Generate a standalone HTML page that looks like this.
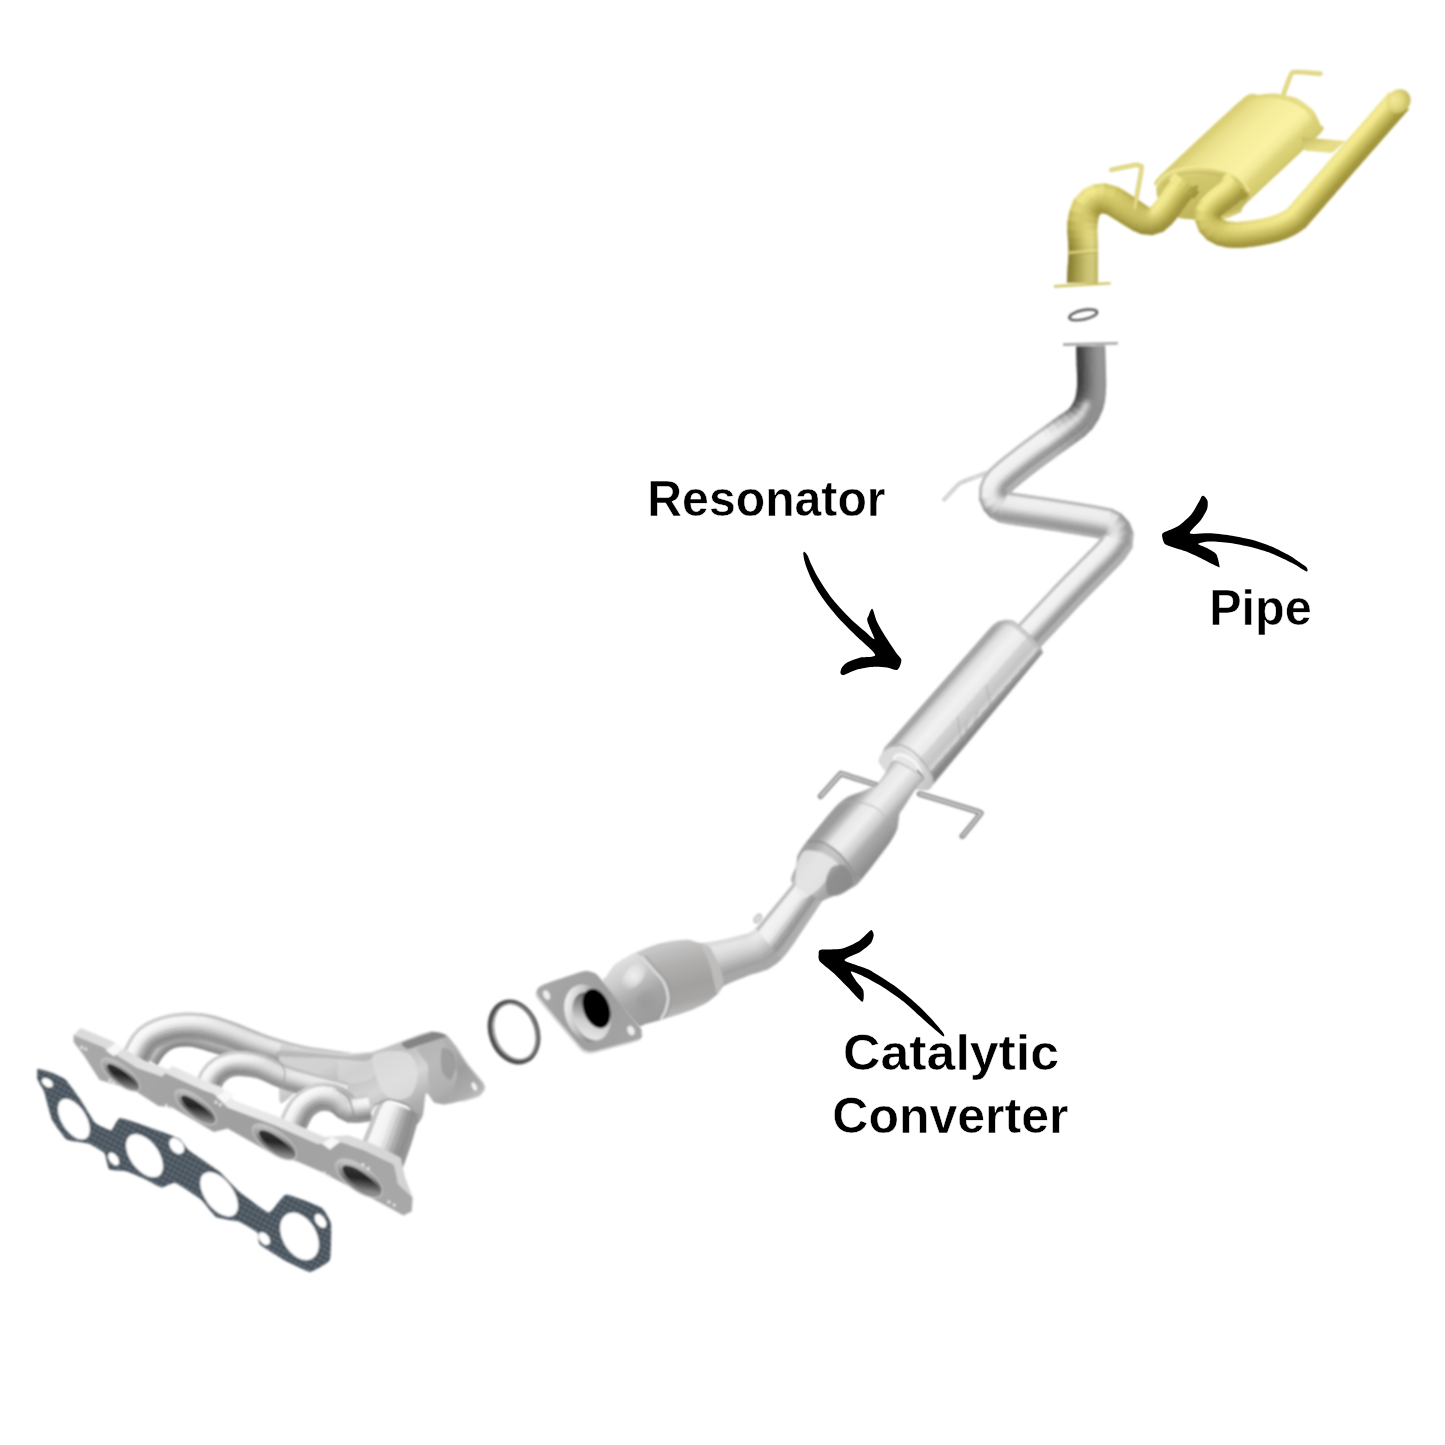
<!DOCTYPE html>
<html><head><meta charset="utf-8"><title>Exhaust system diagram</title>
<style>
html,body{margin:0;padding:0;background:#fff;}
body{width:1445px;height:1445px;overflow:hidden;font-family:"Liberation Sans",sans-serif;}
svg{display:block;}
text{font-family:"Liberation Sans",sans-serif;font-weight:bold;fill:#000;}
</style></head><body>
<svg width="1445" height="1445" viewBox="0 0 1445 1445">
<defs>
<filter id="soft" x="-5%" y="-5%" width="110%" height="110%"><feGaussianBlur stdDeviation="0.8"/></filter>
<filter id="soft2" x="-30%" y="-30%" width="160%" height="160%"><feGaussianBlur stdDeviation="2"/></filter>
<linearGradient id="g1" gradientUnits="userSpaceOnUse" x1="440" y1="1040" x2="480" y2="1100"><stop offset="0" stop-color="#b6b6b6"/><stop offset="0.5" stop-color="#9e9e9e"/><stop offset="0.8" stop-color="#acacac"/><stop offset="1" stop-color="#c4c4c4"/></linearGradient>
<linearGradient id="g2" gradientUnits="userSpaceOnUse" x1="380" y1="1040" x2="420" y2="1120"><stop offset="0" stop-color="#d2d2d2"/><stop offset="0.2" stop-color="#bebebe"/><stop offset="0.5" stop-color="#d6d6d6"/><stop offset="0.8" stop-color="#b0b0b0"/><stop offset="1" stop-color="#a2a2a2"/></linearGradient>
<linearGradient id="g3" gradientUnits="userSpaceOnUse" x1="60" y1="1030" x2="400" y2="1200"><stop offset="0" stop-color="#d8d8d8"/><stop offset="0.5" stop-color="#ebebeb"/><stop offset="1" stop-color="#d2d2d2"/></linearGradient>
<linearGradient id="g4" gradientUnits="userSpaceOnUse" x1="70" y1="1040" x2="400" y2="1210"><stop offset="0" stop-color="#aaaaaa"/><stop offset="0.5" stop-color="#a0a0a0"/><stop offset="1" stop-color="#a8a8a8"/></linearGradient>
<linearGradient id="g5" gradientUnits="userSpaceOnUse" x1="114.6" y1="1062.8" x2="125.6" y2="1086.8"><stop offset="0" stop-color="#c4c4c4"/><stop offset="0.3" stop-color="#a0a0a0"/><stop offset="0.6" stop-color="#6a6a6a"/><stop offset="1" stop-color="#8a8a8a"/></linearGradient>
<linearGradient id="g6" gradientUnits="userSpaceOnUse" x1="114.6" y1="1064.8" x2="126.6" y2="1086.8"><stop offset="0" stop-color="#3a3a3a"/><stop offset="0.5" stop-color="#242424"/><stop offset="0.8" stop-color="#5e5e5e"/><stop offset="1" stop-color="#8c8c8c"/></linearGradient>
<linearGradient id="g7" gradientUnits="userSpaceOnUse" x1="189.7" y1="1095.2" x2="200.7" y2="1119.2"><stop offset="0" stop-color="#c4c4c4"/><stop offset="0.3" stop-color="#a0a0a0"/><stop offset="0.6" stop-color="#6a6a6a"/><stop offset="1" stop-color="#8a8a8a"/></linearGradient>
<linearGradient id="g8" gradientUnits="userSpaceOnUse" x1="189.7" y1="1097.2" x2="201.7" y2="1119.2"><stop offset="0" stop-color="#3a3a3a"/><stop offset="0.5" stop-color="#242424"/><stop offset="0.8" stop-color="#5e5e5e"/><stop offset="1" stop-color="#8c8c8c"/></linearGradient>
<linearGradient id="g9" gradientUnits="userSpaceOnUse" x1="268.6" y1="1130" x2="279.6" y2="1154"><stop offset="0" stop-color="#c4c4c4"/><stop offset="0.3" stop-color="#a0a0a0"/><stop offset="0.6" stop-color="#6a6a6a"/><stop offset="1" stop-color="#8a8a8a"/></linearGradient>
<linearGradient id="g10" gradientUnits="userSpaceOnUse" x1="268.6" y1="1132" x2="280.6" y2="1154"><stop offset="0" stop-color="#3a3a3a"/><stop offset="0.5" stop-color="#242424"/><stop offset="0.8" stop-color="#5e5e5e"/><stop offset="1" stop-color="#8c8c8c"/></linearGradient>
<linearGradient id="g11" gradientUnits="userSpaceOnUse" x1="353.2" y1="1166.3" x2="364.2" y2="1190.3"><stop offset="0" stop-color="#c4c4c4"/><stop offset="0.3" stop-color="#a0a0a0"/><stop offset="0.6" stop-color="#6a6a6a"/><stop offset="1" stop-color="#8a8a8a"/></linearGradient>
<linearGradient id="g12" gradientUnits="userSpaceOnUse" x1="353.2" y1="1168.3" x2="365.2" y2="1190.3"><stop offset="0" stop-color="#3a3a3a"/><stop offset="0.5" stop-color="#242424"/><stop offset="0.8" stop-color="#5e5e5e"/><stop offset="1" stop-color="#8c8c8c"/></linearGradient>
<pattern id="gk" width="5" height="5" patternUnits="userSpaceOnUse" patternTransform="rotate(28)"><rect width="5" height="5" fill="#4a555e"/><rect width="5" height="1.8" fill="#6a767f"/><rect width="1.4" height="5" fill="#3c454d" opacity="0.8"/></pattern>
<linearGradient id="g13" gradientUnits="userSpaceOnUse" x1="1214.4" y1="129.2" x2="1269.6" y2="186.8"><stop offset="0" stop-color="#d9cf74"/><stop offset="0.1" stop-color="#e8de88"/><stop offset="0.3" stop-color="#f5ec9a"/><stop offset="0.6" stop-color="#faf2a4"/><stop offset="0.7" stop-color="#f2e996"/><stop offset="0.8" stop-color="#dcd278"/><stop offset="0.9" stop-color="#d6cc70"/><stop offset="1" stop-color="#c8bd62"/></linearGradient>
<linearGradient id="g14" gradientUnits="userSpaceOnUse" x1="1301" y1="140" x2="1305" y2="152"><stop offset="0" stop-color="#c9be64"/><stop offset="1" stop-color="#e6dc86"/></linearGradient>
<linearGradient id="g15" gradientUnits="userSpaceOnUse" x1="1195" y1="166" x2="1205" y2="222"><stop offset="0" stop-color="#e6dc86"/><stop offset="0.2" stop-color="#d2c86e"/><stop offset="0.6" stop-color="#c8bd64"/><stop offset="1" stop-color="#bcb15a"/></linearGradient>
<radialGradient id="g16" gradientUnits="userSpaceOnUse" cx="1396" cy="97" r="14"><stop offset="0" stop-color="#f3ea98"/><stop offset="0.6" stop-color="#e4da82"/><stop offset="1" stop-color="#cbc064"/></radialGradient>
<linearGradient id="g17" gradientUnits="userSpaceOnUse" x1="943.4" y1="681.8" x2="984.6" y2="718.2"><stop offset="0" stop-color="#a8a8a8"/><stop offset="0.1" stop-color="#a4a4a4"/><stop offset="0.1" stop-color="#b8b8b8"/><stop offset="0.2" stop-color="#e0e0e0"/><stop offset="0.4" stop-color="#f2f2f2"/><stop offset="0.6" stop-color="#e8e8e8"/><stop offset="0.6" stop-color="#b4b4b4"/><stop offset="0.6" stop-color="#d6d6d6"/><stop offset="0.8" stop-color="#c4c4c4"/><stop offset="0.9" stop-color="#dadada"/><stop offset="0.9" stop-color="#acacac"/><stop offset="1" stop-color="#868686"/></linearGradient>
<linearGradient id="g18" gradientUnits="userSpaceOnUse" x1="880" y1="760" x2="934" y2="790"><stop offset="0" stop-color="#d9d9d9"/><stop offset="0.5" stop-color="#e4e4e4"/><stop offset="1" stop-color="#bcbcbc"/></linearGradient>
<linearGradient id="g19" gradientUnits="userSpaceOnUse" x1="832" y1="823.5" x2="874" y2="860.5"><stop offset="0" stop-color="#9c9c9c"/><stop offset="0.1" stop-color="#bcbcbc"/><stop offset="0.2" stop-color="#e6e6e6"/><stop offset="0.4" stop-color="#f0f0f0"/><stop offset="0.6" stop-color="#cecece"/><stop offset="0.7" stop-color="#adadad"/><stop offset="0.9" stop-color="#989898"/><stop offset="1" stop-color="#8e8e8e"/></linearGradient>
<linearGradient id="g20" gradientUnits="userSpaceOnUse" x1="658.4" y1="947.3" x2="677.6" y2="1018.7"><stop offset="0" stop-color="#c8c8c8"/><stop offset="0.1" stop-color="#bebebe"/><stop offset="0.3" stop-color="#b0aeac"/><stop offset="0.6" stop-color="#a3a19f"/><stop offset="0.8" stop-color="#a8a6a4"/><stop offset="1" stop-color="#c2c2c2"/></linearGradient>
<linearGradient id="g21" gradientUnits="userSpaceOnUse" x1="625" y1="955" x2="660" y2="1020"><stop offset="0" stop-color="#e4e4e4"/><stop offset="0.3" stop-color="#cacaca"/><stop offset="0.6" stop-color="#a6a6a6"/><stop offset="1" stop-color="#9a9a9a"/></linearGradient>
<radialGradient id="g22" gradientUnits="userSpaceOnUse" cx="634" cy="976" r="16"><stop offset="0" stop-color="#f4f4f4" stop-opacity="0.9"/><stop offset="0.5" stop-color="#f0f0f0" stop-opacity="0.6"/><stop offset="1" stop-color="#f0f0f0" stop-opacity="0"/></radialGradient>
<radialGradient id="g23" gradientUnits="userSpaceOnUse" cx="646" cy="1003" r="15"><stop offset="0" stop-color="#969696" stop-opacity="0.7"/><stop offset="0.6" stop-color="#9a9a9a" stop-opacity="0.4"/><stop offset="1" stop-color="#9c9c9c" stop-opacity="0"/></radialGradient>
<linearGradient id="g24" gradientUnits="userSpaceOnUse" x1="540" y1="980" x2="640" y2="1050"><stop offset="0" stop-color="#a8a8a8"/><stop offset="0.5" stop-color="#9e9e9e"/><stop offset="1" stop-color="#a6a6a6"/></linearGradient>
<linearGradient id="g25" gradientUnits="userSpaceOnUse" x1="566" y1="1000" x2="610" y2="1030"><stop offset="0" stop-color="#f2f2f2"/><stop offset="0.3" stop-color="#c8c8c8"/><stop offset="0.6" stop-color="#8a8a8a"/><stop offset="1" stop-color="#d8d8d8"/></linearGradient>
<linearGradient id="g26" gradientUnits="userSpaceOnUse" x1="570" y1="1040" x2="600" y2="1000"><stop offset="0" stop-color="#f4f4f4"/><stop offset="0.5" stop-color="#cfcfcf"/><stop offset="1" stop-color="#6a6a6a"/></linearGradient>
</defs>
<g filter="url(#soft)">
<path d="M434.1,1032.2 C435.9,1031.5 444.2,1033.6 446.3,1035 C448.4,1036.3 453.1,1042.5 455.2,1045.5 C457.3,1048.4 464.6,1060.5 467.4,1064.3 C470.1,1068.1 481.2,1080.7 482.9,1083.1 C484.6,1085.6 484.7,1087.4 484.3,1088.7 C483.9,1089.9 481.2,1094.3 479,1095.5 C476.7,1096.8 465.2,1100.2 461.8,1101.1 C458.4,1101.9 448,1104.3 445.2,1104.4 C442.4,1104.5 435.8,1103.5 434.1,1102.2 C432.5,1100.8 428.9,1094.7 428.6,1090.9 C428.3,1087.1 430.8,1069.2 430.8,1064.3 C430.8,1059.4 428.3,1045.4 428.6,1042.1 C428.9,1038.9 432.4,1032.9 434.1,1032.2Z" fill="url(#g1)"/>
<path d="M455.2,1045.5 C456.4,1047.4 464.6,1060.5 467.4,1064.3 C470.1,1068.1 481.2,1080.7 482.9,1083.1 C484.6,1085.6 484.7,1087.4 484.3,1088.7 C483.9,1089.9 481.2,1094.3 479,1095.5 C476.7,1096.8 463.5,1100.5 461.8,1101.1" fill="none" stroke="#c8c8c8" stroke-width="1.6"/>
<ellipse cx="474.3" cy="1086.5" rx="2.2" ry="4.4" transform="rotate(-25 474.3 1086.5)" fill="#f4f4f4"/>
<path d="M157.6,1065.3L160.7,1060.1L164.8,1054.4L169,1050.8L174.4,1048.1L178.6,1047L184,1046.4L189.4,1046.5L194.9,1047.4L201.1,1049.1L208.1,1051.2L213.9,1052.9L220.1,1054.7L226.6,1056.7L233.1,1058.7L238.9,1060.5L245.1,1062.4L251.2,1064.4L256.5,1066L260.3,1067.2L263.7,1056.8L260.1,1055.5L254.8,1053.6L248.8,1051.5L242.6,1049.3L236.9,1047.3L230.4,1045L224,1042.8L217.8,1040.6L211.9,1038.8L204.7,1036.6L197.7,1034.7L190.6,1033.5L183.3,1033.4L176.3,1034.2L169.6,1035.9L161.8,1040L155.2,1045.6L149.8,1052.9L146.4,1058.7Z" fill="#a8a8a8"/>
<path d="M157.6,1065.3L155.2,1063.9L158.7,1058.1L161,1059.6Z" fill="#868686"/>
<path d="M155.4,1064L153,1062.6L156.5,1056.6L158.8,1058.2Z" fill="#919191"/>
<path d="M153.1,1062.7L150.7,1061.2L154.3,1055.2L156.7,1056.7Z" fill="#a8a8a8"/>
<path d="M150.9,1061.3L148.5,1059.9L152.2,1053.7L154.5,1055.3Z" fill="#c2c2c2"/>
<path d="M148.6,1060L146.4,1058.7L150.2,1052.4L152.3,1053.8Z" fill="#cacaca"/>
<path d="M160.7,1060.1L158.3,1058.6L163.1,1052.1L165.2,1053.9Z" fill="#868686"/>
<path d="M158.5,1058.7L156.2,1057.1L161.2,1050.3L163.3,1052.2Z" fill="#919191"/>
<path d="M156.3,1057.2L154,1055.7L159.3,1048.5L161.4,1050.4Z" fill="#a8a8a8"/>
<path d="M154.2,1055.8L151.8,1054.2L157.4,1046.8L159.4,1048.7Z" fill="#c3c3c3"/>
<path d="M152,1054.3L149.8,1052.9L155.6,1045.2L157.5,1046.9Z" fill="#cccccc"/>
<path d="M164.8,1054.4L162.7,1052.5L167.9,1048.1L169.5,1050.5Z" fill="#868686"/>
<path d="M162.9,1052.6L160.8,1050.7L166.5,1046L168,1048.3Z" fill="#919191"/>
<path d="M161,1050.9L158.9,1049L165,1043.8L166.6,1046.1Z" fill="#a8a8a8"/>
<path d="M159,1049.1L157,1047.2L163.6,1041.6L165.2,1044Z" fill="#c4c4c4"/>
<path d="M157.1,1047.4L155.2,1045.6L162.3,1039.6L163.7,1041.8Z" fill="#cecece"/>
<path d="M169,1050.8L167.4,1048.5L173.9,1045.2L174.9,1047.8Z" fill="#868686"/>
<path d="M167.5,1048.6L166,1046.3L173,1042.8L174,1045.4Z" fill="#919191"/>
<path d="M166.1,1046.5L164.5,1044.1L172,1040.4L173,1043Z" fill="#a8a8a8"/>
<path d="M164.7,1044.3L163.1,1042L171.1,1038L172.1,1040.6Z" fill="#c3c3c3"/>
<path d="M163.2,1042.1L161.8,1040L170.2,1035.7L171.1,1038.2Z" fill="#cccccc"/>
<path d="M174.4,1048.1L173.4,1045.4L178.7,1044.2L179.2,1046.9Z" fill="#868686"/>
<path d="M173.4,1045.6L172.4,1043L178.3,1041.6L178.8,1044.4Z" fill="#919191"/>
<path d="M172.5,1043.2L171.5,1040.6L177.8,1039.1L178.3,1041.8Z" fill="#a8a8a8"/>
<path d="M171.5,1040.8L170.5,1038.2L177.4,1036.5L177.8,1039.2Z" fill="#c1c1c1"/>
<path d="M170.6,1038.4L169.6,1035.9L176.9,1034.1L177.4,1036.7Z" fill="#c7c7c7"/>
<path d="M178.6,1047L178.1,1044.3L184.4,1043.6L184.6,1046.4Z" fill="#868686"/>
<path d="M178.2,1044.5L177.7,1041.7L184.3,1041L184.4,1043.8Z" fill="#929292"/>
<path d="M177.7,1041.9L177.2,1039.2L184.2,1038.4L184.3,1041.2Z" fill="#a8a8a8"/>
<path d="M177.3,1039.3L176.8,1036.6L184,1035.8L184.2,1038.6Z" fill="#bebebe"/>
<path d="M176.8,1036.8L176.3,1034.2L183.9,1033.4L184,1036Z" fill="#c0c0c0"/>
<path d="M184,1046.4L183.8,1043.6L190.3,1043.7L190,1046.5Z" fill="#868686"/>
<path d="M183.8,1043.8L183.7,1041L190.5,1041.2L190.3,1043.9Z" fill="#949494"/>
<path d="M183.7,1041.2L183.6,1038.4L190.7,1038.6L190.5,1041.3Z" fill="#a8a8a8"/>
<path d="M183.6,1038.6L183.4,1035.8L191,1036L190.7,1038.8Z" fill="#bbbbbb"/>
<path d="M183.4,1036L183.3,1033.4L191.2,1033.6L190.9,1036.2Z" fill="#bbbbbb"/>
<path d="M189.4,1046.5L189.7,1043.7L196.1,1044.8L195.5,1047.5Z" fill="#878787"/>
<path d="M189.7,1043.9L189.9,1041.1L196.7,1042.2L196.1,1045Z" fill="#969696"/>
<path d="M189.9,1041.3L190.1,1038.5L197.2,1039.7L196.6,1042.4Z" fill="#a8a8a8"/>
<path d="M190.1,1038.7L190.4,1035.9L197.8,1037.2L197.2,1039.9Z" fill="#b8b8b8"/>
<path d="M190.3,1036.1L190.6,1033.5L198.3,1034.8L197.8,1037.3Z" fill="#b4b4b4"/>
<path d="M194.9,1047.4L195.5,1044.7L202.4,1046.6L201.6,1049.3Z" fill="#888888"/>
<path d="M195.5,1044.9L196.1,1042.1L203.2,1044.1L202.4,1046.8Z" fill="#979797"/>
<path d="M196.1,1042.3L196.7,1039.6L203.9,1041.6L203.1,1044.3Z" fill="#a8a8a8"/>
<path d="M196.6,1039.8L197.2,1037L204.6,1039.1L203.8,1041.8Z" fill="#b5b5b5"/>
<path d="M197.2,1037.2L197.7,1034.7L205.3,1036.7L204.6,1039.3Z" fill="#afafaf"/>
<path d="M201.1,1049.1L201.9,1046.4L209.5,1048.7L208.7,1051.4Z" fill="#898989"/>
<path d="M201.8,1046.6L202.6,1043.9L210.3,1046.2L209.4,1048.9Z" fill="#989898"/>
<path d="M202.5,1044.1L203.3,1041.4L211,1043.7L210.2,1046.4Z" fill="#a8a8a8"/>
<path d="M203.3,1041.6L204,1038.9L211.8,1041.3L211,1043.9Z" fill="#b4b4b4"/>
<path d="M204,1039.1L204.7,1036.6L212.5,1039L211.7,1041.4Z" fill="#adadad"/>
<path d="M208.1,1051.2L208.9,1048.5L215.3,1050.4L214.5,1053.1Z" fill="#898989"/>
<path d="M208.9,1048.7L209.7,1046.1L216.1,1048L215.3,1050.6Z" fill="#989898"/>
<path d="M209.6,1046.2L210.4,1043.6L216.9,1045.5L216,1048.2Z" fill="#a8a8a8"/>
<path d="M210.4,1043.8L211.2,1041.1L217.6,1043.1L216.8,1045.7Z" fill="#b4b4b4"/>
<path d="M211.1,1041.3L211.9,1038.8L218.3,1040.8L217.6,1043.3Z" fill="#acacac"/>
<path d="M213.9,1052.9L214.8,1050.3L221.5,1052.3L220.7,1054.9Z" fill="#898989"/>
<path d="M214.7,1050.4L215.5,1047.8L222.3,1050L221.5,1052.5Z" fill="#989898"/>
<path d="M215.5,1048L216.3,1045.4L223.1,1047.6L222.2,1050.1Z" fill="#a8a8a8"/>
<path d="M216.2,1045.5L217.1,1042.9L223.9,1045.2L223,1047.7Z" fill="#b4b4b4"/>
<path d="M217,1043.1L217.8,1040.6L224.6,1043L223.8,1045.3Z" fill="#acacac"/>
<path d="M220.1,1054.7L221,1052.2L228,1054.4L227.1,1056.9Z" fill="#898989"/>
<path d="M220.9,1052.3L221.7,1049.8L228.7,1052L227.9,1054.5Z" fill="#999999"/>
<path d="M221.7,1049.9L222.5,1047.4L229.5,1049.7L228.7,1052.2Z" fill="#a8a8a8"/>
<path d="M222.4,1047.6L223.3,1045L230.3,1047.4L229.4,1049.9Z" fill="#b4b4b4"/>
<path d="M223.2,1045.2L224,1042.8L231,1045.2L230.2,1047.5Z" fill="#ababab"/>
<path d="M226.6,1056.7L227.4,1054.2L234.5,1056.4L233.7,1058.9Z" fill="#898989"/>
<path d="M227.3,1054.4L228.2,1051.9L235.3,1054.2L234.4,1056.6Z" fill="#999999"/>
<path d="M228.1,1052L228.9,1049.5L236,1051.9L235.2,1054.3Z" fill="#a8a8a8"/>
<path d="M228.9,1049.7L229.7,1047.2L236.8,1049.6L235.9,1052Z" fill="#b4b4b4"/>
<path d="M229.6,1047.4L230.4,1045L237.4,1047.5L236.7,1049.8Z" fill="#ababab"/>
<path d="M233.1,1058.7L233.9,1056.2L240.2,1058.3L239.4,1060.7Z" fill="#898989"/>
<path d="M233.9,1056.4L234.7,1054L241,1056L240.2,1058.4Z" fill="#999999"/>
<path d="M234.6,1054.1L235.4,1051.7L241.7,1053.8L240.9,1056.2Z" fill="#a8a8a8"/>
<path d="M235.4,1051.9L236.2,1049.4L242.4,1051.5L241.6,1054Z" fill="#b4b4b4"/>
<path d="M236.1,1049.6L236.9,1047.3L243.1,1049.5L242.4,1051.7Z" fill="#ababab"/>
<path d="M238.9,1060.5L239.6,1058.1L246.5,1060.3L245.7,1062.6Z" fill="#898989"/>
<path d="M239.6,1058.2L240.4,1055.8L247.2,1058.1L246.4,1060.4Z" fill="#999999"/>
<path d="M240.3,1056L241.1,1053.6L247.9,1055.9L247.2,1058.2Z" fill="#a8a8a8"/>
<path d="M241.1,1053.8L241.9,1051.4L248.7,1053.7L247.9,1056.1Z" fill="#b3b3b3"/>
<path d="M241.8,1051.5L242.6,1049.3L249.3,1051.7L248.6,1053.9Z" fill="#ababab"/>
<path d="M245.1,1062.4L245.9,1060.1L252.6,1062.3L251.8,1064.6Z" fill="#8a8a8a"/>
<path d="M245.9,1060.2L246.6,1057.9L253.3,1060.1L252.5,1062.4Z" fill="#999999"/>
<path d="M246.6,1058.1L247.4,1055.7L254,1058L253.3,1060.3Z" fill="#a8a8a8"/>
<path d="M247.3,1055.9L248.1,1053.5L254.8,1055.8L254,1058.1Z" fill="#b3b3b3"/>
<path d="M248,1053.7L248.8,1051.5L255.4,1053.8L254.7,1056Z" fill="#ababab"/>
<path d="M251.2,1064.4L252,1062.1L257.9,1064L257.1,1066.2Z" fill="#8a8a8a"/>
<path d="M252,1062.2L252.7,1059.9L258.6,1061.8L257.8,1064.1Z" fill="#999999"/>
<path d="M252.7,1060.1L253.5,1057.8L259.3,1059.7L258.5,1062Z" fill="#a8a8a8"/>
<path d="M253.4,1057.9L254.2,1055.6L260,1057.6L259.2,1059.9Z" fill="#b3b3b3"/>
<path d="M254.1,1055.8L254.8,1053.6L260.6,1055.7L259.9,1057.8Z" fill="#ababab"/>
<path d="M256.5,1066L257.3,1063.8L261.6,1065.2L260.8,1067.4Z" fill="#8a8a8a"/>
<path d="M257.2,1063.9L258,1061.7L262.3,1063.1L261.5,1065.3Z" fill="#999999"/>
<path d="M257.9,1061.8L258.7,1059.5L263,1061L262.2,1063.2Z" fill="#a8a8a8"/>
<path d="M258.6,1059.7L259.4,1057.4L263.7,1058.9L262.9,1061.1Z" fill="#b3b3b3"/>
<path d="M259.4,1057.6L260.1,1055.5L264.3,1057L263.6,1059.1Z" fill="#ababab"/>
<path d="M148.3,1062.9L150.2,1059.4L152.4,1054.9L154.6,1051.2L156.5,1049L159.3,1047.2L163.5,1045L168.6,1043L173.9,1041.5L178.3,1040.6L183.2,1040.1L188.3,1039.8L193.6,1039.8L198.6,1040.1L203.2,1040.7L207.7,1041.5L212.5,1042.7L217.7,1044.2L223.5,1045.9L228.5,1047.6L233.9,1049.6L239.7,1051.8L245.8,1054.2L252,1056.5L258.2,1058.6L264.2,1060.5L270.2,1062.2L276.2,1063.9L282.2,1065.4L288.2,1066.9L294.3,1068.2L300.5,1069.3L306.8,1070.3L312.9,1071.1L318.9,1071.8L324.6,1072.4L329.9,1073L336.4,1073.8L342.9,1074.5L349,1075.1L354.1,1075.6L357.8,1076L360.4,1054.2L356.8,1053.7L351.7,1053L345.7,1052.1L339.3,1051.2L332.9,1050.2L327.5,1049.4L321.9,1048.6L316.2,1047.8L310.4,1046.9L304.8,1045.9L299.3,1044.7L293.9,1043.4L288.4,1041.9L282.9,1040.3L277.3,1038.6L271.7,1036.8L266.2,1034.9L260.7,1032.9L255.1,1030.6L249.2,1028.2L243.3,1025.7L237.4,1023.3L231.7,1021.3L225.6,1019.2L219.8,1017.3L213.9,1015.6L207.7,1014.2L201.3,1013.2L194.7,1012.7L187.9,1012.6L181.1,1012.8L174.4,1013.5L167.8,1014.7L160.1,1016.7L152.5,1019.5L145.2,1023.1L138.1,1027.9L132.1,1034.5L127.9,1041.3L125.2,1046.7L123.5,1050Z" fill="#d4d4d4"/>
<path d="M148.3,1062.9L144.9,1061.1L146.9,1057.1L150.4,1058.8Z" fill="#969696"/>
<path d="M145.2,1061.3L141.8,1059.5L143.8,1055.5L147.3,1057.2Z" fill="#898989"/>
<path d="M142.1,1059.7L138.7,1057.9L140.7,1053.9L144.2,1055.7Z" fill="#a1a1a1"/>
<path d="M139,1058L135.5,1056.2L137.6,1052.3L141.1,1054.1Z" fill="#c0c0c0"/>
<path d="M135.9,1056.4L132.4,1054.6L134.5,1050.7L138,1052.5Z" fill="#e4e4e4"/>
<path d="M132.8,1054.8L129.3,1053L131.3,1049.1L134.8,1050.9Z" fill="#f5f5f5"/>
<path d="M129.7,1053.2L126.2,1051.4L128.2,1047.5L131.7,1049.3Z" fill="#f8f8f8"/>
<path d="M126.6,1051.6L123.5,1050L125.5,1046.1L128.6,1047.7Z" fill="#cdcdcd"/>
<path d="M150.2,1059.4L146.7,1057.6L149.3,1052.5L152.7,1054.4Z" fill="#969696"/>
<path d="M147.1,1057.8L143.6,1056L146.2,1050.8L149.6,1052.7Z" fill="#898989"/>
<path d="M143.9,1056.2L140.4,1054.4L143.1,1049.1L146.6,1051Z" fill="#a0a0a0"/>
<path d="M140.8,1054.6L137.3,1052.8L140.1,1047.4L143.5,1049.3Z" fill="#c0c0c0"/>
<path d="M137.7,1053L134.2,1051.2L137,1045.7L140.4,1047.6Z" fill="#e4e4e4"/>
<path d="M134.6,1051.4L131.1,1049.7L134,1044L137.4,1045.9Z" fill="#f5f5f5"/>
<path d="M131.4,1049.9L127.9,1048.1L130.9,1042.2L134.3,1044.2Z" fill="#f9f9f9"/>
<path d="M128.3,1048.3L125.2,1046.7L128.2,1040.7L131.3,1042.5Z" fill="#cdcdcd"/>
<path d="M152.4,1054.9L149,1053L151.8,1048.4L155,1050.7Z" fill="#969696"/>
<path d="M149.3,1053.2L145.9,1051.3L149,1046.3L152.2,1048.6Z" fill="#8a8a8a"/>
<path d="M146.3,1051.5L142.8,1049.6L146.2,1044.2L149.3,1046.5Z" fill="#a0a0a0"/>
<path d="M143.2,1049.8L139.8,1047.9L143.4,1042.1L146.5,1044.4Z" fill="#c0c0c0"/>
<path d="M140.2,1048.1L136.7,1046.2L140.6,1040L143.7,1042.3Z" fill="#e4e4e4"/>
<path d="M137.1,1046.4L133.7,1044.5L137.8,1037.9L140.9,1040.3Z" fill="#f5f5f5"/>
<path d="M134,1044.7L130.6,1042.8L134.9,1035.8L138.1,1038.2Z" fill="#f9f9f9"/>
<path d="M131,1043L127.9,1041.3L132.5,1034L135.3,1036.1Z" fill="#cdcdcd"/>
<path d="M154.6,1051.2L151.5,1048.9L154.4,1045.7L157,1048.6Z" fill="#969696"/>
<path d="M151.8,1049.1L148.6,1046.8L152.1,1043L154.7,1046Z" fill="#8c8c8c"/>
<path d="M149,1047L145.8,1044.7L149.8,1040.4L152.4,1043.3Z" fill="#9e9e9e"/>
<path d="M146.2,1044.9L143,1042.6L147.5,1037.7L150.1,1040.7Z" fill="#bfbfbf"/>
<path d="M143.4,1042.8L140.2,1040.5L145.2,1035.1L147.8,1038Z" fill="#e5e5e5"/>
<path d="M140.6,1040.7L137.4,1038.4L142.9,1032.5L145.5,1035.4Z" fill="#f6f6f6"/>
<path d="M137.7,1038.6L134.6,1036.3L140.6,1029.8L143.2,1032.8Z" fill="#fafafa"/>
<path d="M134.9,1036.6L132.1,1034.5L138.6,1027.5L140.9,1030.1Z" fill="#cecece"/>
<path d="M156.5,1049L154,1046L157.8,1043.5L159.8,1046.8Z" fill="#969696"/>
<path d="M154.2,1046.4L151.7,1043.4L156.1,1040.5L158,1043.8Z" fill="#8c8c8c"/>
<path d="M151.9,1043.7L149.4,1040.8L154.3,1037.4L156.3,1040.8Z" fill="#9e9e9e"/>
<path d="M149.6,1041.1L147.1,1038.1L152.5,1034.4L154.5,1037.8Z" fill="#bfbfbf"/>
<path d="M147.3,1038.4L144.8,1035.5L150.8,1031.4L152.8,1034.8Z" fill="#e5e5e5"/>
<path d="M145,1035.8L142.5,1032.8L149,1028.4L151,1031.8Z" fill="#f6f6f6"/>
<path d="M142.7,1033.2L140.2,1030.2L147.3,1025.4L149.2,1028.8Z" fill="#fafafa"/>
<path d="M140.4,1030.5L138.1,1027.9L145.7,1022.7L147.5,1025.8Z" fill="#cecece"/>
<path d="M159.3,1047.2L157.3,1043.8L162.5,1041.1L164.1,1044.7Z" fill="#969696"/>
<path d="M157.5,1044.1L155.5,1040.8L161.2,1038L162.7,1041.5Z" fill="#8b8b8b"/>
<path d="M155.8,1041.1L153.8,1037.8L159.8,1034.8L161.3,1038.3Z" fill="#9f9f9f"/>
<path d="M154,1038.1L152,1034.7L158.4,1031.6L159.9,1035.2Z" fill="#bfbfbf"/>
<path d="M152.2,1035.1L150.3,1031.7L157,1028.4L158.5,1032Z" fill="#e5e5e5"/>
<path d="M150.5,1032.1L148.5,1028.7L155.6,1025.2L157.2,1028.8Z" fill="#f6f6f6"/>
<path d="M148.7,1029.1L146.7,1025.7L154.2,1022L155.8,1025.6Z" fill="#fafafa"/>
<path d="M147,1026.1L145.2,1023.1L153,1019.2L154.4,1022.4Z" fill="#cecece"/>
<path d="M163.5,1045L162,1041.4L167.9,1039.1L169.1,1042.8Z" fill="#969696"/>
<path d="M162.2,1041.8L160.6,1038.2L166.9,1035.8L168.1,1039.5Z" fill="#8a8a8a"/>
<path d="M160.8,1038.6L159.2,1035L165.8,1032.6L167,1036.2Z" fill="#a0a0a0"/>
<path d="M159.4,1035.4L157.8,1031.8L164.8,1029.3L165.9,1032.9Z" fill="#c0c0c0"/>
<path d="M158,1032.2L156.4,1028.6L163.7,1026L164.9,1029.7Z" fill="#e4e4e4"/>
<path d="M156.6,1029L155.1,1025.5L162.6,1022.7L163.8,1026.4Z" fill="#f5f5f5"/>
<path d="M155.2,1025.8L153.7,1022.3L161.6,1019.4L162.8,1023.1Z" fill="#f9f9f9"/>
<path d="M153.8,1022.7L152.5,1019.5L160.6,1016.5L161.7,1019.8Z" fill="#cdcdcd"/>
<path d="M168.6,1043L167.4,1039.3L173.7,1037.6L174.5,1041.3Z" fill="#969696"/>
<path d="M167.5,1039.7L166.3,1036L172.9,1034.2L173.8,1038Z" fill="#898989"/>
<path d="M166.4,1036.4L165.2,1032.7L172.1,1030.9L173,1034.6Z" fill="#a1a1a1"/>
<path d="M165.4,1033.1L164.2,1029.5L171.4,1027.5L172.2,1031.3Z" fill="#c1c1c1"/>
<path d="M164.3,1029.8L163.1,1026.2L170.6,1024.2L171.4,1027.9Z" fill="#e4e4e4"/>
<path d="M163.2,1026.6L162.1,1022.9L169.8,1020.8L170.7,1024.6Z" fill="#f5f5f5"/>
<path d="M162.2,1023.3L161,1019.6L169,1017.5L169.9,1021.2Z" fill="#f8f8f8"/>
<path d="M161.1,1020L160.1,1016.7L168.4,1014.5L169.1,1017.9Z" fill="#cdcdcd"/>
<path d="M173.9,1041.5L173.1,1037.7L178.3,1036.8L178.9,1040.6Z" fill="#969696"/>
<path d="M173.2,1038.1L172.3,1034.4L177.8,1033.4L178.4,1037.2Z" fill="#898989"/>
<path d="M172.4,1034.8L171.5,1031L177.4,1030L177.9,1033.8Z" fill="#a2a2a2"/>
<path d="M171.6,1031.4L170.8,1027.7L176.9,1026.6L177.4,1030.4Z" fill="#c1c1c1"/>
<path d="M170.9,1028.1L170,1024.3L176.4,1023.2L176.9,1027Z" fill="#e3e3e3"/>
<path d="M170.1,1024.7L169.2,1021L175.9,1019.8L176.5,1023.6Z" fill="#f4f4f4"/>
<path d="M169.3,1021.4L168.5,1017.6L175.4,1016.4L176,1020.2Z" fill="#f7f7f7"/>
<path d="M168.6,1018L167.8,1014.7L175,1013.4L175.5,1016.8Z" fill="#cccccc"/>
<path d="M178.3,1040.6L177.7,1036.8L183.5,1036.2L183.8,1040Z" fill="#969696"/>
<path d="M177.8,1037.3L177.2,1033.5L183.2,1032.8L183.5,1036.6Z" fill="#8a8a8a"/>
<path d="M177.3,1033.9L176.8,1030.1L183,1029.4L183.3,1033.2Z" fill="#a3a3a3"/>
<path d="M176.8,1030.5L176.3,1026.7L182.7,1026L183,1029.8Z" fill="#c2c2c2"/>
<path d="M176.3,1027.1L175.8,1023.3L182.5,1022.6L182.8,1026.4Z" fill="#e2e2e2"/>
<path d="M175.9,1023.7L175.3,1019.9L182.2,1019.2L182.5,1023Z" fill="#f3f3f3"/>
<path d="M175.4,1020.3L174.8,1016.5L182,1015.8L182.3,1019.6Z" fill="#f6f6f6"/>
<path d="M174.9,1016.9L174.4,1013.5L181.7,1012.8L182,1016.2Z" fill="#cccccc"/>
<path d="M183.2,1040.1L182.9,1036.3L188.9,1036L188.9,1039.8Z" fill="#969696"/>
<path d="M182.9,1036.7L182.6,1032.9L188.8,1032.6L188.9,1036.4Z" fill="#8c8c8c"/>
<path d="M182.7,1033.3L182.4,1029.5L188.8,1029.2L188.8,1033Z" fill="#a4a4a4"/>
<path d="M182.4,1029.9L182.1,1026.1L188.7,1025.8L188.8,1029.6Z" fill="#c3c3c3"/>
<path d="M182.2,1026.5L181.9,1022.6L188.7,1022.4L188.7,1026.2Z" fill="#e2e2e2"/>
<path d="M181.9,1023.1L181.6,1019.2L188.6,1019L188.7,1022.8Z" fill="#f3f3f3"/>
<path d="M181.7,1019.7L181.4,1015.8L188.6,1015.6L188.6,1019.4Z" fill="#f5f5f5"/>
<path d="M181.4,1016.2L181.1,1012.8L188.5,1012.6L188.6,1016Z" fill="#cbcbcb"/>
<path d="M188.3,1039.8L188.3,1036L194.3,1036.1L194.2,1039.9Z" fill="#969696"/>
<path d="M188.3,1036.4L188.2,1032.6L194.5,1032.7L194.3,1036.5Z" fill="#8d8d8d"/>
<path d="M188.2,1033L188.2,1029.2L194.6,1029.3L194.4,1033.1Z" fill="#a6a6a6"/>
<path d="M188.2,1029.6L188.1,1025.8L194.7,1025.9L194.6,1029.7Z" fill="#c3c3c3"/>
<path d="M188.1,1026.2L188.1,1022.4L194.9,1022.5L194.7,1026.3Z" fill="#e1e1e1"/>
<path d="M188.1,1022.8L188,1019L195,1019.1L194.9,1022.9Z" fill="#f2f2f2"/>
<path d="M188,1019.4L188,1015.6L195.1,1015.7L195,1019.5Z" fill="#f4f4f4"/>
<path d="M188,1016L187.9,1012.6L195.3,1012.7L195.1,1016.1Z" fill="#c9c9c9"/>
<path d="M193.6,1039.8L193.7,1036L199.5,1036.4L199.2,1040.2Z" fill="#969696"/>
<path d="M193.7,1036.4L193.9,1032.7L199.9,1033.1L199.5,1036.8Z" fill="#8f8f8f"/>
<path d="M193.8,1033.1L194,1029.3L200.2,1029.7L199.8,1033.5Z" fill="#a7a7a7"/>
<path d="M194,1029.7L194.1,1025.9L200.6,1026.3L200.2,1030.1Z" fill="#c4c4c4"/>
<path d="M194.1,1026.3L194.3,1022.5L200.9,1023L200.5,1026.7Z" fill="#e0e0e0"/>
<path d="M194.3,1022.9L194.4,1019.1L201.3,1019.6L200.9,1023.4Z" fill="#f1f1f1"/>
<path d="M194.4,1019.5L194.5,1015.7L201.6,1016.3L201.2,1020Z" fill="#f3f3f3"/>
<path d="M194.5,1016.1L194.7,1012.7L201.9,1013.3L201.6,1016.7Z" fill="#c7c7c7"/>
<path d="M198.6,1040.1L198.9,1036.3L204.4,1037.1L203.8,1040.8Z" fill="#969696"/>
<path d="M198.9,1036.8L199.3,1033L205,1033.7L204.3,1037.4Z" fill="#919191"/>
<path d="M199.2,1033.4L199.6,1029.6L205.5,1030.4L204.9,1034.1Z" fill="#a8a8a8"/>
<path d="M199.6,1030L200,1026.3L206.1,1027.1L205.5,1030.8Z" fill="#c5c5c5"/>
<path d="M199.9,1026.7L200.3,1022.9L206.7,1023.8L206,1027.5Z" fill="#dfdfdf"/>
<path d="M200.3,1023.3L200.7,1019.6L207.2,1020.5L206.6,1024.2Z" fill="#eeeeee"/>
<path d="M200.6,1020L201,1016.2L207.8,1017.2L207.2,1020.9Z" fill="#f2f2f2"/>
<path d="M201,1016.6L201.3,1013.2L208.3,1014.3L207.7,1017.6Z" fill="#c5c5c5"/>
<path d="M203.2,1040.7L203.8,1036.9L209.1,1038L208.3,1041.6Z" fill="#969696"/>
<path d="M203.7,1037.3L204.4,1033.6L209.9,1034.8L209,1038.4Z" fill="#939393"/>
<path d="M204.3,1034L204.9,1030.3L210.7,1031.5L209.8,1035.2Z" fill="#aaaaaa"/>
<path d="M204.9,1030.7L205.5,1027L211.4,1028.3L210.6,1031.9Z" fill="#c6c6c6"/>
<path d="M205.4,1027.4L206.1,1023.7L212.2,1025.1L211.4,1028.7Z" fill="#dedede"/>
<path d="M206,1024.1L206.7,1020.4L213,1021.8L212.1,1025.5Z" fill="#ececec"/>
<path d="M206.6,1020.8L207.2,1017.1L213.8,1018.6L212.9,1022.2Z" fill="#eeeeee"/>
<path d="M207.2,1017.5L207.7,1014.2L214.5,1015.7L213.7,1019Z" fill="#c3c3c3"/>
<path d="M207.7,1041.5L208.5,1037.9L214.1,1039.3L213,1042.8Z" fill="#969696"/>
<path d="M208.4,1038.3L209.3,1034.6L215,1036.1L213.9,1039.7Z" fill="#949494"/>
<path d="M209.2,1035L210.1,1031.4L215.9,1032.9L214.9,1036.5Z" fill="#ababab"/>
<path d="M210,1031.8L210.9,1028.2L216.8,1029.8L215.8,1033.3Z" fill="#c7c7c7"/>
<path d="M210.8,1028.5L211.6,1024.9L217.7,1026.6L216.7,1030.1Z" fill="#dedede"/>
<path d="M211.5,1025.3L212.4,1021.7L218.6,1023.4L217.6,1027Z" fill="#e9e9e9"/>
<path d="M212.3,1022.1L213.2,1018.4L219.5,1020.2L218.5,1023.8Z" fill="#eaeaea"/>
<path d="M213.1,1018.8L213.9,1015.6L220.3,1017.5L219.4,1020.6Z" fill="#c0c0c0"/>
<path d="M212.5,1042.7L213.5,1039.1L219.4,1040.9L218.3,1044.4Z" fill="#969696"/>
<path d="M213.4,1039.5L214.4,1036L220.4,1037.7L219.3,1041.2Z" fill="#959595"/>
<path d="M214.3,1036.3L215.3,1032.8L221.4,1034.6L220.3,1038.1Z" fill="#acacac"/>
<path d="M215.2,1033.2L216.2,1029.6L222.3,1031.5L221.2,1035Z" fill="#c8c8c8"/>
<path d="M216.1,1030L217.1,1026.4L223.3,1028.4L222.2,1031.9Z" fill="#dddddd"/>
<path d="M217,1026.8L218,1023.3L224.3,1025.2L223.2,1028.7Z" fill="#e8e8e8"/>
<path d="M217.9,1023.6L219,1020.1L225.3,1022.1L224.2,1025.6Z" fill="#e7e7e7"/>
<path d="M218.8,1020.5L219.8,1017.3L226.2,1019.4L225.2,1022.5Z" fill="#bfbfbf"/>
<path d="M217.7,1044.2L218.8,1040.7L225.2,1042.7L224.1,1046.1Z" fill="#969696"/>
<path d="M218.7,1041.1L219.8,1037.6L226.2,1039.6L225.1,1043Z" fill="#969696"/>
<path d="M219.7,1037.9L220.8,1034.4L227.3,1036.5L226.1,1040Z" fill="#adadad"/>
<path d="M220.7,1034.8L221.8,1031.3L228.3,1033.4L227.2,1036.9Z" fill="#c8c8c8"/>
<path d="M221.7,1031.7L222.8,1028.2L229.3,1030.3L228.2,1033.8Z" fill="#dddddd"/>
<path d="M222.6,1028.6L223.7,1025.1L230.4,1027.3L229.2,1030.7Z" fill="#e7e7e7"/>
<path d="M223.6,1025.4L224.7,1021.9L231.4,1024.2L230.2,1027.6Z" fill="#e6e6e6"/>
<path d="M224.6,1022.3L225.6,1019.2L232.3,1021.5L231.3,1024.5Z" fill="#bebebe"/>
<path d="M223.5,1045.9L224.6,1042.5L230.3,1044.4L229.1,1047.8Z" fill="#959595"/>
<path d="M224.5,1042.8L225.7,1039.4L231.4,1041.4L230.2,1044.8Z" fill="#979797"/>
<path d="M225.6,1039.8L226.7,1036.3L232.6,1038.3L231.3,1041.7Z" fill="#adadad"/>
<path d="M226.6,1036.7L227.7,1033.2L233.7,1035.3L232.4,1038.7Z" fill="#c8c8c8"/>
<path d="M227.6,1033.6L228.8,1030.1L234.8,1032.3L233.5,1035.7Z" fill="#dddddd"/>
<path d="M228.6,1030.5L229.8,1027.1L235.9,1029.3L234.7,1032.6Z" fill="#e6e6e6"/>
<path d="M229.7,1027.4L230.8,1024L237,1026.2L235.8,1029.6Z" fill="#e4e4e4"/>
<path d="M230.7,1024.4L231.7,1021.3L238,1023.6L236.9,1026.6Z" fill="#bdbdbd"/>
<path d="M228.5,1047.6L229.8,1044.2L235.8,1046.5L234.5,1049.8Z" fill="#939393"/>
<path d="M229.6,1044.6L230.9,1041.2L237,1043.5L235.7,1046.8Z" fill="#989898"/>
<path d="M230.8,1041.5L232,1038.1L238.2,1040.5L236.8,1043.8Z" fill="#aeaeae"/>
<path d="M231.9,1038.5L233.1,1035.1L239.3,1037.5L238,1040.9Z" fill="#c9c9c9"/>
<path d="M233,1035.5L234.2,1032.1L240.5,1034.5L239.2,1037.9Z" fill="#dcdcdc"/>
<path d="M234.1,1032.4L235.3,1029L241.7,1031.5L240.4,1034.9Z" fill="#e5e5e5"/>
<path d="M235.2,1029.4L236.5,1026L242.9,1028.6L241.5,1031.9Z" fill="#e2e2e2"/>
<path d="M236.3,1026.4L237.4,1023.3L243.9,1025.9L242.7,1028.9Z" fill="#bcbcbc"/>
<path d="M233.9,1049.6L235.2,1046.2L241.6,1048.7L240.3,1052.1Z" fill="#939393"/>
<path d="M235.1,1046.6L236.4,1043.3L242.8,1045.8L241.5,1049.1Z" fill="#989898"/>
<path d="M236.3,1043.6L237.6,1040.3L244,1042.8L242.7,1046.1Z" fill="#afafaf"/>
<path d="M237.5,1040.6L238.8,1037.3L245.2,1039.9L243.8,1043.2Z" fill="#c9c9c9"/>
<path d="M238.6,1037.6L240,1034.3L246.4,1036.9L245,1040.2Z" fill="#dcdcdc"/>
<path d="M239.8,1034.7L241.1,1031.3L247.6,1034L246.2,1037.3Z" fill="#e4e4e4"/>
<path d="M241,1031.7L242.3,1028.3L248.7,1031L247.4,1034.3Z" fill="#e1e1e1"/>
<path d="M242.2,1028.7L243.3,1025.7L249.8,1028.4L248.6,1031.4Z" fill="#bbbbbb"/>
<path d="M239.7,1051.8L241.1,1048.5L247.6,1051.1L246.3,1054.4Z" fill="#929292"/>
<path d="M240.9,1048.9L242.2,1045.6L248.8,1048.1L247.5,1051.4Z" fill="#989898"/>
<path d="M242.1,1045.9L243.4,1042.6L250,1045.2L248.7,1048.5Z" fill="#afafaf"/>
<path d="M243.3,1043L244.6,1039.6L251.1,1042.3L249.8,1045.6Z" fill="#c9c9c9"/>
<path d="M244.5,1040L245.8,1036.7L252.3,1039.3L251,1042.6Z" fill="#dcdcdc"/>
<path d="M245.7,1037L247,1033.7L253.4,1036.4L252.1,1039.7Z" fill="#e4e4e4"/>
<path d="M246.9,1034.1L248.2,1030.8L254.6,1033.4L253.3,1036.7Z" fill="#e1e1e1"/>
<path d="M248,1031.1L249.2,1028.2L255.6,1030.8L254.5,1033.8Z" fill="#bbbbbb"/>
<path d="M245.8,1054.2L247.1,1050.9L253.8,1053.4L252.6,1056.7Z" fill="#939393"/>
<path d="M246.9,1051.2L248.2,1047.9L254.9,1050.4L253.7,1053.7Z" fill="#989898"/>
<path d="M248.1,1048.3L249.4,1045L256,1047.5L254.7,1050.8Z" fill="#aeaeae"/>
<path d="M249.3,1045.3L250.6,1042L257.1,1044.5L255.8,1047.8Z" fill="#c9c9c9"/>
<path d="M250.4,1042.4L251.7,1039.1L258.2,1041.6L256.9,1044.9Z" fill="#dcdcdc"/>
<path d="M251.6,1039.4L252.9,1036.1L259.2,1038.6L258,1041.9Z" fill="#e5e5e5"/>
<path d="M252.7,1036.5L254,1033.2L260.3,1035.7L259.1,1039Z" fill="#e2e2e2"/>
<path d="M253.9,1033.6L255.1,1030.6L261.3,1033.1L260.2,1036Z" fill="#bcbcbc"/>
<path d="M252,1056.5L253.2,1053.2L259.9,1055.5L258.8,1058.8Z" fill="#949494"/>
<path d="M253.1,1053.5L254.3,1050.2L260.9,1052.5L259.8,1055.8Z" fill="#979797"/>
<path d="M254.2,1050.6L255.4,1047.3L261.9,1049.5L260.8,1052.9Z" fill="#adadad"/>
<path d="M255.3,1047.6L256.5,1044.3L262.9,1046.6L261.8,1049.9Z" fill="#c8c8c8"/>
<path d="M256.4,1044.7L257.6,1041.4L263.9,1043.6L262.8,1046.9Z" fill="#dcdcdc"/>
<path d="M257.5,1041.7L258.7,1038.4L264.9,1040.7L263.8,1044Z" fill="#e6e6e6"/>
<path d="M258.5,1038.8L259.8,1035.5L265.9,1037.7L264.8,1041Z" fill="#e4e4e4"/>
<path d="M259.6,1035.8L260.7,1032.9L266.8,1035.1L265.8,1038.1Z" fill="#bdbdbd"/>
<path d="M258.2,1058.6L259.3,1055.3L265.9,1057.3L264.8,1060.6Z" fill="#969696"/>
<path d="M259.2,1055.6L260.3,1052.3L266.8,1054.4L265.7,1057.7Z" fill="#969696"/>
<path d="M260.2,1052.7L261.3,1049.4L267.7,1051.4L266.7,1054.7Z" fill="#adadad"/>
<path d="M261.2,1049.7L262.3,1046.4L268.7,1048.4L267.6,1051.8Z" fill="#c8c8c8"/>
<path d="M262.2,1046.7L263.3,1043.4L269.6,1045.5L268.6,1048.8Z" fill="#dddddd"/>
<path d="M263.2,1043.8L264.3,1040.5L270.5,1042.5L269.5,1045.8Z" fill="#e7e7e7"/>
<path d="M264.2,1040.8L265.3,1037.5L271.5,1039.6L270.4,1042.9Z" fill="#e6e6e6"/>
<path d="M265.2,1037.9L266.2,1034.9L272.3,1037L271.4,1039.9Z" fill="#bebebe"/>
<path d="M264.2,1060.5L265.3,1057.1L271.8,1059.1L270.8,1062.4Z" fill="#969696"/>
<path d="M265.2,1057.5L266.2,1054.2L272.7,1056.1L271.7,1059.4Z" fill="#969696"/>
<path d="M266.1,1054.5L267.2,1051.2L273.5,1053.2L272.5,1056.5Z" fill="#acacac"/>
<path d="M267,1051.6L268.1,1048.3L274.4,1050.2L273.4,1053.5Z" fill="#c8c8c8"/>
<path d="M268,1048.6L269,1045.3L275.3,1047.3L274.3,1050.6Z" fill="#dddddd"/>
<path d="M268.9,1045.7L270,1042.3L276.2,1044.3L275.2,1047.6Z" fill="#e8e8e8"/>
<path d="M269.9,1042.7L270.9,1039.4L277.1,1041.4L276.1,1044.7Z" fill="#e7e7e7"/>
<path d="M270.8,1039.7L271.7,1036.8L277.9,1038.8L277,1041.7Z" fill="#bfbfbf"/>
<path d="M270.2,1062.2L271.2,1058.9L277.7,1060.7L276.8,1064Z" fill="#969696"/>
<path d="M271.1,1059.3L272.1,1056L278.5,1057.8L277.6,1061.1Z" fill="#959595"/>
<path d="M272,1056.3L273,1053L279.4,1054.8L278.4,1058.1Z" fill="#acacac"/>
<path d="M272.9,1053.4L273.9,1050L280.2,1051.9L279.3,1055.2Z" fill="#c7c7c7"/>
<path d="M273.7,1050.4L274.7,1047.1L281,1049L280.1,1052.3Z" fill="#dddddd"/>
<path d="M274.6,1047.4L275.6,1044.1L281.9,1046L280.9,1049.3Z" fill="#e8e8e8"/>
<path d="M275.5,1044.5L276.5,1041.2L282.7,1043.1L281.8,1046.4Z" fill="#e8e8e8"/>
<path d="M276.4,1041.5L277.3,1038.6L283.4,1040.5L282.6,1043.4Z" fill="#bfbfbf"/>
<path d="M276.2,1063.9L277.1,1060.6L283.6,1062.3L282.8,1065.6Z" fill="#969696"/>
<path d="M277,1060.9L277.9,1057.6L284.4,1059.4L283.5,1062.6Z" fill="#959595"/>
<path d="M277.8,1058L278.8,1054.7L285.2,1056.4L284.3,1059.7Z" fill="#ababab"/>
<path d="M278.7,1055L279.6,1051.7L286,1053.5L285.1,1056.8Z" fill="#c7c7c7"/>
<path d="M279.5,1052.1L280.5,1048.8L286.7,1050.5L285.9,1053.8Z" fill="#dedede"/>
<path d="M280.4,1049.1L281.3,1045.8L287.5,1047.6L286.6,1050.9Z" fill="#e9e9e9"/>
<path d="M281.2,1046.2L282.1,1042.9L288.3,1044.6L287.4,1047.9Z" fill="#e9e9e9"/>
<path d="M282,1043.2L282.9,1040.3L289,1042.1L288.2,1045Z" fill="#c0c0c0"/>
<path d="M282.2,1065.4L283.1,1062.1L289.6,1063.7L288.8,1067Z" fill="#969696"/>
<path d="M283,1062.5L283.8,1059.2L290.3,1060.8L289.5,1064.1Z" fill="#949494"/>
<path d="M283.7,1059.6L284.6,1056.3L291,1057.8L290.2,1061.1Z" fill="#ababab"/>
<path d="M284.5,1056.6L285.4,1053.3L291.7,1054.9L290.9,1058.2Z" fill="#c7c7c7"/>
<path d="M285.3,1053.7L286.1,1050.4L292.4,1052L291.6,1055.3Z" fill="#dedede"/>
<path d="M286.1,1050.7L286.9,1047.4L293.1,1049L292.3,1052.3Z" fill="#eaeaea"/>
<path d="M286.8,1047.8L287.7,1044.5L293.8,1046.1L293,1049.4Z" fill="#ebebeb"/>
<path d="M287.6,1044.8L288.4,1041.9L294.5,1043.5L293.7,1046.4Z" fill="#c1c1c1"/>
<path d="M288.2,1066.9L289,1063.6L295.6,1065L294.9,1068.3Z" fill="#969696"/>
<path d="M288.9,1063.9L289.7,1060.6L296.2,1062.1L295.5,1065.4Z" fill="#939393"/>
<path d="M289.6,1061L290.4,1057.7L296.9,1059.1L296.2,1062.4Z" fill="#aaaaaa"/>
<path d="M290.3,1058.1L291.1,1054.8L297.5,1056.2L296.8,1059.5Z" fill="#c6c6c6"/>
<path d="M291,1055.1L291.8,1051.8L298.1,1053.3L297.4,1056.6Z" fill="#dedede"/>
<path d="M291.8,1052.2L292.5,1048.9L298.7,1050.3L298,1053.6Z" fill="#ebebeb"/>
<path d="M292.5,1049.2L293.2,1046L299.3,1047.4L298.6,1050.7Z" fill="#ececec"/>
<path d="M293.2,1046.3L293.9,1043.4L299.9,1044.8L299.3,1047.8Z" fill="#c2c2c2"/>
<path d="M294.3,1068.2L295,1064.9L301.7,1066.1L301.1,1069.4Z" fill="#969696"/>
<path d="M295,1065.2L295.6,1062L302.3,1063.2L301.7,1066.5Z" fill="#929292"/>
<path d="M295.6,1062.3L296.3,1059L302.8,1060.3L302.2,1063.6Z" fill="#aaaaaa"/>
<path d="M296.2,1059.4L296.9,1056.1L303.3,1057.3L302.7,1060.6Z" fill="#c6c6c6"/>
<path d="M296.8,1056.4L297.5,1053.1L303.8,1054.4L303.3,1057.7Z" fill="#dfdfdf"/>
<path d="M297.4,1053.5L298.1,1050.2L304.4,1051.5L303.8,1054.8Z" fill="#ececec"/>
<path d="M298.1,1050.6L298.8,1047.3L304.9,1048.5L304.3,1051.8Z" fill="#eeeeee"/>
<path d="M298.7,1047.6L299.3,1044.7L305.4,1046L304.8,1048.9Z" fill="#c3c3c3"/>
<path d="M300.5,1069.3L301.1,1066L307.9,1067.1L307.4,1070.3Z" fill="#969696"/>
<path d="M301.1,1066.4L301.7,1063.1L308.3,1064.2L307.8,1067.4Z" fill="#919191"/>
<path d="M301.6,1063.4L302.2,1060.2L308.8,1061.2L308.3,1064.5Z" fill="#a9a9a9"/>
<path d="M302.1,1060.5L302.7,1057.2L309.3,1058.3L308.7,1061.6Z" fill="#c6c6c6"/>
<path d="M302.7,1057.6L303.3,1054.3L309.7,1055.4L309.2,1058.7Z" fill="#dfdfdf"/>
<path d="M303.2,1054.6L303.8,1051.4L310.2,1052.5L309.7,1055.7Z" fill="#ededed"/>
<path d="M303.7,1051.7L304.3,1048.4L310.6,1049.5L310.1,1052.8Z" fill="#f0f0f0"/>
<path d="M304.3,1048.8L304.8,1045.9L311,1047L310.6,1049.9Z" fill="#c4c4c4"/>
<path d="M306.8,1070.3L307.3,1067L314,1067.9L313.5,1071.1Z" fill="#969696"/>
<path d="M307.2,1067.3L307.8,1064.1L314.4,1065L313.9,1068.2Z" fill="#919191"/>
<path d="M307.7,1064.4L308.2,1061.1L314.8,1062.1L314.3,1065.3Z" fill="#a8a8a8"/>
<path d="M308.2,1061.5L308.7,1058.2L315.2,1059.2L314.7,1062.4Z" fill="#c5c5c5"/>
<path d="M308.6,1058.6L309.1,1055.3L315.6,1056.2L315.1,1059.5Z" fill="#dfdfdf"/>
<path d="M309.1,1055.6L309.6,1052.4L316,1053.3L315.5,1056.6Z" fill="#eeeeee"/>
<path d="M309.5,1052.7L310,1049.4L316.4,1050.4L315.9,1053.7Z" fill="#f2f2f2"/>
<path d="M310,1049.8L310.4,1046.9L316.8,1047.9L316.3,1050.8Z" fill="#c5c5c5"/>
<path d="M312.9,1071.1L313.4,1067.8L319.9,1068.6L319.5,1071.8Z" fill="#969696"/>
<path d="M313.3,1068.2L313.8,1064.9L320.3,1065.7L319.9,1068.9Z" fill="#909090"/>
<path d="M313.7,1065.2L314.2,1062L320.7,1062.8L320.2,1066.1Z" fill="#a8a8a8"/>
<path d="M314.1,1062.3L314.6,1059.1L321,1059.9L320.6,1063.2Z" fill="#c5c5c5"/>
<path d="M314.6,1059.4L315,1056.2L321.4,1057L321,1060.3Z" fill="#dfdfdf"/>
<path d="M315,1056.5L315.4,1053.3L321.8,1054.1L321.4,1057.4Z" fill="#efefef"/>
<path d="M315.4,1053.6L315.8,1050.3L322.2,1051.2L321.7,1054.5Z" fill="#f2f2f2"/>
<path d="M315.8,1050.7L316.2,1047.8L322.5,1048.7L322.1,1051.6Z" fill="#c5c5c5"/>
<path d="M318.9,1071.8L319.3,1068.5L325.6,1069.3L325.2,1072.5Z" fill="#969696"/>
<path d="M319.3,1068.9L319.7,1065.6L325.9,1066.4L325.5,1069.6Z" fill="#909090"/>
<path d="M319.6,1066L320.1,1062.7L326.3,1063.5L325.9,1066.7Z" fill="#a8a8a8"/>
<path d="M320,1063.1L320.4,1059.8L326.7,1060.6L326.3,1063.9Z" fill="#c5c5c5"/>
<path d="M320.4,1060.2L320.8,1057L327.1,1057.8L326.6,1061Z" fill="#dfdfdf"/>
<path d="M320.8,1057.3L321.2,1054.1L327.4,1054.9L327,1058.1Z" fill="#efefef"/>
<path d="M321.1,1054.4L321.6,1051.2L327.8,1052L327.4,1055.2Z" fill="#f2f2f2"/>
<path d="M321.5,1051.5L321.9,1048.6L328.1,1049.5L327.8,1052.4Z" fill="#c5c5c5"/>
<path d="M324.6,1072.4L325,1069.2L330.9,1069.9L330.5,1073.1Z" fill="#969696"/>
<path d="M324.9,1069.5L325.3,1066.3L331.3,1067.1L330.9,1070.3Z" fill="#909090"/>
<path d="M325.3,1066.7L325.7,1063.4L331.7,1064.2L331.3,1067.4Z" fill="#a8a8a8"/>
<path d="M325.7,1063.8L326.1,1060.6L332.1,1061.4L331.6,1064.6Z" fill="#c5c5c5"/>
<path d="M326.1,1060.9L326.5,1057.7L332.4,1058.5L332,1061.7Z" fill="#dfdfdf"/>
<path d="M326.4,1058L326.8,1054.8L332.8,1055.7L332.4,1058.9Z" fill="#efefef"/>
<path d="M326.8,1055.2L327.2,1052L333.2,1052.8L332.8,1056Z" fill="#f2f2f2"/>
<path d="M327.2,1052.3L327.5,1049.4L333.5,1050.3L333.2,1053.2Z" fill="#c5c5c5"/>
<path d="M329.9,1073L330.3,1069.8L337.4,1070.7L337,1073.9Z" fill="#969696"/>
<path d="M330.3,1070.2L330.7,1067L337.7,1067.9L337.3,1071Z" fill="#909090"/>
<path d="M330.7,1067.3L331.1,1064.1L338.1,1065L337.7,1068.2Z" fill="#a8a8a8"/>
<path d="M331,1064.5L331.5,1061.3L338.5,1062.2L338.1,1065.4Z" fill="#c5c5c5"/>
<path d="M331.4,1061.6L331.8,1058.4L338.8,1059.4L338.4,1062.6Z" fill="#dfdfdf"/>
<path d="M331.8,1058.8L332.2,1055.6L339.2,1056.6L338.8,1059.7Z" fill="#efefef"/>
<path d="M332.2,1055.9L332.6,1052.7L339.6,1053.7L339.2,1056.9Z" fill="#f2f2f2"/>
<path d="M332.6,1053.1L332.9,1050.2L339.9,1051.3L339.5,1054.1Z" fill="#c5c5c5"/>
<path d="M336.4,1073.8L336.8,1070.6L343.9,1071.4L343.5,1074.6Z" fill="#969696"/>
<path d="M336.7,1071L337.2,1067.8L344.3,1068.6L343.9,1071.8Z" fill="#909090"/>
<path d="M337.1,1068.1L337.5,1065L344.6,1065.8L344.2,1069Z" fill="#a8a8a8"/>
<path d="M337.5,1065.3L337.9,1062.1L345,1063L344.6,1066.2Z" fill="#c5c5c5"/>
<path d="M337.8,1062.5L338.3,1059.3L345.3,1060.2L344.9,1063.4Z" fill="#e0e0e0"/>
<path d="M338.2,1059.7L338.6,1056.5L345.6,1057.4L345.3,1060.6Z" fill="#efefef"/>
<path d="M338.6,1056.8L339,1053.7L346,1054.6L345.6,1057.8Z" fill="#f2f2f2"/>
<path d="M338.9,1054L339.3,1051.2L346.3,1052.2L346,1055Z" fill="#c5c5c5"/>
<path d="M342.9,1074.5L343.3,1071.4L350,1072.1L349.6,1075.2Z" fill="#969696"/>
<path d="M343.3,1071.7L343.7,1068.6L350.3,1069.3L349.9,1072.4Z" fill="#909090"/>
<path d="M343.6,1068.9L344,1065.8L350.7,1066.5L350.3,1069.6Z" fill="#a8a8a8"/>
<path d="M344,1066.1L344.4,1063L351,1063.8L350.6,1066.9Z" fill="#c5c5c5"/>
<path d="M344.3,1063.3L344.7,1060.2L351.3,1061L350.9,1064.1Z" fill="#e0e0e0"/>
<path d="M344.7,1060.5L345.1,1057.4L351.7,1058.2L351.3,1061.3Z" fill="#efefef"/>
<path d="M345,1057.7L345.4,1054.6L352,1055.5L351.6,1058.6Z" fill="#f2f2f2"/>
<path d="M345.4,1054.9L345.7,1052.1L352.3,1053L352,1055.8Z" fill="#c6c6c6"/>
<path d="M349,1075.1L349.4,1072L355.1,1072.6L354.7,1075.7Z" fill="#969696"/>
<path d="M349.4,1072.3L349.7,1069.2L355.4,1069.9L355.1,1073Z" fill="#909090"/>
<path d="M349.7,1069.6L350.1,1066.5L355.8,1067.1L355.4,1070.2Z" fill="#a8a8a8"/>
<path d="M350,1066.8L350.4,1063.7L356.1,1064.4L355.7,1067.5Z" fill="#c5c5c5"/>
<path d="M350.4,1064L350.7,1060.9L356.4,1061.6L356,1064.7Z" fill="#e0e0e0"/>
<path d="M350.7,1061.3L351.1,1058.2L356.7,1058.9L356.4,1062Z" fill="#efefef"/>
<path d="M351,1058.5L351.4,1055.4L357.1,1056.1L356.7,1059.2Z" fill="#f2f2f2"/>
<path d="M351.4,1055.7L351.7,1053L357.4,1053.7L357,1056.5Z" fill="#c6c6c6"/>
<path d="M354.1,1075.6L354.5,1072.6L358.7,1073L358.4,1076.1Z" fill="#969696"/>
<path d="M354.5,1072.9L354.8,1069.8L359.1,1070.3L358.7,1073.3Z" fill="#909090"/>
<path d="M354.8,1070.1L355.2,1067.1L359.4,1067.6L359,1070.6Z" fill="#a8a8a8"/>
<path d="M355.1,1067.4L355.5,1064.3L359.7,1064.8L359.4,1067.9Z" fill="#c5c5c5"/>
<path d="M355.4,1064.6L355.8,1061.6L360.1,1062.1L359.7,1065.2Z" fill="#e0e0e0"/>
<path d="M355.8,1061.9L356.1,1058.8L360.4,1059.4L360,1062.4Z" fill="#efefef"/>
<path d="M356.1,1059.1L356.5,1056.1L360.7,1056.6L360.4,1059.7Z" fill="#f2f2f2"/>
<path d="M356.4,1056.4L356.8,1053.7L361,1054.2L360.7,1057Z" fill="#c6c6c6"/>
<path d="M280,1046.6 C281.8,1041.2 292.2,1047.6 298.3,1048.2 C304.4,1048.8 333.6,1052.4 340.9,1052.7 C348.2,1053.1 365.3,1053.1 371.4,1052 C377.4,1050.8 396.9,1043.1 401.8,1041.3 C406.7,1039.6 416.9,1035.5 420.1,1034.5 C423.3,1033.5 431.6,1031 433.8,1031.4 C435.9,1031.8 439.7,1035.9 441.4,1038.3 C443.1,1040.6 449,1051.8 450.5,1055 C452,1058.2 456.2,1067.2 456.6,1070.2 C457.1,1073.3 456,1082.6 455.1,1085.5 C454.2,1088.4 449.5,1097.4 447.5,1099.2 C445.5,1100.9 437.4,1103.6 435.3,1103 C433.2,1102.4 427.4,1091.9 426.2,1093.1 C424.9,1094.2 424,1111.4 423.1,1114.4 C422.2,1117.4 418.4,1124.3 417,1123.5 C415.7,1122.8 412.2,1109.2 409.4,1106.8 C406.7,1104.3 392.8,1099.6 389.6,1099.2 C386.4,1098.8 379.4,1101.5 377.4,1103 C375.5,1104.5 372,1113 369.8,1114.4 C367.7,1115.8 357.8,1118.4 356.1,1117.4 C354.5,1116.5 354.1,1107.9 353.1,1105.3 C352,1102.7 347.4,1093.4 345.5,1091.6 C343.5,1089.7 336.3,1087.4 333.3,1087 C330.2,1086.5 318.8,1086.4 315,1087 C311.2,1087.6 298.7,1091.6 295.2,1093.1 C291.7,1094.6 281.5,1106.9 280,1102.2 C278.5,1097.6 278.2,1052 280,1046.6Z" fill="url(#g2)"/>
<path d="M402,1042.7 C404.3,1041 427,1033.4 430.8,1032.4 C434.6,1031.4 438.7,1032.6 440.2,1033.1 C441.8,1033.5 448.6,1035.3 446.3,1036.6 C444,1037.9 421.4,1044.8 417.5,1046 C413.6,1047.3 409.1,1049.3 407.6,1049 C406,1048.7 399.7,1044.4 402,1042.7Z" fill="#858585"/>
<path d="M417.5,1047.7 C419.7,1044.6 442,1037.6 446.3,1037.7 C450.6,1037.8 452.9,1045.4 454.1,1048.8 C455.2,1052.2 456.7,1062.6 456.3,1066.5 C455.9,1070.4 453.2,1078.4 450.7,1082 C448.3,1085.6 437.8,1097.5 435.2,1097.5 C432.7,1097.5 429.5,1085.9 428.6,1082 C427.7,1078.1 428.8,1068.3 427.5,1064.3 C426.2,1060.3 415.3,1050.8 417.5,1047.7Z" fill="#b0b0b0" opacity="0.75"/>
<path d="M443,1047.7 C444.6,1046.8 451.3,1050.6 453,1053.2 C454.7,1055.9 456,1064.1 455.7,1067.6 C455.4,1071.2 452.4,1079.1 450.7,1079.8 C449,1080.5 444.3,1075.8 443,1073.2 C441.7,1070.5 440.8,1063.3 440.8,1059.9 C440.8,1056.5 441.4,1048.6 443,1047.7Z" fill="#8e8e8e" opacity="0.6"/>
<path d="M373.2,1056.5 C375.9,1051.2 391.8,1051 397.6,1051 C403.4,1051 409,1052.9 412,1056.5 C415,1060.2 417.7,1069.6 417.5,1075.4 C417.4,1081.2 414.5,1091.7 410.9,1095.3 C407.2,1099 397.8,1101.1 393.2,1099.7 C388.5,1098.4 382.9,1092.9 379.9,1086.4 C376.9,1080 370.6,1061.9 373.2,1056.5Z" fill="#e2e2e2" opacity="0.75"/>
<path d="M340,1056.5 C342.5,1052.2 351.6,1053.1 356.6,1053.2 C361.6,1053.4 370.2,1054.7 373.2,1057.7 C376.2,1060.6 378.2,1069.5 376.5,1073.2 C374.9,1076.8 367.6,1080.7 362.1,1082 C356.7,1083.3 343.3,1085.8 340,1082 C336.7,1078.2 337.5,1060.9 340,1056.5Z" fill="#dcdcdc" opacity="0.6"/>
<path d="M280,1050.5 C284.1,1049.9 301.9,1052 310.5,1052.7 C319,1053.4 335.8,1055.6 343.9,1055.8 C352.1,1056 368.5,1053.5 371.4,1054.3 C374.2,1055 371.4,1060.6 365.3,1061.1 C359.2,1061.6 337,1058.7 325.7,1058.1 C314.3,1057.5 286.1,1057.6 280,1056.5 C273.9,1055.5 275.9,1051 280,1050.5Z" fill="#a8a8a8" opacity="0.6"/>
<path d="M219.5,1094.6L221,1089.3L222.9,1084.2L224.7,1081.9L227.2,1079.5L230.4,1077.6L234.2,1076.3L239.3,1076L245.9,1076.4L250.1,1076.9L254.3,1077.7L257.8,1078.5L263.4,1080.8L269.9,1083.9L274.8,1086L279.9,1088.1L286.2,1090.4L292.1,1092.2L298.4,1093.9L305,1095.7L311.9,1097.6L318,1099.3L325,1101.1L331.8,1102.9L337.8,1104.5L341.9,1105.6L348.1,1082.4L343.9,1081.3L338,1079.7L331.2,1077.9L324.3,1076.1L318.1,1074.4L311.3,1072.6L304.7,1070.8L298.8,1069.1L293.8,1067.6L288.5,1065.7L284.2,1063.9L280.1,1062.1L273.6,1058.8L266.2,1055.5L260,1053.7L254.1,1052.4L248.1,1051.6L239.3,1051L229.8,1051.7L220.7,1054.3L212.8,1058.5L205.9,1064.1L200.1,1071.8L196.4,1080.8L194.5,1087.4Z" fill="#d4d4d4"/>
<path d="M219.5,1094.6L216,1093.6L217.8,1087.6L221.2,1088.8Z" fill="#969696"/>
<path d="M216.4,1093.7L212.9,1092.7L214.7,1086.5L218.1,1087.7Z" fill="#8a8a8a"/>
<path d="M213.2,1092.8L209.7,1091.8L211.6,1085.4L215.1,1086.6Z" fill="#a3a3a3"/>
<path d="M210.1,1091.9L206.6,1090.9L208.5,1084.4L212,1085.6Z" fill="#c2c2c2"/>
<path d="M207,1091L203.5,1090L205.5,1083.3L208.9,1084.5Z" fill="#e2e2e2"/>
<path d="M203.9,1090.1L200.4,1089.1L202.4,1082.2L205.8,1083.4Z" fill="#f3f3f3"/>
<path d="M200.8,1089.2L197.3,1088.2L199.3,1081.2L202.8,1082.4Z" fill="#f6f6f6"/>
<path d="M197.6,1088.3L194.5,1087.4L196.6,1080.2L199.7,1081.3Z" fill="#cccccc"/>
<path d="M221,1089.3L217.6,1088.1L220,1081.9L223.2,1083.7Z" fill="#969696"/>
<path d="M217.9,1088.3L214.5,1087.1L217.2,1080.4L220.4,1082.1Z" fill="#888888"/>
<path d="M214.9,1087.2L211.4,1086L214.3,1078.8L217.5,1080.6Z" fill="#a2a2a2"/>
<path d="M211.8,1086.1L208.3,1084.9L211.4,1077.3L214.6,1079Z" fill="#c1c1c1"/>
<path d="M208.7,1085.1L205.3,1083.9L208.6,1075.7L211.8,1077.5Z" fill="#e3e3e3"/>
<path d="M205.6,1084L202.2,1082.8L205.7,1074.2L208.9,1075.9Z" fill="#f4f4f4"/>
<path d="M202.6,1082.9L199.1,1081.7L202.9,1072.6L206.1,1074.4Z" fill="#f8f8f8"/>
<path d="M199.5,1081.9L196.4,1080.8L200.4,1071.3L203.2,1072.8Z" fill="#cdcdcd"/>
<path d="M222.9,1084.2L219.7,1082.5L222.4,1078.9L225.1,1081.4Z" fill="#969696"/>
<path d="M220.1,1082.7L216.9,1080.9L220.1,1076.7L222.7,1079.2Z" fill="#8b8b8b"/>
<path d="M217.2,1081.1L214,1079.4L217.8,1074.5L220.4,1077Z" fill="#9f9f9f"/>
<path d="M214.4,1079.6L211.2,1077.8L215.4,1072.3L218,1074.8Z" fill="#c0c0c0"/>
<path d="M211.5,1078L208.3,1076.3L213.1,1070.1L215.7,1072.6Z" fill="#e4e4e4"/>
<path d="M208.6,1076.4L205.4,1074.7L210.7,1067.9L213.4,1070.4Z" fill="#f5f5f5"/>
<path d="M205.8,1074.9L202.6,1073.2L208.4,1065.7L211,1068.1Z" fill="#f9f9f9"/>
<path d="M202.9,1073.3L200.1,1071.8L206.3,1063.7L208.7,1065.9Z" fill="#cecece"/>
<path d="M224.7,1081.9L222,1079.4L225.7,1076.2L227.7,1079.2Z" fill="#969696"/>
<path d="M222.3,1079.6L219.7,1077.2L223.9,1073.6L225.9,1076.6Z" fill="#8c8c8c"/>
<path d="M220,1077.4L217.3,1074.9L222.1,1071L224.1,1073.9Z" fill="#9e9e9e"/>
<path d="M217.6,1075.2L215,1072.7L220.3,1068.3L222.3,1071.3Z" fill="#bfbfbf"/>
<path d="M215.3,1073L212.7,1070.5L218.5,1065.7L220.5,1068.7Z" fill="#e5e5e5"/>
<path d="M212.9,1070.8L210.3,1068.3L216.7,1063.1L218.7,1066Z" fill="#f6f6f6"/>
<path d="M210.6,1068.6L208,1066.1L214.9,1060.5L216.9,1063.4Z" fill="#fafafa"/>
<path d="M208.3,1066.4L205.9,1064.1L213.3,1058.1L215.1,1060.8Z" fill="#cecece"/>
<path d="M227.2,1079.5L225.2,1076.6L229.6,1074.1L231,1077.3Z" fill="#969696"/>
<path d="M225.4,1076.9L223.4,1073.9L228.4,1071.2L229.8,1074.4Z" fill="#8b8b8b"/>
<path d="M223.6,1074.3L221.6,1071.3L227.2,1068.3L228.6,1071.5Z" fill="#9f9f9f"/>
<path d="M221.8,1071.6L219.8,1068.7L226,1065.4L227.4,1068.6Z" fill="#bfbfbf"/>
<path d="M220,1069L218,1066.1L224.8,1062.4L226.1,1065.7Z" fill="#e5e5e5"/>
<path d="M218.2,1066.4L216.2,1063.4L223.6,1059.5L224.9,1062.8Z" fill="#f6f6f6"/>
<path d="M216.4,1063.7L214.4,1060.8L222.4,1056.6L223.7,1059.9Z" fill="#fafafa"/>
<path d="M214.6,1061.1L212.8,1058.5L221.3,1054.1L222.5,1057Z" fill="#cecece"/>
<path d="M230.4,1077.6L229.1,1074.3L234.2,1072.8L234.8,1076.2Z" fill="#969696"/>
<path d="M229.2,1074.7L227.9,1071.4L233.6,1069.7L234.2,1073.1Z" fill="#898989"/>
<path d="M228,1071.8L226.7,1068.5L233.1,1066.6L233.7,1070Z" fill="#a1a1a1"/>
<path d="M226.8,1068.8L225.4,1065.6L232.5,1063.5L233.1,1067Z" fill="#c0c0c0"/>
<path d="M225.6,1065.9L224.2,1062.7L232,1060.4L232.6,1063.9Z" fill="#e4e4e4"/>
<path d="M224.4,1063L223,1059.8L231.4,1057.4L232,1060.8Z" fill="#f5f5f5"/>
<path d="M223.2,1060.1L221.8,1056.9L230.9,1054.3L231.5,1057.7Z" fill="#f8f8f8"/>
<path d="M222,1057.2L220.7,1054.3L230.4,1051.6L231,1054.7Z" fill="#cdcdcd"/>
<path d="M234.2,1076.3L233.6,1072.9L239.9,1072.5L239.9,1076Z" fill="#969696"/>
<path d="M233.6,1073.2L233,1069.8L239.9,1069.4L239.9,1072.9Z" fill="#8b8b8b"/>
<path d="M233.1,1070.2L232.5,1066.7L239.9,1066.2L239.9,1069.8Z" fill="#a4a4a4"/>
<path d="M232.5,1067.1L231.9,1063.6L239.9,1063.1L239.9,1066.6Z" fill="#c2c2c2"/>
<path d="M232,1064L231.4,1060.6L239.9,1060L239.9,1063.5Z" fill="#e2e2e2"/>
<path d="M231.5,1060.9L230.8,1057.5L239.9,1056.9L239.9,1060.4Z" fill="#f3f3f3"/>
<path d="M230.9,1057.8L230.3,1054.4L239.9,1053.8L239.9,1057.2Z" fill="#f6f6f6"/>
<path d="M230.4,1054.8L229.8,1051.7L239.9,1051L239.9,1054.1Z" fill="#cccccc"/>
<path d="M239.3,1076L239.3,1072.5L246.8,1073L246.5,1076.5Z" fill="#969696"/>
<path d="M239.3,1072.9L239.3,1069.4L247.1,1069.9L246.7,1073.4Z" fill="#8e8e8e"/>
<path d="M239.3,1069.8L239.3,1066.2L247.3,1066.8L247,1070.3Z" fill="#a6a6a6"/>
<path d="M239.3,1066.6L239.3,1063.1L247.6,1063.7L247.3,1067.2Z" fill="#c4c4c4"/>
<path d="M239.3,1063.5L239.3,1060L247.9,1060.6L247.6,1064.1Z" fill="#e0e0e0"/>
<path d="M239.3,1060.4L239.3,1056.9L248.2,1057.5L247.9,1060.9Z" fill="#f2f2f2"/>
<path d="M239.3,1057.2L239.3,1053.8L248.5,1054.3L248.2,1057.8Z" fill="#f4f4f4"/>
<path d="M239.3,1054.1L239.3,1051L248.7,1051.6L248.5,1054.7Z" fill="#c8c8c8"/>
<path d="M245.9,1076.4L246.2,1073L251.2,1073.6L250.7,1077Z" fill="#969696"/>
<path d="M246.1,1073.3L246.5,1069.9L251.7,1070.5L251.2,1074Z" fill="#909090"/>
<path d="M246.4,1070.2L246.7,1066.7L252.2,1067.5L251.7,1070.9Z" fill="#a8a8a8"/>
<path d="M246.7,1067.1L247,1063.6L252.7,1064.4L252.2,1067.8Z" fill="#c5c5c5"/>
<path d="M247,1064L247.3,1060.5L253.2,1061.3L252.7,1064.8Z" fill="#dfdfdf"/>
<path d="M247.3,1060.9L247.6,1057.4L253.7,1058.3L253.2,1061.7Z" fill="#efefef"/>
<path d="M247.6,1057.8L247.9,1054.3L254.2,1055.2L253.7,1058.6Z" fill="#f2f2f2"/>
<path d="M247.9,1054.7L248.1,1051.6L254.7,1052.5L254.2,1055.6Z" fill="#c5c5c5"/>
<path d="M250.1,1076.9L250.6,1073.5L255.7,1074.5L254.9,1077.8Z" fill="#969696"/>
<path d="M250.6,1073.9L251.1,1070.4L256.4,1071.5L255.6,1074.8Z" fill="#929292"/>
<path d="M251.1,1070.8L251.6,1067.4L257.1,1068.4L256.3,1071.8Z" fill="#aaaaaa"/>
<path d="M251.6,1067.7L252.1,1064.3L257.8,1065.4L257,1068.8Z" fill="#c6c6c6"/>
<path d="M252.1,1064.7L252.6,1061.2L258.5,1062.4L257.7,1065.8Z" fill="#dfdfdf"/>
<path d="M252.6,1061.6L253.1,1058.2L259.2,1059.4L258.4,1062.8Z" fill="#ececec"/>
<path d="M253.1,1058.5L253.6,1055.1L259.9,1056.4L259.1,1059.8Z" fill="#eeeeee"/>
<path d="M253.6,1055.5L254.1,1052.4L260.6,1053.8L259.9,1056.8Z" fill="#c3c3c3"/>
<path d="M254.3,1077.7L255.1,1074.3L259.5,1075.5L258.4,1078.7Z" fill="#969696"/>
<path d="M255,1074.7L255.8,1071.3L260.6,1072.6L259.4,1075.8Z" fill="#959595"/>
<path d="M255.7,1071.7L256.5,1068.3L261.6,1069.7L260.5,1073Z" fill="#acacac"/>
<path d="M256.4,1068.7L257.2,1065.3L262.7,1066.9L261.5,1070.1Z" fill="#c8c8c8"/>
<path d="M257.1,1065.7L257.9,1062.3L263.7,1064L262.6,1067.2Z" fill="#dddddd"/>
<path d="M257.9,1062.7L258.6,1059.3L264.8,1061.1L263.6,1064.3Z" fill="#e8e8e8"/>
<path d="M258.6,1059.7L259.4,1056.3L265.8,1058.2L264.7,1061.5Z" fill="#e7e7e7"/>
<path d="M259.3,1056.7L260,1053.7L266.8,1055.7L265.7,1058.6Z" fill="#bfbfbf"/>
<path d="M257.8,1078.5L259,1075.3L265.4,1078L264,1081.1Z" fill="#929292"/>
<path d="M258.8,1075.6L260,1072.4L266.7,1075.2L265.2,1078.3Z" fill="#999999"/>
<path d="M259.9,1072.8L261.1,1069.5L267.9,1072.5L266.5,1075.6Z" fill="#afafaf"/>
<path d="M260.9,1069.9L262.1,1066.7L269.2,1069.7L267.8,1072.8Z" fill="#c9c9c9"/>
<path d="M262,1067L263.2,1063.8L270.5,1067L269,1070.1Z" fill="#dcdcdc"/>
<path d="M263.1,1064.1L264.2,1060.9L271.7,1064.2L270.3,1067.3Z" fill="#e3e3e3"/>
<path d="M264.1,1061.2L265.3,1058L273,1061.5L271.6,1064.6Z" fill="#e0e0e0"/>
<path d="M265.2,1058.4L266.2,1055.5L274.1,1059.1L272.9,1061.8Z" fill="#bababa"/>
<path d="M263.4,1080.8L264.8,1077.7L271.9,1081.1L270.4,1084.1Z" fill="#909090"/>
<path d="M264.7,1078.1L266.1,1075L273.1,1078.4L271.7,1081.4Z" fill="#9b9b9b"/>
<path d="M266,1075.3L267.4,1072.2L274.4,1075.6L273,1078.7Z" fill="#b0b0b0"/>
<path d="M267.2,1072.6L268.7,1069.5L275.7,1072.9L274.3,1076Z" fill="#cacaca"/>
<path d="M268.5,1069.8L269.9,1066.7L277,1070.2L275.5,1073.3Z" fill="#dbdbdb"/>
<path d="M269.8,1067.1L271.2,1064L278.2,1067.5L276.8,1070.5Z" fill="#e1e1e1"/>
<path d="M271,1064.3L272.5,1061.2L279.5,1064.8L278.1,1067.8Z" fill="#dcdcdc"/>
<path d="M272.3,1061.6L273.6,1058.8L280.6,1062.4L279.4,1065.1Z" fill="#b8b8b8"/>
<path d="M269.9,1083.9L271.3,1080.8L276.6,1083.1L275.3,1086.2Z" fill="#909090"/>
<path d="M271.2,1081.1L272.6,1078.1L277.8,1080.4L276.5,1083.5Z" fill="#9a9a9a"/>
<path d="M272.5,1078.4L273.9,1075.4L279,1077.6L277.7,1080.7Z" fill="#b0b0b0"/>
<path d="M273.7,1075.7L275.2,1072.7L280.2,1074.9L278.9,1078Z" fill="#cacaca"/>
<path d="M275,1073L276.4,1070L281.4,1072.1L280,1075.2Z" fill="#dbdbdb"/>
<path d="M276.3,1070.3L277.7,1067.2L282.5,1069.4L281.2,1072.4Z" fill="#e2e2e2"/>
<path d="M277.5,1067.6L279,1064.5L283.7,1066.6L282.4,1069.7Z" fill="#dddddd"/>
<path d="M278.8,1064.9L280.1,1062.1L284.7,1064.2L283.6,1066.9Z" fill="#b9b9b9"/>
<path d="M274.8,1086L276.1,1082.9L281.7,1085.2L280.4,1088.3Z" fill="#929292"/>
<path d="M275.9,1083.2L277.3,1080.1L282.7,1082.4L281.5,1085.5Z" fill="#999999"/>
<path d="M277.1,1080.5L278.4,1077.4L283.8,1079.6L282.6,1082.7Z" fill="#afafaf"/>
<path d="M278.3,1077.7L279.6,1074.6L284.9,1076.8L283.7,1079.9Z" fill="#c9c9c9"/>
<path d="M279.5,1075L280.8,1071.9L285.9,1074L284.7,1077.1Z" fill="#dcdcdc"/>
<path d="M280.7,1072.2L282,1069.1L287,1071.2L285.8,1074.3Z" fill="#e4e4e4"/>
<path d="M281.8,1069.5L283.2,1066.4L288.1,1068.4L286.9,1071.5Z" fill="#e0e0e0"/>
<path d="M283,1066.7L284.2,1063.9L289,1065.9L288,1068.7Z" fill="#bbbbbb"/>
<path d="M279.9,1088.1L281.1,1085L287.8,1087.4L286.8,1090.6Z" fill="#949494"/>
<path d="M281,1085.3L282.2,1082.2L288.8,1084.5L287.7,1087.7Z" fill="#979797"/>
<path d="M282,1082.5L283.2,1079.4L289.7,1081.7L288.7,1084.9Z" fill="#aeaeae"/>
<path d="M283.1,1079.7L284.3,1076.6L290.7,1078.8L289.6,1082Z" fill="#c8c8c8"/>
<path d="M284.2,1076.9L285.4,1073.8L291.6,1076L290.6,1079.2Z" fill="#dcdcdc"/>
<path d="M285.3,1074.1L286.5,1071L292.6,1073.2L291.5,1076.3Z" fill="#e6e6e6"/>
<path d="M286.3,1071.3L287.5,1068.2L293.5,1070.3L292.5,1073.5Z" fill="#e3e3e3"/>
<path d="M287.4,1068.5L288.5,1065.7L294.3,1067.8L293.4,1070.6Z" fill="#bdbdbd"/>
<path d="M286.2,1090.4L287.3,1087.2L293.6,1089.1L292.6,1092.3Z" fill="#969696"/>
<path d="M287.2,1087.5L288.2,1084.4L294.4,1086.2L293.5,1089.5Z" fill="#969696"/>
<path d="M288.1,1084.7L289.2,1081.5L295.3,1083.4L294.3,1086.6Z" fill="#acacac"/>
<path d="M289.1,1081.8L290.1,1078.7L296.1,1080.5L295.2,1083.7Z" fill="#c8c8c8"/>
<path d="M290,1079L291.1,1075.8L296.9,1077.6L296,1080.8Z" fill="#dddddd"/>
<path d="M290.9,1076.2L292,1073L297.8,1074.7L296.8,1077.9Z" fill="#e8e8e8"/>
<path d="M291.9,1073.3L292.9,1070.1L298.6,1071.8L297.7,1075.1Z" fill="#e7e7e7"/>
<path d="M292.8,1070.5L293.8,1067.6L299.4,1069.3L298.5,1072.2Z" fill="#bfbfbf"/>
<path d="M292.1,1092.2L293,1089L299.9,1090.9L299,1094.1Z" fill="#969696"/>
<path d="M292.9,1089.3L293.8,1086.1L300.6,1088L299.8,1091.2Z" fill="#959595"/>
<path d="M293.7,1086.4L294.7,1083.2L301.4,1085.1L300.6,1088.3Z" fill="#acacac"/>
<path d="M294.6,1083.5L295.5,1080.3L302.2,1082.2L301.3,1085.4Z" fill="#c7c7c7"/>
<path d="M295.4,1080.7L296.4,1077.4L303,1079.3L302.1,1082.5Z" fill="#dddddd"/>
<path d="M296.3,1077.8L297.2,1074.6L303.8,1076.4L302.9,1079.6Z" fill="#e9e9e9"/>
<path d="M297.1,1074.9L298.1,1071.7L304.6,1073.5L303.7,1076.7Z" fill="#e8e8e8"/>
<path d="M298,1072L298.8,1069.1L305.3,1071L304.5,1073.9Z" fill="#c0c0c0"/>
<path d="M298.4,1093.9L299.3,1090.7L306.5,1092.7L305.6,1095.9Z" fill="#969696"/>
<path d="M299.2,1091.1L300.1,1087.8L307.3,1089.8L306.4,1093Z" fill="#959595"/>
<path d="M300,1088.2L300.9,1084.9L308.1,1086.9L307.2,1090.1Z" fill="#ababab"/>
<path d="M300.8,1085.3L301.7,1082L308.8,1084L308,1087.2Z" fill="#c7c7c7"/>
<path d="M301.6,1082.4L302.5,1079.1L309.6,1081.1L308.7,1084.3Z" fill="#dedede"/>
<path d="M302.4,1079.5L303.2,1076.2L310.4,1078.2L309.5,1081.4Z" fill="#e9e9e9"/>
<path d="M303.2,1076.6L304,1073.3L311.2,1075.3L310.3,1078.5Z" fill="#e9e9e9"/>
<path d="M303.9,1073.7L304.7,1070.8L311.9,1072.7L311.1,1075.6Z" fill="#c0c0c0"/>
<path d="M305,1095.7L305.9,1092.5L313.3,1094.5L312.5,1097.7Z" fill="#969696"/>
<path d="M305.8,1092.8L306.7,1089.6L314.1,1091.6L313.2,1094.8Z" fill="#949494"/>
<path d="M306.6,1089.9L307.5,1086.7L314.9,1088.7L314,1091.9Z" fill="#ababab"/>
<path d="M307.4,1087.1L308.3,1083.8L315.7,1085.8L314.8,1089.1Z" fill="#c7c7c7"/>
<path d="M308.2,1084.2L309,1080.9L316.5,1082.9L315.6,1086.2Z" fill="#dedede"/>
<path d="M308.9,1081.3L309.8,1078L317.2,1080L316.4,1083.3Z" fill="#e9e9e9"/>
<path d="M309.7,1078.4L310.6,1075.1L318,1077.1L317.1,1080.4Z" fill="#e9e9e9"/>
<path d="M310.5,1075.5L311.3,1072.6L318.7,1074.6L317.9,1077.5Z" fill="#c0c0c0"/>
<path d="M311.9,1097.6L312.7,1094.3L319.5,1096.2L318.6,1099.4Z" fill="#969696"/>
<path d="M312.7,1094.7L313.5,1091.4L320.3,1093.3L319.4,1096.5Z" fill="#949494"/>
<path d="M313.4,1091.8L314.3,1088.5L321.1,1090.4L320.2,1093.6Z" fill="#ababab"/>
<path d="M314.2,1088.9L315.1,1085.7L321.8,1087.5L321,1090.7Z" fill="#c7c7c7"/>
<path d="M315,1086L315.9,1082.8L322.6,1084.6L321.7,1087.8Z" fill="#dedede"/>
<path d="M315.8,1083.1L316.7,1079.9L323.4,1081.7L322.5,1084.9Z" fill="#e9e9e9"/>
<path d="M316.6,1080.2L317.4,1077L324.2,1078.8L323.3,1082Z" fill="#e9e9e9"/>
<path d="M317.3,1077.3L318.1,1074.4L324.9,1076.2L324.1,1079.1Z" fill="#c0c0c0"/>
<path d="M318,1099.3L318.9,1096L326.4,1098L325.6,1101.3Z" fill="#969696"/>
<path d="M318.8,1096.4L319.7,1093.1L327.2,1095.1L326.3,1098.4Z" fill="#949494"/>
<path d="M319.6,1093.5L320.5,1090.2L328,1092.2L327.1,1095.5Z" fill="#ababab"/>
<path d="M320.4,1090.6L321.3,1087.3L328.8,1089.3L327.9,1092.6Z" fill="#c7c7c7"/>
<path d="M321.2,1087.7L322,1084.4L329.5,1086.4L328.7,1089.7Z" fill="#dedede"/>
<path d="M321.9,1084.8L322.8,1081.5L330.3,1083.5L329.4,1086.8Z" fill="#e9e9e9"/>
<path d="M322.7,1081.9L323.6,1078.6L331.1,1080.6L330.2,1083.9Z" fill="#eaeaea"/>
<path d="M323.5,1079L324.3,1076.1L331.7,1078.1L331,1081Z" fill="#c0c0c0"/>
<path d="M325,1101.1L325.9,1097.9L333.3,1099.8L332.4,1103.1Z" fill="#969696"/>
<path d="M325.8,1098.2L326.6,1095L334.1,1096.9L333.2,1100.2Z" fill="#949494"/>
<path d="M326.5,1095.3L327.4,1092.1L334.8,1094L334,1097.3Z" fill="#ababab"/>
<path d="M327.3,1092.4L328.2,1089.2L335.6,1091.1L334.7,1094.4Z" fill="#c7c7c7"/>
<path d="M328.1,1089.5L328.9,1086.3L336.4,1088.2L335.5,1091.5Z" fill="#dedede"/>
<path d="M328.9,1086.6L329.7,1083.4L337.1,1085.3L336.3,1088.6Z" fill="#e9e9e9"/>
<path d="M329.6,1083.7L330.5,1080.5L337.9,1082.4L337,1085.7Z" fill="#eaeaea"/>
<path d="M330.4,1080.8L331.2,1077.9L338.6,1079.9L337.8,1082.8Z" fill="#c0c0c0"/>
<path d="M331.8,1102.9L332.7,1099.7L339.2,1101.4L338.3,1104.6Z" fill="#969696"/>
<path d="M332.6,1100L333.5,1096.8L340,1098.5L339.1,1101.7Z" fill="#949494"/>
<path d="M333.4,1097.1L334.2,1093.9L340.7,1095.6L339.9,1098.8Z" fill="#ababab"/>
<path d="M334.2,1094.2L335,1091L341.5,1092.7L340.7,1095.9Z" fill="#c7c7c7"/>
<path d="M334.9,1091.3L335.8,1088.1L342.3,1089.8L341.4,1093Z" fill="#dedede"/>
<path d="M335.7,1088.4L336.6,1085.2L343,1086.9L342.2,1090.1Z" fill="#e9e9e9"/>
<path d="M336.5,1085.5L337.3,1082.3L343.8,1084L343,1087.3Z" fill="#eaeaea"/>
<path d="M337.2,1082.6L338,1079.7L344.5,1081.5L343.7,1084.4Z" fill="#c0c0c0"/>
<path d="M337.8,1104.5L338.6,1101.2L343.4,1102.5L342.5,1105.8Z" fill="#969696"/>
<path d="M338.5,1101.6L339.4,1098.3L344.1,1099.6L343.3,1102.9Z" fill="#949494"/>
<path d="M339.3,1098.7L340.2,1095.4L344.9,1096.7L344,1100Z" fill="#ababab"/>
<path d="M340.1,1095.8L340.9,1092.5L345.7,1093.8L344.8,1097.1Z" fill="#c7c7c7"/>
<path d="M340.8,1092.9L341.7,1089.6L346.4,1090.9L345.6,1094.2Z" fill="#dedede"/>
<path d="M341.6,1090L342.5,1086.7L347.2,1088L346.3,1091.3Z" fill="#e9e9e9"/>
<path d="M342.4,1087.1L343.2,1083.8L348,1085.1L347.1,1088.4Z" fill="#eaeaea"/>
<path d="M343.1,1084.2L343.9,1081.3L348.7,1082.6L347.9,1085.5Z" fill="#c0c0c0"/>
<path d="M276.7,1057.5 C277.8,1059.3 283.9,1066.9 284.7,1071.3 C285.5,1075.7 283.2,1087.8 283,1090.3" fill="none" stroke="#a0a0a0" stroke-width="1.2"/>
<path d="M304.4,1133.5L306.1,1129.6L308.5,1124.3L310.9,1119.5L312.6,1116.8L315.6,1114L318.8,1112L321.4,1110.9L324,1110.7L327.9,1111.1L330.8,1111.8L332.8,1113.2L337.5,1117.4L347,1122.4L357.9,1123.1L366.5,1121.9L371.8,1121L367.2,1094.3L362.2,1095.2L356.3,1096.2L353.9,1096.3L353.8,1095.8L349.9,1091.9L342.4,1086.9L333.6,1084.1L324.8,1082.8L315.2,1083.6L306.2,1086.9L298.3,1092L291.4,1098.5L286.6,1105.4L283.1,1112.3L280.6,1118.2L278.9,1122Z" fill="#d4d4d4"/>
<path d="M304.4,1133.5L300.8,1131.9L302.8,1127.4L306.4,1129Z" fill="#969696"/>
<path d="M301.2,1132L297.6,1130.4L299.6,1126L303.2,1127.6Z" fill="#888888"/>
<path d="M298,1130.6L294.4,1129L296.4,1124.6L300,1126.2Z" fill="#a1a1a1"/>
<path d="M294.8,1129.2L291.2,1127.5L293.2,1123.2L296.8,1124.8Z" fill="#c1c1c1"/>
<path d="M291.6,1127.7L288.1,1126.1L290,1121.7L293.6,1123.3Z" fill="#e3e3e3"/>
<path d="M288.4,1126.3L284.9,1124.7L286.8,1120.3L290.4,1121.9Z" fill="#f4f4f4"/>
<path d="M285.2,1124.8L281.7,1123.2L283.6,1118.9L287.2,1120.5Z" fill="#f8f8f8"/>
<path d="M282.1,1123.4L278.9,1122L280.8,1117.6L284,1119.1Z" fill="#cdcdcd"/>
<path d="M306.1,1129.6L302.6,1128L305.2,1122.1L308.7,1123.8Z" fill="#969696"/>
<path d="M302.9,1128.1L299.4,1126.6L302,1120.6L305.5,1122.3Z" fill="#888888"/>
<path d="M299.7,1126.7L296.2,1125.1L298.8,1119.1L302.4,1120.8Z" fill="#a1a1a1"/>
<path d="M296.6,1125.3L293,1123.7L295.7,1117.6L299.2,1119.3Z" fill="#c1c1c1"/>
<path d="M293.4,1123.9L289.8,1122.3L292.5,1116.1L296.1,1117.8Z" fill="#e3e3e3"/>
<path d="M290.2,1122.5L286.6,1120.9L289.3,1114.6L292.9,1116.3Z" fill="#f4f4f4"/>
<path d="M287,1121L283.4,1119.4L286.2,1113.1L289.7,1114.8Z" fill="#f8f8f8"/>
<path d="M283.8,1119.6L280.6,1118.2L283.4,1111.8L286.6,1113.3Z" fill="#cdcdcd"/>
<path d="M308.5,1124.3L304.9,1122.6L307.8,1117L311.2,1119Z" fill="#969696"/>
<path d="M305.3,1122.8L301.7,1121.1L304.7,1115.2L308.1,1117.2Z" fill="#898989"/>
<path d="M302.1,1121.3L298.6,1119.6L301.7,1113.5L305.1,1115.5Z" fill="#a1a1a1"/>
<path d="M299,1119.8L295.4,1118.2L298.7,1111.7L302.1,1113.7Z" fill="#c0c0c0"/>
<path d="M295.8,1118.3L292.3,1116.7L295.7,1110L299.1,1111.9Z" fill="#e4e4e4"/>
<path d="M292.6,1116.8L289.1,1115.2L292.6,1108.2L296,1110.2Z" fill="#f5f5f5"/>
<path d="M289.5,1115.3L285.9,1113.7L289.6,1106.4L293,1108.4Z" fill="#f8f8f8"/>
<path d="M286.3,1113.8L283.1,1112.3L287,1104.9L290,1106.7Z" fill="#cdcdcd"/>
<path d="M310.9,1119.5L307.5,1117.5L310,1113.8L313,1116.3Z" fill="#969696"/>
<path d="M307.8,1117.7L304.4,1115.8L307.4,1111.5L310.3,1114.1Z" fill="#8b8b8b"/>
<path d="M304.8,1116L301.4,1114L304.7,1109.2L307.7,1111.8Z" fill="#9f9f9f"/>
<path d="M301.8,1114.2L298.4,1112.2L302.1,1106.9L305,1109.5Z" fill="#c0c0c0"/>
<path d="M298.8,1112.5L295.4,1110.5L299.4,1104.6L302.4,1107.2Z" fill="#e4e4e4"/>
<path d="M295.7,1110.7L292.3,1108.7L296.8,1102.3L299.8,1104.9Z" fill="#f5f5f5"/>
<path d="M292.7,1108.9L289.3,1107L294.1,1100.1L297.1,1102.6Z" fill="#fafafa"/>
<path d="M289.7,1107.2L286.6,1105.4L291.8,1098L294.5,1100.3Z" fill="#cecece"/>
<path d="M312.6,1116.8L309.6,1114.2L313.6,1110.6L316,1113.7Z" fill="#969696"/>
<path d="M310,1114.5L307,1111.9L311.4,1107.8L313.9,1110.9Z" fill="#8c8c8c"/>
<path d="M307.3,1112.2L304.3,1109.7L309.3,1105.1L311.7,1108.2Z" fill="#9e9e9e"/>
<path d="M304.7,1109.9L301.7,1107.4L307.1,1102.3L309.5,1105.4Z" fill="#bfbfbf"/>
<path d="M302,1107.6L299,1105.1L305,1099.5L307.4,1102.6Z" fill="#e5e5e5"/>
<path d="M299.4,1105.4L296.4,1102.8L302.8,1096.8L305.2,1099.9Z" fill="#f6f6f6"/>
<path d="M296.7,1103.1L293.7,1100.5L300.6,1094L303.1,1097.1Z" fill="#fafafa"/>
<path d="M294.1,1100.8L291.4,1098.5L298.7,1091.6L300.9,1094.4Z" fill="#cecece"/>
<path d="M315.6,1114L313.1,1110.9L317.6,1108.2L319.3,1111.7Z" fill="#969696"/>
<path d="M313.4,1111.3L311,1108.2L316,1105.1L317.8,1108.6Z" fill="#8c8c8c"/>
<path d="M311.2,1108.5L308.8,1105.4L314.4,1101.9L316.2,1105.4Z" fill="#9e9e9e"/>
<path d="M309.1,1105.8L306.7,1102.7L312.8,1098.8L314.6,1102.3Z" fill="#bfbfbf"/>
<path d="M306.9,1103L304.5,1099.9L311.2,1095.7L313,1099.2Z" fill="#e5e5e5"/>
<path d="M304.8,1100.3L302.3,1097.2L309.7,1092.5L311.4,1096Z" fill="#f6f6f6"/>
<path d="M302.6,1097.5L300.2,1094.4L308.1,1089.4L309.8,1092.9Z" fill="#fafafa"/>
<path d="M300.4,1094.7L298.3,1092L306.7,1086.7L308.3,1089.8Z" fill="#cecece"/>
<path d="M318.8,1112L317,1108.5L321.1,1107L322,1110.8Z" fill="#969696"/>
<path d="M317.2,1108.8L315.5,1105.3L320.3,1103.6L321.2,1107.4Z" fill="#8a8a8a"/>
<path d="M315.6,1105.7L313.9,1102.2L319.5,1100.1L320.4,1104Z" fill="#a0a0a0"/>
<path d="M314.1,1102.6L312.3,1099.1L318.8,1096.7L319.6,1100.5Z" fill="#c0c0c0"/>
<path d="M312.5,1099.4L310.7,1095.9L318,1093.3L318.9,1097.1Z" fill="#e4e4e4"/>
<path d="M310.9,1096.3L309.1,1092.8L317.2,1089.9L318.1,1093.7Z" fill="#f5f5f5"/>
<path d="M309.3,1093.2L307.5,1089.7L316.4,1086.5L317.3,1090.3Z" fill="#f9f9f9"/>
<path d="M307.7,1090.1L306.2,1086.9L315.8,1083.5L316.5,1086.9Z" fill="#cdcdcd"/>
<path d="M321.4,1110.9L320.5,1107.1L324.7,1106.8L324.6,1110.7Z" fill="#969696"/>
<path d="M320.6,1107.5L319.7,1103.7L324.8,1103.3L324.7,1107.2Z" fill="#8b8b8b"/>
<path d="M319.8,1104.1L319,1100.3L324.9,1099.8L324.8,1103.7Z" fill="#a4a4a4"/>
<path d="M319,1100.7L318.2,1096.9L325,1096.3L324.9,1100.2Z" fill="#c2c2c2"/>
<path d="M318.3,1097.3L317.4,1093.4L325.1,1092.9L325,1096.8Z" fill="#e2e2e2"/>
<path d="M317.5,1093.9L316.6,1090L325.2,1089.4L325.1,1093.3Z" fill="#f3f3f3"/>
<path d="M316.7,1090.4L315.9,1086.6L325.3,1085.9L325.2,1089.8Z" fill="#f6f6f6"/>
<path d="M315.9,1087L315.2,1083.6L325.4,1082.8L325.3,1086.3Z" fill="#cccccc"/>
<path d="M324,1110.7L324.1,1106.8L329.3,1107.5L328.5,1111.3Z" fill="#969696"/>
<path d="M324.1,1107.2L324.2,1103.3L330,1104.1L329.2,1107.9Z" fill="#909090"/>
<path d="M324.2,1103.7L324.3,1099.8L330.7,1100.7L329.9,1104.5Z" fill="#a8a8a8"/>
<path d="M324.3,1100.2L324.4,1096.3L331.4,1097.3L330.6,1101.1Z" fill="#c5c5c5"/>
<path d="M324.4,1096.7L324.5,1092.8L332.1,1093.9L331.3,1097.7Z" fill="#e0e0e0"/>
<path d="M324.5,1093.3L324.6,1089.4L332.9,1090.5L332.1,1094.3Z" fill="#efefef"/>
<path d="M324.6,1089.8L324.7,1085.9L333.6,1087.2L332.8,1091Z" fill="#f2f2f2"/>
<path d="M324.7,1086.3L324.8,1082.8L334.2,1084.2L333.5,1087.6Z" fill="#c6c6c6"/>
<path d="M327.9,1111.1L328.7,1107.3L333,1108.6L331.4,1112.1Z" fill="#959595"/>
<path d="M328.6,1107.8L329.4,1104L334.4,1105.5L332.8,1108.9Z" fill="#979797"/>
<path d="M329.3,1104.4L330.1,1100.6L335.9,1102.3L334.3,1105.8Z" fill="#adadad"/>
<path d="M330,1101L330.8,1097.2L337.3,1099.2L335.7,1102.7Z" fill="#c8c8c8"/>
<path d="M330.8,1097.6L331.6,1093.8L338.8,1096.1L337.2,1099.6Z" fill="#dddddd"/>
<path d="M331.5,1094.2L332.3,1090.4L340.2,1093L338.6,1096.5Z" fill="#e6e6e6"/>
<path d="M332.2,1090.8L333,1087L341.7,1089.9L340.1,1093.4Z" fill="#e5e5e5"/>
<path d="M332.9,1087.4L333.6,1084.1L343,1087.1L341.5,1090.2Z" fill="#bdbdbd"/>
<path d="M330.8,1111.8L332.4,1108.3L335.7,1110.6L333.3,1113.5Z" fill="#898989"/>
<path d="M332.3,1108.7L333.9,1105.2L337.8,1107.9L335.4,1110.9Z" fill="#a1a1a1"/>
<path d="M333.7,1105.6L335.3,1102.1L339.9,1105.2L337.5,1108.2Z" fill="#b5b5b5"/>
<path d="M335.2,1102.5L336.8,1099L342.1,1102.6L339.7,1105.6Z" fill="#cccccc"/>
<path d="M336.6,1099.3L338.2,1095.9L344.2,1099.9L341.8,1102.9Z" fill="#d9d9d9"/>
<path d="M338.1,1096.2L339.7,1092.7L346.4,1097.3L344,1100.3Z" fill="#dbdbdb"/>
<path d="M339.5,1093.1L341.1,1089.6L348.5,1094.6L346.1,1097.6Z" fill="#d1d1d1"/>
<path d="M341,1090L342.4,1086.9L350.4,1092.3L348.3,1094.9Z" fill="#b3b3b3"/>
<path d="M332.8,1113.2L335.2,1110.2L340.2,1114.8L337.9,1117.8Z" fill="#8d8d8d"/>
<path d="M334.9,1110.5L337.3,1107.5L342.3,1112.1L340,1115.1Z" fill="#a6a6a6"/>
<path d="M337.1,1107.8L339.5,1104.9L344.3,1109.4L342,1112.4Z" fill="#bbbbbb"/>
<path d="M339.2,1105.2L341.6,1102.2L346.3,1106.6L344.1,1109.7Z" fill="#cecece"/>
<path d="M341.4,1102.5L343.8,1099.6L348.4,1103.9L346.1,1107Z" fill="#d7d7d7"/>
<path d="M343.5,1099.9L345.9,1096.9L350.4,1101.2L348.1,1104.3Z" fill="#d6d6d6"/>
<path d="M345.7,1097.2L348.1,1094.2L352.5,1098.5L350.2,1101.6Z" fill="#c8c8c8"/>
<path d="M347.8,1094.6L349.9,1091.9L354.3,1096.1L352.2,1098.8Z" fill="#b0b0b0"/>
<path d="M337.5,1117.4L339.7,1114.4L348.6,1118.9L347.6,1122.6Z" fill="#8e8e8e"/>
<path d="M339.5,1114.7L341.8,1111.7L349.4,1115.7L348.5,1119.3Z" fill="#9c9c9c"/>
<path d="M341.5,1112L343.8,1109L350.3,1112.4L349.3,1116.1Z" fill="#b1b1b1"/>
<path d="M343.6,1109.3L345.9,1106.3L351.1,1109.1L350.2,1112.8Z" fill="#cacaca"/>
<path d="M345.6,1106.6L347.9,1103.6L352,1105.9L351,1109.5Z" fill="#dbdbdb"/>
<path d="M347.7,1103.9L349.9,1100.9L352.8,1102.6L351.9,1106.3Z" fill="#e0e0e0"/>
<path d="M349.7,1101.2L352,1098.2L353.7,1099.3L352.7,1103Z" fill="#dadada"/>
<path d="M351.7,1098.5L353.8,1095.8L354.4,1096.5L353.6,1099.7Z" fill="#b7b7b7"/>
<path d="M347,1122.4L348,1118.8L358.3,1119.3L358.5,1123Z" fill="#969696"/>
<path d="M347.9,1119.2L348.8,1115.5L358.1,1115.9L358.3,1119.7Z" fill="#909090"/>
<path d="M348.7,1115.9L349.7,1112.3L357.9,1112.5L358.1,1116.3Z" fill="#a8a8a8"/>
<path d="M349.6,1112.6L350.6,1109L357.7,1109.2L357.9,1112.9Z" fill="#c5c5c5"/>
<path d="M350.4,1109.4L351.4,1105.7L357.5,1105.8L357.7,1109.6Z" fill="#e0e0e0"/>
<path d="M351.3,1106.1L352.3,1102.5L357.3,1102.4L357.5,1106.2Z" fill="#f0f0f0"/>
<path d="M352.2,1102.8L353.1,1099.2L357.1,1099.1L357.3,1102.8Z" fill="#f3f3f3"/>
<path d="M353,1099.6L353.9,1096.3L356.9,1096.1L357.1,1099.5Z" fill="#c6c6c6"/>
<path d="M357.9,1123.1L357.7,1119.3L366.5,1118L367.1,1121.8Z" fill="#969696"/>
<path d="M357.7,1119.7L357.5,1115.9L365.9,1114.7L366.5,1118.4Z" fill="#8a8a8a"/>
<path d="M357.5,1116.3L357.3,1112.6L365.4,1111.4L366,1115.1Z" fill="#a3a3a3"/>
<path d="M357.3,1113L357.1,1109.2L364.9,1108L365.5,1111.8Z" fill="#c2c2c2"/>
<path d="M357.1,1109.6L356.9,1105.8L364.4,1104.7L364.9,1108.4Z" fill="#e2e2e2"/>
<path d="M356.9,1106.2L356.7,1102.5L363.8,1101.4L364.4,1105.1Z" fill="#f3f3f3"/>
<path d="M356.7,1102.9L356.5,1099.1L363.3,1098L363.9,1101.8Z" fill="#f6f6f6"/>
<path d="M356.5,1099.5L356.3,1096.2L362.8,1095.1L363.4,1098.4Z" fill="#cccccc"/>
<path d="M366.5,1121.9L365.9,1118.1L371.7,1117.1L372.4,1120.8Z" fill="#969696"/>
<path d="M365.9,1118.5L365.3,1114.8L371.2,1113.8L371.8,1117.5Z" fill="#898989"/>
<path d="M365.4,1115.2L364.8,1111.5L370.6,1110.5L371.2,1114.2Z" fill="#a2a2a2"/>
<path d="M364.9,1111.9L364.3,1108.1L370,1107.1L370.6,1110.9Z" fill="#c1c1c1"/>
<path d="M364.4,1108.5L363.8,1104.8L369.4,1103.8L370.1,1107.5Z" fill="#e3e3e3"/>
<path d="M363.8,1105.2L363.2,1101.5L368.9,1100.5L369.5,1104.2Z" fill="#f4f4f4"/>
<path d="M363.3,1101.9L362.7,1098.1L368.3,1097.2L368.9,1100.9Z" fill="#f7f7f7"/>
<path d="M362.8,1098.5L362.2,1095.2L367.8,1094.2L368.4,1097.6Z" fill="#cccccc"/>
<path d="M336.3,1089.3 C338,1090.4 346.1,1093.9 348.5,1097.6 C351,1101.4 353.8,1114.8 354.6,1117.4" fill="none" stroke="#8e8e8e" stroke-width="1.3"/>
<path d="M397.9,1180.5L399.7,1175.8L402.3,1169L404.8,1162.3L406.9,1156.2L409.1,1150L411.3,1143.5L413.5,1136.2L415.6,1129.1L417,1123.9L418.7,1114.5L381.8,1099.1L376,1107.9L373.2,1114.5L370.5,1121.4L368,1128L365.6,1133.8L363.2,1139.7L360.8,1145.7L358.2,1152.5L355.7,1159.3L353.9,1164Z" fill="#d4d4d4"/>
<path d="M397.9,1180.5L392.9,1178.6L394.9,1173.3L399.9,1175.2Z" fill="#969696"/>
<path d="M393.5,1178.9L388.5,1177L390.5,1171.7L395.5,1173.6Z" fill="#8f8f8f"/>
<path d="M389.1,1177.2L384.1,1175.3L386.1,1170L391.1,1171.9Z" fill="#959595"/>
<path d="M384.7,1175.6L379.7,1173.7L381.7,1168.4L386.7,1170.3Z" fill="#aaaaaa"/>
<path d="M380.3,1173.9L375.3,1172L377.2,1166.7L382.3,1168.6Z" fill="#c5c5c5"/>
<path d="M375.9,1172.3L370.9,1170.4L372.8,1165.1L377.9,1167Z" fill="#e0e0e0"/>
<path d="M371.5,1170.6L366.5,1168.7L368.4,1163.4L373.5,1165.3Z" fill="#f2f2f2"/>
<path d="M367.1,1169L362.1,1167.1L364,1161.8L369.1,1163.7Z" fill="#f6f6f6"/>
<path d="M362.7,1167.3L357.7,1165.4L359.6,1160.1L364.7,1162Z" fill="#f7f7f7"/>
<path d="M358.3,1165.7L353.9,1164L355.9,1158.7L360.3,1160.3Z" fill="#c6c6c6"/>
<path d="M399.7,1175.8L394.7,1173.9L397.4,1166.6L402.5,1168.5Z" fill="#969696"/>
<path d="M395.3,1174.1L390.2,1172.2L393,1164.9L398.1,1166.8Z" fill="#8f8f8f"/>
<path d="M390.9,1172.5L385.8,1170.6L388.6,1163.2L393.7,1165.1Z" fill="#959595"/>
<path d="M386.5,1170.8L381.4,1168.9L384.2,1161.6L389.3,1163.5Z" fill="#aaaaaa"/>
<path d="M382.1,1169.2L377,1167.3L379.8,1159.9L384.9,1161.8Z" fill="#c5c5c5"/>
<path d="M377.7,1167.5L372.6,1165.6L375.4,1158.3L380.4,1160.2Z" fill="#e0e0e0"/>
<path d="M373.3,1165.9L368.2,1164L371,1156.6L376,1158.5Z" fill="#f2f2f2"/>
<path d="M368.9,1164.2L363.8,1162.3L366.6,1155L371.6,1156.9Z" fill="#f6f6f6"/>
<path d="M364.5,1162.6L359.4,1160.7L362.2,1153.3L367.2,1155.2Z" fill="#f7f7f7"/>
<path d="M360.1,1160.9L355.7,1159.3L358.4,1151.9L362.8,1153.6Z" fill="#c6c6c6"/>
<path d="M402.3,1169L397.2,1167.1L399.9,1159.8L405,1161.7Z" fill="#969696"/>
<path d="M397.9,1167.4L392.8,1165.5L395.5,1158.1L400.6,1160Z" fill="#8f8f8f"/>
<path d="M393.5,1165.7L388.4,1163.8L391.1,1156.5L396.2,1158.4Z" fill="#959595"/>
<path d="M389,1164.1L384,1162.2L386.7,1154.8L391.8,1156.7Z" fill="#aaaaaa"/>
<path d="M384.6,1162.4L379.6,1160.5L382.3,1153.2L387.4,1155.1Z" fill="#c5c5c5"/>
<path d="M380.2,1160.7L375.2,1158.8L377.9,1151.5L383,1153.4Z" fill="#e0e0e0"/>
<path d="M375.8,1159.1L370.8,1157.2L373.5,1149.9L378.6,1151.8Z" fill="#f2f2f2"/>
<path d="M371.4,1157.4L366.3,1155.5L369.1,1148.2L374.2,1150.1Z" fill="#f6f6f6"/>
<path d="M367,1155.8L361.9,1153.9L364.7,1146.5L369.8,1148.5Z" fill="#f7f7f7"/>
<path d="M362.6,1154.1L358.2,1152.5L361,1145.1L365.4,1146.8Z" fill="#c6c6c6"/>
<path d="M404.8,1162.3L399.7,1160.4L402.1,1153.8L407.1,1155.7Z" fill="#969696"/>
<path d="M400.4,1160.6L395.3,1158.7L397.7,1152.1L402.8,1154Z" fill="#909090"/>
<path d="M396,1159L390.9,1157L393.4,1150.5L398.4,1152.4Z" fill="#959595"/>
<path d="M391.6,1157.3L386.5,1155.4L389,1148.8L394,1150.7Z" fill="#aaaaaa"/>
<path d="M387.2,1155.6L382.1,1153.7L384.6,1147.1L389.6,1149Z" fill="#c5c5c5"/>
<path d="M382.8,1154L377.7,1152.1L380.2,1145.5L385.3,1147.4Z" fill="#e0e0e0"/>
<path d="M378.4,1152.3L373.3,1150.4L375.9,1143.8L380.9,1145.7Z" fill="#f2f2f2"/>
<path d="M374,1150.7L368.9,1148.8L371.5,1142.2L376.5,1144.1Z" fill="#f6f6f6"/>
<path d="M369.6,1149L364.5,1147.1L367.1,1140.5L372.1,1142.4Z" fill="#f7f7f7"/>
<path d="M365.2,1147.4L360.8,1145.7L363.4,1139.1L367.8,1140.8Z" fill="#c6c6c6"/>
<path d="M406.9,1156.2L401.9,1154.3L404.3,1147.6L409.3,1149.5Z" fill="#969696"/>
<path d="M402.6,1154.6L397.5,1152.7L399.9,1146L405,1147.9Z" fill="#8f8f8f"/>
<path d="M398.2,1152.9L393.1,1151L395.6,1144.4L400.6,1146.2Z" fill="#959595"/>
<path d="M393.8,1151.3L388.8,1149.4L391.2,1142.7L396.3,1144.6Z" fill="#aaaaaa"/>
<path d="M389.4,1149.6L384.4,1147.7L386.9,1141.1L391.9,1143Z" fill="#c5c5c5"/>
<path d="M385.1,1147.9L380,1146L382.5,1139.5L387.5,1141.4Z" fill="#e0e0e0"/>
<path d="M380.7,1146.3L375.6,1144.4L378.2,1137.9L383.2,1139.7Z" fill="#f2f2f2"/>
<path d="M376.3,1144.6L371.3,1142.7L373.8,1136.2L378.8,1138.1Z" fill="#f6f6f6"/>
<path d="M371.9,1143L366.9,1141.1L369.5,1134.6L374.5,1136.5Z" fill="#f7f7f7"/>
<path d="M367.6,1141.3L363.2,1139.7L365.8,1133.2L370.1,1134.9Z" fill="#c6c6c6"/>
<path d="M409.1,1150L404.1,1148.2L406.5,1141.1L411.5,1142.9Z" fill="#969696"/>
<path d="M404.7,1148.4L399.7,1146.5L402.2,1139.6L407.1,1141.3Z" fill="#8f8f8f"/>
<path d="M400.4,1146.8L395.4,1144.9L397.8,1138L402.8,1139.8Z" fill="#969696"/>
<path d="M396,1145.2L391,1143.3L393.5,1136.5L398.5,1138.2Z" fill="#aaaaaa"/>
<path d="M391.7,1143.5L386.7,1141.7L389.2,1134.9L394.2,1136.7Z" fill="#c5c5c5"/>
<path d="M387.3,1141.9L382.3,1140L384.8,1133.4L389.8,1135.1Z" fill="#e0e0e0"/>
<path d="M383,1140.3L378,1138.4L380.5,1131.8L385.5,1133.6Z" fill="#f2f2f2"/>
<path d="M378.6,1138.7L373.6,1136.8L376.2,1130.3L381.2,1132Z" fill="#f6f6f6"/>
<path d="M374.3,1137L369.3,1135.2L371.9,1128.7L376.8,1130.5Z" fill="#f7f7f7"/>
<path d="M369.9,1135.4L365.6,1133.8L368.2,1127.4L372.5,1128.9Z" fill="#c5c5c5"/>
<path d="M411.3,1143.5L406.3,1141.7L408.8,1134L413.7,1135.7Z" fill="#969696"/>
<path d="M406.9,1141.9L402,1140.1L404.5,1132.5L409.4,1134.2Z" fill="#8f8f8f"/>
<path d="M402.6,1140.4L397.6,1138.6L400.2,1131L405.1,1132.7Z" fill="#969696"/>
<path d="M398.3,1138.8L393.3,1137L395.9,1129.5L400.8,1131.2Z" fill="#aaaaaa"/>
<path d="M394,1137.3L389,1135.5L391.6,1128L396.5,1129.7Z" fill="#c6c6c6"/>
<path d="M389.6,1135.7L384.6,1133.9L387.3,1126.6L392.2,1128.3Z" fill="#e0e0e0"/>
<path d="M385.3,1134.2L380.3,1132.4L383,1125.1L387.9,1126.8Z" fill="#f2f2f2"/>
<path d="M381,1132.6L376,1130.8L378.7,1123.6L383.6,1125.3Z" fill="#f6f6f6"/>
<path d="M376.6,1131.1L371.6,1129.3L374.4,1122.1L379.3,1123.8Z" fill="#f7f7f7"/>
<path d="M372.3,1129.5L368,1128L370.7,1120.9L375,1122.3Z" fill="#c5c5c5"/>
<path d="M413.5,1136.2L408.6,1134.5L410.9,1126.8L415.8,1128.5Z" fill="#969696"/>
<path d="M409.2,1134.8L404.3,1133.1L406.7,1125.4L411.6,1127.1Z" fill="#8f8f8f"/>
<path d="M404.9,1133.3L400,1131.6L402.5,1123.9L407.3,1125.6Z" fill="#969696"/>
<path d="M400.6,1131.8L395.7,1130.1L398.2,1122.5L403.1,1124.1Z" fill="#ababab"/>
<path d="M396.3,1130.3L391.4,1128.6L394,1121L398.9,1122.7Z" fill="#c6c6c6"/>
<path d="M392,1128.8L387.1,1127.1L389.7,1119.5L394.6,1121.2Z" fill="#e0e0e0"/>
<path d="M387.7,1127.4L382.8,1125.7L385.5,1118.1L390.4,1119.8Z" fill="#f2f2f2"/>
<path d="M383.4,1125.9L378.5,1124.2L381.3,1116.6L386.1,1118.3Z" fill="#f6f6f6"/>
<path d="M379.1,1124.4L374.2,1122.7L377,1115.1L381.9,1116.8Z" fill="#f7f7f7"/>
<path d="M374.8,1122.9L370.5,1121.4L373.4,1113.9L377.7,1115.4Z" fill="#c5c5c5"/>
<path d="M415.6,1129.1L410.7,1127.4L412.5,1121.5L417.2,1123.4Z" fill="#969696"/>
<path d="M411.4,1127.6L406.5,1126L408.4,1119.9L413.1,1121.8Z" fill="#8f8f8f"/>
<path d="M407.1,1126.2L402.3,1124.5L404.3,1118.3L409,1120.2Z" fill="#969696"/>
<path d="M402.9,1124.7L398,1123L400.2,1116.7L404.9,1118.6Z" fill="#aaaaaa"/>
<path d="M398.7,1123.2L393.8,1121.6L396.1,1115.1L400.8,1117Z" fill="#c5c5c5"/>
<path d="M394.4,1121.8L389.5,1120.1L392,1113.5L396.7,1115.4Z" fill="#e0e0e0"/>
<path d="M390.2,1120.3L385.3,1118.6L387.9,1111.9L392.6,1113.8Z" fill="#f2f2f2"/>
<path d="M385.9,1118.9L381.1,1117.2L383.8,1110.3L388.5,1112.2Z" fill="#f6f6f6"/>
<path d="M381.7,1117.4L376.8,1115.7L379.7,1108.7L384.4,1110.6Z" fill="#f7f7f7"/>
<path d="M377.5,1115.9L373.2,1114.5L376.2,1107.3L380.3,1109Z" fill="#c5c5c5"/>
<path d="M417,1123.9L412.3,1122.1L414.7,1112.2L419,1113.9Z" fill="#969696"/>
<path d="M412.9,1122.3L408.2,1120.5L411,1110.6L415.3,1112.4Z" fill="#909090"/>
<path d="M408.8,1120.7L404.1,1118.9L407.3,1109.1L411.6,1110.8Z" fill="#959595"/>
<path d="M404.7,1119.1L400,1117.3L403.6,1107.5L407.9,1109.3Z" fill="#aaaaaa"/>
<path d="M400.6,1117.5L395.9,1115.7L400,1106L404.2,1107.8Z" fill="#c5c5c5"/>
<path d="M396.5,1115.9L391.8,1114.1L396.3,1104.5L400.5,1106.2Z" fill="#e0e0e0"/>
<path d="M392.4,1114.3L387.7,1112.5L392.6,1102.9L396.8,1104.7Z" fill="#f2f2f2"/>
<path d="M388.3,1112.7L383.6,1110.9L388.9,1101.4L393.1,1103.2Z" fill="#f6f6f6"/>
<path d="M384.2,1111.1L379.5,1109.3L385.2,1099.8L389.4,1101.6Z" fill="#f7f7f7"/>
<path d="M380.1,1109.5L376,1107.9L382,1098.5L385.7,1100.1Z" fill="#c6c6c6"/>
<path d="M374.4,1105.3 C376.4,1104.5 385,1099.3 389.6,1099.5 C394.3,1099.7 405.7,1103.6 409.4,1106.8 C413.2,1110 416.7,1121.3 417.8,1123.5" fill="none" stroke="#8a8a8a" stroke-width="1.4"/>
<path d="M73.6,1035 L103,1047.1 L137.6,1067.9 L161.9,1076.5 L165.3,1073 L203.4,1090.3 L213.8,1093.8 L227.6,1107.6 L274.3,1124.9 L317.6,1144 L341.8,1142.2 L366,1150.9 L393.7,1164.7 L397.9,1183.8 L412.7,1197.6 L404.9,1176.8 L400.7,1157.7 L373,1143.9 L348.8,1135.2 L324.6,1137 L281.3,1117.9 L234.6,1100.6 L220.8,1086.8 L210.4,1083.3 L172.3,1066 L168.9,1069.5 L144.6,1060.9 L110,1040.1 L80.6,1028Z" fill="url(#g3)"/>
<path d="M73.6,1035 L103,1047.1 L137.6,1067.9 L161.9,1076.5 L165.3,1073 L203.4,1090.3 L213.8,1093.8 L227.6,1107.6 L274.3,1124.9 L317.6,1144 L341.8,1142.2 L366,1150.9 L393.7,1164.7 L397.9,1183.8 L412.7,1197.6 L411.7,1211.5 L403.4,1215.6 L386.8,1206.3 L321,1171.7 L296.8,1161.3 L276.1,1156.1 L227.6,1128.4 L213.8,1131.9 L172.2,1107.6 L158.4,1105.9 L134.2,1090.3 L99.6,1080 L84,1055.7 L73.6,1041.9Z" fill="url(#g4)"/>
<path d="M105.7,1050.3 L115.7,1043.3 L123.7,1048.3 L113.7,1056.3Z" fill="#f8f8f8"/>
<path d="M216.4,1097 L226.4,1090 L234.4,1095 L224.4,1103Z" fill="#f8f8f8"/>
<path d="M322,1143.7 L332,1136.7 L340,1141.7 L330,1149.7Z" fill="#f8f8f8"/>
<ellipse cx="120.6" cy="1074.8" rx="24.3" ry="9.5" transform="rotate(39 120.6 1074.8)" fill="#c8c8c8"/>
<ellipse cx="120.6" cy="1074.8" rx="23" ry="8.2" transform="rotate(39 120.6 1074.8)" fill="url(#g5)"/>
<ellipse cx="122.8" cy="1077.2" rx="19.8" ry="5.4" transform="rotate(39 122.8 1077.2)" fill="url(#g6)"/>
<ellipse cx="195.7" cy="1107.2" rx="25.8" ry="10.3" transform="rotate(39 195.7 1107.2)" fill="#c8c8c8"/>
<ellipse cx="195.7" cy="1107.2" rx="24.5" ry="9" transform="rotate(39 195.7 1107.2)" fill="url(#g7)"/>
<ellipse cx="197.9" cy="1109.6" rx="21.1" ry="5.9" transform="rotate(39 197.9 1109.6)" fill="url(#g8)"/>
<ellipse cx="274.6" cy="1142" rx="26.8" ry="11.3" transform="rotate(37 274.6 1142)" fill="#c8c8c8"/>
<ellipse cx="274.6" cy="1142" rx="25.5" ry="10" transform="rotate(37 274.6 1142)" fill="url(#g9)"/>
<ellipse cx="276.8" cy="1144.4" rx="21.9" ry="6.6" transform="rotate(37 276.8 1144.4)" fill="url(#g10)"/>
<ellipse cx="359.2" cy="1178.3" rx="28.3" ry="12.7" transform="rotate(37 359.2 1178.3)" fill="#c8c8c8"/>
<ellipse cx="359.2" cy="1178.3" rx="27" ry="11.4" transform="rotate(37 359.2 1178.3)" fill="url(#g11)"/>
<ellipse cx="361.4" cy="1180.7" rx="23.2" ry="7.5" transform="rotate(37 361.4 1180.7)" fill="url(#g12)"/>
<ellipse cx="81.6" cy="1047.4" rx="1.6" ry="1.6" transform="rotate(0 81.6 1047.4)" fill="#e6e6e6"/>
<ellipse cx="85.7" cy="1049" rx="1.6" ry="1.6" transform="rotate(0 85.7 1049)" fill="#e6e6e6"/>
<ellipse cx="109.8" cy="1080.6" rx="1.6" ry="1.6" transform="rotate(0 109.8 1080.6)" fill="#e6e6e6"/>
<ellipse cx="113.2" cy="1083.1" rx="1.6" ry="1.6" transform="rotate(0 113.2 1083.1)" fill="#e6e6e6"/>
<ellipse cx="166.3" cy="1105.5" rx="1.6" ry="1.6" transform="rotate(0 166.3 1105.5)" fill="#e6e6e6"/>
<ellipse cx="170.5" cy="1108" rx="1.6" ry="1.6" transform="rotate(0 170.5 1108)" fill="#e6e6e6"/>
<ellipse cx="216.1" cy="1102.2" rx="1.6" ry="1.6" transform="rotate(0 216.1 1102.2)" fill="#e6e6e6"/>
<ellipse cx="220.3" cy="1104.7" rx="1.6" ry="1.6" transform="rotate(0 220.3 1104.7)" fill="#e6e6e6"/>
<ellipse cx="324.2" cy="1173" rx="1.6" ry="1.6" transform="rotate(0 324.2 1173)" fill="#e6e6e6"/>
<ellipse cx="328.7" cy="1176.1" rx="1.6" ry="1.6" transform="rotate(0 328.7 1176.1)" fill="#e6e6e6"/>
<ellipse cx="363" cy="1164.6" rx="1.6" ry="1.6" transform="rotate(0 363 1164.6)" fill="#e6e6e6"/>
<ellipse cx="368.3" cy="1168.4" rx="1.6" ry="1.6" transform="rotate(0 368.3 1168.4)" fill="#e6e6e6"/>
<ellipse cx="388.9" cy="1201.9" rx="1.6" ry="1.6" transform="rotate(0 388.9 1201.9)" fill="#e6e6e6"/>
<ellipse cx="394.2" cy="1205" rx="1.6" ry="1.6" transform="rotate(0 394.2 1205)" fill="#e6e6e6"/>
</g>
<g filter="url(#soft)">
<path d="M37.8,1068.7 C38.7,1068.3 50.3,1072.2 52,1072.8 C53.6,1073.5 64,1078.2 65.7,1079.7 C67.3,1081.2 77.6,1095.4 79.4,1098 C81.2,1100.6 93.4,1121.1 95.4,1123.1 C97.3,1125 109.8,1130.7 111.3,1130.4 C112.9,1130.1 117.2,1117.9 120.5,1118.1 C123.8,1118.2 162.6,1132.1 166.2,1133.4 C169.7,1134.6 178.5,1138 179.9,1139.1 C181.2,1140.1 186.7,1148.6 189,1150.5 C191.3,1152.4 215.7,1168.6 218.7,1171 C221.7,1173.5 236.2,1189.1 239.2,1191.6 C242.2,1194.1 266.1,1212.4 268.9,1212.6 C271.7,1212.8 282.9,1194.9 286,1194.6 C289.2,1194.3 318.7,1205.8 321.4,1207.6 C324.1,1209.3 330.5,1220.4 331,1223.6 C331.5,1226.7 331.1,1257.2 329.9,1260.1 C328.6,1263 312.7,1271.9 310,1272 C307.3,1272 287.9,1262.2 284.9,1260.6 C281.9,1258.9 261.4,1246.2 259.8,1244.6 C258.1,1242.9 258.7,1234.1 257.5,1232.7 C256.3,1231.3 241.7,1222.7 239.2,1221.7 C236.8,1220.8 218.7,1218.5 216.4,1217.2 C214.1,1215.8 202.9,1200.9 200.4,1198.9 C197.9,1196.8 177.6,1183.6 175.3,1182.9 C173,1182.2 163.5,1187.7 161.6,1187.5 C159.7,1187.2 145.4,1179.3 143.3,1178.3 C141.3,1177.4 129.4,1172 127.3,1171.5 C125.3,1170.9 110.4,1170.3 109.1,1169.2 C107.7,1168.1 105.7,1154.8 104.5,1153.2 C103.3,1151.7 90.8,1144.5 88.5,1143.6 C86.2,1142.8 69,1141 66.8,1139.5 C64.6,1138.1 53.3,1122.5 52,1119.7 C50.6,1116.8 44.9,1094 44,1091.6 C43.1,1089.1 37.7,1080.6 37.4,1079.2 C37,1077.9 36.9,1069.1 37.8,1068.7Z" fill="url(#gk)"/>
<ellipse cx="47.4" cy="1082.7" rx="6.2" ry="3.9" transform="rotate(35 47.4 1082.7)" fill="#fff"/>
<ellipse cx="73.9" cy="1119.2" rx="12.3" ry="22.8" transform="rotate(-32 73.9 1119.2)" fill="#fff"/>
<ellipse cx="113.6" cy="1158.9" rx="4.3" ry="7.3" transform="rotate(-35 113.6 1158.9)" fill="#fff"/>
<ellipse cx="144.5" cy="1155.7" rx="14.2" ry="24.7" transform="rotate(-36 144.5 1155.7)" fill="#fff"/>
<ellipse cx="176.7" cy="1145.9" rx="6.2" ry="9.1" transform="rotate(-40 176.7 1145.9)" fill="#fff"/>
<ellipse cx="219.1" cy="1194.3" rx="14.2" ry="25.6" transform="rotate(-36 219.1 1194.3)" fill="#fff"/>
<ellipse cx="264.3" cy="1238.6" rx="4.6" ry="7.3" transform="rotate(-38 264.3 1238.6)" fill="#fff"/>
<ellipse cx="299.5" cy="1236.3" rx="16.9" ry="25.6" transform="rotate(-30 299.5 1236.3)" fill="#fff"/>
<ellipse cx="320.5" cy="1220.8" rx="4.6" ry="7.8" transform="rotate(-35 320.5 1220.8)" fill="#fff"/>
</g>
<g filter="url(#soft)">
<path d="M1283.7,93.6 C1284.2,92.5 1290.6,73.3 1292.4,72.3 C1294.3,71.3 1319.1,73.6 1320.5,73.6" fill="none" stroke="#cfc468" stroke-width="4.2" stroke-linecap="round" stroke-linejoin="round"/>
<path d="M1283.7,93.6 C1284.2,92.5 1290.6,73.3 1292.4,72.3 C1294.3,71.3 1319.1,73.6 1320.5,73.6" fill="none" stroke="#f0e692" stroke-width="1.6800000000000002" stroke-linecap="round" stroke-linejoin="round"/>
<path d="M1054.1,284.9 L1110.6,282 L1110.6,284.5 L1054.1,287.7Z" fill="#d2c76a"/>
<path d="M1156.8,186.6 C1156.7,184.5 1150.1,185.8 1158.7,176.9 C1167.3,168.1 1233,106.6 1243,98.4 C1253,90.3 1255.2,95.4 1258.5,95 C1261.8,94.5 1272.1,93.3 1276,93.6 C1279.8,94 1293.6,96.8 1297.3,98.4 C1301,100.1 1310.5,107.5 1312.8,110.1 C1315.1,112.7 1319.4,122.3 1320.2,124.6 C1320.9,126.9 1327.9,125.5 1320.5,133.3 C1313.2,141.2 1254.8,195.3 1246.9,203.1 C1239,210.9 1243.4,210.2 1241.1,211.8 C1238.8,213.4 1227.9,218.1 1223.6,219 C1219.4,219.9 1203.5,221.6 1198.4,220.9 C1193.4,220.2 1177.1,214.1 1173.3,211.8 C1169.4,209.6 1161.3,200.8 1159.7,198.3 C1158,195.7 1156.9,188.8 1156.8,186.6Z" fill="url(#g13)"/>
<path d="M1243,98.4 C1243.4,98.1 1255.2,95.4 1258.5,95 C1261.8,94.5 1272.1,93.3 1276,93.6 C1279.8,94 1293.6,96.8 1297.3,98.4 C1301,100.1 1310.5,107.5 1312.8,110.1 C1315.1,112.7 1319.4,122.3 1320.2,124.6 C1320.9,126.9 1321.1,133.4 1320.5,133.3 C1320,133.2 1316.3,126 1314.7,123.6 C1313.2,121.3 1307.6,112.3 1305,110.1 C1302.5,107.8 1293,102.6 1289.5,101.4 C1286,100.1 1273.6,97.8 1270.2,97.5 C1266.7,97.2 1257.4,98.4 1254.7,98.4 C1251.9,98.5 1242.6,98.8 1243,98.4Z" fill="#d8ce72" opacity="0.55"/>
<path d="M1301.2,137.2 L1345.7,141.1 L1332.2,152.7 L1305,150.8Z" fill="url(#g14)"/>
<path d="M1156.6,186.5 C1157.1,184.1 1158.9,181 1160.8,179 C1162.7,177.1 1167.2,173.5 1170.8,172 C1174.3,170.4 1182.4,168 1187.4,167.4 C1192.4,166.9 1202.6,167 1208.1,167.8 C1213.7,168.6 1224.3,171.3 1228.9,173.2 C1233.6,175.2 1240.4,179.9 1243,182.4 C1245.7,184.8 1248,189.4 1248.8,191.5 C1249.7,193.6 1250.2,196 1249.3,198.1 C1248.3,200.2 1244.6,205 1241.4,207.3 C1238.1,209.5 1230.3,213.6 1224.8,215.2 C1219.2,216.8 1205.9,219 1199.8,219.3 C1193.7,219.7 1183.7,219.1 1179.1,217.7 C1174.4,216.2 1167.8,211.2 1165,208.5 C1162.1,205.8 1158.6,200.2 1157.5,197.3 C1156.4,194.4 1156.2,188.9 1156.6,186.5Z" fill="url(#g15)"/>
<path d="M1156.6,186.5 C1157.2,185.5 1158.9,181 1160.8,179 C1162.7,177.1 1167.2,173.5 1170.8,172 C1174.3,170.4 1182.4,168 1187.4,167.4 C1192.4,166.9 1202.6,167 1208.1,167.8 C1213.7,168.6 1224.3,171.3 1228.9,173.2 C1233.6,175.2 1240.4,179.9 1243,182.4 C1245.7,184.8 1248.1,190.3 1248.8,191.5" fill="none" stroke="#f2e998" stroke-width="2"/>
<path d="M1162.5,186.5 C1163.7,185.3 1168.3,179.2 1171.6,177.4 C1174.9,175.5 1182.5,173.4 1187.4,172.8 C1192.2,172.3 1202.8,172.5 1208.1,173.2 C1213.5,173.9 1223,176.4 1227.2,178.2 C1231.5,180 1238,185.4 1239.7,186.5" fill="none" stroke="#b9ae58" stroke-width="1.2" opacity="0.7"/>
<path d="M1097.9,283.4L1097.9,275.8L1097.8,266.4L1097.8,258.9L1097.7,251.4L1097.5,244.1L1097.3,237.3L1097.1,230.4L1097.3,224.6L1098.4,218.5L1098.7,216L1102,213L1102.1,213.4L1101.5,213L1106.8,214.3L1109.1,215.8L1114.4,219.1L1120.1,222.7L1125.8,226.3L1132.4,230.3L1140.8,234L1152,235.2L1163.1,231.7L1171.1,225L1176.8,218.2L1181.6,211.7L1185.4,206.2L1191.6,198.3L1196.7,191.7L1175.3,175.3L1170.4,181.7L1163.8,190L1159.7,196L1155.6,201.4L1151.8,205.8L1149.5,207.7L1149.9,207.6L1148.6,207.2L1146.6,205.8L1141.6,202.3L1135.9,198.3L1130.3,194.6L1124.5,190.8L1117.2,186.7L1104.7,183.2L1093.8,184.5L1084,189L1073.7,199.6L1069.3,211.2L1067.5,221.4L1067.3,230.8L1067.9,238.7L1068.4,245.4L1068.7,251.6L1068.4,258.1L1067.8,265.6L1067.3,275L1066.9,282.6Z" fill="#d2c768"/>
<path d="M1097.9,283.4L1093.6,283.3L1093.6,275.1L1097.9,275.2Z" fill="#8a7f34"/>
<path d="M1094,283.3L1089.7,283.2L1089.8,275L1094,275.1Z" fill="#958c3e"/>
<path d="M1090.1,283.2L1085.8,283.1L1086,274.9L1090.2,275Z" fill="#a39a4b"/>
<path d="M1086.3,283.1L1081.9,283L1082.1,274.8L1086.4,274.9Z" fill="#afa655"/>
<path d="M1082.4,283L1078.1,282.9L1078.3,274.7L1082.6,274.8Z" fill="#b8af5d"/>
<path d="M1078.5,282.9L1074.2,282.8L1074.5,274.6L1078.8,274.7Z" fill="#c0b767"/>
<path d="M1074.7,282.8L1070.3,282.7L1070.7,274.5L1075,274.6Z" fill="#c2b969"/>
<path d="M1070.8,282.7L1066.9,282.6L1067.3,274.4L1071.1,274.5Z" fill="#b8ae5d"/>
<path d="M1097.9,275.8L1093.6,275.7L1093.6,265.7L1097.8,265.8Z" fill="#8a7f34"/>
<path d="M1094,275.7L1089.8,275.6L1089.9,265.6L1094.1,265.7Z" fill="#958c3e"/>
<path d="M1090.2,275.6L1085.9,275.5L1086.1,265.5L1090.3,265.6Z" fill="#a39a4a"/>
<path d="M1086.4,275.5L1082.1,275.4L1082.4,265.4L1086.6,265.5Z" fill="#afa655"/>
<path d="M1082.6,275.4L1078.3,275.3L1078.6,265.3L1082.8,265.4Z" fill="#b8af5d"/>
<path d="M1078.8,275.3L1074.5,275.2L1074.9,265.2L1079.1,265.3Z" fill="#c1b767"/>
<path d="M1074.9,275.2L1070.7,275.1L1071.1,265.1L1075.3,265.2Z" fill="#c2b969"/>
<path d="M1071.1,275.1L1067.3,275L1067.8,265L1071.6,265.1Z" fill="#b8ae5d"/>
<path d="M1097.8,266.4L1093.6,266.3L1093.7,258.2L1097.8,258.3Z" fill="#8a8034"/>
<path d="M1094,266.3L1089.8,266.2L1090,258.1L1094.1,258.2Z" fill="#968c3e"/>
<path d="M1090.3,266.2L1086.1,266.1L1086.3,258L1090.4,258.1Z" fill="#a49a4b"/>
<path d="M1086.5,266.1L1082.4,266L1082.6,257.9L1086.8,258Z" fill="#b0a655"/>
<path d="M1082.8,266L1078.6,265.9L1079,257.8L1083.1,257.9Z" fill="#b9b05e"/>
<path d="M1079.1,265.9L1074.9,265.8L1075.3,257.7L1079.4,257.8Z" fill="#c1b868"/>
<path d="M1075.3,265.8L1071.1,265.7L1071.6,257.6L1075.7,257.7Z" fill="#c3ba6a"/>
<path d="M1071.6,265.7L1067.8,265.6L1068.4,257.5L1072.1,257.6Z" fill="#b8af5d"/>
<path d="M1097.8,258.9L1093.6,258.8L1093.6,250.8L1097.7,250.8Z" fill="#8c8134"/>
<path d="M1094.1,258.8L1090,258.7L1090,250.8L1094.1,250.8Z" fill="#988e3f"/>
<path d="M1090.4,258.7L1086.3,258.6L1086.4,250.9L1090.4,250.8Z" fill="#a69d4c"/>
<path d="M1086.7,258.6L1082.6,258.5L1082.8,250.9L1086.8,250.9Z" fill="#b2a857"/>
<path d="M1083.1,258.5L1078.9,258.4L1079.1,250.9L1083.2,250.9Z" fill="#bbb25f"/>
<path d="M1079.4,258.4L1075.3,258.3L1075.5,251L1079.6,250.9Z" fill="#c3ba68"/>
<path d="M1075.7,258.3L1071.6,258.2L1071.9,251L1075.9,251Z" fill="#c4bb6a"/>
<path d="M1072,258.2L1068.4,258.1L1068.7,251L1072.3,251Z" fill="#bab05d"/>
<path d="M1097.7,251.4L1093.6,251.4L1093.4,243.7L1097.5,243.5Z" fill="#8f8536"/>
<path d="M1094.1,251.4L1090,251.4L1089.8,243.9L1093.8,243.7Z" fill="#9d9341"/>
<path d="M1090.4,251.4L1086.4,251.5L1086.1,244L1090.2,243.9Z" fill="#aba14e"/>
<path d="M1086.8,251.5L1082.8,251.5L1082.5,244.2L1086.6,244Z" fill="#b7ad59"/>
<path d="M1083.2,251.5L1079.1,251.5L1078.8,244.4L1082.9,244.2Z" fill="#c0b661"/>
<path d="M1079.6,251.5L1075.5,251.6L1075.2,244.5L1079.3,244.3Z" fill="#c8be6a"/>
<path d="M1076,251.6L1071.9,251.6L1071.6,244.7L1075.6,244.5Z" fill="#c8bf6b"/>
<path d="M1072.3,251.6L1068.7,251.6L1068.3,244.8L1072,244.7Z" fill="#beb45f"/>
<path d="M1097.5,244.1L1093.4,244.3L1093.2,236.9L1097.3,236.7Z" fill="#958a38"/>
<path d="M1093.9,244.3L1089.8,244.5L1089.5,237.1L1093.6,236.8Z" fill="#a39944"/>
<path d="M1090.2,244.5L1086.1,244.6L1085.8,237.2L1089.9,237Z" fill="#b2a852"/>
<path d="M1086.6,244.6L1082.5,244.8L1082.1,237.4L1086.3,237.2Z" fill="#beb45d"/>
<path d="M1082.9,244.8L1078.9,245L1078.4,237.6L1082.6,237.4Z" fill="#c7bd65"/>
<path d="M1079.3,244.9L1075.2,245.1L1074.8,237.8L1078.9,237.6Z" fill="#cfc56e"/>
<path d="M1075.7,245.1L1071.6,245.3L1071.1,238L1075.2,237.8Z" fill="#cfc56e"/>
<path d="M1072,245.3L1068.4,245.4L1067.8,238.1L1071.5,238Z" fill="#c4ba62"/>
<path d="M1097.3,237.3L1093.2,237.5L1092.9,229.9L1097.1,229.8Z" fill="#9a8f3a"/>
<path d="M1093.6,237.4L1089.5,237.7L1089.2,229.9L1093.4,229.9Z" fill="#a99e46"/>
<path d="M1090,237.6L1085.8,237.8L1085.5,230L1089.7,229.9Z" fill="#b8ae54"/>
<path d="M1086.3,237.8L1082.2,238L1081.8,230L1085.9,230Z" fill="#c5ba60"/>
<path d="M1082.6,238L1078.5,238.2L1078,230.1L1082.2,230Z" fill="#cec468"/>
<path d="M1078.9,238.2L1074.8,238.4L1074.3,230.1L1078.5,230.1Z" fill="#d7cc72"/>
<path d="M1075.2,238.4L1071.1,238.6L1070.6,230.2L1074.8,230.1Z" fill="#d7cd73"/>
<path d="M1071.6,238.6L1067.9,238.7L1067.3,230.2L1071.1,230.2Z" fill="#ccc166"/>
<path d="M1097.1,230.4L1092.9,230.5L1093.2,223.5L1097.4,224Z" fill="#9e923b"/>
<path d="M1093.4,230.5L1089.2,230.5L1089.5,223.1L1093.7,223.6Z" fill="#aca147"/>
<path d="M1089.7,230.5L1085.5,230.6L1085.7,222.7L1089.9,223.2Z" fill="#bcb156"/>
<path d="M1085.9,230.6L1081.8,230.6L1082,222.4L1086.2,222.8Z" fill="#cabf62"/>
<path d="M1082.2,230.6L1078.1,230.7L1078.3,222L1082.5,222.4Z" fill="#d5ca6c"/>
<path d="M1078.5,230.7L1074.3,230.7L1074.6,221.6L1078.7,222Z" fill="#ded477"/>
<path d="M1074.8,230.7L1070.6,230.8L1070.8,221.2L1075,221.6Z" fill="#e0d67a"/>
<path d="M1071.1,230.8L1067.3,230.8L1067.5,220.8L1071.3,221.2Z" fill="#d4ca6c"/>
<path d="M1097.3,224.6L1093.1,224.1L1094.5,216.9L1098.6,217.9Z" fill="#a0943c"/>
<path d="M1093.6,224.2L1089.4,223.7L1090.9,216L1094.9,217Z" fill="#aca046"/>
<path d="M1089.9,223.8L1085.7,223.3L1087.2,215.1L1091.3,216.1Z" fill="#bcb155"/>
<path d="M1086.1,223.4L1082,223L1083.6,214.2L1087.6,215.2Z" fill="#cbc062"/>
<path d="M1082.4,223L1078.2,222.6L1079.9,213.3L1084,214.3Z" fill="#d8cd6e"/>
<path d="M1078.7,222.6L1074.5,222.2L1076.3,212.4L1080.4,213.4Z" fill="#e4da7d"/>
<path d="M1074.9,222.2L1070.8,221.8L1072.6,211.5L1076.7,212.5Z" fill="#e8de82"/>
<path d="M1071.2,221.8L1067.5,221.4L1069.4,210.7L1073.1,211.6Z" fill="#ded476"/>
<path d="M1098.4,218.5L1094.4,217.5L1095.6,213.2L1099.1,215.5Z" fill="#a0943c"/>
<path d="M1094.8,217.6L1090.7,216.6L1092.4,211.2L1095.9,213.5Z" fill="#a99d43"/>
<path d="M1091.1,216.7L1087.1,215.7L1089.3,209.1L1092.8,211.4Z" fill="#baaf52"/>
<path d="M1087.5,215.8L1083.4,214.8L1086.2,207.1L1089.7,209.4Z" fill="#cabf62"/>
<path d="M1083.9,214.9L1079.8,213.9L1083,205L1086.5,207.3Z" fill="#dacf70"/>
<path d="M1080.2,214L1076.1,213L1079.9,202.9L1083.4,205.2Z" fill="#e8de82"/>
<path d="M1076.6,213.1L1072.5,212L1076.8,200.9L1080.3,203.2Z" fill="#efe58b"/>
<path d="M1072.9,212.2L1069.3,211.2L1074,199.1L1077.1,201.1Z" fill="#e9df82"/>
<path d="M1098.7,216L1095.2,213.7L1100,209.3L1102.5,212.6Z" fill="#a0943c"/>
<path d="M1095.6,214L1092.1,211.7L1097.7,206.3L1100.2,209.6Z" fill="#a69a41"/>
<path d="M1092.5,211.9L1089,209.6L1095.5,203.3L1098,206.6Z" fill="#b7ac50"/>
<path d="M1089.3,209.9L1085.8,207.6L1093.2,200.3L1095.7,203.6Z" fill="#c9be61"/>
<path d="M1086.2,207.8L1082.7,205.5L1091,197.3L1093.5,200.6Z" fill="#dad071"/>
<path d="M1083.1,205.7L1079.6,203.4L1088.7,194.3L1091.2,197.6Z" fill="#ebe186"/>
<path d="M1079.9,203.7L1076.4,201.4L1086.4,191.3L1089,194.6Z" fill="#f4eb93"/>
<path d="M1076.8,201.6L1073.7,199.6L1084.5,188.7L1086.7,191.7Z" fill="#f0e68d"/>
<path d="M1102,213L1099.5,209.6L1101.5,209.2L1102.6,213.2Z" fill="#a0943c"/>
<path d="M1099.8,210L1097.2,206.6L1100.4,205.6L1101.6,209.6Z" fill="#a69b42"/>
<path d="M1097.5,207L1095,203.6L1099.4,202L1100.6,206Z" fill="#b8ad51"/>
<path d="M1095.3,204L1092.7,200.6L1098.4,198.4L1099.5,202.4Z" fill="#c9be61"/>
<path d="M1093,201L1090.5,197.6L1097.3,194.8L1098.5,198.8Z" fill="#dacf71"/>
<path d="M1090.7,198L1088.2,194.6L1096.3,191.2L1097.5,195.2Z" fill="#ebe185"/>
<path d="M1088.5,195L1086,191.7L1095.3,187.6L1096.4,191.6Z" fill="#f3ea91"/>
<path d="M1086.2,192L1084,189L1094.4,184.4L1095.4,188Z" fill="#eee58b"/>
<path d="M1102.1,213.4L1100.9,209.4L1102.5,208.9L1102.1,213.1Z" fill="#a0943c"/>
<path d="M1101,209.8L1099.9,205.8L1102.9,205.2L1102.5,209.3Z" fill="#aa9f45"/>
<path d="M1100,206.2L1098.8,202.2L1103.3,201.4L1102.9,205.6Z" fill="#bbb054"/>
<path d="M1099,202.6L1097.8,198.5L1103.7,197.7L1103.3,201.9Z" fill="#cbc062"/>
<path d="M1097.9,199L1096.8,194.9L1104.1,194L1103.7,198.2Z" fill="#d8ce6f"/>
<path d="M1096.9,195.4L1095.7,191.3L1104.6,190.3L1104.1,194.4Z" fill="#e6db7f"/>
<path d="M1095.8,191.8L1094.7,187.7L1105,186.5L1104.5,190.7Z" fill="#ebe186"/>
<path d="M1094.8,188.2L1093.8,184.5L1105.3,183.3L1104.9,187Z" fill="#e3d87b"/>
<path d="M1101.5,213L1101.9,208.8L1108.8,210.6L1107.4,214.5Z" fill="#a0943c"/>
<path d="M1101.9,209.3L1102.3,205.1L1110.1,207.2L1108.7,211.1Z" fill="#afa449"/>
<path d="M1102.3,205.6L1102.7,201.4L1111.4,203.7L1110,207.6Z" fill="#bfb458"/>
<path d="M1102.7,201.8L1103.1,197.7L1112.7,200.3L1111.3,204.2Z" fill="#ccc163"/>
<path d="M1103.1,198.1L1103.6,193.9L1114,196.8L1112.6,200.7Z" fill="#d6cb6c"/>
<path d="M1103.5,194.4L1104,190.2L1115.3,193.4L1113.9,197.3Z" fill="#ded476"/>
<path d="M1103.9,190.6L1104.4,186.5L1116.6,189.9L1115.2,193.8Z" fill="#dfd476"/>
<path d="M1104.3,186.9L1104.7,183.2L1117.8,186.9L1116.5,190.4Z" fill="#d3c869"/>
<path d="M1106.8,214.3L1108.2,210.4L1111.7,212.6L1109.6,216.1Z" fill="#a49840"/>
<path d="M1108.1,210.8L1109.6,207L1113.7,209.5L1111.5,213Z" fill="#b4a94e"/>
<path d="M1109.4,207.4L1110.9,203.5L1115.6,206.3L1113.4,209.8Z" fill="#c2b75b"/>
<path d="M1110.7,203.9L1112.2,200.1L1117.5,203.2L1115.4,206.7Z" fill="#cdc264"/>
<path d="M1112,200.5L1113.5,196.6L1119.4,200.1L1117.3,203.6Z" fill="#d4c96a"/>
<path d="M1113.3,197.1L1114.8,193.2L1121.4,197L1119.2,200.5Z" fill="#d7cc6d"/>
<path d="M1114.6,193.6L1116.1,189.7L1123.3,193.8L1121.1,197.3Z" fill="#d4c96a"/>
<path d="M1115.9,190.2L1117.2,186.7L1125,191.1L1123.1,194.2Z" fill="#c7bd5f"/>
<path d="M1109.1,215.8L1111.2,212.3L1117.2,216L1114.9,219.5Z" fill="#a59a42"/>
<path d="M1111,212.6L1113.2,209.1L1119.1,213L1116.9,216.4Z" fill="#b6ab51"/>
<path d="M1112.9,209.5L1115.1,206L1121.1,209.9L1118.9,213.3Z" fill="#c3b85c"/>
<path d="M1114.9,206.4L1117,202.9L1123.1,206.8L1120.9,210.3Z" fill="#ccc164"/>
<path d="M1116.8,203.3L1118.9,199.8L1125.1,203.8L1122.9,207.2Z" fill="#d1c668"/>
<path d="M1118.7,200.1L1120.9,196.6L1127,200.7L1124.8,204.1Z" fill="#d2c769"/>
<path d="M1120.6,197L1122.8,193.5L1129,197.6L1126.8,201.1Z" fill="#cec366"/>
<path d="M1122.6,193.9L1124.5,190.8L1130.8,194.9L1128.8,198Z" fill="#c0b55a"/>
<path d="M1114.4,219.1L1116.7,215.7L1122.8,219.6L1120.6,223Z" fill="#a49941"/>
<path d="M1116.4,216.1L1118.6,212.6L1124.8,216.5L1122.6,219.9Z" fill="#b4aa50"/>
<path d="M1118.4,213L1120.6,209.6L1126.8,213.5L1124.5,216.9Z" fill="#c1b65b"/>
<path d="M1120.4,209.9L1122.6,206.5L1128.7,210.5L1126.5,213.9Z" fill="#cabf63"/>
<path d="M1122.4,206.9L1124.6,203.4L1130.7,207.4L1128.5,210.8Z" fill="#cec467"/>
<path d="M1124.3,203.8L1126.5,200.4L1132.7,204.4L1130.5,207.8Z" fill="#cfc468"/>
<path d="M1126.3,200.7L1128.5,197.3L1134.7,201.3L1132.5,204.8Z" fill="#cbc064"/>
<path d="M1128.3,197.7L1130.3,194.6L1136.4,198.7L1134.4,201.7Z" fill="#beb358"/>
<path d="M1120.1,222.7L1122.3,219.2L1128.5,223.2L1126.3,226.6Z" fill="#a29741"/>
<path d="M1122.1,219.6L1124.3,216.2L1130.5,220.2L1128.3,223.6Z" fill="#b3a84f"/>
<path d="M1124,216.6L1126.3,213.2L1132.5,217.2L1130.3,220.6Z" fill="#bfb45a"/>
<path d="M1126,213.5L1128.2,210.1L1134.4,214.2L1132.2,217.6Z" fill="#c8bd62"/>
<path d="M1128,210.5L1130.2,207.1L1136.4,211.2L1134.2,214.6Z" fill="#ccc266"/>
<path d="M1130,207.5L1132.2,204.1L1138.4,208.2L1136.2,211.6Z" fill="#cdc267"/>
<path d="M1132,204.4L1134.2,201L1140.3,205.2L1138.1,208.6Z" fill="#c9be63"/>
<path d="M1133.9,201.4L1135.9,198.3L1142.1,202.6L1140.1,205.6Z" fill="#bcb157"/>
<path d="M1125.8,226.3L1128,222.9L1134.9,227.2L1132.9,230.6Z" fill="#a09540"/>
<path d="M1127.8,223.3L1130,219.9L1136.7,224.1L1134.7,227.5Z" fill="#b0a64e"/>
<path d="M1129.8,220.3L1132,216.9L1138.5,221L1136.5,224.5Z" fill="#bdb259"/>
<path d="M1131.7,217.3L1133.9,213.9L1140.2,218L1138.2,221.4Z" fill="#c6bb61"/>
<path d="M1133.7,214.3L1135.9,210.9L1142,214.9L1140,218.3Z" fill="#cbc065"/>
<path d="M1135.7,211.3L1137.9,207.9L1143.8,211.8L1141.8,215.3Z" fill="#ccc166"/>
<path d="M1137.6,208.3L1139.8,204.9L1145.5,208.8L1143.5,212.2Z" fill="#c8bd63"/>
<path d="M1139.6,205.3L1141.6,202.3L1147.1,206.1L1145.3,209.1Z" fill="#bbb158"/>
<path d="M1132.4,230.3L1134.4,226.9L1142.4,230.4L1141.3,234.2Z" fill="#9b903b"/>
<path d="M1134.2,227.2L1136.2,223.8L1143.4,227.1L1142.3,230.8Z" fill="#aba049"/>
<path d="M1136,224.2L1137.9,220.7L1144.4,223.7L1143.3,227.5Z" fill="#b9ae56"/>
<path d="M1137.7,221.1L1139.7,217.7L1145.4,220.4L1144.3,224.1Z" fill="#c4b960"/>
<path d="M1139.5,218L1141.5,214.6L1146.4,217L1145.3,220.8Z" fill="#cbc066"/>
<path d="M1141.3,215L1143.2,211.5L1147.4,213.6L1146.3,217.4Z" fill="#cfc46a"/>
<path d="M1143,211.9L1145,208.5L1148.3,210.3L1147.2,214.1Z" fill="#ccc267"/>
<path d="M1144.8,208.8L1146.6,205.8L1149.2,207.3L1148.2,210.7Z" fill="#c1b75d"/>
<path d="M1140.8,234L1141.9,230.3L1152.3,231.3L1152.6,235.2Z" fill="#998d39"/>
<path d="M1141.7,230.7L1142.8,226.9L1152,227.8L1152.3,231.7Z" fill="#a59a44"/>
<path d="M1142.7,227.3L1143.8,223.6L1151.8,224.4L1152.1,228.3Z" fill="#b4aa52"/>
<path d="M1143.7,224L1144.8,220.2L1151.5,220.9L1151.8,224.8Z" fill="#c2b85e"/>
<path d="M1144.7,220.6L1145.8,216.8L1151.2,217.5L1151.5,221.4Z" fill="#cdc368"/>
<path d="M1145.7,217.2L1146.8,213.5L1151,214L1151.3,217.9Z" fill="#d7cd74"/>
<path d="M1146.7,213.9L1147.8,210.1L1150.7,210.6L1151,214.4Z" fill="#dad077"/>
<path d="M1147.7,210.5L1148.6,207.2L1150.5,207.5L1150.7,211Z" fill="#cfc46a"/>
<path d="M1152,235.2L1151.7,231.3L1161.7,228L1163.6,231.4Z" fill="#9a8f3a"/>
<path d="M1151.7,231.8L1151.4,227.9L1160,225L1161.9,228.4Z" fill="#a29740"/>
<path d="M1151.5,228.3L1151.2,224.4L1158.3,222L1160.2,225.4Z" fill="#b2a74f"/>
<path d="M1151.2,224.9L1150.9,221L1156.6,219L1158.5,222.4Z" fill="#c3b85e"/>
<path d="M1150.9,221.4L1150.6,217.5L1154.9,216.1L1156.8,219.4Z" fill="#d2c76c"/>
<path d="M1150.7,217.9L1150.4,214.1L1153.2,213.1L1155.1,216.4Z" fill="#e0d77e"/>
<path d="M1150.4,214.5L1150.1,210.6L1151.5,210.1L1153.4,213.4Z" fill="#e7de88"/>
<path d="M1150.1,211L1149.9,207.6L1150,207.4L1151.7,210.4Z" fill="#e2d880"/>
<path d="M1163.1,231.7L1161.2,228.3L1168.8,221.9L1171.5,224.6Z" fill="#9c913b"/>
<path d="M1161.4,228.7L1159.5,225.3L1166.4,219.5L1169.1,222.2Z" fill="#a29740"/>
<path d="M1159.7,225.7L1157.8,222.3L1164,217.1L1166.7,219.8Z" fill="#b3a84e"/>
<path d="M1158,222.7L1156.1,219.3L1161.6,214.7L1164.3,217.4Z" fill="#c5ba5f"/>
<path d="M1156.3,219.7L1154.4,216.4L1159.2,212.3L1161.9,215Z" fill="#d6cb6f"/>
<path d="M1154.6,216.7L1152.7,213.4L1156.8,209.9L1159.5,212.6Z" fill="#e7dd84"/>
<path d="M1152.9,213.7L1151,210.4L1154.4,207.5L1157.1,210.2Z" fill="#efe691"/>
<path d="M1151.2,210.7L1149.5,207.7L1152.3,205.4L1154.7,207.8Z" fill="#ece28b"/>
<path d="M1171.1,225L1168.4,222.4L1174.2,215.4L1177.2,217.7Z" fill="#9f933c"/>
<path d="M1168.7,222.6L1166,219.9L1171.5,213.3L1174.5,215.6Z" fill="#a59941"/>
<path d="M1166.3,220.2L1163.6,217.5L1168.9,211.2L1171.9,213.5Z" fill="#b6ab50"/>
<path d="M1163.9,217.8L1161.2,215.1L1166.3,209.1L1169.2,211.4Z" fill="#c8bd60"/>
<path d="M1161.5,215.4L1158.8,212.7L1163.6,207L1166.6,209.3Z" fill="#d9ce71"/>
<path d="M1159,213L1156.3,210.3L1161,204.9L1163.9,207.2Z" fill="#eae086"/>
<path d="M1156.6,210.6L1153.9,207.9L1158.3,202.8L1161.3,205.1Z" fill="#f3ea93"/>
<path d="M1154.2,208.2L1151.8,205.8L1156,201L1158.6,203Z" fill="#efe58d"/>
<path d="M1176.8,218.2L1173.8,215.8L1178.9,209L1181.9,211.2Z" fill="#a0943c"/>
<path d="M1174.1,216.1L1171.2,213.7L1176.1,207L1179.2,209.2Z" fill="#a69b41"/>
<path d="M1171.5,214L1168.5,211.6L1173.4,205.1L1176.4,207.3Z" fill="#b7ac51"/>
<path d="M1168.8,211.9L1165.9,209.5L1170.6,203.1L1173.7,205.3Z" fill="#cabf61"/>
<path d="M1166.2,209.8L1163.2,207.5L1167.9,201.1L1171,203.4Z" fill="#dbd071"/>
<path d="M1163.6,207.7L1160.6,205.4L1165.2,199.2L1168.2,201.4Z" fill="#ebe286"/>
<path d="M1160.9,205.6L1157.9,203.3L1162.4,197.2L1165.5,199.4Z" fill="#f4eb93"/>
<path d="M1158.3,203.5L1155.6,201.4L1160,195.5L1162.8,197.5Z" fill="#f0e68c"/>
<path d="M1181.6,211.7L1178.5,209.5L1182.7,203.5L1185.8,205.7Z" fill="#a0943c"/>
<path d="M1178.8,209.7L1175.8,207.5L1180,201.4L1183.1,203.7Z" fill="#a69b42"/>
<path d="M1176.1,207.8L1173,205.6L1177.3,199.4L1180.4,201.7Z" fill="#b8ad51"/>
<path d="M1173.4,205.8L1170.3,203.6L1174.6,197.4L1177.7,199.6Z" fill="#cabf61"/>
<path d="M1170.6,203.8L1167.6,201.6L1171.9,195.4L1175,197.6Z" fill="#dbd071"/>
<path d="M1167.9,201.9L1164.8,199.7L1169.2,193.3L1172.3,195.6Z" fill="#ebe186"/>
<path d="M1165.1,199.9L1162.1,197.7L1166.5,191.3L1169.6,193.6Z" fill="#f4ea92"/>
<path d="M1162.4,197.9L1159.7,196L1164.2,189.5L1166.9,191.5Z" fill="#efe68c"/>
<path d="M1185.4,206.2L1182.4,203.9L1189,195.5L1192,197.8Z" fill="#a0943c"/>
<path d="M1182.7,204.2L1179.7,201.9L1186.4,193.4L1189.3,195.8Z" fill="#a69a41"/>
<path d="M1180,202.2L1177,199.9L1183.7,191.4L1186.7,193.7Z" fill="#b7ac51"/>
<path d="M1177.3,200.1L1174.3,197.9L1181.1,189.3L1184,191.6Z" fill="#c9be61"/>
<path d="M1174.6,198.1L1171.6,195.8L1178.4,187.2L1181.4,189.5Z" fill="#dad071"/>
<path d="M1171.9,196.1L1168.9,193.8L1175.7,185.1L1178.7,187.4Z" fill="#ebe186"/>
<path d="M1169.2,194L1166.2,191.8L1173.1,183L1176,185.4Z" fill="#f4eb93"/>
<path d="M1166.5,192L1163.8,190L1170.7,181.2L1173.4,183.3Z" fill="#f0e68c"/>
<path d="M1191.6,198.3L1188.7,196L1194.1,189L1197.1,191.3Z" fill="#a0943c"/>
<path d="M1189,196.2L1186,193.9L1191.4,186.9L1194.4,189.2Z" fill="#a69a41"/>
<path d="M1186.3,194.2L1183.3,191.8L1188.7,184.8L1191.7,187.1Z" fill="#b7ac50"/>
<path d="M1183.7,192.1L1180.7,189.8L1186,182.8L1189,185.1Z" fill="#c9be61"/>
<path d="M1181,190L1178,187.7L1183.4,180.7L1186.4,183Z" fill="#dad071"/>
<path d="M1178.3,187.9L1175.4,185.6L1180.7,178.7L1183.7,181Z" fill="#ebe186"/>
<path d="M1175.7,185.8L1172.7,183.5L1178,176.6L1181,178.9Z" fill="#f4eb93"/>
<path d="M1173,183.8L1170.4,181.7L1175.7,174.8L1178.3,176.9Z" fill="#f0e68d"/>
<path d="M1097.9,283.4L1093.6,283.3L1093.6,275.1L1097.9,275.2Z" fill="#c4bb6b"/>
<path d="M1094,283.3L1089.7,283.2L1089.8,275L1094,275.1Z" fill="#cfc77a"/>
<path d="M1090.1,283.2L1085.8,283.1L1086,274.9L1090.2,275Z" fill="#cdc477"/>
<path d="M1086.3,283.1L1081.9,283L1082.1,274.8L1086.4,274.9Z" fill="#c4bb6b"/>
<path d="M1082.4,283L1078.1,282.9L1078.3,274.7L1082.6,274.8Z" fill="#b5ac5a"/>
<path d="M1078.5,282.9L1074.2,282.8L1074.5,274.6L1078.8,274.7Z" fill="#a79e4e"/>
<path d="M1074.7,282.8L1070.3,282.7L1070.7,274.5L1075,274.6Z" fill="#968d3f"/>
<path d="M1070.8,282.7L1066.9,282.6L1067.3,274.4L1071.1,274.5Z" fill="#8a7f34"/>
<path d="M1097.9,275.8L1093.6,275.7L1093.6,265.7L1097.8,265.8Z" fill="#c4bb6b"/>
<path d="M1094,275.7L1089.8,275.6L1089.9,265.6L1094.1,265.7Z" fill="#cfc77a"/>
<path d="M1090.2,275.6L1085.9,275.5L1086.1,265.5L1090.3,265.6Z" fill="#cdc477"/>
<path d="M1086.4,275.5L1082.1,275.4L1082.4,265.4L1086.6,265.5Z" fill="#c4bb6b"/>
<path d="M1082.6,275.4L1078.3,275.3L1078.6,265.3L1082.8,265.4Z" fill="#b5ac5a"/>
<path d="M1078.8,275.3L1074.5,275.2L1074.9,265.2L1079.1,265.3Z" fill="#a79e4e"/>
<path d="M1074.9,275.2L1070.7,275.1L1071.1,265.1L1075.3,265.2Z" fill="#968d3f"/>
<path d="M1071.1,275.1L1067.3,275L1067.8,265L1071.6,265.1Z" fill="#8a7f34"/>
<path d="M1097.8,266.4L1093.6,266.3L1093.7,258.2L1097.8,258.3Z" fill="#c5bc6c"/>
<path d="M1094,266.3L1089.8,266.2L1090,258.1L1094.1,258.2Z" fill="#d0c77a"/>
<path d="M1090.3,266.2L1086.1,266.1L1086.3,258L1090.4,258.1Z" fill="#cec577"/>
<path d="M1086.5,266.1L1082.4,266L1082.6,257.9L1086.8,258Z" fill="#c4bb6b"/>
<path d="M1082.8,266L1078.6,265.9L1079,257.8L1083.1,257.9Z" fill="#b6ad5b"/>
<path d="M1079.1,265.9L1074.9,265.8L1075.3,257.7L1079.4,257.8Z" fill="#a89e4e"/>
<path d="M1075.3,265.8L1071.1,265.7L1071.6,257.6L1075.7,257.7Z" fill="#978d3f"/>
<path d="M1071.6,265.7L1067.8,265.6L1068.4,257.5L1072.1,257.6Z" fill="#8a8034"/>
<path d="M1097.8,258.9L1093.6,258.8L1093.6,250.8L1097.7,250.8Z" fill="#c8bf6e"/>
<path d="M1094.1,258.8L1090,258.7L1090,250.8L1094.1,250.8Z" fill="#d2ca7c"/>
<path d="M1090.4,258.7L1086.3,258.6L1086.4,250.9L1090.4,250.8Z" fill="#d0c879"/>
<path d="M1086.7,258.6L1082.6,258.5L1082.8,250.9L1086.8,250.9Z" fill="#c7be6c"/>
<path d="M1083.1,258.5L1078.9,258.4L1079.1,250.9L1083.2,250.9Z" fill="#b8ae5c"/>
<path d="M1079.4,258.4L1075.3,258.3L1075.5,251L1079.6,250.9Z" fill="#aaa04f"/>
<path d="M1075.7,258.3L1071.6,258.2L1071.9,251L1075.9,251Z" fill="#988f40"/>
<path d="M1072,258.2L1068.4,258.1L1068.7,251L1072.3,251Z" fill="#8c8134"/>
<path d="M1097.7,251.4L1093.6,251.4L1093.4,243.7L1097.5,243.5Z" fill="#cec572" fill-opacity="0.99"/>
<path d="M1094.1,251.4L1090,251.4L1089.8,243.9L1093.8,243.7Z" fill="#d9d081" fill-opacity="0.99"/>
<path d="M1090.4,251.4L1086.4,251.5L1086.1,244L1090.2,243.9Z" fill="#d6ce7d" fill-opacity="0.99"/>
<path d="M1086.8,251.5L1082.8,251.5L1082.5,244.2L1086.6,244Z" fill="#ccc370" fill-opacity="0.99"/>
<path d="M1083.2,251.5L1079.1,251.5L1078.8,244.4L1082.9,244.2Z" fill="#bdb35e" fill-opacity="0.99"/>
<path d="M1079.6,251.5L1075.5,251.6L1075.2,244.5L1079.3,244.3Z" fill="#aea451" fill-opacity="0.99"/>
<path d="M1076,251.6L1071.9,251.6L1071.6,244.7L1075.6,244.5Z" fill="#9c9241" fill-opacity="0.99"/>
<path d="M1072.3,251.6L1068.7,251.6L1068.3,244.8L1072,244.7Z" fill="#8f8536" fill-opacity="0.99"/>
<path d="M1097.5,244.1L1093.4,244.3L1093.2,236.9L1097.3,236.7Z" fill="#d7cd77" fill-opacity="0.94"/>
<path d="M1093.9,244.3L1089.8,244.5L1089.5,237.1L1093.6,236.8Z" fill="#e1d986" fill-opacity="0.94"/>
<path d="M1090.2,244.5L1086.1,244.6L1085.8,237.2L1089.9,237Z" fill="#dfd682" fill-opacity="0.94"/>
<path d="M1086.6,244.6L1082.5,244.8L1082.1,237.4L1086.3,237.2Z" fill="#d4cb74" fill-opacity="0.94"/>
<path d="M1082.9,244.8L1078.9,245L1078.4,237.6L1082.6,237.4Z" fill="#c4ba62" fill-opacity="0.94"/>
<path d="M1079.3,244.9L1075.2,245.1L1074.8,237.8L1078.9,237.6Z" fill="#b4aa54" fill-opacity="0.94"/>
<path d="M1075.7,245.1L1071.6,245.3L1071.1,238L1075.2,237.8Z" fill="#a29843" fill-opacity="0.94"/>
<path d="M1072,245.3L1068.4,245.4L1067.8,238.1L1071.5,238Z" fill="#958a38" fill-opacity="0.94"/>
<path d="M1097.3,237.3L1093.2,237.5L1092.9,229.9L1097.1,229.8Z" fill="#ded47b" fill-opacity="0.81"/>
<path d="M1093.6,237.4L1089.5,237.7L1089.2,229.9L1093.4,229.9Z" fill="#e9e08b" fill-opacity="0.81"/>
<path d="M1090,237.6L1085.8,237.8L1085.5,230L1089.7,229.9Z" fill="#e6dd86" fill-opacity="0.81"/>
<path d="M1086.3,237.8L1082.2,238L1081.8,230L1085.9,230Z" fill="#dcd278" fill-opacity="0.81"/>
<path d="M1082.6,238L1078.5,238.2L1078,230.1L1082.2,230Z" fill="#cbc165" fill-opacity="0.81"/>
<path d="M1078.9,238.2L1074.8,238.4L1074.3,230.1L1078.5,230.1Z" fill="#bbb057" fill-opacity="0.81"/>
<path d="M1075.2,238.4L1071.1,238.6L1070.6,230.2L1074.8,230.1Z" fill="#a89d46" fill-opacity="0.81"/>
<path d="M1071.6,238.6L1067.9,238.7L1067.3,230.2L1071.1,230.2Z" fill="#9a8f3a" fill-opacity="0.81"/>
<path d="M1097.1,230.4L1092.9,230.5L1093.2,223.5L1097.4,224Z" fill="#e1d77b" fill-opacity="0.61"/>
<path d="M1093.4,230.5L1089.2,230.5L1089.5,223.1L1093.7,223.6Z" fill="#eee48c" fill-opacity="0.61"/>
<path d="M1089.7,230.5L1085.5,230.6L1085.7,222.7L1089.9,223.2Z" fill="#ebe288" fill-opacity="0.61"/>
<path d="M1085.9,230.6L1081.8,230.6L1082,222.4L1086.2,222.8Z" fill="#e1d77b" fill-opacity="0.61"/>
<path d="M1082.2,230.6L1078.1,230.7L1078.3,222L1082.5,222.4Z" fill="#d1c668" fill-opacity="0.61"/>
<path d="M1078.5,230.7L1074.3,230.7L1074.6,221.6L1078.7,222Z" fill="#c1b65a" fill-opacity="0.61"/>
<path d="M1074.8,230.7L1070.6,230.8L1070.8,221.2L1075,221.6Z" fill="#ada248" fill-opacity="0.61"/>
<path d="M1071.1,230.8L1067.3,230.8L1067.5,220.8L1071.3,221.2Z" fill="#9e923b" fill-opacity="0.61"/>
<path d="M1097.3,224.6L1093.1,224.1L1094.5,216.9L1098.6,217.9Z" fill="#dfd476" fill-opacity="0.40"/>
<path d="M1093.6,224.2L1089.4,223.7L1090.9,216L1094.9,217Z" fill="#ede388" fill-opacity="0.40"/>
<path d="M1089.9,223.8L1085.7,223.3L1087.2,215.1L1091.3,216.1Z" fill="#ece287" fill-opacity="0.40"/>
<path d="M1086.1,223.4L1082,223L1083.6,214.2L1087.6,215.2Z" fill="#e3d97b" fill-opacity="0.40"/>
<path d="M1082.4,223L1078.2,222.6L1079.9,213.3L1084,214.3Z" fill="#d4c96a" fill-opacity="0.40"/>
<path d="M1078.7,222.6L1074.5,222.2L1076.3,212.4L1080.4,213.4Z" fill="#c4b95c" fill-opacity="0.40"/>
<path d="M1074.9,222.2L1070.8,221.8L1072.6,211.5L1076.7,212.5Z" fill="#b1a64b" fill-opacity="0.40"/>
<path d="M1071.2,221.8L1067.5,221.4L1069.4,210.7L1073.1,211.6Z" fill="#a0943c" fill-opacity="0.40"/>
<path d="M1098.4,218.5L1094.4,217.5L1095.6,213.2L1099.1,215.5Z" fill="#d4c96a" fill-opacity="0.23"/>
<path d="M1094.8,217.6L1090.7,216.6L1092.4,211.2L1095.9,213.5Z" fill="#e5da7e" fill-opacity="0.23"/>
<path d="M1091.1,216.7L1087.1,215.7L1089.3,209.1L1092.8,211.4Z" fill="#e7dd81" fill-opacity="0.23"/>
<path d="M1087.5,215.8L1083.4,214.8L1086.2,207.1L1089.7,209.4Z" fill="#e1d779" fill-opacity="0.23"/>
<path d="M1083.9,214.9L1079.8,213.9L1083,205L1086.5,207.3Z" fill="#d5ca6b" fill-opacity="0.23"/>
<path d="M1080.2,214L1076.1,213L1079.9,202.9L1083.4,205.2Z" fill="#c8bd5f" fill-opacity="0.23"/>
<path d="M1076.6,213.1L1072.5,212L1076.8,200.9L1080.3,203.2Z" fill="#b6ab50" fill-opacity="0.23"/>
<path d="M1072.9,212.2L1069.3,211.2L1074,199.1L1077.1,201.1Z" fill="#a3973e" fill-opacity="0.23"/>
<path d="M1098.7,216L1095.2,213.7L1101.1,208.2L1104,211.2Z" fill="#c9be60" fill-opacity="0.07"/>
<path d="M1095.6,214L1092.1,211.7L1098.4,205.6L1101.4,208.5Z" fill="#d9ce70" fill-opacity="0.07"/>
<path d="M1092.5,211.9L1089,209.6L1095.8,202.9L1098.7,205.9Z" fill="#e0d678" fill-opacity="0.07"/>
<path d="M1089.3,209.9L1085.8,207.6L1093.1,200.3L1096.1,203.2Z" fill="#dfd476" fill-opacity="0.07"/>
<path d="M1086.2,207.8L1082.7,205.5L1090.5,197.6L1093.4,200.6Z" fill="#d6cb6c" fill-opacity="0.07"/>
<path d="M1083.1,205.7L1079.6,203.4L1087.8,195L1090.8,197.9Z" fill="#ccc163" fill-opacity="0.07"/>
<path d="M1079.9,203.7L1076.4,201.4L1085.2,192.3L1088.1,195.3Z" fill="#bdb256" fill-opacity="0.07"/>
<path d="M1076.8,201.6L1073.7,199.6L1082.8,190L1085.5,192.6Z" fill="#a99d44" fill-opacity="0.07"/>
<path d="M1134.7,208.1 C1135,206.1 1141.6,169.6 1141.7,167.4 C1141.7,165.2 1137,164.8 1135.5,164.9 C1134,165 1112.6,169.7 1111.4,169.9" fill="none" stroke="#cfc468" stroke-width="4.2" stroke-linecap="round" stroke-linejoin="round"/>
<path d="M1134.7,208.1 C1135,206.1 1141.6,169.6 1141.7,167.4 C1141.7,165.2 1137,164.8 1135.5,164.9 C1134,165 1112.6,169.7 1111.4,169.9" fill="none" stroke="#f0e692" stroke-width="1.6800000000000002" stroke-linecap="round" stroke-linejoin="round"/>
<path d="M1069,252.5 L1097.5,250.5" fill="none" stroke="#f0e690" stroke-width="1.6"/>
<path d="M1069,254.3 L1097.5,252.3" fill="none" stroke="#b4a950" stroke-width="1"/>
<path d="M1194,199.1L1196.5,195.9L1199,192.6L1174,173.4L1171.5,176.6L1169,179.9Z" fill="#d2c768"/>
<path d="M1194,199.1L1189.4,195.6L1192.3,191.9L1196.8,195.4Z" fill="#a0943c"/>
<path d="M1189.8,195.9L1185.3,192.4L1188.2,188.7L1192.7,192.2Z" fill="#aea348"/>
<path d="M1185.7,192.7L1181.1,189.2L1184,185.5L1188.5,189Z" fill="#c6bb5e"/>
<path d="M1181.5,189.5L1177,186L1179.8,182.3L1184.4,185.8Z" fill="#ded375"/>
<path d="M1177.3,186.3L1172.8,182.8L1175.7,179.1L1180.2,182.6Z" fill="#f1e78e"/>
<path d="M1173.2,183.1L1169,179.9L1171.9,176.2L1176,179.4Z" fill="#f2e990"/>
<path d="M1196.5,195.9L1191.9,192.4L1194.8,188.6L1199.3,192.1Z" fill="#a0943c"/>
<path d="M1192.3,192.7L1187.8,189.2L1190.7,185.4L1195.2,188.9Z" fill="#aea348"/>
<path d="M1188.2,189.5L1183.6,186L1186.5,182.2L1191,185.7Z" fill="#c6bb5e"/>
<path d="M1184,186.2L1179.5,182.8L1182.3,179L1186.9,182.5Z" fill="#ded375"/>
<path d="M1179.8,183L1175.3,179.6L1178.2,175.8L1182.7,179.3Z" fill="#f1e78e"/>
<path d="M1175.7,179.8L1171.5,176.6L1174.4,172.9L1178.5,176.1Z" fill="#f2e990"/>
<ellipse cx="1194.8" cy="188.6" rx="2.4" ry="4.2" transform="rotate(40 1194.8 188.6)" fill="#a89d48"/>
<path d="M1228.1,172.5L1225.3,175L1222.6,177.5L1243.4,200.5L1246.2,198L1248.9,195.5Z" fill="#d2c768"/>
<path d="M1228.1,172.5L1231.9,176.7L1228.7,179.6L1224.9,175.4Z" fill="#f4eb93"/>
<path d="M1231.5,176.4L1235.3,180.5L1232.1,183.4L1228.4,179.3Z" fill="#f2e88f"/>
<path d="M1235,180.2L1238.8,184.3L1235.6,187.2L1231.8,183.1Z" fill="#ded376"/>
<path d="M1238.5,184L1242.3,188.2L1239.1,191.1L1235.3,186.9Z" fill="#c6bb5e"/>
<path d="M1242,187.8L1245.8,192L1242.6,194.9L1238.8,190.7Z" fill="#ada248"/>
<path d="M1245.5,191.6L1248.9,195.5L1245.7,198.4L1242.3,194.5Z" fill="#a0943c"/>
<path d="M1225.3,175L1229.1,179.2L1225.9,182.1L1222.1,177.9Z" fill="#f4eb93"/>
<path d="M1228.8,178.9L1232.6,183L1229.4,185.9L1225.6,181.8Z" fill="#f2e88f"/>
<path d="M1232.3,182.7L1236.1,186.8L1232.9,189.7L1229.1,185.6Z" fill="#ded376"/>
<path d="M1235.8,186.5L1239.5,190.7L1236.3,193.6L1232.6,189.4Z" fill="#c6bb5e"/>
<path d="M1239.2,190.3L1243,194.5L1239.8,197.4L1236,193.2Z" fill="#ada248"/>
<path d="M1242.7,194.1L1246.2,198L1243,200.9L1239.5,197Z" fill="#a0943c"/>
<ellipse cx="1240" cy="191.8" rx="2.2" ry="3.6" transform="rotate(40 1240 191.8)" fill="#a89d48"/>
<path d="M1389.2,92.2L1386.4,95.5L1382.7,99.7L1378.3,104.6L1373.5,110.2L1368.2,116.2L1362.7,122.5L1357.1,128.9L1351.6,135.2L1346.2,141.3L1341.2,147L1336.2,152.7L1331,158.8L1325.6,164.9L1320.2,171.2L1314.8,177.3L1309.7,183.2L1304.9,188.8L1300.5,193.8L1296.6,198.2L1293.2,202.1L1287.1,209.3L1286.5,209.5L1282,212.1L1276.8,214.6L1270.3,216.8L1264.1,218.4L1256.4,219.8L1248.6,221L1242.1,221.7L1235.1,222L1229.5,221.5L1226.4,221L1222.5,219L1221.1,217.4L1220.7,216.5L1220.6,216.5L1221.4,216L1224.6,213.1L1229.7,209.3L1236,204.9L1241.7,199.8L1245.4,196.2L1226.6,176.8L1223.3,180L1219,183.9L1213.6,187.9L1207.2,193.1L1200.9,199.6L1195.6,209.1L1195.1,220.9L1199.1,231.4L1206.9,239.8L1217,245.2L1225.9,247.3L1234.6,247.9L1243.9,247.7L1252,246.8L1260.8,245.5L1269.6,243.8L1277.7,241.8L1286.5,238.7L1294.1,235.2L1300.3,231.5L1305.8,227.4L1313,218.9L1316.1,215.4L1320,211L1324.5,205.9L1329.3,200.3L1334.5,194.4L1339.8,188.2L1345.2,182L1350.6,175.8L1355.8,169.8L1360.8,164.2L1365.8,158.4L1371.1,152.3L1376.7,146L1382.3,139.6L1387.8,133.3L1393,127.3L1397.9,121.8L1402.2,116.8L1405.9,112.6L1408.8,109.4Z" fill="#d2c768"/>
<path d="M1389.2,92.2L1392,94.6L1388.7,98.3L1386,95.9Z" fill="#f1e78e"/>
<path d="M1391.7,94.4L1394.4,96.8L1391.2,100.5L1388.4,98.1Z" fill="#f4eb94"/>
<path d="M1394.1,96.5L1396.8,98.9L1393.6,102.6L1390.9,100.2Z" fill="#ece287"/>
<path d="M1396.6,98.7L1399.3,101.1L1396,104.8L1393.3,102.4Z" fill="#dbd071"/>
<path d="M1399,100.8L1401.7,103.2L1398.5,106.9L1395.7,104.5Z" fill="#c9be61"/>
<path d="M1401.4,102.9L1404.2,105.3L1400.9,109.1L1398.2,106.7Z" fill="#b7ac50"/>
<path d="M1403.9,105.1L1406.6,107.5L1403.4,111.2L1400.6,108.8Z" fill="#a69a41"/>
<path d="M1406.3,107.2L1408.8,109.4L1405.5,113.1L1403.1,110.9Z" fill="#a0943c"/>
<path d="M1386.4,95.5L1389.1,97.9L1385,102.5L1382.3,100.1Z" fill="#f1e78e"/>
<path d="M1388.8,97.6L1391.5,100L1387.5,104.7L1384.7,102.3Z" fill="#f4eb94"/>
<path d="M1391.3,99.8L1394,102.2L1389.9,106.8L1387.2,104.4Z" fill="#ece287"/>
<path d="M1393.7,101.9L1396.4,104.3L1392.4,109L1389.6,106.6Z" fill="#dbd071"/>
<path d="M1396.1,104.1L1398.9,106.5L1394.8,111.1L1392.1,108.7Z" fill="#c9be61"/>
<path d="M1398.6,106.2L1401.3,108.6L1397.3,113.2L1394.5,110.8Z" fill="#b7ac50"/>
<path d="M1401,108.3L1403.8,110.7L1399.7,115.4L1397,113Z" fill="#a69a41"/>
<path d="M1403.5,110.5L1405.9,112.6L1401.9,117.3L1399.4,115.1Z" fill="#a0943c"/>
<path d="M1382.7,99.7L1385.4,102.1L1380.7,107.5L1378,105.1Z" fill="#f1e78e"/>
<path d="M1385.1,101.8L1387.9,104.2L1383.1,109.6L1380.4,107.2Z" fill="#f4eb94"/>
<path d="M1387.6,104L1390.3,106.4L1385.6,111.8L1382.8,109.4Z" fill="#ece287"/>
<path d="M1390,106.1L1392.8,108.5L1388,113.9L1385.3,111.5Z" fill="#dbd071"/>
<path d="M1392.5,108.3L1395.2,110.7L1390.5,116.1L1387.7,113.7Z" fill="#c9be61"/>
<path d="M1394.9,110.4L1397.7,112.8L1392.9,118.2L1390.2,115.8Z" fill="#b7ac50"/>
<path d="M1397.4,112.5L1400.1,114.9L1395.4,120.3L1392.6,117.9Z" fill="#a69a41"/>
<path d="M1399.8,114.7L1402.2,116.8L1397.5,122.2L1395.1,120.1Z" fill="#a0943c"/>
<path d="M1378.3,104.6L1381.1,107L1375.8,113.1L1373.1,110.7Z" fill="#f1e78e"/>
<path d="M1380.8,106.8L1383.5,109.2L1378.3,115.2L1375.5,112.8Z" fill="#f4eb94"/>
<path d="M1383.2,108.9L1386,111.3L1380.7,117.3L1378,114.9Z" fill="#ece287"/>
<path d="M1385.7,111.1L1388.4,113.5L1383.1,119.5L1380.4,117.1Z" fill="#dbd071"/>
<path d="M1388.1,113.2L1390.9,115.6L1385.6,121.6L1382.9,119.2Z" fill="#c9be61"/>
<path d="M1390.6,115.4L1393.3,117.8L1388,123.8L1385.3,121.4Z" fill="#b7ac50"/>
<path d="M1393,117.5L1395.8,119.9L1390.5,125.9L1387.7,123.5Z" fill="#a69a41"/>
<path d="M1395.5,119.6L1397.9,121.8L1392.6,127.8L1390.2,125.6Z" fill="#a0943c"/>
<path d="M1373.5,110.2L1376.2,112.6L1370.6,119.1L1367.8,116.7Z" fill="#f1e78e"/>
<path d="M1375.9,112.3L1378.7,114.7L1373,121.2L1370.3,118.8Z" fill="#f4eb94"/>
<path d="M1378.4,114.5L1381.1,116.9L1375.4,123.3L1372.7,120.9Z" fill="#ece287"/>
<path d="M1380.8,116.6L1383.5,119L1377.9,125.5L1375.2,123.1Z" fill="#dbd071"/>
<path d="M1383.3,118.8L1386,121.2L1380.3,127.6L1377.6,125.2Z" fill="#c9be61"/>
<path d="M1385.7,120.9L1388.4,123.3L1382.8,129.8L1380,127.4Z" fill="#b7ac50"/>
<path d="M1388.1,123.1L1390.9,125.5L1385.2,131.9L1382.5,129.5Z" fill="#a69a41"/>
<path d="M1390.6,125.2L1393,127.3L1387.4,133.8L1384.9,131.6Z" fill="#a0943c"/>
<path d="M1368.2,116.2L1371,118.6L1365.1,125.3L1362.3,122.9Z" fill="#f1e78e"/>
<path d="M1370.7,118.3L1373.4,120.7L1367.5,127.5L1364.8,125.1Z" fill="#f4eb94"/>
<path d="M1373.1,120.5L1375.8,122.9L1370,129.6L1367.2,127.2Z" fill="#ece287"/>
<path d="M1375.5,122.6L1378.3,125L1372.4,131.8L1369.7,129.4Z" fill="#dbd071"/>
<path d="M1378,124.8L1380.7,127.2L1374.8,133.9L1372.1,131.5Z" fill="#c9be61"/>
<path d="M1380.4,126.9L1383.2,129.3L1377.3,136L1374.5,133.6Z" fill="#b7ac50"/>
<path d="M1382.9,129.1L1385.6,131.5L1379.7,138.2L1377,135.8Z" fill="#a69a41"/>
<path d="M1385.3,131.2L1387.8,133.3L1381.9,140.1L1379.4,137.9Z" fill="#a0943c"/>
<path d="M1362.7,122.5L1365.5,124.9L1359.5,131.7L1356.7,129.3Z" fill="#f1e78e"/>
<path d="M1365.2,124.6L1367.9,127L1361.9,133.9L1359.2,131.5Z" fill="#f4eb94"/>
<path d="M1367.6,126.8L1370.3,129.2L1364.4,136L1361.6,133.6Z" fill="#ece287"/>
<path d="M1370.1,128.9L1372.8,131.3L1366.8,138.1L1364.1,135.7Z" fill="#dbd071"/>
<path d="M1372.5,131L1375.2,133.4L1369.2,140.3L1366.5,137.9Z" fill="#c9be61"/>
<path d="M1374.9,133.2L1377.7,135.6L1371.7,142.4L1369,140Z" fill="#b7ac50"/>
<path d="M1377.4,135.3L1380.1,137.7L1374.1,144.6L1371.4,142.2Z" fill="#a69a41"/>
<path d="M1379.8,137.5L1382.3,139.6L1376.3,146.4L1373.8,144.3Z" fill="#a0943c"/>
<path d="M1357.1,128.9L1359.9,131.3L1353.9,138L1351.2,135.6Z" fill="#f1e78e"/>
<path d="M1359.6,131L1362.3,133.4L1356.4,140.2L1353.6,137.8Z" fill="#f4eb94"/>
<path d="M1362,133.1L1364.8,135.5L1358.8,142.3L1356.1,139.9Z" fill="#ece287"/>
<path d="M1364.5,135.3L1367.2,137.7L1361.3,144.5L1358.5,142.1Z" fill="#dbd071"/>
<path d="M1366.9,137.4L1369.6,139.8L1363.7,146.6L1361,144.2Z" fill="#c9be61"/>
<path d="M1369.3,139.6L1372.1,142L1366.2,148.7L1363.4,146.3Z" fill="#b7ac50"/>
<path d="M1371.8,141.7L1374.5,144.1L1368.6,150.9L1365.9,148.5Z" fill="#a69a41"/>
<path d="M1374.2,143.9L1376.7,146L1370.7,152.8L1368.3,150.6Z" fill="#a0943c"/>
<path d="M1351.6,135.2L1354.3,137.6L1348.6,144.2L1345.8,141.8Z" fill="#f1e78e"/>
<path d="M1354,137.3L1356.8,139.7L1351,146.3L1348.3,143.9Z" fill="#f4eb94"/>
<path d="M1356.5,139.5L1359.2,141.9L1353.5,148.4L1350.7,146Z" fill="#ece287"/>
<path d="M1358.9,141.6L1361.7,144L1355.9,150.6L1353.2,148.2Z" fill="#dbd071"/>
<path d="M1361.4,143.8L1364.1,146.2L1358.4,152.7L1355.6,150.3Z" fill="#c9be61"/>
<path d="M1363.8,145.9L1366.5,148.3L1360.8,154.9L1358.1,152.5Z" fill="#b7ac50"/>
<path d="M1366.3,148L1369,150.4L1363.2,157L1360.5,154.6Z" fill="#a69a41"/>
<path d="M1368.7,150.2L1371.1,152.3L1365.4,158.9L1363,156.7Z" fill="#a0943c"/>
<path d="M1346.2,141.3L1349,143.7L1343.6,149.9L1340.8,147.5Z" fill="#f1e78e"/>
<path d="M1348.7,143.4L1351.4,145.8L1346,152L1343.3,149.6Z" fill="#f4eb94"/>
<path d="M1351.1,145.6L1353.9,148L1348.5,154.2L1345.7,151.8Z" fill="#ece287"/>
<path d="M1353.6,147.7L1356.3,150.1L1350.9,156.3L1348.2,153.9Z" fill="#dbd071"/>
<path d="M1356,149.9L1358.8,152.3L1353.3,158.4L1350.6,156.1Z" fill="#c9be61"/>
<path d="M1358.5,152L1361.2,154.4L1355.8,160.6L1353.1,158.2Z" fill="#b7ac50"/>
<path d="M1360.9,154.1L1363.6,156.5L1358.2,162.7L1355.5,160.3Z" fill="#a69a41"/>
<path d="M1363.3,156.3L1365.8,158.4L1360.4,164.6L1357.9,162.5Z" fill="#a0943c"/>
<path d="M1341.2,147L1344,149.4L1338.6,155.6L1335.8,153.2Z" fill="#f1e78e"/>
<path d="M1343.7,149.2L1346.4,151.6L1341,157.7L1338.3,155.3Z" fill="#f4eb94"/>
<path d="M1346.1,151.3L1348.8,153.7L1343.5,159.9L1340.7,157.5Z" fill="#ece287"/>
<path d="M1348.6,153.5L1351.3,155.9L1345.9,162L1343.2,159.6Z" fill="#dbd071"/>
<path d="M1351,155.6L1353.7,158L1348.4,164.1L1345.6,161.7Z" fill="#c9be61"/>
<path d="M1353.4,157.7L1356.2,160.1L1350.8,166.3L1348.1,163.9Z" fill="#b7ac50"/>
<path d="M1355.9,159.9L1358.6,162.3L1353.3,168.4L1350.5,166Z" fill="#a69a41"/>
<path d="M1358.3,162L1360.8,164.2L1355.4,170.3L1353,168.1Z" fill="#a0943c"/>
<path d="M1336.2,152.7L1339,155.1L1333.3,161.6L1330.6,159.2Z" fill="#f1e78e"/>
<path d="M1338.7,154.9L1341.4,157.3L1335.8,163.7L1333.1,161.3Z" fill="#f4eb94"/>
<path d="M1341.1,157L1343.9,159.4L1338.3,165.9L1335.5,163.5Z" fill="#ece287"/>
<path d="M1343.6,159.2L1346.3,161.5L1340.7,168L1338,165.6Z" fill="#dbd071"/>
<path d="M1346,161.3L1348.8,163.7L1343.2,170.1L1340.4,167.7Z" fill="#c9be61"/>
<path d="M1348.5,163.4L1351.2,165.8L1345.6,172.3L1342.9,169.9Z" fill="#b7ac50"/>
<path d="M1350.9,165.6L1353.7,168L1348.1,174.4L1345.3,172Z" fill="#a69a41"/>
<path d="M1353.4,167.7L1355.8,169.8L1350.2,176.3L1347.8,174.1Z" fill="#a0943c"/>
<path d="M1331,158.8L1333.7,161.1L1328,167.8L1325.2,165.4Z" fill="#f1e78e"/>
<path d="M1333.4,160.9L1336.2,163.3L1330.4,169.9L1327.7,167.5Z" fill="#f4eb94"/>
<path d="M1335.9,163L1338.6,165.4L1332.9,172.1L1330.1,169.7Z" fill="#ece287"/>
<path d="M1338.4,165.2L1341.1,167.5L1335.3,174.2L1332.6,171.8Z" fill="#dbd071"/>
<path d="M1340.8,167.3L1343.5,169.7L1337.8,176.3L1335,173.9Z" fill="#c9be61"/>
<path d="M1343.3,169.4L1346,171.8L1340.2,178.5L1337.5,176.1Z" fill="#b7ac50"/>
<path d="M1345.7,171.6L1348.4,174L1342.7,180.6L1339.9,178.2Z" fill="#a69a41"/>
<path d="M1348.2,173.7L1350.6,175.8L1344.8,182.5L1342.4,180.3Z" fill="#a0943c"/>
<path d="M1325.6,164.9L1328.4,167.3L1322.5,174L1319.8,171.6Z" fill="#f1e78e"/>
<path d="M1328.1,167.1L1330.8,169.5L1325,176.2L1322.2,173.8Z" fill="#f4eb94"/>
<path d="M1330.5,169.2L1333.3,171.6L1327.4,178.3L1324.7,175.9Z" fill="#ece287"/>
<path d="M1333,171.3L1335.7,173.7L1329.9,180.4L1327.2,178Z" fill="#dbd071"/>
<path d="M1335.4,173.5L1338.2,175.9L1332.4,182.5L1329.6,180.2Z" fill="#c9be61"/>
<path d="M1337.9,175.6L1340.6,178L1334.8,184.7L1332.1,182.3Z" fill="#b7ac50"/>
<path d="M1340.3,177.7L1343.1,180.1L1337.3,186.8L1334.5,184.4Z" fill="#a69a41"/>
<path d="M1342.8,179.9L1345.2,182L1339.4,188.7L1337,186.6Z" fill="#a0943c"/>
<path d="M1320.2,171.2L1322.9,173.6L1317.2,180.2L1314.5,177.8Z" fill="#f1e78e"/>
<path d="M1322.6,173.3L1325.4,175.7L1319.7,182.3L1316.9,179.9Z" fill="#f4eb94"/>
<path d="M1325.1,175.4L1327.8,177.8L1322.1,184.4L1319.4,182Z" fill="#ece287"/>
<path d="M1327.5,177.6L1330.3,180L1324.6,186.6L1321.8,184.2Z" fill="#dbd071"/>
<path d="M1330,179.7L1332.7,182.1L1327,188.7L1324.3,186.3Z" fill="#c9be61"/>
<path d="M1332.5,181.8L1335.2,184.2L1329.5,190.8L1326.7,188.4Z" fill="#b7ac50"/>
<path d="M1334.9,184L1337.6,186.4L1331.9,193L1329.2,190.6Z" fill="#a69a41"/>
<path d="M1337.4,186.1L1339.8,188.2L1334.1,194.8L1331.6,192.7Z" fill="#a0943c"/>
<path d="M1314.8,177.3L1317.6,179.7L1312.1,186.1L1309.3,183.7Z" fill="#f1e78e"/>
<path d="M1317.3,179.4L1320,181.8L1314.5,188.2L1311.8,185.8Z" fill="#f4eb94"/>
<path d="M1319.8,181.6L1322.5,184L1317,190.3L1314.2,188Z" fill="#ece287"/>
<path d="M1322.2,183.7L1325,186.1L1319.4,192.5L1316.7,190.1Z" fill="#dbd071"/>
<path d="M1324.7,185.9L1327.4,188.2L1321.9,194.6L1319.1,192.2Z" fill="#c9be61"/>
<path d="M1327.1,188L1329.9,190.4L1324.3,196.7L1321.6,194.4Z" fill="#b7ac50"/>
<path d="M1329.6,190.1L1332.3,192.5L1326.8,198.9L1324,196.5Z" fill="#a69a41"/>
<path d="M1332,192.3L1334.5,194.4L1328.9,200.8L1326.5,198.6Z" fill="#a0943c"/>
<path d="M1309.7,183.2L1312.4,185.6L1307.2,191.6L1304.5,189.2Z" fill="#f1e78e"/>
<path d="M1312.2,185.4L1314.9,187.8L1309.7,193.8L1306.9,191.4Z" fill="#f4eb94"/>
<path d="M1314.6,187.5L1317.3,189.9L1312.1,195.9L1309.4,193.5Z" fill="#ece287"/>
<path d="M1317.1,189.6L1319.8,192L1314.6,198L1311.8,195.6Z" fill="#dbd071"/>
<path d="M1319.5,191.8L1322.2,194.2L1317,200.2L1314.3,197.8Z" fill="#c9be61"/>
<path d="M1322,193.9L1324.7,196.3L1319.5,202.3L1316.7,199.9Z" fill="#b7ac50"/>
<path d="M1324.4,196L1327.2,198.4L1321.9,204.4L1319.2,202.1Z" fill="#a69a41"/>
<path d="M1326.9,198.2L1329.3,200.3L1324.1,206.3L1321.6,204.2Z" fill="#a0943c"/>
<path d="M1304.9,188.8L1307.6,191.2L1302.8,196.7L1300.1,194.3Z" fill="#f1e78e"/>
<path d="M1307.3,190.9L1310.1,193.3L1305.2,198.8L1302.5,196.4Z" fill="#f4eb94"/>
<path d="M1309.8,193.1L1312.5,195.4L1307.7,201L1304.9,198.6Z" fill="#ece287"/>
<path d="M1312.2,195.2L1315,197.6L1310.1,203.1L1307.4,200.7Z" fill="#dbd071"/>
<path d="M1314.7,197.3L1317.4,199.7L1312.6,205.2L1309.8,202.8Z" fill="#c9be61"/>
<path d="M1317.1,199.5L1319.9,201.9L1315,207.4L1312.3,205Z" fill="#b7ac50"/>
<path d="M1319.6,201.6L1322.3,204L1317.5,209.5L1314.7,207.1Z" fill="#a69a41"/>
<path d="M1322,203.7L1324.5,205.9L1319.6,211.4L1317.2,209.3Z" fill="#a0943c"/>
<path d="M1300.5,193.8L1303.2,196.2L1298.9,201.1L1296.2,198.7Z" fill="#f1e78e"/>
<path d="M1302.9,196L1305.6,198.4L1301.4,203.2L1298.6,200.8Z" fill="#f4eb94"/>
<path d="M1305.3,198.1L1308.1,200.5L1303.8,205.4L1301.1,203Z" fill="#ece287"/>
<path d="M1307.8,200.3L1310.5,202.6L1306.2,207.5L1303.5,205.1Z" fill="#dbd071"/>
<path d="M1310.2,202.4L1313,204.8L1308.7,209.7L1305.9,207.3Z" fill="#c9be61"/>
<path d="M1312.7,204.5L1315.4,206.9L1311.1,211.8L1308.4,209.4Z" fill="#b7ac50"/>
<path d="M1315.1,206.7L1317.9,209.1L1313.6,214L1310.8,211.6Z" fill="#a69a41"/>
<path d="M1317.6,208.8L1320,211L1315.7,215.9L1313.3,213.7Z" fill="#a0943c"/>
<path d="M1296.6,198.2L1299.3,200.6L1295.6,204.9L1292.8,202.5Z" fill="#f0e78e"/>
<path d="M1299,200.4L1301.8,202.8L1298.1,207L1295.3,204.6Z" fill="#f4eb94"/>
<path d="M1301.5,202.5L1304.2,204.9L1300.5,209.1L1297.8,206.7Z" fill="#ece286"/>
<path d="M1303.9,204.7L1306.6,207.1L1303,211.2L1300.2,208.8Z" fill="#dbd071"/>
<path d="M1306.3,206.8L1309.1,209.2L1305.5,213.3L1302.7,211Z" fill="#c9be61"/>
<path d="M1308.8,209L1311.5,211.4L1307.9,215.4L1305.2,213.1Z" fill="#b7ac50"/>
<path d="M1311.2,211.1L1314,213.5L1310.4,217.5L1307.7,215.2Z" fill="#a69a41"/>
<path d="M1313.7,213.3L1316.1,215.4L1312.6,219.4L1310.1,217.3Z" fill="#a0943c"/>
<path d="M1293.2,202.1L1296,204.4L1289.3,212.3L1286.7,209.8Z" fill="#f1e78e"/>
<path d="M1295.7,204.2L1298.5,206.5L1291.7,214.6L1289.1,212Z" fill="#f5eb94"/>
<path d="M1298.2,206.3L1300.9,208.6L1294,216.8L1291.4,214.3Z" fill="#ece287"/>
<path d="M1300.6,208.4L1303.4,210.8L1296.3,219.1L1293.7,216.5Z" fill="#dbd071"/>
<path d="M1303.1,210.5L1305.9,212.9L1298.7,221.3L1296.1,218.8Z" fill="#c9be61"/>
<path d="M1305.6,212.6L1308.3,215L1301,223.6L1298.4,221.1Z" fill="#b7ac50"/>
<path d="M1308,214.7L1310.8,217.1L1303.3,225.9L1300.7,223.3Z" fill="#a69a41"/>
<path d="M1310.5,216.8L1313,218.9L1305.4,227.9L1303,225.6Z" fill="#a0943c"/>
<path d="M1287.1,209.3L1289.8,211.9L1287.9,212.9L1286,209.8Z" fill="#f1e88f"/>
<path d="M1289.5,211.6L1292.1,214.1L1289.6,215.6L1287.7,212.6Z" fill="#f5ec94"/>
<path d="M1291.8,213.9L1294.4,216.4L1291.4,218.4L1289.4,215.3Z" fill="#ece287"/>
<path d="M1294.1,216.1L1296.7,218.7L1293.1,221.1L1291.2,218.1Z" fill="#dbd072"/>
<path d="M1296.5,218.4L1299.1,220.9L1294.8,223.9L1292.9,220.8Z" fill="#c9be61"/>
<path d="M1298.8,220.6L1301.4,223.2L1296.6,226.7L1294.6,223.6Z" fill="#b7ac50"/>
<path d="M1301.1,222.9L1303.7,225.4L1298.3,229.4L1296.3,226.3Z" fill="#a69a41"/>
<path d="M1303.5,225.2L1305.8,227.4L1299.8,231.8L1298.1,229.1Z" fill="#a0943c"/>
<path d="M1286.5,209.5L1288.4,212.6L1283.2,215.6L1281.5,212.4Z" fill="#f1e78e"/>
<path d="M1288.2,212.2L1290.2,215.3L1284.7,218.5L1283,215.3Z" fill="#f4eb94"/>
<path d="M1289.9,215L1291.9,218.1L1286.2,221.4L1284.5,218.2Z" fill="#ece287"/>
<path d="M1291.7,217.7L1293.6,220.8L1287.7,224.3L1286,221.1Z" fill="#dbd071"/>
<path d="M1293.4,220.5L1295.3,223.6L1289.2,227.1L1287.6,223.9Z" fill="#c9be61"/>
<path d="M1295.1,223.3L1297.1,226.3L1290.8,230L1289.1,226.8Z" fill="#b7ac50"/>
<path d="M1296.9,226L1298.8,229.1L1292.3,232.9L1290.6,229.7Z" fill="#a69a41"/>
<path d="M1298.6,228.8L1300.3,231.5L1293.6,235.4L1292.1,232.6Z" fill="#a0943c"/>
<path d="M1282,212.1L1283.7,215.4L1277.6,218.2L1276.3,214.8Z" fill="#efe68c"/>
<path d="M1283.5,215L1285.2,218.2L1278.9,221.2L1277.5,217.8Z" fill="#f3ea92"/>
<path d="M1285.1,217.9L1286.7,221.1L1280.1,224.2L1278.7,220.9Z" fill="#ebe186"/>
<path d="M1286.6,220.8L1288.3,224L1281.3,227.2L1279.9,223.9Z" fill="#dad071"/>
<path d="M1288.1,223.6L1289.8,226.9L1282.5,230.3L1281.1,226.9Z" fill="#c9be61"/>
<path d="M1289.6,226.5L1291.3,229.7L1283.7,233.3L1282.3,229.9Z" fill="#b7ac51"/>
<path d="M1291.1,229.4L1292.8,232.6L1284.9,236.3L1283.5,232.9Z" fill="#a69b41"/>
<path d="M1292.6,232.3L1294.1,235.2L1286,239L1284.8,235.9Z" fill="#a0943c"/>
<path d="M1276.8,214.6L1278.2,218L1270.8,220.5L1269.7,217Z" fill="#ede388"/>
<path d="M1278.1,217.6L1279.4,221L1271.7,223.6L1270.7,220.1Z" fill="#f2e990"/>
<path d="M1279.3,220.6L1280.6,224L1272.6,226.7L1271.6,223.2Z" fill="#eae084"/>
<path d="M1280.5,223.6L1281.8,227L1273.5,229.8L1272.5,226.4Z" fill="#dacf71"/>
<path d="M1281.7,226.7L1283,230L1274.5,233L1273.4,229.5Z" fill="#cabf61"/>
<path d="M1282.9,229.7L1284.3,233.1L1275.4,236.1L1274.3,232.6Z" fill="#b8ad51"/>
<path d="M1284.1,232.7L1285.5,236.1L1276.3,239.2L1275.3,235.7Z" fill="#a79b42"/>
<path d="M1285.3,235.7L1286.5,238.7L1277.1,241.9L1276.2,238.8Z" fill="#a0943c"/>
<path d="M1270.3,216.8L1271.3,220.3L1264.3,222L1263.5,218.5Z" fill="#ebe185"/>
<path d="M1271.2,220L1272.3,223.4L1265,225.2L1264.2,221.7Z" fill="#f0e78d"/>
<path d="M1272.2,223.1L1273.2,226.6L1265.6,228.4L1264.9,224.8Z" fill="#e9df83"/>
<path d="M1273.1,226.2L1274.1,229.7L1266.3,231.6L1265.6,228Z" fill="#dacf70"/>
<path d="M1274,229.3L1275,232.8L1267,234.7L1266.3,231.2Z" fill="#cabf61"/>
<path d="M1274.9,232.4L1276,235.9L1267.7,237.9L1266.9,234.4Z" fill="#b9ae52"/>
<path d="M1275.8,235.5L1276.9,239L1268.4,241.1L1267.6,237.5Z" fill="#a89c43"/>
<path d="M1276.8,238.6L1277.7,241.8L1269,243.9L1268.3,240.7Z" fill="#a0943c"/>
<path d="M1264.1,218.4L1264.8,221.9L1256.4,223.5L1255.8,219.9Z" fill="#e9de82"/>
<path d="M1264.8,221.5L1265.5,225.1L1257,226.7L1256.4,223.1Z" fill="#efe58b"/>
<path d="M1265.5,224.7L1266.2,228.3L1257.5,229.9L1256.9,226.3Z" fill="#e8de82"/>
<path d="M1266.1,227.9L1266.9,231.4L1258.1,233.1L1257.5,229.6Z" fill="#d9ce70"/>
<path d="M1266.8,231.1L1267.6,234.6L1258.7,236.3L1258,232.8Z" fill="#cabf61"/>
<path d="M1267.5,234.2L1268.3,237.8L1259.2,239.5L1258.6,236Z" fill="#b9ae52"/>
<path d="M1268.2,237.4L1269,241L1259.8,242.7L1259.1,239.2Z" fill="#a89d43"/>
<path d="M1268.9,240.6L1269.6,243.8L1260.3,245.6L1259.7,242.4Z" fill="#a0943c"/>
<path d="M1256.4,219.8L1257,223.4L1248.5,224.7L1248.1,221.1Z" fill="#e7dd80"/>
<path d="M1256.9,223L1257.6,226.6L1248.9,227.9L1248.5,224.3Z" fill="#eee48a"/>
<path d="M1257.5,226.2L1258.1,229.8L1249.4,231.2L1248.9,227.6Z" fill="#e7dd81"/>
<path d="M1258.1,229.4L1258.7,233L1249.8,234.4L1249.3,230.8Z" fill="#d9ce70"/>
<path d="M1258.6,232.7L1259.2,236.2L1250.2,237.6L1249.7,234Z" fill="#cabf62"/>
<path d="M1259.2,235.9L1259.8,239.4L1250.6,240.8L1250.2,237.2Z" fill="#baaf53"/>
<path d="M1259.7,239.1L1260.4,242.6L1251.1,244.1L1250.6,240.4Z" fill="#a99d44"/>
<path d="M1260.3,242.3L1260.8,245.5L1251.4,246.9L1251,243.7Z" fill="#a0943c"/>
<path d="M1248.6,221L1249.1,224.6L1241.8,225.4L1241.5,221.8Z" fill="#e4da7d"/>
<path d="M1249.1,224.3L1249.5,227.9L1242,228.6L1241.8,225Z" fill="#ece287"/>
<path d="M1249.5,227.5L1250,231.1L1242.2,231.9L1242,228.3Z" fill="#e6dc80"/>
<path d="M1249.9,230.7L1250.4,234.3L1242.4,235.1L1242.2,231.5Z" fill="#d9ce6f"/>
<path d="M1250.3,233.9L1250.8,237.5L1242.6,238.4L1242.4,234.7Z" fill="#cabf62"/>
<path d="M1250.8,237.1L1251.2,240.8L1242.9,241.6L1242.6,238Z" fill="#baaf53"/>
<path d="M1251.2,240.4L1251.7,244L1243.1,244.9L1242.8,241.2Z" fill="#a99e44"/>
<path d="M1251.6,243.6L1252,246.8L1243.3,247.7L1243,244.5Z" fill="#a0943c"/>
<path d="M1242.1,221.7L1242.4,225.4L1234.4,225.6L1234.5,221.9Z" fill="#e1d679"/>
<path d="M1242.4,225L1242.6,228.6L1234.3,228.8L1234.4,225.2Z" fill="#eae084"/>
<path d="M1242.6,228.2L1242.8,231.8L1234.3,232.1L1234.3,228.4Z" fill="#e5db7e"/>
<path d="M1242.8,231.5L1243,235.1L1234.2,235.3L1234.3,231.7Z" fill="#d8cd6f"/>
<path d="M1243,234.7L1243.2,238.3L1234.2,238.6L1234.2,234.9Z" fill="#cbc062"/>
<path d="M1243.2,237.9L1243.5,241.6L1234.1,241.8L1234.2,238.2Z" fill="#bbb054"/>
<path d="M1243.4,241.2L1243.7,244.8L1234,245.1L1234.1,241.4Z" fill="#ab9f45"/>
<path d="M1243.6,244.4L1243.9,247.7L1234,247.9L1234,244.7Z" fill="#a0943c"/>
<path d="M1235.1,222L1235,225.6L1228.4,225.1L1228.9,221.5Z" fill="#dbd072"/>
<path d="M1235,225.2L1234.9,228.8L1228,228.3L1228.5,224.7Z" fill="#e6dc7f"/>
<path d="M1234.9,228.4L1234.9,232.1L1227.5,231.5L1228,227.9Z" fill="#e2d87b"/>
<path d="M1234.9,231.7L1234.8,235.3L1227.1,234.7L1227.6,231.1Z" fill="#d7cc6e"/>
<path d="M1234.8,234.9L1234.8,238.6L1226.6,237.9L1227.1,234.3Z" fill="#cbc063"/>
<path d="M1234.8,238.2L1234.7,241.8L1226.2,241.2L1226.7,237.6Z" fill="#bdb255"/>
<path d="M1234.7,241.4L1234.6,245.1L1225.7,244.4L1226.2,240.8Z" fill="#aca147"/>
<path d="M1234.6,244.7L1234.6,247.9L1225.3,247.2L1225.8,244Z" fill="#a0943c"/>
<path d="M1229.5,221.5L1229,225.1L1224.5,224.2L1225.8,220.8Z" fill="#d2c768"/>
<path d="M1229.1,224.8L1228.6,228.4L1223.3,227.2L1224.7,223.8Z" fill="#ded375"/>
<path d="M1228.6,228L1228.1,231.6L1222.2,230.2L1223.5,226.8Z" fill="#ded375"/>
<path d="M1228.2,231.2L1227.7,234.8L1221,233.2L1222.3,229.9Z" fill="#d6cb6c"/>
<path d="M1227.7,234.4L1227.2,238L1219.8,236.3L1221.1,232.9Z" fill="#ccc164"/>
<path d="M1227.3,237.6L1226.8,241.2L1218.7,239.3L1220,235.9Z" fill="#c0b558"/>
<path d="M1226.8,240.9L1226.3,244.5L1217.5,242.3L1218.8,238.9Z" fill="#afa449"/>
<path d="M1226.4,244.1L1225.9,247.3L1216.4,245L1217.6,242Z" fill="#a0943c"/>
<path d="M1226.4,221L1225.1,224.4L1219.8,221.5L1222,218.6Z" fill="#c6bb5d"/>
<path d="M1225.2,224L1223.9,227.4L1217.9,224.1L1220.1,221.2Z" fill="#d2c769"/>
<path d="M1224,227L1222.7,230.4L1215.9,226.7L1218.1,223.8Z" fill="#d6cb6c"/>
<path d="M1222.9,230.1L1221.6,233.5L1214,229.3L1216.2,226.4Z" fill="#d4c96a"/>
<path d="M1221.7,233.1L1220.4,236.5L1212,231.9L1214.2,229Z" fill="#cec365"/>
<path d="M1220.5,236.1L1219.2,239.5L1210.1,234.5L1212.3,231.6Z" fill="#c4b95c"/>
<path d="M1219.4,239.2L1218,242.6L1208.1,237.1L1210.3,234.2Z" fill="#b7ac50"/>
<path d="M1218.2,242.2L1217,245.2L1206.4,239.4L1208.4,236.8Z" fill="#a69a41"/>
<path d="M1222.5,219L1220.3,221.9L1217.7,218.9L1220.8,216.9Z" fill="#b6ab50"/>
<path d="M1220.5,221.6L1218.4,224.5L1214.9,220.6L1218,218.7Z" fill="#c6bb5e"/>
<path d="M1218.6,224.2L1216.4,227.1L1212.2,222.4L1215.3,220.4Z" fill="#cec365"/>
<path d="M1216.6,226.8L1214.5,229.7L1209.4,224.1L1212.5,222.2Z" fill="#d2c768"/>
<path d="M1214.7,229.4L1212.5,232.3L1206.7,225.8L1209.8,223.9Z" fill="#d1c667"/>
<path d="M1212.7,232L1210.6,234.9L1204,227.6L1207,225.6Z" fill="#ccc163"/>
<path d="M1210.8,234.6L1208.6,237.5L1201.2,229.3L1204.3,227.4Z" fill="#c2b75a"/>
<path d="M1208.8,237.2L1206.9,239.8L1198.8,230.9L1201.5,229.1Z" fill="#b0a54a"/>
<path d="M1221.1,217.4L1218,219.4L1217,216.5L1220.6,215.9Z" fill="#a89c43"/>
<path d="M1218.3,219.2L1215.3,221.1L1213.8,217L1217.4,216.4Z" fill="#b9ae52"/>
<path d="M1215.6,220.9L1212.5,222.9L1210.6,217.6L1214.2,217Z" fill="#c6bb5e"/>
<path d="M1212.8,222.7L1209.8,224.6L1207.4,218.1L1211,217.5Z" fill="#cfc466"/>
<path d="M1210.1,224.4L1207,226.4L1204.2,218.7L1207.8,218.1Z" fill="#d4c96a"/>
<path d="M1207.4,226.1L1204.3,228.1L1201,219.2L1204.6,218.6Z" fill="#d4c96b"/>
<path d="M1204.6,227.9L1201.5,229.8L1197.8,219.8L1201.4,219.2Z" fill="#d0c567"/>
<path d="M1201.9,229.6L1199.1,231.4L1195,220.3L1198.2,219.7Z" fill="#c2b75b"/>
<path d="M1220.7,216.5L1217.1,217.1L1217.2,214.9L1220.7,216Z" fill="#a0943c"/>
<path d="M1217.5,217L1213.9,217.6L1214.1,214L1217.6,215Z" fill="#aea248"/>
<path d="M1214.3,217.6L1210.7,218.2L1211,213L1214.5,214.1Z" fill="#beb357"/>
<path d="M1211.1,218.1L1207.5,218.7L1207.9,212.1L1211.4,213.2Z" fill="#ccc163"/>
<path d="M1207.9,218.7L1204.3,219.3L1204.8,211.2L1208.3,212.2Z" fill="#d7cc6d"/>
<path d="M1204.7,219.2L1201.1,219.8L1201.7,210.2L1205.2,211.3Z" fill="#e0d678"/>
<path d="M1201.5,219.8L1197.9,220.4L1198.6,209.3L1202,210.4Z" fill="#e2d87b"/>
<path d="M1198.3,220.3L1195.1,220.9L1195.8,208.5L1198.9,209.4Z" fill="#d6cb6c"/>
<path d="M1220.6,216.5L1217.1,215.5L1218.9,213.2L1221.7,215.5Z" fill="#a0943c"/>
<path d="M1217.4,215.6L1214,214.6L1216.3,211.2L1219.2,213.5Z" fill="#a89c43"/>
<path d="M1214.3,214.7L1210.8,213.6L1213.8,209.1L1216.6,211.4Z" fill="#b9ae52"/>
<path d="M1211.2,213.7L1207.7,212.7L1211.2,207.1L1214.1,209.4Z" fill="#cabf61"/>
<path d="M1208.1,212.8L1204.6,211.8L1208.7,205L1211.5,207.3Z" fill="#dacf70"/>
<path d="M1205,211.9L1201.5,210.8L1206.1,202.9L1209,205.2Z" fill="#e9df83"/>
<path d="M1201.9,210.9L1198.4,209.9L1203.6,200.9L1206.4,203.2Z" fill="#f0e78d"/>
<path d="M1198.8,210L1195.6,209.1L1201.3,199.1L1203.9,201.1Z" fill="#eae085"/>
<path d="M1221.4,216L1218.5,213.7L1222.6,209.9L1225,212.7Z" fill="#a0943c"/>
<path d="M1218.8,213.9L1216,211.6L1220.4,207.4L1222.9,210.2Z" fill="#a69a41"/>
<path d="M1216.3,211.9L1213.4,209.6L1218.3,204.9L1220.7,207.7Z" fill="#b7ac50"/>
<path d="M1213.7,209.8L1210.8,207.5L1216.1,202.4L1218.5,205.2Z" fill="#c9be61"/>
<path d="M1211.2,207.8L1208.3,205.5L1213.9,199.9L1216.4,202.7Z" fill="#dbd071"/>
<path d="M1208.6,205.7L1205.7,203.4L1211.7,197.4L1214.2,200.2Z" fill="#ece287"/>
<path d="M1206,203.7L1203.2,201.4L1209.6,194.9L1212,197.7Z" fill="#f5eb94"/>
<path d="M1203.5,201.6L1200.9,199.6L1207.7,192.7L1209.8,195.2Z" fill="#f1e78e"/>
<path d="M1224.6,213.1L1222.2,210.3L1227.9,206L1230.2,209Z" fill="#a0943c"/>
<path d="M1222.4,210.6L1220,207.8L1225.9,203.3L1228.2,206.3Z" fill="#a59a41"/>
<path d="M1220.2,208.1L1217.8,205.3L1223.9,200.6L1226.2,203.6Z" fill="#b7ac50"/>
<path d="M1218.1,205.6L1215.6,202.8L1221.9,198L1224.1,201Z" fill="#c9be61"/>
<path d="M1215.9,203.1L1213.5,200.3L1219.9,195.3L1222.1,198.3Z" fill="#dbd072"/>
<path d="M1213.7,200.6L1211.3,197.8L1217.9,192.6L1220.1,195.6Z" fill="#ece287"/>
<path d="M1211.6,198.1L1209.1,195.3L1215.9,189.9L1218.1,192.9Z" fill="#f5ec95"/>
<path d="M1209.4,195.6L1207.2,193.1L1214.1,187.6L1216.1,190.2Z" fill="#f2e88f"/>
<path d="M1229.7,209.3L1227.4,206.4L1234.1,201.6L1236.4,204.5Z" fill="#a0943c"/>
<path d="M1227.7,206.7L1225.4,203.7L1232,199L1234.3,201.9Z" fill="#a59a41"/>
<path d="M1225.7,204L1223.4,201L1229.8,196.3L1232.2,199.3Z" fill="#b7ac50"/>
<path d="M1223.7,201.3L1221.4,198.3L1227.7,193.7L1230.1,196.6Z" fill="#c9be61"/>
<path d="M1221.7,198.6L1219.4,195.6L1225.6,191.1L1228,194Z" fill="#dbd072"/>
<path d="M1219.6,196L1217.4,193L1223.5,188.5L1225.8,191.4Z" fill="#ece287"/>
<path d="M1217.6,193.3L1215.4,190.3L1221.4,185.8L1223.7,188.8Z" fill="#f5ec95"/>
<path d="M1215.6,190.6L1213.6,187.9L1219.5,183.5L1221.6,186.1Z" fill="#f2e88f"/>
<path d="M1236,204.9L1233.6,202L1239.5,196.6L1242.1,199.4Z" fill="#a0943c"/>
<path d="M1233.9,202.3L1231.5,199.3L1237.2,194.2L1239.8,196.9Z" fill="#a59a41"/>
<path d="M1231.7,199.7L1229.4,196.7L1234.9,191.7L1237.5,194.4Z" fill="#b7ac50"/>
<path d="M1229.6,197L1227.2,194.1L1232.6,189.2L1235.2,192Z" fill="#c9be61"/>
<path d="M1227.5,194.4L1225.1,191.5L1230.3,186.7L1232.9,189.5Z" fill="#dbd072"/>
<path d="M1225.4,191.8L1223,188.8L1228,184.3L1230.6,187Z" fill="#ece287"/>
<path d="M1223.3,189.1L1220.9,186.2L1225.7,181.8L1228.3,184.5Z" fill="#f5ec95"/>
<path d="M1221.1,186.5L1219,183.9L1223.7,179.6L1226,182.1Z" fill="#f1e88f"/>
<path d="M1241.7,199.8L1239.1,197L1243.2,193.1L1245.8,195.8Z" fill="#a0943c"/>
<path d="M1239.4,197.3L1236.8,194.6L1240.8,190.6L1243.5,193.4Z" fill="#a69a41"/>
<path d="M1237.1,194.9L1234.5,192.1L1238.5,188.2L1241.1,190.9Z" fill="#b7ac50"/>
<path d="M1234.8,192.4L1232.2,189.6L1236.2,185.8L1238.8,188.5Z" fill="#c9be61"/>
<path d="M1232.5,189.9L1229.9,187.1L1233.8,183.4L1236.4,186.1Z" fill="#dbd072"/>
<path d="M1230.2,187.4L1227.6,184.7L1231.5,180.9L1234.1,183.7Z" fill="#ece287"/>
<path d="M1227.9,185L1225.3,182.2L1229.1,178.5L1231.7,181.2Z" fill="#f5ec95"/>
<path d="M1225.6,182.5L1223.3,180L1227.1,176.4L1229.4,178.8Z" fill="#f1e88f"/>
<ellipse cx="1398.5" cy="101.2" rx="12.6" ry="11.5" transform="rotate(-40 1398.5 101.2)" fill="url(#g16)"/>
<ellipse cx="1083.2" cy="314.9" rx="14.2" ry="4.6" transform="rotate(-12 1083.2 314.9)" fill="none" stroke="#2c2c2c" stroke-width="1.9"/>
</g>
<g filter="url(#soft)">
<path d="M944.2,499.6 C945.5,498.3 956.9,485.5 959.4,483.6 C961.9,481.8 972.1,478.4 974.6,477.4 C977.1,476.4 988.7,472.4 990,472" fill="none" stroke="#b8b8b8" stroke-width="3.6" stroke-linecap="round" stroke-linejoin="round"/>
<path d="M944.2,499.6 C945.5,498.3 956.9,485.5 959.4,483.6 C961.9,481.8 972.1,478.4 974.6,477.4 C977.1,476.4 988.7,472.4 990,472" fill="none" stroke="#f4f4f4" stroke-width="1.1520000000000001" stroke-linecap="round" stroke-linejoin="round"/>
<path d="M1076.1,346.4L1076.2,351.1L1076.4,357.9L1076.6,365.1L1076.9,372L1077.2,378.8L1077.1,384.9L1076.6,390.5L1075.8,395.5L1074.9,398.9L1072.1,404.5L1068.7,409L1066.1,410.9L1058.7,415.8L1054,419.1L1048.5,423.1L1042.3,427.6L1035.8,432.2L1029.5,436.8L1023.8,441L1017.6,445.7L1011.5,450.4L1005.8,454.8L1000.7,459L996.2,462.8L988.7,469.5L983,477.2L979.2,487L978.7,498.8L983.1,509.8L990,517.6L999.2,522.6L1008.6,524.3L1014.1,525.2L1021.1,526.2L1028.8,527.3L1036.9,528.5L1045,529.7L1052.5,530.8L1060.1,532L1068,533.3L1076,534.6L1083.5,535.9L1090.1,537L1095.5,538L1102.9,539.3L1101.7,538.6L1102.3,539.1L1102.4,539.9L1103.5,534.3L1099.6,539.5L1097.1,542.2L1093,546.5L1088,551.6L1082.6,557.1L1076.8,562.9L1070.9,568.7L1065.2,574.6L1059.8,580.1L1054.5,585.6L1049.1,591.4L1043.6,597.2L1038.2,603L1033,608.5L1028.3,613.6L1024,618.2L1020.5,621.9L1013.9,628.7L1010.3,632.2L1007.9,634.5L1030.1,657.5L1032.5,655.2L1036.6,651.2L1043.5,644.1L1047.3,640.1L1051.6,635.5L1056.4,630.4L1061.6,624.8L1067,619.1L1072.4,613.3L1077.7,607.6L1082.8,602.3L1088,597L1093.6,591.3L1099.4,585.5L1105.2,579.7L1110.8,574L1116,568.8L1120.6,563.9L1125,558.9L1132.7,547.4L1133.6,533.1L1129.5,522.3L1121.3,513.4L1111.6,508.6L1101.3,506.6L1095.8,505.5L1088.9,504.3L1081.2,503L1073.2,501.7L1065.1,500.4L1057.5,499.2L1049.7,498L1041.5,496.8L1033.3,495.6L1025.7,494.5L1019,493.6L1013.8,492.7L1007.8,491.8L1011,493.4L1010.2,492.7L1010.3,493.2L1010.4,494.1L1011,492.8L1011.9,491.6L1017.2,486.8L1021,483.7L1025.7,479.9L1031.2,475.6L1037,471.1L1043,466.6L1048.4,462.6L1054.5,458.2L1060.9,453.6L1067.1,449.2L1072.8,445.1L1077.3,441.8L1085.6,435.7L1092.3,429L1098.6,419.6L1103.1,409.1L1105,400.8L1105.7,393.2L1106.1,385.9L1106.1,378.3L1105.9,370.9L1105.6,364.1L1105.4,357.2L1105.2,350.3L1105.1,345.6Z" fill="#dfdfdf"/>
<path d="M1076.1,346.4L1079.4,346.3L1079.6,351.6L1076.3,351.7Z" fill="#b8b8b8"/>
<path d="M1079,346.3L1082.3,346.2L1082.5,351.6L1079.2,351.7Z" fill="#ececec"/>
<path d="M1081.9,346.2L1085.2,346.1L1085.4,351.5L1082,351.6Z" fill="#eeeeee"/>
<path d="M1084.8,346.2L1088.1,346.1L1088.3,351.4L1084.9,351.5Z" fill="#ebebeb"/>
<path d="M1087.7,346.1L1091,346L1091.2,351.3L1087.8,351.4Z" fill="#e6e6e6"/>
<path d="M1090.6,346L1093.9,345.9L1094.1,351.2L1090.7,351.3Z" fill="#d1d1d1"/>
<path d="M1093.5,345.9L1096.8,345.8L1097,351.2L1093.6,351.3Z" fill="#b5b5b5"/>
<path d="M1096.4,345.8L1099.7,345.8L1099.9,351.1L1096.5,351.2Z" fill="#9e9e9e"/>
<path d="M1099.3,345.8L1102.6,345.7L1102.8,351L1099.4,351.1Z" fill="#999998"/>
<path d="M1102.2,345.7L1105.1,345.6L1105.2,350.9L1102.3,351Z" fill="#b0b0b0"/>
<path d="M1076.2,351.1L1079.6,351L1079.8,358.4L1076.4,358.5Z" fill="#b8b8b8"/>
<path d="M1079.1,351.1L1082.5,351L1082.7,358.4L1079.3,358.5Z" fill="#ececec"/>
<path d="M1082,351L1085.4,350.9L1085.6,358.3L1082.2,358.4Z" fill="#eeeeee"/>
<path d="M1084.9,350.9L1088.3,350.8L1088.5,358.2L1085.1,358.3Z" fill="#ebebeb"/>
<path d="M1087.8,350.8L1091.2,350.7L1091.4,358.1L1088,358.2Z" fill="#e6e6e6"/>
<path d="M1090.7,350.7L1094.1,350.6L1094.3,358.1L1090.9,358.1Z" fill="#d1d1d1"/>
<path d="M1093.6,350.7L1097,350.6L1097.2,358L1093.8,358.1Z" fill="#b5b5b5"/>
<path d="M1096.5,350.6L1099.9,350.5L1100.1,357.9L1096.7,358Z" fill="#9e9e9e"/>
<path d="M1099.4,350.5L1102.8,350.4L1103,357.8L1099.6,357.9Z" fill="#999998"/>
<path d="M1102.3,350.4L1105.2,350.3L1105.4,357.8L1102.5,357.8Z" fill="#b0b0b0"/>
<path d="M1076.4,357.9L1079.8,357.8L1080,365.6L1076.6,365.7Z" fill="#b8b8b8"/>
<path d="M1079.3,357.9L1082.7,357.8L1082.9,365.5L1079.5,365.6Z" fill="#ececec"/>
<path d="M1082.2,357.8L1085.6,357.7L1085.8,365.4L1082.4,365.5Z" fill="#eeeeee"/>
<path d="M1085.1,357.7L1088.5,357.6L1088.7,365.3L1085.3,365.4Z" fill="#ebebeb"/>
<path d="M1088,357.6L1091.3,357.5L1091.6,365.2L1088.2,365.3Z" fill="#e6e6e6"/>
<path d="M1090.9,357.5L1094.2,357.5L1094.5,365.1L1091.1,365.2Z" fill="#d2d2d2"/>
<path d="M1093.8,357.5L1097.1,357.4L1097.4,365L1094,365.1Z" fill="#b5b5b5"/>
<path d="M1096.7,357.4L1100,357.3L1100.2,364.9L1096.9,365Z" fill="#9e9e9e"/>
<path d="M1099.6,357.3L1102.9,357.2L1103.1,364.8L1099.8,364.9Z" fill="#999998"/>
<path d="M1102.5,357.2L1105.4,357.2L1105.6,364.7L1102.7,364.8Z" fill="#b0b0b0"/>
<path d="M1076.6,365.1L1079.9,365L1080.3,372.5L1076.9,372.6Z" fill="#b8b8b8"/>
<path d="M1079.5,365L1082.8,364.9L1083.2,372.4L1079.8,372.5Z" fill="#ececec"/>
<path d="M1082.4,364.9L1085.7,364.8L1086.1,372.3L1082.7,372.4Z" fill="#eeeeee"/>
<path d="M1085.3,364.8L1088.6,364.7L1088.9,372.2L1085.6,372.3Z" fill="#ebebeb"/>
<path d="M1088.2,364.7L1091.5,364.6L1091.8,372L1088.5,372.2Z" fill="#e6e6e6"/>
<path d="M1091.1,364.6L1094.4,364.5L1094.7,371.9L1091.4,372.1Z" fill="#d2d2d2"/>
<path d="M1094,364.5L1097.3,364.4L1097.6,371.8L1094.3,371.9Z" fill="#b5b5b5"/>
<path d="M1096.9,364.4L1100.2,364.3L1100.5,371.7L1097.2,371.8Z" fill="#9f9f9e"/>
<path d="M1099.8,364.3L1103.1,364.2L1103.4,371.6L1100.1,371.7Z" fill="#999998"/>
<path d="M1102.7,364.2L1105.6,364.1L1105.9,371.5L1103,371.6Z" fill="#b0b0b0"/>
<path d="M1076.9,372L1080.2,371.9L1080.5,379.3L1077.2,379.4Z" fill="#b8b8b8"/>
<path d="M1079.8,371.9L1083.1,371.8L1083.4,379.3L1080.1,379.3Z" fill="#ececec"/>
<path d="M1082.7,371.8L1086,371.7L1086.3,379.2L1083,379.3Z" fill="#eeeeee"/>
<path d="M1085.6,371.7L1088.9,371.6L1089.2,379.2L1085.9,379.2Z" fill="#ebebeb"/>
<path d="M1088.5,371.6L1091.8,371.4L1092.1,379.1L1088.8,379.2Z" fill="#e6e6e6"/>
<path d="M1091.4,371.5L1094.7,371.3L1095,379.1L1091.7,379.1Z" fill="#d1d1d1"/>
<path d="M1094.3,371.3L1097.6,371.2L1097.9,379.1L1094.6,379.1Z" fill="#b5b5b5"/>
<path d="M1097.2,371.2L1100.5,371.1L1100.8,379L1097.5,379.1Z" fill="#9e9e9e"/>
<path d="M1100.1,371.1L1103.4,371L1103.7,379L1100.3,379Z" fill="#999998"/>
<path d="M1103,371L1105.9,370.9L1106.1,378.9L1103.2,379Z" fill="#b0b0b0"/>
<path d="M1077.2,378.8L1080.5,378.7L1080.4,385.6L1077.1,385.5Z" fill="#bababa"/>
<path d="M1080.1,378.7L1083.4,378.7L1083.3,385.7L1080,385.6Z" fill="#ededed"/>
<path d="M1083,378.7L1086.3,378.6L1086.2,385.8L1082.9,385.7Z" fill="#efefef"/>
<path d="M1085.9,378.6L1089.2,378.6L1089.1,385.9L1085.8,385.8Z" fill="#ececec"/>
<path d="M1088.8,378.6L1092.1,378.5L1092,386L1088.7,385.9Z" fill="#e6e6e6"/>
<path d="M1091.7,378.5L1095,378.5L1094.9,386.1L1091.6,386Z" fill="#d1d1d1"/>
<path d="M1094.6,378.5L1097.9,378.5L1097.8,386.2L1094.5,386.1Z" fill="#b4b4b4"/>
<path d="M1097.4,378.5L1100.8,378.4L1100.7,386.3L1097.4,386.2Z" fill="#9e9e9d"/>
<path d="M1100.3,378.4L1103.7,378.4L1103.6,386.4L1100.3,386.3Z" fill="#9a9a99"/>
<path d="M1103.2,378.4L1106.1,378.3L1106.1,386.5L1103.2,386.4Z" fill="#b0b0b0"/>
<path d="M1077.1,384.9L1080.4,385L1079.9,391.5L1076.6,391.1Z" fill="#bbbbbb"/>
<path d="M1080,385L1083.3,385.1L1082.8,391.7L1079.5,391.4Z" fill="#efefef"/>
<path d="M1082.9,385.1L1086.2,385.2L1085.7,392L1082.4,391.7Z" fill="#f0f0f0"/>
<path d="M1085.8,385.2L1089.1,385.3L1088.6,392.3L1085.3,392Z" fill="#ededed"/>
<path d="M1088.7,385.3L1092,385.4L1091.6,392.5L1088.2,392.2Z" fill="#e6e6e6"/>
<path d="M1091.6,385.4L1094.9,385.5L1094.5,392.8L1091.1,392.5Z" fill="#d0d0d0"/>
<path d="M1094.5,385.5L1097.8,385.6L1097.4,393.1L1094,392.8Z" fill="#b2b2b2"/>
<path d="M1097.4,385.6L1100.7,385.7L1100.3,393.3L1097,393Z" fill="#9d9d9c"/>
<path d="M1100.3,385.7L1103.6,385.8L1103.2,393.6L1099.9,393.3Z" fill="#9b9b9a"/>
<path d="M1103.2,385.8L1106.1,385.9L1105.7,393.8L1102.8,393.6Z" fill="#b0b0b0"/>
<path d="M1076.6,390.5L1080,390.9L1079.1,396.7L1075.7,396.1Z" fill="#bcbcbc"/>
<path d="M1079.5,390.8L1082.9,391.1L1082,397.2L1078.6,396.6Z" fill="#f0f0f0"/>
<path d="M1082.4,391.1L1085.8,391.4L1084.9,397.8L1081.6,397.2Z" fill="#f0f0f0"/>
<path d="M1085.4,391.4L1088.7,391.7L1087.8,398.3L1084.5,397.7Z" fill="#eeeeee"/>
<path d="M1088.3,391.6L1091.6,391.9L1090.7,398.8L1087.4,398.2Z" fill="#e7e7e7"/>
<path d="M1091.2,391.9L1094.5,392.2L1093.7,399.3L1090.3,398.7Z" fill="#cfcfcf"/>
<path d="M1094.1,392.2L1097.4,392.5L1096.6,399.9L1093.2,399.3Z" fill="#afafaf"/>
<path d="M1097,392.4L1100.4,392.7L1099.5,400.4L1096.1,399.8Z" fill="#9c9c9b"/>
<path d="M1099.9,392.7L1103.3,393L1102.4,400.9L1099.1,400.3Z" fill="#9c9c9c"/>
<path d="M1102.8,393L1105.7,393.2L1104.9,401.4L1102,400.8Z" fill="#b0b0b0"/>
<path d="M1075.8,395.5L1079.2,396.1L1077.9,400.6L1074.7,399.4Z" fill="#bdbdbd"/>
<path d="M1078.8,396L1082.1,396.7L1080.8,401.6L1077.5,400.5Z" fill="#f1f1f1"/>
<path d="M1081.7,396.6L1085,397.2L1083.6,402.7L1080.3,401.5Z" fill="#f1f1f1"/>
<path d="M1084.6,397.1L1087.9,397.7L1086.4,403.7L1083.2,402.5Z" fill="#efefef"/>
<path d="M1087.5,397.6L1090.9,398.2L1089.2,404.7L1086,403.5Z" fill="#e7e7e7"/>
<path d="M1090.4,398.1L1093.8,398.8L1092,405.7L1088.8,404.6Z" fill="#cdcdcd"/>
<path d="M1093.3,398.7L1096.7,399.3L1094.9,406.8L1091.6,405.6Z" fill="#acacac"/>
<path d="M1096.3,399.2L1099.6,399.8L1097.7,407.8L1094.4,406.6Z" fill="#9a9a99"/>
<path d="M1099.2,399.7L1102.5,400.3L1100.5,408.8L1097.3,407.6Z" fill="#9e9e9e"/>
<path d="M1102.1,400.3L1105,400.8L1102.9,409.7L1100.1,408.7Z" fill="#b0b0b0"/>
<path d="M1074.9,398.9L1078.1,400.1L1074.9,406.8L1071.8,405.1Z" fill="#bebebe"/>
<path d="M1077.7,399.9L1081,401.1L1077.5,408.3L1074.5,406.6Z" fill="#f2f2f2"/>
<path d="M1080.5,400.9L1083.8,402.1L1080.2,409.8L1077.1,408.1Z" fill="#f2f2f2"/>
<path d="M1083.4,402L1086.6,403.1L1082.8,411.3L1079.8,409.6Z" fill="#f0f0f0"/>
<path d="M1086.2,403L1089.4,404.2L1085.5,412.8L1082.4,411.1Z" fill="#e8e8e8"/>
<path d="M1089,404L1092.2,405.2L1088.1,414.3L1085.1,412.6Z" fill="#cccccc"/>
<path d="M1091.8,405L1095.1,406.2L1090.8,415.8L1087.7,414.1Z" fill="#a8a8a8"/>
<path d="M1094.6,406L1097.9,407.2L1093.4,417.3L1090.4,415.6Z" fill="#989898"/>
<path d="M1097.5,407.1L1100.7,408.3L1096.1,418.8L1093,417.1Z" fill="#a6a6a6"/>
<path d="M1100.3,408.1L1103.1,409.1L1098.3,420.1L1095.7,418.6Z" fill="#b0b0b0"/>
<path d="M1072.1,404.5L1075.2,406.3L1071,411.8L1068.3,409.5Z" fill="#bfbfbf"/>
<path d="M1074.8,406L1077.8,407.8L1073.4,413.8L1070.6,411.5Z" fill="#f3f3f3"/>
<path d="M1077.4,407.5L1080.5,409.3L1075.7,415.8L1073,413.5Z" fill="#f2f2f2"/>
<path d="M1080.1,409L1083.1,410.8L1078.1,417.8L1075.4,415.5Z" fill="#f0f0f0"/>
<path d="M1082.7,410.5L1085.8,412.3L1080.5,419.8L1077.7,417.5Z" fill="#e8e8e8"/>
<path d="M1085.4,412L1088.4,413.8L1082.8,421.8L1080.1,419.5Z" fill="#cacaca"/>
<path d="M1088,413.6L1091.1,415.3L1085.2,423.8L1082.5,421.5Z" fill="#a5a5a5"/>
<path d="M1090.7,415.1L1093.7,416.8L1087.6,425.8L1084.8,423.5Z" fill="#979796"/>
<path d="M1093.3,416.6L1096.4,418.3L1089.9,427.8L1087.2,425.5Z" fill="#acacac"/>
<path d="M1096,418.1L1098.6,419.6L1092,429.5L1089.6,427.5Z" fill="#b0b0b0"/>
<path d="M1068.7,409L1071.4,411.3L1067.9,414.1L1065.7,411.2Z" fill="#bfbfbf"/>
<path d="M1071,411L1073.8,413.3L1069.9,416.6L1067.6,413.7Z" fill="#f3f3f3"/>
<path d="M1073.4,413L1076.1,415.3L1071.8,419.1L1069.6,416.2Z" fill="#f2f2f2"/>
<path d="M1075.8,415L1078.5,417.3L1073.8,421.5L1071.5,418.7Z" fill="#f1f1f1"/>
<path d="M1078.1,417L1080.9,419.3L1075.7,424L1073.5,421.2Z" fill="#e9e9e9"/>
<path d="M1080.5,419L1083.2,421.3L1077.6,426.5L1075.4,423.6Z" fill="#cacaca"/>
<path d="M1082.9,421L1085.6,423.3L1079.6,429L1077.4,426.1Z" fill="#a4a4a4"/>
<path d="M1085.2,423L1088,425.3L1081.5,431.5L1079.3,428.6Z" fill="#969695"/>
<path d="M1087.6,425L1090.3,427.3L1083.5,434L1081.3,431.1Z" fill="#afafaf"/>
<path d="M1090,427L1092.3,429L1085.1,436.1L1083.2,433.6Z" fill="#b0b0b0"/>
<path d="M1066.1,410.9L1068.4,413.7L1060.4,419.1L1058.2,416.1Z" fill="#bfbfbf"/>
<path d="M1068.1,413.3L1070.3,416.2L1062.2,421.7L1060.1,418.7Z" fill="#f3f3f3"/>
<path d="M1070,415.8L1072.3,418.7L1064.1,424.3L1061.9,421.3Z" fill="#f2f2f2"/>
<path d="M1072,418.3L1074.2,421.2L1065.9,426.9L1063.8,423.9Z" fill="#f1f1f1"/>
<path d="M1073.9,420.8L1076.2,423.6L1067.8,429.5L1065.7,426.5Z" fill="#e9e9e9"/>
<path d="M1075.9,423.3L1078.1,426.1L1069.6,432.1L1067.5,429.1Z" fill="#cacaca"/>
<path d="M1077.8,425.8L1080.1,428.6L1071.5,434.8L1069.4,431.8Z" fill="#a3a3a3"/>
<path d="M1079.8,428.2L1082,431.1L1073.4,437.4L1071.2,434.4Z" fill="#969695"/>
<path d="M1081.7,430.7L1084,433.6L1075.2,440L1073.1,437Z" fill="#afafaf"/>
<path d="M1083.7,433.2L1085.6,435.7L1076.8,442.2L1074.9,439.6Z" fill="#b0b0b0"/>
<path d="M1058.7,415.8L1060.9,418.8L1055.7,422.5L1053.6,419.5Z" fill="#bfbfbf"/>
<path d="M1060.6,418.4L1062.7,421.4L1057.6,425.1L1055.4,422.1Z" fill="#f3f3f3"/>
<path d="M1062.4,421L1064.6,424L1059.5,427.7L1057.3,424.7Z" fill="#f2f2f2"/>
<path d="M1064.3,423.6L1066.4,426.6L1061.3,430.3L1059.2,427.3Z" fill="#f1f1f1"/>
<path d="M1066.1,426.2L1068.3,429.2L1063.2,432.9L1061.1,429.9Z" fill="#e9e9e9"/>
<path d="M1068,428.8L1070.1,431.8L1065.1,435.5L1062.9,432.5Z" fill="#cacaca"/>
<path d="M1069.9,431.4L1072,434.4L1067,438.1L1064.8,435.1Z" fill="#a3a3a3"/>
<path d="M1071.7,434L1073.8,437L1068.8,440.7L1066.7,437.7Z" fill="#969695"/>
<path d="M1073.6,436.6L1075.7,439.6L1070.7,443.3L1068.6,440.3Z" fill="#afafaf"/>
<path d="M1075.4,439.2L1077.3,441.8L1072.3,445.5L1070.4,442.9Z" fill="#b0b0b0"/>
<path d="M1054,419.1L1056.2,422.1L1050.1,426.5L1048,423.5Z" fill="#bfbfbf"/>
<path d="M1055.9,421.7L1058.1,424.7L1052,429.1L1049.9,426.1Z" fill="#f3f3f3"/>
<path d="M1057.8,424.3L1059.9,427.3L1053.9,431.7L1051.7,428.7Z" fill="#f2f2f2"/>
<path d="M1059.7,426.9L1061.8,429.9L1055.7,434.3L1053.6,431.3Z" fill="#f1f1f1"/>
<path d="M1061.5,429.5L1063.7,432.5L1057.6,436.9L1055.5,433.9Z" fill="#e9e9e9"/>
<path d="M1063.4,432.1L1065.6,435.1L1059.5,439.5L1057.3,436.5Z" fill="#cacaca"/>
<path d="M1065.3,434.7L1067.5,437.7L1061.3,442.1L1059.2,439.1Z" fill="#a3a3a3"/>
<path d="M1067.2,437.3L1069.3,440.3L1063.2,444.7L1061.1,441.7Z" fill="#969695"/>
<path d="M1069.1,439.9L1071.2,442.9L1065.1,447.3L1062.9,444.3Z" fill="#afafaf"/>
<path d="M1070.9,442.5L1072.8,445.1L1066.7,449.5L1064.8,446.9Z" fill="#b0b0b0"/>
<path d="M1048.5,423.1L1050.6,426.1L1043.9,430.9L1041.8,427.9Z" fill="#bfbfbf"/>
<path d="M1050.3,425.7L1052.5,428.7L1045.8,433.5L1043.6,430.5Z" fill="#f3f3f3"/>
<path d="M1052.2,428.3L1054.4,431.3L1047.6,436.1L1045.5,433.1Z" fill="#f2f2f2"/>
<path d="M1054.1,430.9L1056.2,433.9L1049.5,438.7L1047.4,435.7Z" fill="#f1f1f1"/>
<path d="M1055.9,433.5L1058.1,436.5L1051.4,441.3L1049.2,438.3Z" fill="#e9e9e9"/>
<path d="M1057.8,436.2L1060,439.2L1053.2,443.9L1051.1,440.9Z" fill="#cacaca"/>
<path d="M1059.7,438.8L1061.8,441.8L1055.1,446.6L1053,443.6Z" fill="#a3a3a3"/>
<path d="M1061.5,441.4L1063.7,444.4L1057,449.2L1054.8,446.2Z" fill="#969695"/>
<path d="M1063.4,444L1065.6,447L1058.8,451.8L1056.7,448.8Z" fill="#afafaf"/>
<path d="M1065.3,446.6L1067.1,449.2L1060.4,454L1058.6,451.4Z" fill="#b0b0b0"/>
<path d="M1042.3,427.6L1044.4,430.6L1037.5,435.5L1035.3,432.6Z" fill="#bfbfbf"/>
<path d="M1044.1,430.2L1046.3,433.2L1039.3,438.1L1037.2,435.2Z" fill="#f3f3f3"/>
<path d="M1046,432.8L1048.1,435.8L1041.2,440.7L1039.1,437.8Z" fill="#f2f2f2"/>
<path d="M1047.9,435.4L1050,438.4L1043.1,443.3L1040.9,440.4Z" fill="#f1f1f1"/>
<path d="M1049.7,438L1051.9,441L1045,445.9L1042.8,443Z" fill="#e9e9e9"/>
<path d="M1051.6,440.6L1053.7,443.6L1046.8,448.5L1044.7,445.6Z" fill="#cacaca"/>
<path d="M1053.5,443.2L1055.6,446.2L1048.7,451.1L1046.6,448.2Z" fill="#a3a3a3"/>
<path d="M1055.3,445.8L1057.5,448.8L1050.6,453.7L1048.4,450.8Z" fill="#969695"/>
<path d="M1057.2,448.4L1059.3,451.4L1052.4,456.3L1050.3,453.4Z" fill="#afafaf"/>
<path d="M1059,451L1060.9,453.6L1054,458.5L1052.2,455.9Z" fill="#b0b0b0"/>
<path d="M1035.8,432.2L1038,435.2L1031.2,440.1L1029,437.1Z" fill="#bfbfbf"/>
<path d="M1037.7,434.8L1039.8,437.8L1033.1,442.7L1030.9,439.7Z" fill="#f3f3f3"/>
<path d="M1039.6,437.4L1041.7,440.4L1035,445.3L1032.8,442.3Z" fill="#f2f2f2"/>
<path d="M1041.4,440L1043.6,443L1036.9,447.8L1034.7,444.9Z" fill="#f1f1f1"/>
<path d="M1043.3,442.6L1045.4,445.6L1038.8,450.4L1036.6,447.5Z" fill="#e9e9e9"/>
<path d="M1045.2,445.2L1047.3,448.2L1040.7,453L1038.5,450Z" fill="#cacaca"/>
<path d="M1047,447.8L1049.2,450.8L1042.5,455.6L1040.4,452.6Z" fill="#a3a3a3"/>
<path d="M1048.9,450.4L1051.1,453.4L1044.4,458.2L1042.3,455.2Z" fill="#969695"/>
<path d="M1050.8,453L1052.9,456L1046.3,460.8L1044.1,457.8Z" fill="#afafaf"/>
<path d="M1052.7,455.6L1054.5,458.2L1047.9,463L1046,460.4Z" fill="#b0b0b0"/>
<path d="M1029.5,436.8L1031.7,439.7L1025.5,444.3L1023.3,441.3Z" fill="#bfbfbf"/>
<path d="M1031.4,439.4L1033.6,442.3L1027.5,446.9L1025.3,443.9Z" fill="#f3f3f3"/>
<path d="M1033.3,441.9L1035.5,444.9L1029.4,449.4L1027.2,446.5Z" fill="#f2f2f2"/>
<path d="M1035.2,444.5L1037.4,447.5L1031.3,452L1029.1,449Z" fill="#f1f1f1"/>
<path d="M1037.1,447.1L1039.2,450.1L1033.2,454.5L1031,451.6Z" fill="#e9e9e9"/>
<path d="M1039,449.7L1041.1,452.7L1035.1,457.1L1032.9,454.2Z" fill="#cacaca"/>
<path d="M1040.9,452.3L1043,455.2L1037,459.7L1034.8,456.7Z" fill="#a3a3a3"/>
<path d="M1042.7,454.9L1044.9,457.8L1039,462.2L1036.8,459.3Z" fill="#969695"/>
<path d="M1044.6,457.4L1046.8,460.4L1040.9,464.8L1038.7,461.8Z" fill="#afafaf"/>
<path d="M1046.5,460L1048.4,462.6L1042.5,467L1040.6,464.4Z" fill="#b0b0b0"/>
<path d="M1023.8,441L1026,443.9L1019.3,449L1017.1,446.1Z" fill="#bfbfbf"/>
<path d="M1025.7,443.6L1027.9,446.5L1021.3,451.5L1019,448.6Z" fill="#f3f3f3"/>
<path d="M1027.6,446.1L1029.9,449.1L1023.2,454.1L1021,451.2Z" fill="#f2f2f2"/>
<path d="M1029.6,448.7L1031.8,451.6L1025.2,456.6L1022.9,453.7Z" fill="#f1f1f1"/>
<path d="M1031.5,451.2L1033.7,454.2L1027.1,459.2L1024.9,456.2Z" fill="#e9e9e9"/>
<path d="M1033.4,453.8L1035.6,456.7L1029,461.7L1026.8,458.8Z" fill="#cacaca"/>
<path d="M1035.3,456.4L1037.5,459.3L1031,464.3L1028.7,461.3Z" fill="#a3a3a3"/>
<path d="M1037.2,458.9L1039.4,461.9L1032.9,466.8L1030.7,463.9Z" fill="#969695"/>
<path d="M1039.2,461.5L1041.4,464.4L1034.9,469.4L1032.6,466.4Z" fill="#afafaf"/>
<path d="M1041.1,464L1043,466.6L1036.5,471.5L1034.6,469Z" fill="#b0b0b0"/>
<path d="M1017.6,445.7L1019.8,448.6L1013.3,453.6L1011,450.7Z" fill="#bfbfbf"/>
<path d="M1019.5,448.3L1021.7,451.2L1015.3,456.2L1013,453.3Z" fill="#f3f3f3"/>
<path d="M1021.5,450.8L1023.7,453.7L1017.2,458.7L1015,455.8Z" fill="#f2f2f2"/>
<path d="M1023.4,453.3L1025.6,456.3L1019.2,461.2L1016.9,458.3Z" fill="#f1f1f1"/>
<path d="M1025.3,455.9L1027.6,458.8L1021.2,463.8L1018.9,460.8Z" fill="#e9e9e9"/>
<path d="M1027.3,458.4L1029.5,461.4L1023.1,466.3L1020.9,463.4Z" fill="#cacaca"/>
<path d="M1029.2,461L1031.5,463.9L1025.1,468.8L1022.8,465.9Z" fill="#a3a3a3"/>
<path d="M1031.2,463.5L1033.4,466.4L1027,471.3L1024.8,468.4Z" fill="#969695"/>
<path d="M1033.1,466.1L1035.3,469L1029,473.9L1026.8,471Z" fill="#b0b0b0"/>
<path d="M1035,468.6L1037,471.1L1030.7,476L1028.7,473.5Z" fill="#b0b0b0"/>
<path d="M1011.5,450.4L1013.8,453.3L1007.6,458.1L1005.4,455.2Z" fill="#bfbfbf"/>
<path d="M1013.5,452.9L1015.7,455.8L1009.6,460.6L1007.3,457.7Z" fill="#f3f3f3"/>
<path d="M1015.4,455.4L1017.7,458.3L1011.6,463.1L1009.3,460.2Z" fill="#f2f2f2"/>
<path d="M1017.4,458L1019.7,460.9L1013.6,465.6L1011.3,462.7Z" fill="#f1f1f1"/>
<path d="M1019.4,460.5L1021.6,463.4L1015.6,468.1L1013.3,465.2Z" fill="#e9e9e9"/>
<path d="M1021.3,463L1023.6,465.9L1017.6,470.6L1015.3,467.7Z" fill="#cacaca"/>
<path d="M1023.3,465.5L1025.6,468.4L1019.6,473.1L1017.3,470.2Z" fill="#a3a3a3"/>
<path d="M1025.3,468.1L1027.5,471L1021.6,475.6L1019.3,472.8Z" fill="#969695"/>
<path d="M1027.2,470.6L1029.5,473.5L1023.6,478.1L1021.3,475.3Z" fill="#b0b0b0"/>
<path d="M1029.2,473.1L1031.2,475.6L1025.3,480.3L1023.3,477.8Z" fill="#b0b0b0"/>
<path d="M1005.8,454.8L1008.1,457.7L1002.6,462.2L1000.2,459.4Z" fill="#bfbfbf"/>
<path d="M1007.8,457.3L1010.1,460.2L1004.6,464.7L1002.3,461.8Z" fill="#f3f3f3"/>
<path d="M1009.8,459.9L1012.1,462.7L1006.6,467.2L1004.3,464.3Z" fill="#f2f2f2"/>
<path d="M1011.8,462.4L1014.1,465.2L1008.6,469.6L1006.3,466.8Z" fill="#f1f1f1"/>
<path d="M1013.8,464.9L1016.1,467.7L1010.7,472.1L1008.3,469.3Z" fill="#e9e9e9"/>
<path d="M1015.8,467.4L1018.1,470.3L1012.7,474.6L1010.4,471.7Z" fill="#cacaca"/>
<path d="M1017.8,469.9L1020.1,472.8L1014.7,477.1L1012.4,474.2Z" fill="#a3a3a3"/>
<path d="M1019.8,472.4L1022,475.3L1016.7,479.5L1014.4,476.7Z" fill="#969695"/>
<path d="M1021.7,474.9L1024,477.8L1018.8,482L1016.4,479.2Z" fill="#b0b0b0"/>
<path d="M1023.7,477.4L1025.7,479.9L1020.5,484.1L1018.5,481.6Z" fill="#b0b0b0"/>
<path d="M1000.7,459L1003,461.8L998.1,465.9L995.7,463.1Z" fill="#bfbfbf"/>
<path d="M1002.7,461.5L1005,464.3L1000.2,468.3L997.8,465.6Z" fill="#f3f3f3"/>
<path d="M1004.7,463.9L1007.1,466.8L1002.4,470.7L999.9,468Z" fill="#f2f2f2"/>
<path d="M1006.8,466.4L1009.1,469.3L1004.5,473.1L1002,470.4Z" fill="#f1f1f1"/>
<path d="M1008.8,468.9L1011.1,471.7L1006.6,475.6L1004.1,472.8Z" fill="#e9e9e9"/>
<path d="M1010.8,471.4L1013.2,474.2L1008.7,478L1006.2,475.2Z" fill="#cacaca"/>
<path d="M1012.9,473.8L1015.2,476.7L1010.8,480.4L1008.4,477.6Z" fill="#a3a3a3"/>
<path d="M1014.9,476.3L1017.2,479.2L1012.9,482.8L1010.5,480Z" fill="#969695"/>
<path d="M1016.9,478.8L1019.2,481.6L1015,485.2L1012.6,482.4Z" fill="#b0b0b0"/>
<path d="M1018.9,481.3L1021,483.7L1016.8,487.2L1014.7,484.8Z" fill="#b0b0b0"/>
<path d="M996.2,462.8L998.6,465.5L991,472.5L988.3,469.9Z" fill="#bfbfbf"/>
<path d="M998.3,465.2L1000.7,467.9L993.3,474.7L990.6,472.1Z" fill="#f3f3f3"/>
<path d="M1000.4,467.6L1002.8,470.3L995.6,476.9L993,474.3Z" fill="#f2f2f2"/>
<path d="M1002.5,470L1004.9,472.8L998,479.1L995.3,476.5Z" fill="#f1f1f1"/>
<path d="M1004.6,472.4L1007,475.2L1000.3,481.3L997.6,478.8Z" fill="#e9e9e9"/>
<path d="M1006.7,474.8L1009.1,477.6L1002.6,483.5L999.9,481Z" fill="#cacaca"/>
<path d="M1008.8,477.2L1011.2,480L1004.9,485.7L1002.2,483.2Z" fill="#a3a3a3"/>
<path d="M1010.9,479.6L1013.3,482.4L1007.2,487.9L1004.6,485.4Z" fill="#969695"/>
<path d="M1013,482L1015.4,484.8L1009.5,490.1L1006.9,487.6Z" fill="#afafaf"/>
<path d="M1015.1,484.4L1017.2,486.8L1011.5,492L1009.2,489.8Z" fill="#b0b0b0"/>
<path d="M988.7,469.5L991.4,472L985.9,479.5L982.7,477.8Z" fill="#bfbfbf"/>
<path d="M991.1,471.7L993.7,474.2L988.7,481.1L985.5,479.3Z" fill="#f3f3f3"/>
<path d="M993.4,473.9L996,476.4L991.5,482.6L988.3,480.9Z" fill="#f2f2f2"/>
<path d="M995.7,476.1L998.4,478.7L994.3,484.2L991.1,482.4Z" fill="#f0f0f0"/>
<path d="M998,478.3L1000.7,480.9L997.1,485.8L993.9,484Z" fill="#e8e8e8"/>
<path d="M1000.3,480.5L1003,483.1L999.9,487.3L996.7,485.5Z" fill="#cacaca"/>
<path d="M1002.7,482.7L1005.3,485.3L1002.7,488.9L999.5,487.1Z" fill="#a5a5a5"/>
<path d="M1005,484.9L1007.6,487.5L1005.5,490.4L1002.3,488.6Z" fill="#979796"/>
<path d="M1007.3,487.1L1010,489.7L1008.3,492L1005.1,490.2Z" fill="#acacac"/>
<path d="M1009.6,489.3L1011.9,491.6L1010.7,493.3L1007.9,491.7Z" fill="#b0b0b0"/>
<path d="M983,477.2L986.2,479L982.6,488.4L979,487.6Z" fill="#bebebe"/>
<path d="M985.8,478.8L989,480.6L985.7,489.1L982.2,488.3Z" fill="#f2f2f2"/>
<path d="M988.6,480.3L991.8,482.1L988.9,489.8L985.3,489Z" fill="#f1f1f1"/>
<path d="M991.4,481.9L994.6,483.7L992,490.5L988.4,489.7Z" fill="#f0f0f0"/>
<path d="M994.2,483.4L997.4,485.2L995.1,491.2L991.5,490.4Z" fill="#e8e8e8"/>
<path d="M997,485L1000.2,486.8L998.2,491.9L994.6,491.1Z" fill="#cccccc"/>
<path d="M999.8,486.6L1003,488.3L1001.3,492.7L997.8,491.8Z" fill="#aaaaaa"/>
<path d="M1002.6,488.1L1005.8,489.9L1004.5,493.4L1000.9,492.5Z" fill="#999998"/>
<path d="M1005.4,489.7L1008.6,491.5L1007.6,494.1L1004,493.3Z" fill="#a3a3a3"/>
<path d="M1008.2,491.2L1011,492.8L1010.2,494.7L1007.1,494Z" fill="#b0b0b0"/>
<path d="M979.2,487L982.8,487.8L982.5,498.8L978.9,499.4Z" fill="#bababa"/>
<path d="M982.3,487.7L985.9,488.5L985.6,498.2L982,498.8Z" fill="#ededed"/>
<path d="M985.4,488.4L989,489.2L988.8,497.6L985.2,498.3Z" fill="#efefef"/>
<path d="M988.5,489.1L992.1,489.9L991.9,497.1L988.3,497.7Z" fill="#ececec"/>
<path d="M991.6,489.8L995.2,490.7L995.1,496.5L991.5,497.2Z" fill="#e6e6e6"/>
<path d="M994.8,490.5L998.4,491.4L998.2,495.9L994.6,496.6Z" fill="#d1d1d1"/>
<path d="M997.9,491.3L1001.5,492.1L1001.4,495.4L997.8,496Z" fill="#b4b4b4"/>
<path d="M1001,492L1004.6,492.8L1004.5,494.8L1000.9,495.5Z" fill="#9e9e9d"/>
<path d="M1004.1,492.7L1007.7,493.5L1007.7,494.3L1004.1,494.9Z" fill="#9a9a99"/>
<path d="M1007.3,493.4L1010.4,494.1L1010.4,493.8L1007.2,494.3Z" fill="#b0b0b0"/>
<path d="M978.7,498.8L982.4,498.2L986.6,508.3L983.5,510.3Z" fill="#a8a8a8"/>
<path d="M981.9,498.2L985.5,497.6L989.3,506.6L986.2,508.6Z" fill="#d1d1d1"/>
<path d="M985,497.7L988.7,497L992,504.9L988.9,506.9Z" fill="#e3e3e3"/>
<path d="M988.2,497.1L991.8,496.5L994.7,503.2L991.6,505.2Z" fill="#e5e5e5"/>
<path d="M991.3,496.6L995,495.9L997.4,501.5L994.3,503.5Z" fill="#e4e4e4"/>
<path d="M994.5,496L998.1,495.4L1000.1,499.8L997,501.8Z" fill="#d8d8d8"/>
<path d="M997.7,495.4L1001.3,494.8L1002.8,498.1L999.7,500Z" fill="#c3c3c3"/>
<path d="M1000.8,494.9L1004.4,494.2L1005.5,496.4L1002.4,498.3Z" fill="#acacac"/>
<path d="M1004,494.3L1007.6,493.7L1008.2,494.7L1005.1,496.6Z" fill="#9c9c9b"/>
<path d="M1007.1,493.8L1010.3,493.2L1010.5,493.2L1007.8,494.9Z" fill="#9d9d9d"/>
<path d="M983.1,509.8L986.3,507.8L992.9,515.2L990.4,518Z" fill="#989898"/>
<path d="M985.9,508.1L989,506.1L995,512.8L992.5,515.5Z" fill="#ababab"/>
<path d="M988.6,506.4L991.7,504.4L997.1,510.4L994.6,513.1Z" fill="#c2c2c2"/>
<path d="M991.3,504.7L994.4,502.7L999.2,507.9L996.7,510.7Z" fill="#d4d4d4"/>
<path d="M994,503L997.1,501L1001.3,505.5L998.8,508.3Z" fill="#dddddd"/>
<path d="M996.7,501.2L999.8,499.3L1003.4,503.1L1001,505.9Z" fill="#dedede"/>
<path d="M999.4,499.5L1002.5,497.6L1005.5,500.7L1003.1,503.5Z" fill="#d7d7d7"/>
<path d="M1002.1,497.8L1005.2,495.9L1007.6,498.3L1005.2,501.1Z" fill="#c6c6c6"/>
<path d="M1004.8,496.1L1007.9,494.2L1009.7,495.9L1007.3,498.7Z" fill="#afafaf"/>
<path d="M1007.5,494.4L1010.2,492.7L1011.5,493.8L1009.4,496.2Z" fill="#9a9a9a"/>
<path d="M990,517.6L992.4,514.8L1000.7,519.2L999.7,522.8Z" fill="#a4a4a4"/>
<path d="M992.1,515.1L994.5,512.4L1001.6,516.1L1000.6,519.7Z" fill="#9a9a99"/>
<path d="M994.2,512.7L996.6,510L1002.5,513L1001.5,516.6Z" fill="#a7a7a7"/>
<path d="M996.3,510.3L998.7,507.6L1003.3,510L1002.3,513.5Z" fill="#c0c0c0"/>
<path d="M998.4,507.9L1000.8,505.1L1004.2,506.9L1003.2,510.4Z" fill="#d6d6d6"/>
<path d="M1000.5,505.5L1002.9,502.7L1005.1,503.8L1004.1,507.3Z" fill="#e4e4e4"/>
<path d="M1002.6,503.1L1005,500.3L1005.9,500.7L1004.9,504.3Z" fill="#e7e7e7"/>
<path d="M1004.7,500.7L1007.1,497.9L1006.8,497.6L1005.8,501.2Z" fill="#e6e6e6"/>
<path d="M1006.8,498.3L1009.2,495.5L1007.7,494.6L1006.7,498.1Z" fill="#dadada"/>
<path d="M1008.9,495.9L1011,493.4L1008.4,491.9L1007.5,495Z" fill="#ababab"/>
<path d="M999.2,522.6L1000.2,519.1L1009.8,520.8L1009.2,524.4Z" fill="#b0b0b0"/>
<path d="M1000,519.5L1001,516L1010.3,517.6L1009.7,521.2Z" fill="#999998"/>
<path d="M1000.9,516.4L1001.9,512.9L1010.8,514.4L1010.2,518.1Z" fill="#9e9e9e"/>
<path d="M1001.8,513.3L1002.8,509.8L1011.3,511.3L1010.7,514.9Z" fill="#b5b5b5"/>
<path d="M1002.6,510.3L1003.6,506.7L1011.9,508.1L1011.3,511.8Z" fill="#d1d1d1"/>
<path d="M1003.5,507.2L1004.5,503.6L1012.4,505L1011.8,508.6Z" fill="#e6e6e6"/>
<path d="M1004.4,504.1L1005.3,500.6L1012.9,501.8L1012.3,505.4Z" fill="#ececec"/>
<path d="M1005.2,501L1006.2,497.5L1013.4,498.7L1012.8,502.3Z" fill="#eeeeee"/>
<path d="M1006.1,497.9L1007.1,494.4L1014,495.5L1013.4,499.1Z" fill="#ececec"/>
<path d="M1006.9,494.9L1007.8,491.8L1014.4,492.8L1013.9,496Z" fill="#b8b8b8"/>
<path d="M1008.6,524.3L1009.2,520.7L1015.3,521.6L1014.7,525.3Z" fill="#b0b0b0"/>
<path d="M1009.1,521.1L1009.7,517.5L1015.8,518.5L1015.2,522.1Z" fill="#9a9a9a"/>
<path d="M1009.6,518L1010.2,514.3L1016.3,515.3L1015.7,519Z" fill="#9d9d9d"/>
<path d="M1010.1,514.8L1010.8,511.2L1016.8,512.2L1016.2,515.8Z" fill="#b3b3b3"/>
<path d="M1010.7,511.7L1011.3,508L1017.3,509L1016.7,512.6Z" fill="#d0d0d0"/>
<path d="M1011.2,508.5L1011.8,504.9L1017.7,505.8L1017.2,509.5Z" fill="#e6e6e6"/>
<path d="M1011.7,505.3L1012.3,501.7L1018.2,502.7L1017.7,506.3Z" fill="#ececec"/>
<path d="M1012.3,502.2L1012.9,498.6L1018.7,499.5L1018.2,503.1Z" fill="#efefef"/>
<path d="M1012.8,499L1013.4,495.4L1019.2,496.3L1018.6,500Z" fill="#eeeeee"/>
<path d="M1013.3,495.9L1013.8,492.7L1019.6,493.7L1019.1,496.8Z" fill="#bababa"/>
<path d="M1014.1,525.2L1014.7,521.5L1022.2,522.7L1021.6,526.3Z" fill="#b0b0b0"/>
<path d="M1014.6,522L1015.2,518.4L1022.6,519.5L1022.1,523.1Z" fill="#9a9a9a"/>
<path d="M1015.1,518.9L1015.7,515.2L1023.1,516.3L1022.6,520Z" fill="#9d9d9d"/>
<path d="M1015.6,515.7L1016.2,512.1L1023.6,513.2L1023,516.8Z" fill="#b2b2b2"/>
<path d="M1016.1,512.5L1016.7,508.9L1024,510L1023.5,513.6Z" fill="#d0d0d0"/>
<path d="M1016.6,509.4L1017.2,505.7L1024.5,506.8L1024,510.5Z" fill="#e6e6e6"/>
<path d="M1017.1,506.2L1017.6,502.6L1024.9,503.7L1024.4,507.3Z" fill="#ededed"/>
<path d="M1017.6,503L1018.1,499.4L1025.4,500.5L1024.9,504.1Z" fill="#f0f0f0"/>
<path d="M1018.1,499.9L1018.6,496.2L1025.9,497.3L1025.3,501Z" fill="#efefef"/>
<path d="M1018.5,496.7L1019,493.6L1026.3,494.6L1025.8,497.8Z" fill="#bbbbbb"/>
<path d="M1021.1,526.2L1021.6,522.6L1029.9,523.8L1029.4,527.4Z" fill="#b0b0b0"/>
<path d="M1021.5,523L1022,519.4L1030.4,520.6L1029.8,524.2Z" fill="#9b9b9a"/>
<path d="M1022,519.9L1022.5,516.2L1030.8,517.4L1030.3,521.1Z" fill="#9d9d9d"/>
<path d="M1022.4,516.7L1023,513.1L1031.3,514.3L1030.7,517.9Z" fill="#b2b2b2"/>
<path d="M1022.9,513.5L1023.4,509.9L1031.7,511.1L1031.2,514.7Z" fill="#d0d0d0"/>
<path d="M1023.4,510.4L1023.9,506.7L1032.2,507.9L1031.7,511.6Z" fill="#e6e6e6"/>
<path d="M1023.8,507.2L1024.4,503.6L1032.6,504.8L1032.1,508.4Z" fill="#ededed"/>
<path d="M1024.3,504L1024.8,500.4L1033.1,501.6L1032.6,505.2Z" fill="#f0f0f0"/>
<path d="M1024.7,500.9L1025.3,497.2L1033.5,498.4L1033,502.1Z" fill="#efefef"/>
<path d="M1025.2,497.7L1025.7,494.5L1033.9,495.7L1033.5,498.9Z" fill="#bbbbbb"/>
<path d="M1028.8,527.3L1029.3,523.7L1038,524.9L1037.5,528.6Z" fill="#b0b0b0"/>
<path d="M1029.2,524.2L1029.8,520.5L1038.5,521.8L1038,525.4Z" fill="#9b9b9a"/>
<path d="M1029.7,521L1030.2,517.3L1039,518.6L1038.4,522.2Z" fill="#9d9d9d"/>
<path d="M1030.1,517.8L1030.7,514.2L1039.4,515.4L1038.9,519.1Z" fill="#b2b2b2"/>
<path d="M1030.6,514.6L1031.1,511L1039.9,512.3L1039.3,515.9Z" fill="#d0d0d0"/>
<path d="M1031.1,511.5L1031.6,507.8L1040.3,509.1L1039.8,512.7Z" fill="#e6e6e6"/>
<path d="M1031.5,508.3L1032,504.7L1040.8,505.9L1040.3,509.6Z" fill="#ededed"/>
<path d="M1032,505.1L1032.5,501.5L1041.2,502.8L1040.7,506.4Z" fill="#f0f0f0"/>
<path d="M1032.4,502L1032.9,498.3L1041.7,499.6L1041.2,503.2Z" fill="#efefef"/>
<path d="M1032.9,498.8L1033.3,495.6L1042.1,496.9L1041.6,500.1Z" fill="#bbbbbb"/>
<path d="M1036.9,528.5L1037.4,524.8L1046.1,526.1L1045.6,529.7Z" fill="#b0b0b0"/>
<path d="M1037.4,525.3L1037.9,521.7L1046.6,522.9L1046,526.6Z" fill="#9b9b9a"/>
<path d="M1037.8,522.1L1038.4,518.5L1047.1,519.8L1046.5,523.4Z" fill="#9d9d9d"/>
<path d="M1038.3,519L1038.8,515.3L1047.5,516.6L1047,520.2Z" fill="#b2b2b2"/>
<path d="M1038.7,515.8L1039.3,512.2L1048,513.4L1047.5,517.1Z" fill="#d0d0d0"/>
<path d="M1039.2,512.6L1039.7,509L1048.5,510.3L1047.9,513.9Z" fill="#e6e6e6"/>
<path d="M1039.7,509.5L1040.2,505.8L1048.9,507.1L1048.4,510.8Z" fill="#ededed"/>
<path d="M1040.1,506.3L1040.6,502.7L1049.4,503.9L1048.9,507.6Z" fill="#f0f0f0"/>
<path d="M1040.6,503.1L1041.1,499.5L1049.9,500.8L1049.3,504.4Z" fill="#efefef"/>
<path d="M1041,500L1041.5,496.8L1050.3,498.1L1049.8,501.3Z" fill="#bbbbbb"/>
<path d="M1045,529.7L1045.5,526L1053.7,527.3L1053.1,530.9Z" fill="#b0b0b0"/>
<path d="M1045.5,526.5L1046,522.9L1054.2,524.1L1053.6,527.7Z" fill="#9a9a9a"/>
<path d="M1045.9,523.3L1046.5,519.7L1054.7,520.9L1054.1,524.6Z" fill="#9d9d9d"/>
<path d="M1046.4,520.2L1046.9,516.5L1055.2,517.8L1054.6,521.4Z" fill="#b2b2b2"/>
<path d="M1046.9,517L1047.4,513.4L1055.7,514.6L1055.1,518.3Z" fill="#d0d0d0"/>
<path d="M1047.3,513.8L1047.9,510.2L1056.2,511.5L1055.6,515.1Z" fill="#e6e6e6"/>
<path d="M1047.8,510.7L1048.4,507L1056.7,508.3L1056.1,511.9Z" fill="#ededed"/>
<path d="M1048.3,507.5L1048.8,503.9L1057.1,505.1L1056.6,508.8Z" fill="#f0f0f0"/>
<path d="M1048.8,504.3L1049.3,500.7L1057.6,502L1057.1,505.6Z" fill="#efefef"/>
<path d="M1049.2,501.2L1049.7,498L1058.1,499.3L1057.6,502.4Z" fill="#bbbbbb"/>
<path d="M1052.5,530.8L1053.1,527.2L1061.2,528.5L1060.7,532.1Z" fill="#b0b0b0"/>
<path d="M1053,527.6L1053.6,524L1061.8,525.3L1061.2,528.9Z" fill="#9a9a9a"/>
<path d="M1053.5,524.5L1054.1,520.8L1062.3,522.2L1061.7,525.8Z" fill="#9d9d9d"/>
<path d="M1054,521.3L1054.6,517.7L1062.8,519L1062.2,522.6Z" fill="#b2b2b2"/>
<path d="M1054.5,518.2L1055.1,514.5L1063.3,515.8L1062.7,519.5Z" fill="#d0d0d0"/>
<path d="M1055,515L1055.6,511.4L1063.8,512.7L1063.2,516.3Z" fill="#e6e6e6"/>
<path d="M1055.5,511.8L1056.1,508.2L1064.3,509.5L1063.7,513.1Z" fill="#ececec"/>
<path d="M1056,508.7L1056.6,505L1064.8,506.4L1064.2,510Z" fill="#f0f0f0"/>
<path d="M1056.5,505.5L1057,501.9L1065.3,503.2L1064.7,506.8Z" fill="#eeeeee"/>
<path d="M1057,502.4L1057.5,499.2L1065.7,500.5L1065.2,503.7Z" fill="#bbbbbb"/>
<path d="M1060.1,532L1060.7,528.4L1069.2,529.8L1068.6,533.4Z" fill="#b0b0b0"/>
<path d="M1060.6,528.9L1061.2,525.2L1069.7,526.6L1069.1,530.2Z" fill="#9a9a9a"/>
<path d="M1061.1,525.7L1061.7,522.1L1070.3,523.4L1069.7,527.1Z" fill="#9d9d9d"/>
<path d="M1061.6,522.5L1062.2,518.9L1070.8,520.3L1070.2,523.9Z" fill="#b3b3b3"/>
<path d="M1062.1,519.4L1062.7,515.7L1071.3,517.1L1070.7,520.8Z" fill="#d0d0d0"/>
<path d="M1062.6,516.2L1063.2,512.6L1071.8,514L1071.2,517.6Z" fill="#e6e6e6"/>
<path d="M1063.1,513.1L1063.7,509.4L1072.3,510.8L1071.7,514.4Z" fill="#ececec"/>
<path d="M1063.6,509.9L1064.2,506.3L1072.8,507.7L1072.2,511.3Z" fill="#efefef"/>
<path d="M1064.1,506.7L1064.7,503.1L1073.3,504.5L1072.8,508.1Z" fill="#eeeeee"/>
<path d="M1064.6,503.6L1065.1,500.4L1073.8,501.8L1073.3,505Z" fill="#bababa"/>
<path d="M1068,533.3L1068.6,529.7L1077.2,531.1L1076.6,534.7Z" fill="#b0b0b0"/>
<path d="M1068.6,530.1L1069.1,526.5L1077.7,527.9L1077.1,531.5Z" fill="#9a9a9a"/>
<path d="M1069.1,527L1069.7,523.4L1078.2,524.8L1077.6,528.4Z" fill="#9d9d9d"/>
<path d="M1069.6,523.8L1070.2,520.2L1078.8,521.6L1078.2,525.2Z" fill="#b3b3b3"/>
<path d="M1070.1,520.7L1070.7,517L1079.3,518.5L1078.7,522.1Z" fill="#d1d1d1"/>
<path d="M1070.6,517.5L1071.2,513.9L1079.8,515.3L1079.2,518.9Z" fill="#e6e6e6"/>
<path d="M1071.1,514.3L1071.7,510.7L1080.3,512.1L1079.7,515.8Z" fill="#ececec"/>
<path d="M1071.6,511.2L1072.2,507.6L1080.9,509L1080.3,512.6Z" fill="#efefef"/>
<path d="M1072.2,508L1072.8,504.4L1081.4,505.8L1080.8,509.5Z" fill="#eeeeee"/>
<path d="M1072.7,504.9L1073.2,501.7L1081.8,503.1L1081.3,506.3Z" fill="#bababa"/>
<path d="M1076,534.6L1076.6,531L1084.7,532.3L1084.1,536Z" fill="#b0b0b0"/>
<path d="M1076.5,531.5L1077.1,527.8L1085.2,529.2L1084.6,532.8Z" fill="#9a9a9a"/>
<path d="M1077,528.3L1077.6,524.7L1085.8,526L1085.2,529.7Z" fill="#9d9d9d"/>
<path d="M1077.6,525.1L1078.2,521.5L1086.3,522.9L1085.7,526.5Z" fill="#b3b3b3"/>
<path d="M1078.1,522L1078.7,518.4L1086.9,519.7L1086.2,523.4Z" fill="#d1d1d1"/>
<path d="M1078.6,518.8L1079.2,515.2L1087.4,516.6L1086.8,520.2Z" fill="#e6e6e6"/>
<path d="M1079.1,515.7L1079.8,512L1087.9,513.4L1087.3,517.1Z" fill="#ececec"/>
<path d="M1079.7,512.5L1080.3,508.9L1088.5,510.3L1087.9,513.9Z" fill="#efefef"/>
<path d="M1080.2,509.4L1080.8,505.7L1089,507.1L1088.4,510.7Z" fill="#eeeeee"/>
<path d="M1080.7,506.2L1081.2,503L1089.5,504.4L1089,507.6Z" fill="#bababa"/>
<path d="M1083.5,535.9L1084.1,532.2L1091.3,533.5L1090.7,537.1Z" fill="#b0b0b0"/>
<path d="M1084,532.7L1084.6,529.1L1091.9,530.4L1091.2,534Z" fill="#9a9a99"/>
<path d="M1084.6,529.6L1085.2,525.9L1092.5,527.2L1091.8,530.8Z" fill="#9e9e9d"/>
<path d="M1085.1,526.4L1085.7,522.8L1093,524.1L1092.4,527.7Z" fill="#b3b3b3"/>
<path d="M1085.7,523.3L1086.3,519.6L1093.6,520.9L1092.9,524.5Z" fill="#d1d1d1"/>
<path d="M1086.2,520.1L1086.8,516.5L1094.2,517.8L1093.5,521.4Z" fill="#e6e6e6"/>
<path d="M1086.7,516.9L1087.4,513.3L1094.7,514.6L1094.1,518.2Z" fill="#ececec"/>
<path d="M1087.3,513.8L1087.9,510.2L1095.3,511.5L1094.6,515.1Z" fill="#efefef"/>
<path d="M1087.8,510.6L1088.4,507L1095.9,508.3L1095.2,511.9Z" fill="#eeeeee"/>
<path d="M1088.4,507.5L1088.9,504.3L1096.3,505.6L1095.8,508.8Z" fill="#bababa"/>
<path d="M1090.1,537L1090.7,533.4L1096.7,534.5L1096.1,538.1Z" fill="#b0b0b0"/>
<path d="M1090.7,533.9L1091.3,530.3L1097.3,531.4L1096.6,535Z" fill="#9a9a99"/>
<path d="M1091.2,530.7L1091.9,527.1L1097.9,528.2L1097.2,531.8Z" fill="#9e9e9d"/>
<path d="M1091.8,527.6L1092.4,524L1098.5,525.1L1097.8,528.7Z" fill="#b3b3b3"/>
<path d="M1092.4,524.4L1093,520.8L1099.1,521.9L1098.4,525.6Z" fill="#d1d1d1"/>
<path d="M1092.9,521.3L1093.6,517.7L1099.7,518.8L1099,522.4Z" fill="#e6e6e6"/>
<path d="M1093.5,518.1L1094.1,514.5L1100.2,515.6L1099.6,519.3Z" fill="#ececec"/>
<path d="M1094.1,515L1094.7,511.4L1100.8,512.5L1100.2,516.1Z" fill="#efefef"/>
<path d="M1094.6,511.8L1095.3,508.2L1101.4,509.4L1100.7,513Z" fill="#eeeeee"/>
<path d="M1095.2,508.7L1095.8,505.5L1101.9,506.7L1101.3,509.8Z" fill="#bababa"/>
<path d="M1095.5,538L1096.1,534.4L1104.5,536L1103.5,539.5Z" fill="#b0b0b0"/>
<path d="M1096.1,534.9L1096.7,531.3L1105.4,532.9L1104.4,536.4Z" fill="#999998"/>
<path d="M1096.6,531.7L1097.3,528.1L1106.2,529.8L1105.2,533.4Z" fill="#9e9e9e"/>
<path d="M1097.2,528.6L1097.9,525L1107.1,526.7L1106.1,530.3Z" fill="#b5b5b5"/>
<path d="M1097.8,525.4L1098.5,521.8L1108,523.7L1107,527.2Z" fill="#d2d2d2"/>
<path d="M1098.4,522.3L1099.1,518.7L1108.8,520.6L1107.8,524.1Z" fill="#e6e6e6"/>
<path d="M1099,519.2L1099.7,515.5L1109.7,517.5L1108.7,521Z" fill="#ebebeb"/>
<path d="M1099.6,516L1100.2,512.4L1110.6,514.4L1109.6,518Z" fill="#eeeeee"/>
<path d="M1100.2,512.9L1100.8,509.2L1111.4,511.3L1110.4,514.9Z" fill="#ececec"/>
<path d="M1100.7,509.7L1101.3,506.6L1112.2,508.7L1111.3,511.8Z" fill="#b8b8b8"/>
<path d="M1102.9,539.3L1103.9,535.8L1104.4,536.1L1102.2,539Z" fill="#a7a7a7"/>
<path d="M1103.8,536.3L1104.8,532.7L1106.4,533.6L1104.1,536.5Z" fill="#999998"/>
<path d="M1104.6,533.2L1105.6,529.6L1108.3,531L1106.1,533.9Z" fill="#a5a5a5"/>
<path d="M1105.5,530.1L1106.5,526.6L1110.3,528.5L1108,531.4Z" fill="#bfbfbf"/>
<path d="M1106.4,527L1107.4,523.5L1112.3,526L1110,528.9Z" fill="#d6d6d6"/>
<path d="M1107.3,523.9L1108.3,520.4L1114.2,523.5L1112,526.4Z" fill="#e5e5e5"/>
<path d="M1108.1,520.9L1109.1,517.3L1116.2,520.9L1113.9,523.8Z" fill="#e7e7e7"/>
<path d="M1109,517.8L1110,514.2L1118.2,518.4L1115.9,521.3Z" fill="#e7e7e7"/>
<path d="M1109.9,514.7L1110.9,511.2L1120.1,515.9L1117.9,518.8Z" fill="#dedede"/>
<path d="M1110.7,511.6L1111.6,508.6L1121.8,513.7L1119.8,516.3Z" fill="#acacac"/>
<path d="M1101.7,538.6L1103.9,535.7L1105.8,537.7L1102.6,539.6Z" fill="#989897"/>
<path d="M1103.6,536.1L1105.9,533.2L1108.5,536L1105.4,537.9Z" fill="#a8a8a8"/>
<path d="M1105.6,533.6L1107.9,530.7L1111.2,534.3L1108.1,536.3Z" fill="#c0c0c0"/>
<path d="M1107.6,531.1L1109.8,528.1L1113.9,532.6L1110.8,534.6Z" fill="#d3d3d3"/>
<path d="M1109.5,528.5L1111.8,525.6L1116.6,530.9L1113.5,532.9Z" fill="#dddddd"/>
<path d="M1111.5,526L1113.8,523.1L1119.4,529.3L1116.2,531.2Z" fill="#dfdfdf"/>
<path d="M1113.5,523.5L1115.7,520.6L1122.1,527.6L1119,529.5Z" fill="#d8d8d8"/>
<path d="M1115.4,520.9L1117.7,518L1124.8,525.9L1121.7,527.8Z" fill="#c9c9c9"/>
<path d="M1117.4,518.4L1119.6,515.5L1127.5,524.2L1124.4,526.1Z" fill="#b2b2b2"/>
<path d="M1119.4,515.9L1121.3,513.4L1129.8,522.8L1127.1,524.5Z" fill="#9b9b9b"/>
<path d="M1102.3,539.1L1105.4,537.2L1106.1,539.7L1102.5,540.5Z" fill="#a8a8a8"/>
<path d="M1105,537.4L1108.2,535.5L1109.2,539L1105.6,539.8Z" fill="#cfcfcf"/>
<path d="M1107.8,535.7L1110.9,533.8L1112.3,538.3L1108.7,539.1Z" fill="#e2e2e2"/>
<path d="M1110.5,534.1L1113.6,532.1L1115.5,537.7L1111.9,538.4Z" fill="#e5e5e5"/>
<path d="M1113.2,532.4L1116.3,530.4L1118.6,537L1115,537.8Z" fill="#e4e4e4"/>
<path d="M1115.9,530.7L1119.1,528.8L1121.7,536.3L1118.1,537.1Z" fill="#d8d8d8"/>
<path d="M1118.6,529L1121.8,527.1L1124.9,535.6L1121.3,536.4Z" fill="#c4c4c4"/>
<path d="M1121.4,527.3L1124.5,525.4L1128,535L1124.4,535.7Z" fill="#adadad"/>
<path d="M1124.1,525.6L1127.2,523.7L1131.1,534.3L1127.5,535.1Z" fill="#9c9c9c"/>
<path d="M1126.8,524L1129.5,522.3L1133.8,533.7L1130.6,534.4Z" fill="#9d9d9d"/>
<path d="M1102.4,539.9L1106,539.1L1106.6,536.4L1103.3,534.9Z" fill="#bbbbbb"/>
<path d="M1105.5,539.2L1109.1,538.4L1109.6,537.7L1106.2,536.2Z" fill="#efefef"/>
<path d="M1108.6,538.5L1112.2,537.7L1112.5,539L1109.1,537.5Z" fill="#f0f0f0"/>
<path d="M1111.7,537.8L1115.3,537.1L1115.4,540.3L1112,538.8Z" fill="#ededed"/>
<path d="M1114.9,537.2L1118.5,536.4L1118.3,541.6L1115,540.1Z" fill="#e6e6e6"/>
<path d="M1118,536.5L1121.6,535.7L1121.2,542.9L1117.9,541.4Z" fill="#d0d0d0"/>
<path d="M1121.1,535.8L1124.7,535.1L1124.1,544.2L1120.8,542.7Z" fill="#b2b2b2"/>
<path d="M1124.3,535.2L1127.9,534.4L1127.1,545.6L1123.7,544Z" fill="#9d9d9d"/>
<path d="M1127.4,534.5L1131,533.7L1130,546.9L1126.6,545.4Z" fill="#9b9b9a"/>
<path d="M1130.5,533.8L1133.6,533.1L1132.5,548L1129.6,546.7Z" fill="#b0b0b0"/>
<path d="M1103.5,534.3L1106.9,535.8L1102.1,542.2L1099.2,540Z" fill="#bebebe"/>
<path d="M1106.4,535.6L1109.8,537.1L1104.7,544.2L1101.8,541.9Z" fill="#f2f2f2"/>
<path d="M1109.4,537L1112.7,538.5L1107.2,546.1L1104.3,543.9Z" fill="#f2f2f2"/>
<path d="M1112.3,538.3L1115.6,539.8L1109.8,548L1106.8,545.8Z" fill="#f0f0f0"/>
<path d="M1115.2,539.6L1118.6,541.1L1112.3,550L1109.4,547.7Z" fill="#e8e8e8"/>
<path d="M1118.1,540.9L1121.5,542.4L1114.9,551.9L1111.9,549.7Z" fill="#cbcbcb"/>
<path d="M1121,542.2L1124.4,543.7L1117.4,553.8L1114.5,551.6Z" fill="#a6a6a6"/>
<path d="M1124,543.5L1127.3,545L1120,555.8L1117,553.6Z" fill="#989897"/>
<path d="M1126.9,544.8L1130.2,546.3L1122.5,557.7L1119.6,555.5Z" fill="#aaaaaa"/>
<path d="M1129.8,546.1L1132.7,547.4L1124.7,559.4L1122.1,557.4Z" fill="#b0b0b0"/>
<path d="M1099.6,539.5L1102.5,541.7L1099.4,545.1L1096.7,542.6Z" fill="#bfbfbf"/>
<path d="M1102.1,541.4L1105,543.7L1101.7,547.3L1099,544.8Z" fill="#f3f3f3"/>
<path d="M1104.7,543.4L1107.6,545.6L1104.1,549.5L1101.4,547Z" fill="#f2f2f2"/>
<path d="M1107.2,545.3L1110.1,547.6L1106.4,551.6L1103.7,549.1Z" fill="#f1f1f1"/>
<path d="M1109.8,547.3L1112.7,549.5L1108.8,553.8L1106.1,551.3Z" fill="#e8e8e8"/>
<path d="M1112.3,549.2L1115.2,551.4L1111.1,556L1108.4,553.5Z" fill="#cacaca"/>
<path d="M1114.8,551.1L1117.8,553.4L1113.5,558.2L1110.8,555.7Z" fill="#a4a4a4"/>
<path d="M1117.4,553.1L1120.3,555.3L1115.8,560.3L1113.1,557.8Z" fill="#969696"/>
<path d="M1119.9,555L1122.9,557.2L1118.2,562.5L1115.5,560Z" fill="#aeaeae"/>
<path d="M1122.5,557L1125,558.9L1120.2,564.4L1117.8,562.2Z" fill="#b0b0b0"/>
<path d="M1097.1,542.2L1099.8,544.7L1095.2,549.5L1092.6,547Z" fill="#bfbfbf"/>
<path d="M1099.5,544.4L1102.2,546.9L1097.5,551.7L1094.9,549.2Z" fill="#f3f3f3"/>
<path d="M1101.8,546.5L1104.5,549L1099.8,554L1097.2,551.4Z" fill="#f2f2f2"/>
<path d="M1104.2,548.7L1106.9,551.2L1102.1,556.2L1099.5,553.6Z" fill="#f1f1f1"/>
<path d="M1106.5,550.9L1109.2,553.4L1104.4,558.4L1101.8,555.9Z" fill="#e9e9e9"/>
<path d="M1108.9,553L1111.6,555.5L1106.7,560.6L1104.1,558.1Z" fill="#cacaca"/>
<path d="M1111.2,555.2L1113.9,557.7L1109,562.9L1106.4,560.3Z" fill="#a4a4a4"/>
<path d="M1113.6,557.4L1116.3,559.9L1111.3,565.1L1108.7,562.5Z" fill="#969695"/>
<path d="M1115.9,559.6L1118.6,562.1L1113.6,567.3L1111,564.7Z" fill="#afafaf"/>
<path d="M1118.3,561.7L1120.6,563.9L1115.6,569.2L1113.3,567Z" fill="#b0b0b0"/>
<path d="M1093,546.5L1095.6,549.1L1090.2,554.6L1087.6,552Z" fill="#bfbfbf"/>
<path d="M1095.3,548.8L1097.9,551.3L1092.5,556.8L1089.9,554.3Z" fill="#f3f3f3"/>
<path d="M1097.6,551L1100.2,553.5L1094.8,559.1L1092.2,556.5Z" fill="#f2f2f2"/>
<path d="M1099.9,553.2L1102.5,555.8L1097.1,561.3L1094.5,558.7Z" fill="#f1f1f1"/>
<path d="M1102.2,555.4L1104.8,558L1099.4,563.6L1096.7,561Z" fill="#e9e9e9"/>
<path d="M1104.5,557.6L1107.1,560.2L1101.6,565.8L1099,563.2Z" fill="#cacaca"/>
<path d="M1106.8,559.9L1109.4,562.4L1103.9,568.1L1101.3,565.5Z" fill="#a4a4a4"/>
<path d="M1109.1,562.1L1111.7,564.6L1106.2,570.3L1103.6,567.7Z" fill="#969695"/>
<path d="M1111.4,564.3L1114.1,566.9L1108.5,572.6L1105.8,570Z" fill="#afafaf"/>
<path d="M1113.7,566.5L1116,568.8L1110.4,574.5L1108.1,572.2Z" fill="#b0b0b0"/>
<path d="M1088,551.6L1090.7,554.2L1084.8,560.1L1082.1,557.5Z" fill="#bfbfbf"/>
<path d="M1090.3,553.8L1092.9,556.4L1087,562.4L1084.4,559.8Z" fill="#f3f3f3"/>
<path d="M1092.6,556.1L1095.2,558.7L1089.3,564.6L1086.7,562Z" fill="#f2f2f2"/>
<path d="M1094.9,558.3L1097.5,560.9L1091.6,566.9L1088.9,564.3Z" fill="#f1f1f1"/>
<path d="M1097.2,560.6L1099.8,563.1L1093.8,569.1L1091.2,566.5Z" fill="#e9e9e9"/>
<path d="M1099.4,562.8L1102.1,565.4L1096.1,571.4L1093.5,568.8Z" fill="#cacaca"/>
<path d="M1101.7,565.1L1104.3,567.6L1098.3,573.7L1095.7,571.1Z" fill="#a3a3a3"/>
<path d="M1104,567.3L1106.6,569.9L1100.6,575.9L1098,573.3Z" fill="#969695"/>
<path d="M1106.3,569.6L1108.9,572.1L1102.9,578.2L1100.3,575.6Z" fill="#afafaf"/>
<path d="M1108.5,571.8L1110.8,574L1104.8,580.1L1102.5,577.8Z" fill="#b0b0b0"/>
<path d="M1082.6,557.1L1085.2,559.7L1079,565.9L1076.4,563.3Z" fill="#bfbfbf"/>
<path d="M1084.8,559.3L1087.4,561.9L1081.2,568.2L1078.6,565.6Z" fill="#f3f3f3"/>
<path d="M1087.1,561.6L1089.7,564.2L1083.5,570.4L1080.9,567.8Z" fill="#f2f2f2"/>
<path d="M1089.4,563.9L1092,566.5L1085.8,572.7L1083.2,570.1Z" fill="#f1f1f1"/>
<path d="M1091.6,566.1L1094.2,568.7L1088,574.9L1085.4,572.3Z" fill="#e9e9e9"/>
<path d="M1093.9,568.4L1096.5,571L1090.3,577.2L1087.7,574.6Z" fill="#cacaca"/>
<path d="M1096.2,570.6L1098.8,573.2L1092.5,579.5L1089.9,576.9Z" fill="#a3a3a3"/>
<path d="M1098.4,572.9L1101,575.5L1094.8,581.7L1092.2,579.1Z" fill="#969695"/>
<path d="M1100.7,575.2L1103.3,577.8L1097.1,584L1094.5,581.4Z" fill="#afafaf"/>
<path d="M1103,577.4L1105.2,579.7L1099,585.9L1096.7,583.7Z" fill="#b0b0b0"/>
<path d="M1076.8,562.9L1079.4,565.5L1073.1,571.8L1070.5,569.2Z" fill="#bfbfbf"/>
<path d="M1079,565.1L1081.7,567.7L1075.4,574L1072.8,571.4Z" fill="#f3f3f3"/>
<path d="M1081.3,567.4L1083.9,570L1077.6,576.3L1075,573.7Z" fill="#f2f2f2"/>
<path d="M1083.6,569.7L1086.2,572.3L1079.9,578.5L1077.3,575.9Z" fill="#f1f1f1"/>
<path d="M1085.8,571.9L1088.4,574.5L1082.2,580.8L1079.6,578.2Z" fill="#e9e9e9"/>
<path d="M1088.1,574.2L1090.7,576.8L1084.4,583L1081.8,580.5Z" fill="#cacaca"/>
<path d="M1090.4,576.4L1093,579L1086.7,585.3L1084.1,582.7Z" fill="#a3a3a3"/>
<path d="M1092.6,578.7L1095.2,581.3L1089,587.6L1086.4,585Z" fill="#969695"/>
<path d="M1094.9,581L1097.5,583.6L1091.3,589.8L1088.6,587.2Z" fill="#afafaf"/>
<path d="M1097.2,583.2L1099.4,585.5L1093.2,591.7L1090.9,589.5Z" fill="#b0b0b0"/>
<path d="M1070.9,568.7L1073.5,571.3L1067.4,577.6L1064.7,575Z" fill="#bfbfbf"/>
<path d="M1073.2,571L1075.8,573.6L1069.7,579.8L1067,577.2Z" fill="#f3f3f3"/>
<path d="M1075.5,573.3L1078.1,575.9L1071.9,582L1069.3,579.5Z" fill="#f2f2f2"/>
<path d="M1077.7,575.5L1080.3,578.1L1074.2,584.3L1071.6,581.7Z" fill="#f1f1f1"/>
<path d="M1080,577.8L1082.6,580.4L1076.5,586.5L1073.9,583.9Z" fill="#e9e9e9"/>
<path d="M1082.3,580L1084.9,582.6L1078.8,588.8L1076.2,586.2Z" fill="#cacaca"/>
<path d="M1084.5,582.3L1087.1,584.9L1081.1,591L1078.4,588.4Z" fill="#a3a3a3"/>
<path d="M1086.8,584.5L1089.4,587.1L1083.4,593.2L1080.7,590.7Z" fill="#969695"/>
<path d="M1089.1,586.8L1091.7,589.4L1085.6,595.5L1083,592.9Z" fill="#afafaf"/>
<path d="M1091.3,589.1L1093.6,591.3L1087.6,597.4L1085.3,595.2Z" fill="#b0b0b0"/>
<path d="M1065.2,574.6L1067.8,577.1L1062,583.1L1059.4,580.5Z" fill="#bfbfbf"/>
<path d="M1067.4,576.8L1070.1,579.4L1064.3,585.3L1061.7,582.8Z" fill="#f3f3f3"/>
<path d="M1069.7,579L1072.4,581.6L1066.6,587.5L1064,585Z" fill="#f2f2f2"/>
<path d="M1072,581.3L1074.6,583.9L1068.9,589.7L1066.3,587.2Z" fill="#f1f1f1"/>
<path d="M1074.3,583.5L1076.9,586.1L1071.2,592L1068.6,589.4Z" fill="#e9e9e9"/>
<path d="M1076.6,585.8L1079.2,588.3L1073.5,594.2L1070.9,591.6Z" fill="#cacaca"/>
<path d="M1078.9,588L1081.5,590.6L1075.8,596.4L1073.2,593.9Z" fill="#a4a4a4"/>
<path d="M1081.2,590.2L1083.8,592.8L1078.1,598.6L1075.5,596.1Z" fill="#969695"/>
<path d="M1083.4,592.5L1086.1,595.1L1080.5,600.8L1077.8,598.3Z" fill="#afafaf"/>
<path d="M1085.7,594.7L1088,597L1082.4,602.7L1080.1,600.5Z" fill="#b0b0b0"/>
<path d="M1059.8,580.1L1062.4,582.7L1056.8,588.6L1054.1,586.1Z" fill="#bfbfbf"/>
<path d="M1062.1,582.3L1064.7,584.9L1059.1,590.8L1056.4,588.3Z" fill="#f3f3f3"/>
<path d="M1064.4,584.5L1067,587.1L1061.4,593L1058.7,590.5Z" fill="#f2f2f2"/>
<path d="M1066.7,586.8L1069.3,589.3L1063.7,595.2L1061.1,592.7Z" fill="#f1f1f1"/>
<path d="M1069,589L1071.6,591.5L1066.1,597.4L1063.4,594.9Z" fill="#e9e9e9"/>
<path d="M1071.3,591.2L1074,593.8L1068.4,599.6L1065.7,597.1Z" fill="#cacaca"/>
<path d="M1073.6,593.4L1076.3,596L1070.7,601.8L1068,599.3Z" fill="#a4a4a4"/>
<path d="M1075.9,595.6L1078.6,598.2L1073,604L1070.4,601.5Z" fill="#969695"/>
<path d="M1078.2,597.9L1080.9,600.4L1075.4,606.2L1072.7,603.7Z" fill="#afafaf"/>
<path d="M1080.5,600.1L1082.8,602.3L1077.3,608.1L1075,605.9Z" fill="#b0b0b0"/>
<path d="M1054.5,585.6L1057.2,588.2L1051.4,594.3L1048.7,591.8Z" fill="#bfbfbf"/>
<path d="M1056.8,587.8L1059.5,590.4L1053.7,596.5L1051,594Z" fill="#f3f3f3"/>
<path d="M1059.2,590L1061.8,592.6L1056,598.7L1053.3,596.2Z" fill="#f2f2f2"/>
<path d="M1061.5,592.2L1064.2,594.8L1058.3,600.9L1055.7,598.4Z" fill="#f1f1f1"/>
<path d="M1063.8,594.4L1066.5,597L1060.7,603.1L1058,600.6Z" fill="#e9e9e9"/>
<path d="M1066.1,596.6L1068.8,599.2L1063,605.3L1060.3,602.8Z" fill="#cacaca"/>
<path d="M1068.4,598.8L1071.1,601.4L1065.3,607.5L1062.7,605Z" fill="#a4a4a4"/>
<path d="M1070.8,601L1073.4,603.6L1067.7,609.7L1065,607.2Z" fill="#969695"/>
<path d="M1073.1,603.2L1075.8,605.8L1070,611.9L1067.3,609.4Z" fill="#afafaf"/>
<path d="M1075.4,605.4L1077.7,607.6L1072,613.7L1069.6,611.5Z" fill="#b0b0b0"/>
<path d="M1049.1,591.4L1051.8,593.9L1045.9,600.2L1043.2,597.7Z" fill="#bfbfbf"/>
<path d="M1051.4,593.6L1054.1,596.1L1048.2,602.4L1045.5,599.8Z" fill="#f3f3f3"/>
<path d="M1053.7,595.8L1056.4,598.3L1050.6,604.5L1047.9,602Z" fill="#f2f2f2"/>
<path d="M1056.1,598L1058.8,600.5L1052.9,606.7L1050.2,604.2Z" fill="#f1f1f1"/>
<path d="M1058.4,600.1L1061.1,602.7L1055.2,608.9L1052.5,606.4Z" fill="#e9e9e9"/>
<path d="M1060.7,602.3L1063.4,604.9L1057.6,611.1L1054.9,608.6Z" fill="#cacaca"/>
<path d="M1063.1,604.5L1065.7,607.1L1059.9,613.3L1057.2,610.8Z" fill="#a4a4a4"/>
<path d="M1065.4,606.7L1068.1,609.2L1062.2,615.5L1059.5,613Z" fill="#969695"/>
<path d="M1067.7,608.9L1070.4,611.4L1064.6,617.7L1061.9,615.2Z" fill="#afafaf"/>
<path d="M1070.1,611.1L1072.4,613.3L1066.6,619.5L1064.2,617.3Z" fill="#b0b0b0"/>
<path d="M1043.6,597.2L1046.3,599.7L1040.5,605.9L1037.8,603.4Z" fill="#bfbfbf"/>
<path d="M1045.9,599.4L1048.6,601.9L1042.8,608.1L1040.1,605.6Z" fill="#f3f3f3"/>
<path d="M1048.3,601.6L1051,604.1L1045.2,610.3L1042.5,607.8Z" fill="#f2f2f2"/>
<path d="M1050.6,603.8L1053.3,606.3L1047.5,612.5L1044.8,610Z" fill="#f1f1f1"/>
<path d="M1052.9,606L1055.6,608.5L1049.8,614.7L1047.2,612.2Z" fill="#e9e9e9"/>
<path d="M1055.3,608.2L1058,610.7L1052.2,616.9L1049.5,614.4Z" fill="#cacaca"/>
<path d="M1057.6,610.3L1060.3,612.9L1054.5,619L1051.8,616.5Z" fill="#a4a4a4"/>
<path d="M1060,612.5L1062.6,615L1056.9,621.2L1054.2,618.7Z" fill="#969695"/>
<path d="M1062.3,614.7L1065,617.2L1059.2,623.4L1056.5,620.9Z" fill="#afafaf"/>
<path d="M1064.6,616.9L1067,619.1L1061.2,625.3L1058.8,623.1Z" fill="#b0b0b0"/>
<path d="M1038.2,603L1040.9,605.5L1035.3,611.5L1032.6,609Z" fill="#bfbfbf"/>
<path d="M1040.5,605.2L1043.2,607.7L1037.7,613.7L1035,611.1Z" fill="#f3f3f3"/>
<path d="M1042.9,607.4L1045.6,609.9L1040,615.8L1037.3,613.3Z" fill="#f2f2f2"/>
<path d="M1045.2,609.5L1047.9,612.1L1042.3,618L1039.6,615.5Z" fill="#f1f1f1"/>
<path d="M1047.6,611.7L1050.3,614.2L1044.7,620.2L1042,617.7Z" fill="#e9e9e9"/>
<path d="M1049.9,613.9L1052.6,616.4L1047,622.4L1044.3,619.9Z" fill="#cacaca"/>
<path d="M1052.2,616.1L1054.9,618.6L1049.4,624.6L1046.7,622.1Z" fill="#a4a4a4"/>
<path d="M1054.6,618.3L1057.3,620.8L1051.7,626.8L1049,624.3Z" fill="#969695"/>
<path d="M1056.9,620.5L1059.6,623L1054,628.9L1051.3,626.4Z" fill="#afafaf"/>
<path d="M1059.3,622.7L1061.6,624.8L1056,630.8L1053.7,628.6Z" fill="#b0b0b0"/>
<path d="M1033,608.5L1035.7,611L1030.5,616.6L1027.8,614.1Z" fill="#bfbfbf"/>
<path d="M1035.4,610.7L1038.1,613.2L1032.9,618.8L1030.2,616.3Z" fill="#f3f3f3"/>
<path d="M1037.7,612.9L1040.4,615.4L1035.2,621L1032.5,618.5Z" fill="#f2f2f2"/>
<path d="M1040.1,615.1L1042.7,617.6L1037.5,623.2L1034.9,620.6Z" fill="#f1f1f1"/>
<path d="M1042.4,617.3L1045.1,619.8L1039.9,625.3L1037.2,622.8Z" fill="#e9e9e9"/>
<path d="M1044.7,619.4L1047.4,622L1042.2,627.5L1039.5,625Z" fill="#cacaca"/>
<path d="M1047.1,621.6L1049.8,624.1L1044.5,629.7L1041.9,627.2Z" fill="#a4a4a4"/>
<path d="M1049.4,623.8L1052.1,626.3L1046.9,631.9L1044.2,629.4Z" fill="#969695"/>
<path d="M1051.8,626L1054.4,628.5L1049.2,634.1L1046.5,631.6Z" fill="#afafaf"/>
<path d="M1054.1,628.2L1056.4,630.4L1051.2,636L1048.9,633.8Z" fill="#b0b0b0"/>
<path d="M1028.3,613.6L1030.9,616.2L1026.3,621.1L1023.6,618.6Z" fill="#bfbfbf"/>
<path d="M1030.6,615.8L1033.3,618.3L1028.6,623.3L1025.9,620.8Z" fill="#f3f3f3"/>
<path d="M1032.9,618L1035.6,620.5L1030.9,625.5L1028.2,623Z" fill="#f2f2f2"/>
<path d="M1035.3,620.2L1038,622.7L1033.3,627.7L1030.6,625.2Z" fill="#f1f1f1"/>
<path d="M1037.6,622.4L1040.3,624.9L1035.6,629.9L1032.9,627.4Z" fill="#e9e9e9"/>
<path d="M1039.9,624.6L1042.6,627.1L1037.9,632.1L1035.2,629.6Z" fill="#cacaca"/>
<path d="M1042.3,626.8L1045,629.3L1040.2,634.3L1037.6,631.8Z" fill="#a4a4a4"/>
<path d="M1044.6,629L1047.3,631.5L1042.6,636.5L1039.9,634Z" fill="#969695"/>
<path d="M1046.9,631.1L1049.6,633.7L1044.9,638.7L1042.2,636.2Z" fill="#afafaf"/>
<path d="M1049.3,633.3L1051.6,635.5L1046.9,640.6L1044.5,638.4Z" fill="#b0b0b0"/>
<path d="M1024,618.2L1026.7,620.7L1022.7,624.9L1020.1,622.3Z" fill="#bfbfbf"/>
<path d="M1026.3,620.4L1029,622.9L1025,627.1L1022.4,624.5Z" fill="#f3f3f3"/>
<path d="M1028.7,622.6L1031.3,625.1L1027.3,629.3L1024.7,626.8Z" fill="#f2f2f2"/>
<path d="M1031,624.8L1033.7,627.3L1029.6,631.5L1027,629Z" fill="#f1f1f1"/>
<path d="M1033.3,627L1036,629.5L1031.9,633.8L1029.3,631.2Z" fill="#e9e9e9"/>
<path d="M1035.6,629.2L1038.3,631.7L1034.2,636L1031.6,633.4Z" fill="#cacaca"/>
<path d="M1038,631.3L1040.6,633.9L1036.5,638.2L1033.9,635.7Z" fill="#a4a4a4"/>
<path d="M1040.3,633.5L1043,636.1L1038.8,640.4L1036.2,637.9Z" fill="#969695"/>
<path d="M1042.6,635.7L1045.3,638.3L1041.1,642.6L1038.5,640.1Z" fill="#afafaf"/>
<path d="M1045,637.9L1047.3,640.1L1043.1,644.5L1040.8,642.3Z" fill="#b0b0b0"/>
<path d="M1020.5,621.9L1023.1,624.4L1016.1,631.7L1013.5,629.1Z" fill="#bfbfbf"/>
<path d="M1022.8,624.1L1025.4,626.7L1018.3,634L1015.7,631.4Z" fill="#f3f3f3"/>
<path d="M1025.1,626.3L1027.7,628.9L1020.6,636.2L1018,633.6Z" fill="#f2f2f2"/>
<path d="M1027.4,628.6L1030,631.1L1022.9,638.5L1020.3,635.9Z" fill="#f1f1f1"/>
<path d="M1029.7,630.8L1032.3,633.3L1025.2,640.7L1022.5,638.1Z" fill="#e9e9e9"/>
<path d="M1032,633L1034.6,635.6L1027.4,643L1024.8,640.4Z" fill="#cacaca"/>
<path d="M1034.3,635.2L1037,637.8L1029.7,645.2L1027.1,642.6Z" fill="#a3a3a3"/>
<path d="M1036.6,637.4L1039.3,640L1032,647.5L1029.4,644.9Z" fill="#969695"/>
<path d="M1038.9,639.7L1041.6,642.2L1034.2,649.7L1031.6,647.1Z" fill="#afafaf"/>
<path d="M1041.2,641.9L1043.5,644.1L1036.2,651.6L1033.9,649.4Z" fill="#b0b0b0"/>
<path d="M1013.9,628.7L1016.5,631.3L1012.4,635.3L1009.8,632.6Z" fill="#bfbfbf"/>
<path d="M1016.1,630.9L1018.8,633.5L1014.6,637.6L1012.1,634.9Z" fill="#f3f3f3"/>
<path d="M1018.4,633.2L1021,635.8L1016.8,639.9L1014.3,637.2Z" fill="#f2f2f2"/>
<path d="M1020.7,635.4L1023.3,638L1019.1,642.2L1016.5,639.5Z" fill="#f1f1f1"/>
<path d="M1023,637.7L1025.6,640.3L1021.3,644.5L1018.7,641.8Z" fill="#e9e9e9"/>
<path d="M1025.2,639.9L1027.9,642.5L1023.5,646.8L1021,644.1Z" fill="#cacaca"/>
<path d="M1027.5,642.2L1030.1,644.8L1025.8,649.1L1023.2,646.4Z" fill="#a3a3a3"/>
<path d="M1029.8,644.5L1032.4,647L1028,651.3L1025.4,648.7Z" fill="#969695"/>
<path d="M1032.1,646.7L1034.7,649.3L1030.2,653.6L1027.7,651Z" fill="#afafaf"/>
<path d="M1034.3,649L1036.6,651.2L1032.1,655.6L1029.9,653.3Z" fill="#b0b0b0"/>
<path d="M1010.3,632.2L1012.8,634.9L1010,637.5L1007.5,634.9Z" fill="#bfbfbf"/>
<path d="M1012.5,634.5L1015,637.2L1012.2,639.8L1009.7,637.2Z" fill="#f3f3f3"/>
<path d="M1014.7,636.8L1017.3,639.4L1014.5,642.1L1011.9,639.5Z" fill="#f2f2f2"/>
<path d="M1016.9,639.1L1019.5,641.7L1016.7,644.5L1014.1,641.8Z" fill="#f1f1f1"/>
<path d="M1019.2,641.4L1021.7,644L1018.9,646.8L1016.3,644.1Z" fill="#e9e9e9"/>
<path d="M1021.4,643.7L1024,646.3L1021.1,649.1L1018.6,646.4Z" fill="#cacaca"/>
<path d="M1023.6,646L1026.2,648.6L1023.3,651.4L1020.8,648.7Z" fill="#a3a3a3"/>
<path d="M1025.9,648.3L1028.4,650.9L1025.6,653.7L1023,651Z" fill="#969695"/>
<path d="M1028.1,650.6L1030.6,653.2L1027.8,656L1025.2,653.3Z" fill="#afafaf"/>
<path d="M1030.3,652.9L1032.5,655.2L1029.7,658L1027.4,655.6Z" fill="#b0b0b0"/>
<path d="M1076.1,346.4L1080.2,346.3L1080.3,351.6L1076.3,351.7Z" fill="#3e3e3e"/>
<path d="M1079.7,346.3L1083.8,346.2L1083.9,351.5L1079.9,351.6Z" fill="#474747"/>
<path d="M1083.4,346.2L1087.4,346.1L1087.6,351.4L1083.5,351.5Z" fill="#5f5f5f"/>
<path d="M1087,346.1L1091,346L1091.2,351.3L1087.1,351.4Z" fill="#727272"/>
<path d="M1090.6,346L1094.7,345.9L1094.8,351.2L1090.7,351.3Z" fill="#838383"/>
<path d="M1094.2,345.9L1098.3,345.8L1098.4,351.1L1094.4,351.2Z" fill="#909090"/>
<path d="M1097.8,345.8L1101.9,345.7L1102.1,351L1098,351.1Z" fill="#979797"/>
<path d="M1101.5,345.7L1105.1,345.6L1105.2,350.9L1101.6,351Z" fill="#949494"/>
<path d="M1076.2,351.1L1080.3,351L1080.5,358.4L1076.4,358.5Z" fill="#3e3e3e"/>
<path d="M1079.9,351L1083.9,350.9L1084.1,358.3L1080.1,358.4Z" fill="#474747"/>
<path d="M1083.5,350.9L1087.5,350.8L1087.7,358.2L1083.7,358.3Z" fill="#5f5f5f"/>
<path d="M1087.1,350.8L1091.2,350.7L1091.4,358.1L1087.3,358.2Z" fill="#727272"/>
<path d="M1090.7,350.7L1094.8,350.6L1095,358L1090.9,358.1Z" fill="#838383"/>
<path d="M1094.4,350.6L1098.4,350.5L1098.6,357.9L1094.6,358.1Z" fill="#909090"/>
<path d="M1098,350.5L1102,350.4L1102.2,357.8L1098.2,358Z" fill="#979797"/>
<path d="M1101.6,350.4L1105.2,350.3L1105.4,357.8L1101.8,357.9Z" fill="#949494"/>
<path d="M1076.4,357.9L1080.5,357.8L1080.7,365.5L1076.6,365.7Z" fill="#3e3e3e"/>
<path d="M1080,357.8L1084.1,357.7L1084.3,365.4L1080.3,365.6Z" fill="#474747"/>
<path d="M1083.7,357.7L1087.7,357.6L1087.9,365.3L1083.9,365.4Z" fill="#5f5f5f"/>
<path d="M1087.3,357.6L1091.3,357.5L1091.6,365.2L1087.5,365.3Z" fill="#727272"/>
<path d="M1090.9,357.5L1095,357.4L1095.2,365.1L1091.1,365.2Z" fill="#838383"/>
<path d="M1094.5,357.5L1098.6,357.3L1098.8,364.9L1094.7,365.1Z" fill="#909090"/>
<path d="M1098.2,357.4L1102.2,357.2L1102.4,364.8L1098.4,365Z" fill="#979797"/>
<path d="M1101.8,357.3L1105.4,357.2L1105.6,364.7L1102,364.8Z" fill="#949494"/>
<path d="M1076.6,365.1L1080.7,365L1081,372.5L1076.9,372.6Z" fill="#3e3e3e"/>
<path d="M1080.2,365L1084.3,364.8L1084.6,372.3L1080.6,372.5Z" fill="#474747"/>
<path d="M1083.9,364.8L1087.9,364.7L1088.2,372.2L1084.2,372.3Z" fill="#5f5f5f"/>
<path d="M1087.5,364.7L1091.5,364.6L1091.8,372L1087.8,372.2Z" fill="#727272"/>
<path d="M1091.1,364.6L1095.2,364.5L1095.5,371.9L1091.4,372.1Z" fill="#838383"/>
<path d="M1094.7,364.5L1098.8,364.3L1099.1,371.7L1095,371.9Z" fill="#909090"/>
<path d="M1098.3,364.4L1102.4,364.2L1102.7,371.6L1098.6,371.8Z" fill="#979797"/>
<path d="M1102,364.2L1105.6,364.1L1105.9,371.5L1102.3,371.6Z" fill="#949494"/>
<path d="M1076.9,372L1081,371.9L1081.3,379.3L1077.2,379.4Z" fill="#3e3e3e"/>
<path d="M1080.5,371.9L1084.6,371.7L1084.9,379.3L1080.8,379.3Z" fill="#474747"/>
<path d="M1084.1,371.7L1088.2,371.6L1088.5,379.2L1084.4,379.3Z" fill="#5f5f5f"/>
<path d="M1087.8,371.6L1091.8,371.4L1092.1,379.1L1088.1,379.2Z" fill="#727272"/>
<path d="M1091.4,371.5L1095.4,371.3L1095.7,379.1L1091.7,379.1Z" fill="#838383"/>
<path d="M1095,371.3L1099.1,371.1L1099.3,379L1095.3,379.1Z" fill="#909090"/>
<path d="M1098.6,371.2L1102.7,371L1103,379L1098.9,379Z" fill="#979797"/>
<path d="M1102.2,371L1105.9,370.9L1106.1,378.9L1102.5,379Z" fill="#949494"/>
<path d="M1077.2,378.8L1081.3,378.7L1081.1,385.6L1077.1,385.5Z" fill="#3e3e3e"/>
<path d="M1080.8,378.7L1084.9,378.7L1084.8,385.8L1080.7,385.6Z" fill="#474747"/>
<path d="M1084.4,378.7L1088.5,378.6L1088.4,385.9L1084.3,385.7Z" fill="#5f5f5f"/>
<path d="M1088,378.6L1092.1,378.5L1092,386L1088,385.9Z" fill="#727272"/>
<path d="M1091.7,378.5L1095.7,378.5L1095.6,386.1L1091.6,386Z" fill="#838383"/>
<path d="M1095.3,378.5L1099.3,378.4L1099.3,386.3L1095.2,386.1Z" fill="#909090"/>
<path d="M1098.9,378.4L1102.9,378.4L1102.9,386.4L1098.8,386.3Z" fill="#979797"/>
<path d="M1102.5,378.4L1106.1,378.3L1106.1,386.5L1102.4,386.4Z" fill="#939393"/>
<path d="M1077.1,384.9L1081.2,385L1080.6,391.5L1076.6,391.1Z" fill="#3e3e3e" fill-opacity="0.98"/>
<path d="M1080.7,385L1084.8,385.2L1084.3,391.9L1080.2,391.5Z" fill="#484848" fill-opacity="0.98"/>
<path d="M1084.4,385.1L1088.4,385.3L1087.9,392.2L1083.8,391.8Z" fill="#5f5f5f" fill-opacity="0.98"/>
<path d="M1088,385.3L1092,385.4L1091.6,392.5L1087.5,392.2Z" fill="#727272" fill-opacity="0.98"/>
<path d="M1091.6,385.4L1095.7,385.5L1095.2,392.9L1091.1,392.5Z" fill="#838383" fill-opacity="0.98"/>
<path d="M1095.2,385.5L1099.3,385.7L1098.8,393.2L1094.8,392.8Z" fill="#8f8f8f" fill-opacity="0.98"/>
<path d="M1098.8,385.7L1102.9,385.8L1102.5,393.5L1098.4,393.2Z" fill="#969696" fill-opacity="0.98"/>
<path d="M1102.5,385.8L1106.1,385.9L1105.7,393.8L1102.1,393.5Z" fill="#929292" fill-opacity="0.98"/>
<path d="M1076.6,390.5L1080.7,390.9L1079.8,396.8L1075.7,396.1Z" fill="#3e3e3e" fill-opacity="0.94"/>
<path d="M1080.3,390.9L1084.3,391.3L1083.5,397.5L1079.4,396.8Z" fill="#494949" fill-opacity="0.94"/>
<path d="M1083.9,391.2L1088,391.6L1087.1,398.2L1083,397.4Z" fill="#606060" fill-opacity="0.94"/>
<path d="M1087.5,391.6L1091.6,391.9L1090.7,398.8L1086.7,398.1Z" fill="#727272" fill-opacity="0.94"/>
<path d="M1091.2,391.9L1095.3,392.3L1094.4,399.5L1090.3,398.7Z" fill="#828282" fill-opacity="0.94"/>
<path d="M1094.8,392.2L1098.9,392.6L1098,400.1L1094,399.4Z" fill="#8e8e8e" fill-opacity="0.94"/>
<path d="M1098.5,392.6L1102.5,392.9L1101.7,400.8L1097.6,400.1Z" fill="#949494" fill-opacity="0.94"/>
<path d="M1102.1,392.9L1105.7,393.2L1104.9,401.4L1101.2,400.7Z" fill="#909090" fill-opacity="0.94"/>
<path d="M1075.8,395.5L1079.9,396.3L1078.6,400.9L1074.7,399.4Z" fill="#3e3e3e" fill-opacity="0.88"/>
<path d="M1079.5,396.2L1083.6,396.9L1082.2,402.2L1078.2,400.7Z" fill="#4c4c4c" fill-opacity="0.88"/>
<path d="M1083.1,396.8L1087.2,397.6L1085.7,403.4L1081.7,402Z" fill="#626262" fill-opacity="0.88"/>
<path d="M1086.8,397.5L1090.9,398.2L1089.2,404.7L1085.3,403.3Z" fill="#737373" fill-opacity="0.88"/>
<path d="M1090.4,398.1L1094.5,398.9L1092.7,406L1088.8,404.6Z" fill="#828282" fill-opacity="0.88"/>
<path d="M1094.1,398.8L1098.1,399.5L1096.3,407.3L1092.3,405.8Z" fill="#8c8c8c" fill-opacity="0.88"/>
<path d="M1097.7,399.5L1101.8,400.2L1099.8,408.6L1095.8,407.1Z" fill="#919191" fill-opacity="0.88"/>
<path d="M1101.4,400.1L1105,400.8L1102.9,409.7L1099.4,408.4Z" fill="#8c8c8c" fill-opacity="0.88"/>
<path d="M1074.9,398.9L1078.8,400.3L1075.5,407.2L1071.8,405.1Z" fill="#3e3e3e" fill-opacity="0.78"/>
<path d="M1078.4,400.2L1082.4,401.6L1078.8,409L1075.1,406.9Z" fill="#505050" fill-opacity="0.78"/>
<path d="M1082,401.4L1085.9,402.9L1082.2,410.9L1078.4,408.8Z" fill="#646464" fill-opacity="0.78"/>
<path d="M1085.5,402.7L1089.4,404.2L1085.5,412.8L1081.8,410.7Z" fill="#747474" fill-opacity="0.78"/>
<path d="M1089,404L1092.9,405.4L1088.8,414.7L1085.1,412.6Z" fill="#818181" fill-opacity="0.78"/>
<path d="M1092.5,405.3L1096.5,406.7L1092.1,416.6L1088.4,414.5Z" fill="#8a8a8a" fill-opacity="0.78"/>
<path d="M1096,406.6L1100,408L1095.4,418.4L1091.7,416.3Z" fill="#8d8d8d" fill-opacity="0.78"/>
<path d="M1099.6,407.8L1103.1,409.1L1098.3,420.1L1095,418.2Z" fill="#858585" fill-opacity="0.78"/>
<path d="M1072.1,404.5L1075.8,406.6L1071.7,412.1L1068.5,409.2Z" fill="#3e3e3e" fill-opacity="0.63"/>
<path d="M1075.4,406.4L1079.1,408.5L1074.6,414.6L1071.4,411.8Z" fill="#555555" fill-opacity="0.63"/>
<path d="M1078.7,408.3L1082.4,410.4L1077.5,417.2L1074.3,414.3Z" fill="#676767" fill-opacity="0.63"/>
<path d="M1082.1,410.2L1085.8,412.3L1080.5,419.8L1077.2,416.9Z" fill="#757575" fill-opacity="0.63"/>
<path d="M1085.4,412L1089.1,414.2L1083.4,422.3L1080.1,419.5Z" fill="#808080" fill-opacity="0.63"/>
<path d="M1088.7,413.9L1092.4,416L1086.3,424.9L1083,422Z" fill="#868686" fill-opacity="0.63"/>
<path d="M1092,415.8L1095.7,417.9L1089.2,427.4L1085.9,424.6Z" fill="#868686" fill-opacity="0.63"/>
<path d="M1095.3,417.7L1098.6,419.6L1091.8,429.7L1088.8,427.1Z" fill="#7d7d7d" fill-opacity="0.63"/>
<path d="M1068.8,408.8L1072.1,411.6L1067.4,415.5L1064.6,412Z" fill="#444444" fill-opacity="0.48"/>
<path d="M1071.8,411.3L1075,414.2L1069.8,418.6L1067.1,415.1Z" fill="#5c5c5c" fill-opacity="0.48"/>
<path d="M1074.7,413.9L1077.9,416.8L1072.2,421.7L1069.5,418.2Z" fill="#6b6b6b" fill-opacity="0.48"/>
<path d="M1077.6,416.4L1080.8,419.3L1074.7,424.8L1071.9,421.3Z" fill="#767676" fill-opacity="0.48"/>
<path d="M1080.5,419L1083.8,421.9L1077.1,427.9L1074.4,424.4Z" fill="#7e7e7e" fill-opacity="0.48"/>
<path d="M1083.4,421.6L1086.7,424.4L1079.5,431L1076.8,427.5Z" fill="#818181" fill-opacity="0.48"/>
<path d="M1086.3,424.1L1089.6,427L1082,434.1L1079.2,430.6Z" fill="#7f7f7f" fill-opacity="0.48"/>
<path d="M1089.2,426.7L1092.2,429.2L1084.1,436.8L1081.7,433.7Z" fill="#727272" fill-opacity="0.48"/>
<path d="M1065.1,411.6L1067.8,415.1L1060.9,419.7L1058.3,416.1Z" fill="#4a4a4a" fill-opacity="0.35"/>
<path d="M1067.5,414.7L1070.3,418.2L1063.2,423L1060.6,419.3Z" fill="#606060" fill-opacity="0.35"/>
<path d="M1070,417.8L1072.7,421.3L1065.5,426.3L1062.9,422.6Z" fill="#6e6e6e" fill-opacity="0.35"/>
<path d="M1072.4,420.9L1075.1,424.4L1067.8,429.5L1065.2,425.9Z" fill="#777777" fill-opacity="0.35"/>
<path d="M1074.8,424L1077.6,427.5L1070.1,432.8L1067.5,429.1Z" fill="#7d7d7d" fill-opacity="0.35"/>
<path d="M1077.3,427.1L1080,430.6L1072.4,436.1L1069.8,432.4Z" fill="#7e7e7e" fill-opacity="0.35"/>
<path d="M1079.7,430.3L1082.4,433.7L1074.7,439.3L1072.1,435.7Z" fill="#7a7a7a" fill-opacity="0.35"/>
<path d="M1082.1,433.4L1084.6,436.5L1076.7,442.2L1074.4,439Z" fill="#6c6c6c" fill-opacity="0.35"/>
<path d="M1058.8,415.7L1061.4,419.4L1054.6,424.2L1052,420.5Z" fill="#4b4b4b" fill-opacity="0.23"/>
<path d="M1061.1,419L1063.7,422.7L1056.9,427.5L1054.3,423.8Z" fill="#616161" fill-opacity="0.23"/>
<path d="M1063.4,422.3L1066,425.9L1059.2,430.8L1056.6,427.1Z" fill="#6e6e6e" fill-opacity="0.23"/>
<path d="M1065.7,425.5L1068.3,429.2L1061.5,434L1058.9,430.4Z" fill="#787878" fill-opacity="0.23"/>
<path d="M1068,428.8L1070.6,432.5L1063.8,437.3L1061.3,433.6Z" fill="#7d7d7d" fill-opacity="0.23"/>
<path d="M1070.3,432.1L1072.9,435.7L1066.2,440.6L1063.6,436.9Z" fill="#7e7e7e" fill-opacity="0.23"/>
<path d="M1072.6,435.3L1075.2,439L1068.5,443.8L1065.9,440.2Z" fill="#797979" fill-opacity="0.23"/>
<path d="M1074.9,438.6L1077.2,441.9L1070.5,446.7L1068.2,443.5Z" fill="#6b6b6b" fill-opacity="0.23"/>
<path d="M1052.5,420.2L1055.1,423.9L1047.8,429L1045.2,425.3Z" fill="#4b4b4b" fill-opacity="0.12"/>
<path d="M1054.8,423.5L1057.4,427.1L1050.1,432.3L1047.5,428.6Z" fill="#616161" fill-opacity="0.12"/>
<path d="M1057.1,426.7L1059.7,430.4L1052.4,435.6L1049.8,431.9Z" fill="#6f6f6f" fill-opacity="0.12"/>
<path d="M1059.4,430L1062,433.7L1054.7,438.8L1052.1,435.2Z" fill="#787878" fill-opacity="0.12"/>
<path d="M1061.7,433.3L1064.3,437L1056.9,442.1L1054.4,438.4Z" fill="#7d7d7d" fill-opacity="0.12"/>
<path d="M1064.1,436.6L1066.7,440.2L1059.2,445.4L1056.7,441.7Z" fill="#7e7e7e" fill-opacity="0.12"/>
<path d="M1066.4,439.8L1069,443.5L1061.5,448.7L1059,445Z" fill="#797979" fill-opacity="0.12"/>
<path d="M1068.7,443.1L1071,446.4L1063.6,451.6L1061.3,448.3Z" fill="#6b6b6b" fill-opacity="0.12"/>
<path d="M1045.7,425L1048.3,428.6L1042.9,432.4L1040.3,428.7Z" fill="#4b4b4b" fill-opacity="0.04"/>
<path d="M1048,428.3L1050.6,431.9L1045.2,435.7L1042.6,432Z" fill="#616161" fill-opacity="0.04"/>
<path d="M1050.3,431.5L1052.9,435.2L1047.5,439L1044.9,435.3Z" fill="#6f6f6f" fill-opacity="0.04"/>
<path d="M1052.6,434.8L1055.1,438.5L1049.8,442.2L1047.2,438.6Z" fill="#787878" fill-opacity="0.04"/>
<path d="M1054.9,438.1L1057.4,441.8L1052.1,445.5L1049.5,441.8Z" fill="#7d7d7d" fill-opacity="0.04"/>
<path d="M1057.2,441.4L1059.7,445.1L1054.4,448.8L1051.8,445.1Z" fill="#7e7e7e" fill-opacity="0.04"/>
<path d="M1059.5,444.7L1062,448.3L1056.7,452.1L1054.1,448.4Z" fill="#797979" fill-opacity="0.04"/>
<path d="M1061.8,447.9L1064.1,451.2L1058.7,455L1056.4,451.7Z" fill="#6b6b6b" fill-opacity="0.04"/>
<path d="M1086.5,404 C1085.6,405.7 1083.6,410.8 1081,414 C1078.4,417.2 1074.8,419.9 1071,423 C1067.2,426.1 1062.5,429.3 1058,432.5 C1053.5,435.7 1046.3,440.4 1044,442" fill="none" stroke="#f2f2f2" stroke-width="6" stroke-linecap="round" opacity="0.75" filter="url(#soft2)"/>
<path d="M1063.2,343.2 L1117.9,342 L1117.9,344.4 L1063.2,345.9Z" fill="#a4a4a4"/>
</g>
<g filter="url(#soft)">
<path d="M800.6,873.9L797.9,877.3L792.9,883.6L788.8,888.6L783.8,894.8L778.5,901.1L774,906.7L769.1,912.5L765,917.5L761.3,921.9L757.1,927L754.8,929.4L751.3,931.9L747.7,934.2L770.3,967.8L775.2,964.4L782.2,958.6L787.9,951.8L792.3,945.5L795.7,940.7L799.4,935.1L803.6,928.7L807.6,922.8L812.2,915.9L816.7,909.2L820.3,903.8L824.9,896.9L827.4,893.1Z" fill="#dfdfdf"/>
<path d="M800.6,873.9L803.7,876.1L800.7,880.1L797.6,877.8Z" fill="#bfbfbf"/>
<path d="M803.3,875.8L806.4,878L803.4,882L800.3,879.8Z" fill="#f3f3f3"/>
<path d="M806,877.7L809,879.9L806.1,884L803,881.7Z" fill="#f2f2f2"/>
<path d="M808.6,879.6L811.7,881.9L808.8,885.9L805.7,883.7Z" fill="#f1f1f1"/>
<path d="M811.3,881.6L814.4,883.8L811.5,887.9L808.4,885.6Z" fill="#e8e8e8"/>
<path d="M814,883.5L817.1,885.7L814.2,889.8L811.1,887.6Z" fill="#cacaca"/>
<path d="M816.7,885.4L819.8,887.6L816.9,891.8L813.8,889.5Z" fill="#a5a5a5"/>
<path d="M819.4,887.4L822.4,889.6L819.6,893.7L816.5,891.5Z" fill="#979796"/>
<path d="M822,889.3L825.1,891.5L822.3,895.7L819.1,893.5Z" fill="#adadad"/>
<path d="M824.7,891.2L827.4,893.1L824.5,897.4L821.8,895.4Z" fill="#b0b0b0"/>
<path d="M797.9,877.3L801,879.6L795.7,886.4L792.5,884.1Z" fill="#bfbfbf"/>
<path d="M800.6,879.3L803.7,881.5L798.4,888.5L795.3,886.1Z" fill="#f3f3f3"/>
<path d="M803.3,881.2L806.4,883.5L801.2,890.5L798,888.2Z" fill="#f2f2f2"/>
<path d="M806,883.2L809.1,885.4L803.9,892.5L800.8,890.2Z" fill="#f1f1f1"/>
<path d="M808.7,885.1L811.8,887.4L806.7,894.5L803.5,892.2Z" fill="#e8e8e8"/>
<path d="M811.4,887.1L814.5,889.3L809.4,896.5L806.2,894.2Z" fill="#cacaca"/>
<path d="M814.1,889.1L817.2,891.3L812.1,898.5L809,896.2Z" fill="#a5a5a5"/>
<path d="M816.8,891L819.9,893.3L814.9,900.5L811.7,898.2Z" fill="#979796"/>
<path d="M819.5,893L822.6,895.2L817.6,902.5L814.5,900.2Z" fill="#adadad"/>
<path d="M822.2,894.9L824.9,896.9L820,904.2L817.2,902.2Z" fill="#b0b0b0"/>
<path d="M792.9,883.6L796,886L791.7,891.5L788.5,889.1Z" fill="#bfbfbf"/>
<path d="M795.6,885.7L798.8,888L794.5,893.5L791.3,891.2Z" fill="#f3f3f3"/>
<path d="M798.4,887.7L801.5,890L797.2,895.6L794,893.2Z" fill="#f2f2f2"/>
<path d="M801.1,889.7L804.3,892L800,897.6L796.8,895.3Z" fill="#f1f1f1"/>
<path d="M803.9,891.7L807,894L802.8,899.7L799.6,897.3Z" fill="#e8e8e8"/>
<path d="M806.6,893.7L809.8,896L805.6,901.8L802.4,899.4Z" fill="#cacaca"/>
<path d="M809.3,895.7L812.5,898L808.4,903.8L805.2,901.5Z" fill="#a5a5a5"/>
<path d="M812.1,897.7L815.2,900L811.2,905.9L808,903.5Z" fill="#979796"/>
<path d="M814.8,899.7L818,902L813.9,907.9L810.7,905.6Z" fill="#adadad"/>
<path d="M817.6,901.7L820.3,903.8L816.3,909.7L813.5,907.6Z" fill="#b0b0b0"/>
<path d="M788.8,888.6L792,891L786.7,897.7L783.4,895.3Z" fill="#bfbfbf"/>
<path d="M791.6,890.7L794.8,893L789.5,899.8L786.2,897.4Z" fill="#f3f3f3"/>
<path d="M794.4,892.7L797.6,895.1L792.4,901.9L789.1,899.5Z" fill="#f2f2f2"/>
<path d="M797.2,894.8L800.4,897.2L795.2,904L791.9,901.6Z" fill="#f1f1f1"/>
<path d="M800,896.9L803.2,899.2L798.1,906.1L794.8,903.7Z" fill="#e8e8e8"/>
<path d="M802.7,898.9L805.9,901.3L800.9,908.2L797.6,905.8Z" fill="#cacaca"/>
<path d="M805.5,901L808.7,903.3L803.7,910.4L800.5,907.9Z" fill="#a5a5a5"/>
<path d="M808.3,903L811.5,905.4L806.6,912.5L803.3,910Z" fill="#979796"/>
<path d="M811.1,905.1L814.3,907.5L809.4,914.6L806.2,912.2Z" fill="#adadad"/>
<path d="M813.9,907.2L816.7,909.2L811.9,916.4L809,914.3Z" fill="#b0b0b0"/>
<path d="M783.8,894.8L787,897.2L781.5,904.1L778.2,901.6Z" fill="#bfbfbf"/>
<path d="M786.6,896.9L789.9,899.3L784.4,906.3L781.1,903.8Z" fill="#f3f3f3"/>
<path d="M789.4,899L792.7,901.4L787.3,908.4L784,905.9Z" fill="#f2f2f2"/>
<path d="M792.3,901.1L795.6,903.5L790.3,910.6L786.9,908.1Z" fill="#f1f1f1"/>
<path d="M795.1,903.2L798.4,905.7L793.2,912.7L789.8,910.3Z" fill="#e8e8e8"/>
<path d="M798,905.3L801.3,907.8L796.1,914.9L792.7,912.4Z" fill="#cacaca"/>
<path d="M800.8,907.4L804.1,909.9L799,917.1L795.6,914.6Z" fill="#a5a5a5"/>
<path d="M803.7,909.6L807,912L801.9,919.2L798.6,916.7Z" fill="#979796"/>
<path d="M806.5,911.7L809.8,914.1L804.8,921.4L801.5,918.9Z" fill="#adadad"/>
<path d="M809.4,913.8L812.2,915.9L807.3,923.2L804.4,921.1Z" fill="#b0b0b0"/>
<path d="M778.5,901.1L781.9,903.6L777,909.7L773.6,907.1Z" fill="#bfbfbf"/>
<path d="M781.4,903.3L784.8,905.8L780,911.9L776.6,909.3Z" fill="#f3f3f3"/>
<path d="M784.4,905.4L787.7,907.9L783,914.1L779.5,911.6Z" fill="#f2f2f2"/>
<path d="M787.3,907.6L790.6,910.1L785.9,916.3L782.5,913.8Z" fill="#f1f1f1"/>
<path d="M790.2,909.8L793.5,912.3L788.9,918.5L785.5,916Z" fill="#e8e8e8"/>
<path d="M793.1,911.9L796.4,914.4L791.9,920.7L788.4,918.2Z" fill="#cacaca"/>
<path d="M796,914.1L799.3,916.6L794.8,922.9L791.4,920.4Z" fill="#a5a5a5"/>
<path d="M798.9,916.3L802.3,918.8L797.8,925.1L794.4,922.6Z" fill="#979796"/>
<path d="M801.8,918.4L805.2,920.9L800.8,927.3L797.3,924.8Z" fill="#adadad"/>
<path d="M804.7,920.6L807.6,922.8L803.3,929.2L800.3,927Z" fill="#b0b0b0"/>
<path d="M774,906.7L777.4,909.2L772.2,915.6L768.7,913Z" fill="#bfbfbf"/>
<path d="M776.9,908.9L780.3,911.4L775.2,917.9L771.8,915.3Z" fill="#f3f3f3"/>
<path d="M779.9,911.1L783.3,913.6L778.3,920.1L774.8,917.5Z" fill="#f2f2f2"/>
<path d="M782.9,913.3L786.3,915.8L781.3,922.4L777.8,919.8Z" fill="#f1f1f1"/>
<path d="M785.8,915.5L789.2,918L784.3,924.7L780.8,922.1Z" fill="#e8e8e8"/>
<path d="M788.8,917.7L792.2,920.2L787.4,926.9L783.9,924.3Z" fill="#cacaca"/>
<path d="M791.8,919.9L795.2,922.4L790.4,929.2L786.9,926.6Z" fill="#a5a5a5"/>
<path d="M794.7,922.1L798.2,924.7L793.4,931.4L789.9,928.8Z" fill="#979796"/>
<path d="M797.7,924.3L801.1,926.9L796.4,933.7L793,931.1Z" fill="#adadad"/>
<path d="M800.7,926.5L803.6,928.7L799,935.6L796,933.4Z" fill="#b0b0b0"/>
<path d="M769.1,912.5L772.6,915.1L768.1,920.7L764.6,918Z" fill="#bfbfbf"/>
<path d="M772.1,914.8L775.6,917.4L771.2,923L767.7,920.3Z" fill="#f3f3f3"/>
<path d="M775.1,917.1L778.6,919.7L774.3,925.3L770.7,922.6Z" fill="#f2f2f2"/>
<path d="M778.2,919.3L781.7,921.9L777.3,927.6L773.8,924.9Z" fill="#f1f1f1"/>
<path d="M781.2,921.6L784.7,924.2L780.4,929.9L776.9,927.3Z" fill="#e8e8e8"/>
<path d="M784.2,923.8L787.7,926.4L783.5,932.2L779.9,929.6Z" fill="#cacaca"/>
<path d="M787.3,926.1L790.7,928.7L786.6,934.5L783,931.9Z" fill="#a5a5a5"/>
<path d="M790.3,928.4L793.8,931L789.6,936.9L786.1,934.2Z" fill="#979796"/>
<path d="M793.3,930.6L796.8,933.2L792.7,939.2L789.2,936.5Z" fill="#adadad"/>
<path d="M796.3,932.9L799.4,935.1L795.3,941.1L792.2,938.8Z" fill="#b0b0b0"/>
<path d="M765,917.5L768.5,920.2L764.5,925.1L760.9,922.4Z" fill="#bfbfbf"/>
<path d="M768,919.8L771.6,922.5L767.6,927.5L764,924.8Z" fill="#f3f3f3"/>
<path d="M771.1,922.1L774.6,924.8L770.7,929.8L767.1,927.1Z" fill="#f2f2f2"/>
<path d="M774.2,924.5L777.7,927.1L773.8,932.2L770.2,929.5Z" fill="#f1f1f1"/>
<path d="M777.2,926.8L780.8,929.4L776.9,934.5L773.3,931.8Z" fill="#e8e8e8"/>
<path d="M780.3,929.1L783.8,931.7L780,936.9L776.4,934.2Z" fill="#cacaca"/>
<path d="M783.4,931.4L786.9,934.1L783.1,939.2L779.5,936.5Z" fill="#a5a5a5"/>
<path d="M786.5,933.7L790,936.4L786.2,941.6L782.7,938.9Z" fill="#979796"/>
<path d="M789.5,936L793.1,938.7L789.3,943.9L785.8,941.2Z" fill="#adadad"/>
<path d="M792.6,938.3L795.7,940.7L792,945.9L788.9,943.6Z" fill="#b0b0b0"/>
<path d="M761.3,921.9L764.8,924.6L760.2,930.3L756.7,927.5Z" fill="#bfbfbf"/>
<path d="M764.4,924.3L767.9,927L763.3,932.8L759.8,929.9Z" fill="#f3f3f3"/>
<path d="M767.5,926.6L771,929.3L766.4,935.3L762.9,932.4Z" fill="#f2f2f2"/>
<path d="M770.6,929L774.2,931.7L769.5,937.8L766,934.9Z" fill="#f1f1f1"/>
<path d="M773.7,931.3L777.3,934.1L772.6,940.3L769,937.4Z" fill="#e8e8e8"/>
<path d="M776.8,933.7L780.4,936.4L775.7,942.7L772.1,939.9Z" fill="#cacaca"/>
<path d="M779.9,936.1L783.5,938.8L778.7,945.2L775.2,942.4Z" fill="#a4a4a4"/>
<path d="M783,938.4L786.6,941.1L781.8,947.7L778.3,944.8Z" fill="#979796"/>
<path d="M786.1,940.8L789.7,943.5L784.9,950.2L781.4,947.3Z" fill="#adadad"/>
<path d="M789.2,943.1L792.3,945.5L787.5,952.3L784.4,949.8Z" fill="#b0b0b0"/>
<path d="M757.1,927L760.6,929.8L757.5,933.2L754.3,929.9Z" fill="#bfbfbf"/>
<path d="M760.2,929.5L763.7,932.3L760.2,936.1L757.1,932.8Z" fill="#f3f3f3"/>
<path d="M763.2,932L766.8,934.8L763,939L759.8,935.7Z" fill="#f2f2f2"/>
<path d="M766.3,934.4L769.9,937.3L765.7,941.9L762.6,938.6Z" fill="#f1f1f1"/>
<path d="M769.4,936.9L773,939.8L768.5,944.8L765.3,941.5Z" fill="#e8e8e8"/>
<path d="M772.5,939.4L776,942.3L771.2,947.8L768.1,944.4Z" fill="#cacaca"/>
<path d="M775.6,941.9L779.1,944.8L774,950.7L770.8,947.3Z" fill="#a4a4a4"/>
<path d="M778.7,944.4L782.2,947.2L776.7,953.6L773.6,950.2Z" fill="#969695"/>
<path d="M781.7,946.9L785.3,949.7L779.4,956.5L776.3,953.1Z" fill="#aeaeae"/>
<path d="M784.8,949.3L787.9,951.8L781.8,959L779,956.1Z" fill="#b0b0b0"/>
<path d="M754.8,929.4L757.9,932.8L753.5,936L750.8,932.3Z" fill="#bfbfbf"/>
<path d="M757.5,932.4L760.7,935.7L755.9,939.3L753.2,935.5Z" fill="#f3f3f3"/>
<path d="M760.3,935.3L763.4,938.6L758.3,942.5L755.6,938.8Z" fill="#f2f2f2"/>
<path d="M763,938.2L766.2,941.5L760.7,945.7L758,942Z" fill="#f1f1f1"/>
<path d="M765.8,941.1L768.9,944.4L763.1,949L760.4,945.3Z" fill="#e9e9e9"/>
<path d="M768.5,944L771.7,947.3L765.5,952.2L762.7,948.5Z" fill="#cacaca"/>
<path d="M771.2,946.9L774.4,950.3L767.9,955.5L765.1,951.7Z" fill="#a3a3a3"/>
<path d="M774,949.8L777.1,953.2L770.3,958.7L767.5,955Z" fill="#969695"/>
<path d="M776.7,952.7L779.9,956.1L772.7,962L769.9,958.2Z" fill="#afafaf"/>
<path d="M779.5,955.6L782.2,958.6L774.7,964.7L772.3,961.5Z" fill="#b0b0b0"/>
<path d="M751.3,931.9L754,935.6L749.8,938.4L747.2,934.6Z" fill="#bfbfbf"/>
<path d="M753.7,935.2L756.4,938.9L752,941.8L749.4,937.9Z" fill="#f3f3f3"/>
<path d="M756.1,938.4L758.8,942.1L754.3,945.1L751.7,941.3Z" fill="#f2f2f2"/>
<path d="M758.4,941.7L761.2,945.4L756.6,948.5L754,944.6Z" fill="#f1f1f1"/>
<path d="M760.8,944.9L763.6,948.6L758.8,951.8L756.2,948Z" fill="#e9e9e9"/>
<path d="M763.2,948.1L766,951.9L761.1,955.2L758.5,951.3Z" fill="#cacaca"/>
<path d="M765.6,951.4L768.4,955.1L763.4,958.6L760.8,954.7Z" fill="#a3a3a3"/>
<path d="M768,954.6L770.8,958.4L765.6,961.9L763,958Z" fill="#969695"/>
<path d="M770.4,957.9L773.2,961.6L767.9,965.3L765.3,961.4Z" fill="#afafaf"/>
<path d="M772.8,961.1L775.2,964.4L769.8,968.1L767.6,964.8Z" fill="#b0b0b0"/>
<path d="M755.7,928.6L752.7,931L750,932.8L747,933.7L740,935.5L733.7,937.2L727.5,938.7L721.7,940L713.5,941.5L705.5,942.8L697.5,944.3L691.7,945.4L708.3,993.6L713.3,991L719.9,987.6L726.6,984.4L734.3,981L740.1,978.7L746,976.4L751,974.5L758.5,972.4L768,969.2L776.5,963.5L781.3,959.4Z" fill="#c4c4c4"/>
<path d="M755.7,928.6L758.7,932.2L754.9,935.1L752.2,931.4Z" fill="#e3e3e3"/>
<path d="M758.3,931.7L761.2,935.2L757.3,938.4L754.6,934.6Z" fill="#eaeaea"/>
<path d="M760.8,934.8L763.8,938.3L759.7,941.6L756.9,937.9Z" fill="#e5e5e5"/>
<path d="M763.4,937.9L766.3,941.4L762.1,944.9L759.3,941.1Z" fill="#dadada"/>
<path d="M765.9,940.9L768.9,944.5L764.5,948.1L761.7,944.4Z" fill="#cccccc"/>
<path d="M768.5,944L771.4,947.5L766.9,951.3L764.1,947.6Z" fill="#bdbdbd"/>
<path d="M771.1,947.1L774,950.6L769.2,954.6L766.5,950.8Z" fill="#adadad"/>
<path d="M773.6,950.1L776.6,953.7L771.6,957.8L768.9,954.1Z" fill="#a3a3a3"/>
<path d="M776.2,953.2L779.1,956.8L774,961.1L771.3,957.3Z" fill="#a8a8a8"/>
<path d="M778.7,956.3L781.3,959.4L776,963.8L773.7,960.6Z" fill="#a8a8a8"/>
<path d="M752.7,931L755.4,934.8L751.6,937.3L749.5,933.1Z" fill="#e1e1e1"/>
<path d="M755,934.3L757.8,938L753.4,940.9L751.3,936.7Z" fill="#e9e9e9"/>
<path d="M757.4,937.5L760.2,941.3L755.1,944.5L753.1,940.4Z" fill="#e4e4e4"/>
<path d="M759.8,940.8L762.6,944.5L756.9,948.2L754.9,944Z" fill="#dadada"/>
<path d="M762.2,944L765,947.7L758.7,951.8L756.7,947.6Z" fill="#cccccc"/>
<path d="M764.6,947.2L767.3,951L760.5,955.4L758.5,951.3Z" fill="#bdbdbd"/>
<path d="M767,950.5L769.7,954.2L762.3,959.1L760.3,954.9Z" fill="#adadad"/>
<path d="M769.4,953.7L772.1,957.5L764.1,962.7L762,958.5Z" fill="#a3a3a3"/>
<path d="M771.8,957L774.5,960.7L765.9,966.3L763.8,962.2Z" fill="#a8a8a8"/>
<path d="M774.1,960.2L776.5,963.5L767.4,969.4L765.6,965.8Z" fill="#a8a8a8"/>
<path d="M750,932.8L752.1,937L747.8,938.4L746.4,933.9Z" fill="#dedede"/>
<path d="M751.8,936.5L753.9,940.6L748.9,942.2L747.6,937.8Z" fill="#e6e6e6"/>
<path d="M753.6,940.1L755.7,944.3L750.1,946.1L748.7,941.7Z" fill="#e2e2e2"/>
<path d="M755.4,943.7L757.5,947.9L751.2,950L749.9,945.5Z" fill="#d9d9d9"/>
<path d="M757.2,947.4L759.3,951.5L752.3,953.8L751,949.4Z" fill="#cccccc"/>
<path d="M759,951L761.1,955.2L753.5,957.7L752.2,953.3Z" fill="#bdbdbd"/>
<path d="M760.8,954.6L762.9,958.8L754.6,961.6L753.3,957.1Z" fill="#aeaeae"/>
<path d="M762.6,958.3L764.6,962.4L755.8,965.5L754.5,961Z" fill="#a3a3a3"/>
<path d="M764.4,961.9L766.4,966.1L756.9,969.3L755.6,964.9Z" fill="#a7a7a7"/>
<path d="M766.2,965.5L768,969.2L757.9,972.6L756.8,968.7Z" fill="#a8a8a8"/>
<path d="M747,933.7L748.3,938.2L740.7,940.2L739.4,935.7Z" fill="#dbdbdb"/>
<path d="M748.2,937.6L749.5,942.1L741.8,944.1L740.5,939.6Z" fill="#e4e4e4"/>
<path d="M749.3,941.5L750.6,945.9L742.9,948L741.6,943.5Z" fill="#e1e1e1"/>
<path d="M750.5,945.4L751.8,949.8L744,951.9L742.7,947.4Z" fill="#d8d8d8"/>
<path d="M751.6,949.2L752.9,953.7L745.1,955.7L743.8,951.3Z" fill="#cccccc"/>
<path d="M752.8,953.1L754.1,957.5L746.2,959.6L744.9,955.2Z" fill="#bdbdbd"/>
<path d="M753.9,957L755.2,961.4L747.3,963.5L746,959.1Z" fill="#aeaeae"/>
<path d="M755,960.8L756.4,965.3L748.4,967.4L747.1,963Z" fill="#a2a2a2"/>
<path d="M756.2,964.7L757.5,969.2L749.5,971.3L748.2,966.9Z" fill="#a7a7a7"/>
<path d="M757.3,968.6L758.5,972.4L750.5,974.6L749.4,970.7Z" fill="#a8a8a8"/>
<path d="M740,935.5L741.2,940L734.6,941.8L733.2,937.3Z" fill="#dcdcdc"/>
<path d="M741.1,939.4L742.3,943.9L735.8,945.8L734.4,941.3Z" fill="#e5e5e5"/>
<path d="M742.2,943.3L743.5,947.8L737,949.7L735.6,945.2Z" fill="#e1e1e1"/>
<path d="M743.3,947.2L744.6,951.7L738.3,953.6L736.8,949.1Z" fill="#d8d8d8"/>
<path d="M744.4,951.1L745.7,955.6L739.5,957.5L738.1,953Z" fill="#cccccc"/>
<path d="M745.5,955L746.8,959.5L740.7,961.4L739.3,956.9Z" fill="#bdbdbd"/>
<path d="M746.6,958.9L747.9,963.4L742,965.4L740.5,960.9Z" fill="#aeaeae"/>
<path d="M747.7,962.8L749,967.3L743.2,969.3L741.8,964.8Z" fill="#a2a2a2"/>
<path d="M748.8,966.7L750.1,971.2L744.4,973.2L743,968.7Z" fill="#a7a7a7"/>
<path d="M749.9,970.6L751,974.5L745.5,976.5L744.2,972.6Z" fill="#a8a8a8"/>
<path d="M733.7,937.2L735.1,941.7L728.4,943.4L726.9,938.8Z" fill="#dcdcdc"/>
<path d="M735,941.1L736.4,945.6L729.6,947.4L728.2,942.8Z" fill="#e5e5e5"/>
<path d="M736.2,945L737.6,949.5L730.9,951.4L729.5,946.8Z" fill="#e1e1e1"/>
<path d="M737.4,948.9L738.8,953.4L732.2,955.4L730.7,950.8Z" fill="#d8d8d8"/>
<path d="M738.6,952.8L740.1,957.3L733.4,959.5L732,954.8Z" fill="#cccccc"/>
<path d="M739.9,956.8L741.3,961.3L734.7,963.5L733.2,958.9Z" fill="#bdbdbd"/>
<path d="M741.1,960.7L742.5,965.2L736,967.5L734.5,962.9Z" fill="#aeaeae"/>
<path d="M742.3,964.6L743.8,969.1L737.2,971.5L735.8,966.9Z" fill="#a2a2a2"/>
<path d="M743.6,968.5L745,973L738.5,975.5L737,970.9Z" fill="#a7a7a7"/>
<path d="M744.8,972.4L746,976.4L739.6,978.9L738.3,974.9Z" fill="#a8a8a8"/>
<path d="M727.5,938.7L729,943.3L722.5,944.9L721.1,940.1Z" fill="#dcdcdc"/>
<path d="M728.8,942.7L730.2,947.3L723.8,949L722.3,944.2Z" fill="#e5e5e5"/>
<path d="M730,946.7L731.5,951.3L725.1,953.1L723.6,948.4Z" fill="#e1e1e1"/>
<path d="M731.3,950.7L732.7,955.3L726.3,957.2L724.9,952.5Z" fill="#d8d8d8"/>
<path d="M732.6,954.7L734,959.3L727.6,961.3L726.2,956.6Z" fill="#cccccc"/>
<path d="M733.8,958.7L735.3,963.3L728.9,965.4L727.4,960.7Z" fill="#bdbdbd"/>
<path d="M735.1,962.7L736.5,967.3L730.2,969.5L728.7,964.8Z" fill="#aeaeae"/>
<path d="M736.3,966.7L737.8,971.3L731.4,973.6L730,968.9Z" fill="#a2a2a2"/>
<path d="M737.6,970.7L739.1,975.3L732.7,977.7L731.2,973Z" fill="#a7a7a7"/>
<path d="M738.9,974.7L740.1,978.7L733.8,981.2L732.5,977.1Z" fill="#a8a8a8"/>
<path d="M721.7,940L723.1,944.7L714.4,946.6L712.9,941.6Z" fill="#dcdcdc"/>
<path d="M722.9,944.1L724.4,948.8L715.7,950.9L714.2,945.9Z" fill="#e5e5e5"/>
<path d="M724.2,948.2L725.7,952.9L717,955.2L715.5,950.2Z" fill="#e1e1e1"/>
<path d="M725.5,952.3L726.9,957L718.4,959.5L716.8,954.5Z" fill="#d8d8d8"/>
<path d="M726.7,956.4L728.2,961.1L719.7,963.7L718.2,958.8Z" fill="#cccccc"/>
<path d="M728,960.5L729.5,965.2L721,968L719.5,963.1Z" fill="#bdbdbd"/>
<path d="M729.3,964.6L730.7,969.3L722.3,972.3L720.8,967.4Z" fill="#aeaeae"/>
<path d="M730.5,968.7L732,973.4L723.6,976.6L722.1,971.7Z" fill="#a2a2a2"/>
<path d="M731.8,972.8L733.3,977.5L724.9,980.9L723.4,976Z" fill="#a7a7a7"/>
<path d="M733.1,976.9L734.3,981L726.1,984.6L724.8,980.3Z" fill="#a8a8a8"/>
<path d="M713.5,941.5L715,946.4L706.6,948.2L704.9,943Z" fill="#dcdcdc"/>
<path d="M714.8,945.8L716.3,950.7L708,952.6L706.4,947.5Z" fill="#e5e5e5"/>
<path d="M716.1,950L717.6,955L709.5,957.1L707.8,952Z" fill="#e1e1e1"/>
<path d="M717.4,954.3L718.9,959.3L710.9,961.6L709.2,956.4Z" fill="#d8d8d8"/>
<path d="M718.7,958.6L720.2,963.6L712.3,966.1L710.7,960.9Z" fill="#cccccc"/>
<path d="M720,962.9L721.6,967.9L713.8,970.5L712.1,965.4Z" fill="#bdbdbd"/>
<path d="M721.4,967.2L722.9,972.2L715.2,975L713.6,969.9Z" fill="#aeaeae"/>
<path d="M722.7,971.5L724.2,976.4L716.7,979.5L715,974.3Z" fill="#a2a2a2"/>
<path d="M724,975.8L725.5,980.7L718.1,984L716.5,978.8Z" fill="#a7a7a7"/>
<path d="M725.3,980.1L726.6,984.4L719.3,987.8L717.9,983.3Z" fill="#a8a8a8"/>
<path d="M705.5,942.8L707.2,948L698.7,949.9L696.9,944.5Z" fill="#dddddd"/>
<path d="M706.9,947.3L708.6,952.4L700.3,954.5L698.5,949.2Z" fill="#e5e5e5"/>
<path d="M708.4,951.8L710,956.9L701.9,959.2L700.1,953.8Z" fill="#e2e2e2"/>
<path d="M709.8,956.3L711.5,961.4L703.5,963.9L701.7,958.5Z" fill="#d8d8d8"/>
<path d="M711.3,960.7L712.9,965.9L705.1,968.5L703.2,963.2Z" fill="#cccccc"/>
<path d="M712.7,965.2L714.4,970.3L706.6,973.2L704.8,967.8Z" fill="#bdbdbd"/>
<path d="M714.1,969.7L715.8,974.8L708.2,977.9L706.4,972.5Z" fill="#aeaeae"/>
<path d="M715.6,974.1L717.2,979.3L709.8,982.5L708,977.2Z" fill="#a2a2a2"/>
<path d="M717,978.6L718.7,983.8L711.4,987.2L709.6,981.8Z" fill="#a7a7a7"/>
<path d="M718.5,983.1L719.9,987.6L712.7,991.2L711.1,986.5Z" fill="#a8a8a8"/>
<path d="M697.5,944.3L699.3,949.7L693,951.1L691.1,945.6Z" fill="#dddddd"/>
<path d="M699.1,949L700.9,954.3L694.7,956L692.8,950.4Z" fill="#e6e6e6"/>
<path d="M700.7,953.6L702.5,959L696.4,960.8L694.5,955.2Z" fill="#e2e2e2"/>
<path d="M702.2,958.3L704.1,963.7L698,965.6L696.1,960.1Z" fill="#d8d8d8"/>
<path d="M703.8,963L705.6,968.3L699.7,970.4L697.8,964.9Z" fill="#cccccc"/>
<path d="M705.4,967.6L707.2,973L701.3,975.2L699.4,969.7Z" fill="#bdbdbd"/>
<path d="M707,972.3L708.8,977.7L703,980.1L701.1,974.5Z" fill="#aeaeae"/>
<path d="M708.6,977L710.4,982.3L704.7,984.9L702.8,979.3Z" fill="#a3a3a3"/>
<path d="M710.1,981.6L711.9,987L706.3,989.7L704.4,984.2Z" fill="#a7a7a7"/>
<path d="M711.7,986.3L713.3,991L707.7,993.8L706.1,989Z" fill="#a8a8a8"/>
<ellipse cx="757.8" cy="918.5" rx="3.2" ry="5.2" transform="rotate(35 757.8 918.5)" fill="#d8d8d8" stroke="#a8a8a8" stroke-width="0.8"/>
</g>
<g filter="url(#soft)">
<path d="M820.6,796.3 C822.2,794.5 837.9,776.6 839.7,774.8 C841.6,772.9 840,773.4 843.1,774.3 C846.1,775.1 873.5,784.2 876.3,785" fill="none" stroke="#7e7e7e" stroke-width="5.4" stroke-linecap="round" stroke-linejoin="round"/>
<path d="M820.6,796.3 C822.2,794.5 837.9,776.6 839.7,774.8 C841.6,772.9 840,773.4 843.1,774.3 C846.1,775.1 873.5,784.2 876.3,785" fill="none" stroke="#dedede" stroke-width="1.7280000000000002" stroke-linecap="round" stroke-linejoin="round"/>
<path d="M919.5,793.9 C924.3,795.3 972.6,809.9 977.6,811.6 C982.6,813.4 980.9,812.6 979.6,814.6 C978.3,816.7 963.8,834.4 962.3,836.2" fill="none" stroke="#7e7e7e" stroke-width="5.4" stroke-linecap="round" stroke-linejoin="round"/>
<path d="M919.5,793.9 C924.3,795.3 972.6,809.9 977.6,811.6 C982.6,813.4 980.9,812.6 979.6,814.6 C978.3,816.7 963.8,834.4 962.3,836.2" fill="none" stroke="#dedede" stroke-width="1.7280000000000002" stroke-linecap="round" stroke-linejoin="round"/>
<path d="M885.1,747.7 L992.5,625.9 L997.8,622.1 L1006.2,620.2 L1013.8,621.3 L1033.6,638.8 L1040.4,647.2 L1042.7,652.5 L933.1,784.2 L910.2,788 L888.9,775.1 L879,761.4Z" fill="url(#g17)" stroke="#a6a6a6" stroke-width="1"/>
<path d="M992.5,625.9 L997.8,622.1 L1006.2,620.2 L1013.8,621.3 L1033.6,638.8 L1040.4,647.2 L1042.7,652.5 L1038.1,650.2 L1029,640.3 L1012.3,625.9 L1003.1,624.4 L995.5,628.2Z" fill="#b5b5b5" opacity="0.55"/>
<path d="M879,761.4 C878.2,758.3 881.1,754.2 882.8,752.3 C884.6,750.3 888.9,747.2 892,746.9 C895,746.6 901.8,748 905.7,750 C909.5,751.9 917.5,758 920.9,761.4 C924.4,764.7 929.9,772 931.6,775.1 C933.2,778.1 933.7,782.2 933.1,784.2 C932.5,786.3 930,789.8 927,790.3 C923.9,790.8 915.3,790.1 910.2,788 C905.2,786 893.1,778.6 888.9,775.1 C884.8,771.5 879.8,764.4 879,761.4Z" fill="url(#g18)"/>
<path d="M885.1,747.7 C886.8,747.3 894.5,744.2 898.1,744.6 C901.6,745 908.3,748.3 911.8,750.7 C915.2,753.2 921.2,759.5 923.9,762.9 C926.7,766.4 931.1,773.8 932.3,776.6 C933.5,779.5 933,783.2 933.1,784.2" fill="none" stroke="#b0b0b0" stroke-width="1.6"/>
<ellipse cx="907.5" cy="766.5" rx="16" ry="8" transform="rotate(40 907.5 766.5)" fill="#e6e6e6" stroke="#fbfbfb" stroke-width="2.2"/>
<path d="M918,771 L922,777" fill="none" stroke="#6a6a6a" stroke-width="2.2" stroke-linecap="round"/>
<path d="M957.4,715.7 L960.5,737" fill="none" stroke="#9a9a9a" stroke-width="1" opacity="0.6"/>
<path d="M966.6,721.8 L965.1,741.6" fill="none" stroke="#9a9a9a" stroke-width="1" opacity="0.6"/>
<path d="M977.2,711.1 L972.7,734" fill="none" stroke="#9a9a9a" stroke-width="1" opacity="0.6"/>
<path d="M986.4,685.3 L990.9,706.6" fill="none" stroke="#9a9a9a" stroke-width="1" opacity="0.6"/>
</g>
<g filter="url(#soft)">
<path d="M895,761 C891.4,760.4 889.1,768.8 887.4,771.1 C885.6,773.5 880,782.4 877.5,784.5 C875,786.6 864.9,790.8 862,792 C859.1,793.2 850.7,795.7 848.4,796.9 C846.1,798.1 840.9,801.9 838.8,803.8 C836.7,805.7 830.9,812.5 827.7,816.3 C824.5,820.1 809.7,838.3 806.9,841.9 C804.1,845.5 800.9,850.5 800,852 C799.1,853.5 798,855.6 797.7,857 C797.4,858.4 797.2,863.8 796.6,866.3 C796,868.8 789.9,878.5 792.1,881.8 C794.3,885.1 814.7,898.1 818.7,899.5 C822.7,900.9 829.1,897.2 832,896.2 C834.9,895.2 845,890.8 847.5,889.6 C850,888.4 854.8,886 857,884 C859.2,882 865.9,873.8 869.2,869.6 C872.5,865.4 887.2,846 890,841.9 C892.8,837.8 896,831.6 896.9,828.8 C897.8,826 898.3,816.2 899,814 C899.7,811.8 901.7,809.9 903.5,807 C905.3,804.1 915.3,788.5 917.3,785.5 C919.2,782.5 925.2,779.5 923,777 C920.8,774.5 898.6,761.6 895,761Z" fill="url(#g19)" stroke="#9c9c9c" stroke-width="0.9"/>
<path d="M806.9,841.9 C804.5,842.8 800.9,850.5 800,852 C799.1,853.5 798,855.6 797.7,857 C797.4,858.4 797.2,863.8 796.6,866.3 C796,868.8 789.9,878.5 792.1,881.8 C794.3,885.1 814.7,898.1 818.7,899.5 C822.7,900.9 829.1,897.2 832,896.2 C834.9,895.2 845,890.8 847.5,889.6 C850,888.4 855.5,885.2 857,884 C858.5,882.8 862.3,879 862,878 C861.7,877 856,876 854,873.7 C851.9,871.5 844.5,858.8 841.5,855.7 C838.5,852.7 827.7,844.3 824.2,842.9 C820.8,841.6 809.3,841 806.9,841.9Z" fill="#a6a6a6" opacity="0.55"/>
<path d="M804.2,850.9 C807,849.3 817.4,851.3 820.8,852.3 C824.2,853.3 831.1,857.5 833.2,859.2 C835.3,860.9 839.2,864.8 838.8,866.8 C838.3,868.8 831.5,873.8 829.1,876.5 C826.6,879.2 820.9,887.2 818,889.7 C815.1,892.2 806.7,898 804.2,898 C801.6,898 796.7,893.4 795.8,889.7 C795,885.9 795.6,870.6 796.5,866.1 C797.5,861.6 801.3,852.5 804.2,850.9Z" fill="#ebebeb" opacity="0.8"/>
<path d="M832.5,866.8 C834.9,865.1 841.6,864.2 844.3,865.4 C847,866.6 851.7,873 852.6,875.8 C853.5,878.7 853.1,884.3 851.2,886.9 C849.4,889.5 841.9,894.3 838.8,895.2 C835.6,896.1 829.3,896 827.7,893.8 C826,891.6 825.7,882.2 826.3,878.6 C826.9,875 830.1,868.6 832.5,866.8Z" fill="#858585" opacity="0.75"/>
<path d="M807.6,841.6 C809.8,841.7 819.7,841 824.2,842.9 C828.7,844.8 837.6,851.6 841.5,855.7 C845.5,859.9 852,870.4 854,873.7 C855.9,877.1 855.8,879.7 856.1,880.7" fill="none" stroke="#8c8c8c" stroke-width="1.5"/>
<path d="M838.8,803.8 C841,803.6 850.4,801.2 855.4,801.8 C860.3,802.3 870.6,804.4 876.1,808 C881.7,811.6 894.1,826 896.9,828.8" fill="none" stroke="#b0b0b0" stroke-width="1"/>
</g>
<g filter="url(#soft)">
<path d="M603.3,982 C601.6,978.8 605.4,978.3 606.6,976.5 C607.8,974.7 612.7,966.6 615.5,964.3 C618.2,962 630.2,955.2 634.3,953.2 C638.4,951.2 652.2,945.6 656.4,944.4 C660.7,943.1 673.1,940.9 676.4,940.5 C679.7,940 687.1,939.6 689.7,939.9 C692.2,940.3 699.8,943 701.8,943.8 C703.9,944.6 708.5,945.6 710.2,947.7 C711.8,949.7 717.1,961.2 718.5,964.3 C719.8,967.4 723.1,976.4 723.4,978.7 C723.8,981 722.4,986 721.8,987.6 C721.2,989.1 718.9,992.6 717.4,994.2 C715.8,995.7 709,1001.4 706.3,1003.1 C703.5,1004.7 694.1,1009.1 689.7,1010.8 C685.2,1012.5 666.4,1018.3 662,1019.7 C657.6,1021 647.7,1023.5 645.4,1024.1 C643,1024.7 640.9,1027.3 638.7,1025.8 C636.5,1024.2 626.8,1013 623.2,1008.6 C619.7,1004.2 605,985.2 603.3,982Z" fill="url(#g20)"/>
<path d="M700.7,943.5 C700.8,941.5 708.1,945.3 710.2,947.7 C712.2,950.1 716.9,960.7 718.5,964.3 C720,967.9 723.1,976 723.4,978.7 C723.8,981.4 722.5,985.7 721.8,987.6 C721.1,989.4 718.3,994.8 717.4,994.2 C716.4,993.6 714.9,985.5 714,982 C713.1,978.5 711.2,968.8 709.6,964.3 C708.1,959.8 700.7,945.4 700.7,943.5Z" fill="#c6c6c6" opacity="0.7"/>
<path d="M603.3,982 C601.6,978.8 605.4,978.3 606.6,976.5 C607.8,974.7 612.7,966.6 615.5,964.3 C618.2,962 631.6,953.9 634.3,953.2 C637,952.5 640.2,955.4 642,957.1 C643.9,958.8 651,967.3 653.1,969.8 C655.3,972.3 662.1,979.2 663.6,982 C665.1,984.8 667.9,994.6 668.1,997.5 C668.2,1000.4 666,1008.6 665.3,1010.8 C664.6,1013 662.9,1017.8 660.9,1019.1 C658.9,1020.4 647.6,1023.4 645.4,1024.1 C643.2,1024.8 640.9,1027.3 638.7,1025.8 C636.5,1024.2 626.8,1013 623.2,1008.6 C619.7,1004.2 605,985.2 603.3,982Z" fill="url(#g21)"/>
<ellipse cx="634" cy="976" rx="9" ry="16" transform="rotate(38 634 976)" fill="url(#g22)"/>
<ellipse cx="646" cy="1003" rx="11" ry="15" transform="rotate(20 646 1003)" fill="url(#g23)"/>
<path d="M642,957.1 C643.5,958.8 650.2,966.5 653.1,969.8 C656,973.2 661.7,978.3 663.6,982 C665.6,985.7 667.9,993.7 668.1,997.5 C668.3,1001.4 666.3,1007.9 665.3,1010.8 C664.3,1013.7 661.5,1018 660.9,1019.1" fill="none" stroke="#dedede" stroke-width="2.4"/>
<path d="M645.4,955.7 C646.8,957.4 653.6,965.3 656.4,968.7 C659.3,972.2 665,977.6 667,981.5 C669,985.3 671.2,993.6 671.4,997.5 C671.6,1001.4 669.6,1008 668.6,1010.8 C667.6,1013.6 664.6,1017.3 664,1018.3" fill="none" stroke="#9a9a9a" stroke-width="1.1"/>
</g>
<g filter="url(#soft)">
<path d="M536,992 C536.4,990.7 537.3,988.9 541.9,987.1 C546.4,985.2 576.7,975 581.7,973.8 C586.7,972.5 590,974 591.7,974.6 C593.4,975.2 593.7,974.2 598.3,979.6 C603,985 634,1023 638.2,1028.6 C642.4,1034.1 640.2,1034 640.2,1035.2 C640.2,1036.5 642.9,1039.2 638.2,1041 C633.5,1042.8 598.7,1052 593.4,1053.2 C588,1054.3 586.5,1053.1 585,1052.7 C583.6,1052.2 583.9,1053.7 579.2,1048.5 C574.6,1043.3 542.9,1006 538.5,1000.3 C534.2,994.7 535.7,993.4 536,992Z" fill="#d6d6d6"/>
<path d="M537.2,989.8 C537.6,988.5 538.5,986.7 543.1,984.9 C547.6,983 577.9,972.8 582.9,971.6 C587.9,970.3 591.2,971.8 592.9,972.4 C594.6,973 594.9,972 599.5,977.4 C604.2,982.8 635.2,1020.8 639.4,1026.4 C643.6,1031.9 641.4,1031.8 641.4,1033 C641.4,1034.3 644.1,1037 639.4,1038.8 C634.7,1040.6 599.9,1049.8 594.6,1051 C589.2,1052.1 587.7,1050.9 586.2,1050.5 C584.8,1050 585.1,1051.5 580.4,1046.3 C575.8,1041.1 544.1,1003.8 539.7,998.1 C535.4,992.5 536.9,991.2 537.2,989.8Z" fill="url(#g24)"/>
<ellipse cx="587.5" cy="1013.5" rx="22" ry="30" transform="rotate(-22 587.5 1013.5)" fill="url(#g25)"/>
<ellipse cx="590.5" cy="1016" rx="17" ry="25" transform="rotate(-22 590.5 1016)" fill="url(#g26)"/>
<ellipse cx="596.5" cy="1008.5" rx="13" ry="20.5" transform="rotate(-20 596.5 1008.5)" fill="#050505"/>
<ellipse cx="546.6" cy="995" rx="3.2" ry="5" transform="rotate(-25 546.6 995)" fill="#ededed"/>
<ellipse cx="631" cy="1030.5" rx="3.4" ry="5" transform="rotate(-25 631 1030.5)" fill="#ededed"/>
<ellipse cx="514" cy="1032" rx="23" ry="31" transform="rotate(-20 514 1032)" fill="none" stroke="#4e4e4e" stroke-width="4.6"/>
<ellipse cx="515.5" cy="1031.5" rx="21" ry="29" transform="rotate(-20 515.5 1031.5)" fill="none" stroke="#8d8d8d" stroke-width="1.6"/>
</g>
<text x="647.3" y="515.7" font-size="49.5" textLength="238.3" lengthAdjust="spacingAndGlyphs" stroke="#fff" stroke-width="0.5">Resonator</text>
<text x="1209.2" y="625.1" font-size="49.5" textLength="102.5" lengthAdjust="spacingAndGlyphs" stroke="#fff" stroke-width="0.5">Pipe</text>
<text x="843.1" y="1070.3" font-size="49.5" textLength="216" lengthAdjust="spacingAndGlyphs" stroke="#fff" stroke-width="0.5">Catalytic</text>
<text x="832.3" y="1133.4" font-size="49.5" textLength="236.2" lengthAdjust="spacingAndGlyphs" stroke="#fff" stroke-width="0.5">Converter</text>
<path d="M804.7,551.9 C805.3,552.2 806.5,553.5 807.5,555.4 C808.4,557.2 810.3,562.2 811.6,565.1 C813,568 815.4,573 817.1,576.1 C818.9,579.2 821.9,584 824.1,587.2 C826.2,590.4 829.7,595.6 832.4,599 C835.1,602.4 840.3,608.1 843.4,611.4 C846.5,614.7 851.6,619.8 854.5,622.5 C857.4,625.2 861.4,628.5 864.2,630.8 C867,633.2 873.3,639.4 874.3,639.3 C875.2,639.2 871.8,632.7 870.9,630.1 C869.9,627.4 867.6,622.4 867.3,620.4 C866.9,618.4 867.7,617.7 868.5,616 C869.2,614.4 871.1,607.9 872.3,608.8 C873.5,609.6 875.1,618.1 877.2,622.3 C879.2,626.5 884.1,634.5 886.9,638.8 C889.6,643.1 894.5,650.3 896.5,653.3 C898.6,656.3 901.2,657.8 901.4,660.1 C901.5,662.4 899.5,668.8 897.5,669.8 C895.5,670.8 890.4,667.8 886.9,667.4 C883.3,667 876.4,666.6 872.3,666.9 C868.3,667.1 861.2,668.4 857.8,669.3 C854.4,670.2 850.2,672.4 848.1,673.2 C846,674 843.9,675.2 842.8,675.1 C841.7,675 840.4,673.8 840.4,672.7 C840.3,671.5 841.2,668.4 842.3,666.9 C843.4,665.4 845.7,663.3 848.1,662 C850.6,660.7 855.9,658.7 859.7,657.7 C863.5,656.7 875.8,657.9 875.2,654.8 C874.7,651.7 860,639.7 855.9,635.7 C851.8,631.6 849,628.9 846.2,626 C843.4,623.1 838.6,618.1 835.8,614.9 C833,611.7 828.6,606.3 826.1,603.1 C823.7,599.9 820.5,595.2 818.5,592.1 C816.6,589 813.9,584.1 812.3,581 C810.8,577.9 808.6,572.8 807.5,569.9 C806.3,567 804.9,562.6 804.3,560.2 C803.8,557.9 803.3,554.5 803.3,553.3 C803.4,552.1 804.1,551.6 804.7,551.9Z" fill="#000"/>
<path d="M1203.9,495.9 C1204.6,496.4 1207.2,499.2 1207.5,500.8 C1207.9,502.3 1207.9,506.8 1207.1,509.1 C1206.4,511.3 1202.9,517.3 1200.9,520.1 C1198.9,523 1188.9,531.8 1189.8,533.3 C1190.8,534.8 1204.5,533 1209.2,533.3 C1213.9,533.5 1225.1,534.6 1230,535.4 C1234.8,536.1 1245.9,538.2 1250.7,539.5 C1255.6,540.8 1267,544.6 1271.5,546.4 C1276,548.3 1285.6,553.2 1289.5,555.4 C1293.4,557.7 1302.6,564.2 1304.7,565.8 C1306.8,567.4 1307.3,568.6 1307.5,569.3 C1307.6,569.9 1307.9,572.1 1306.1,571.3 C1304.3,570.6 1296.3,565.1 1292.2,563 C1288.2,560.9 1276.3,555.2 1271.5,553.4 C1266.6,551.5 1255.6,548.3 1250.7,547.1 C1245.9,545.9 1234.8,543.6 1230,543 C1225.1,542.3 1212.9,541.5 1209.2,541.6 C1205.5,541.7 1198.5,543.2 1198.1,543.9 C1197.8,544.7 1204.3,546.6 1206.4,547.8 C1208.5,549 1214.6,551.9 1216.1,554 C1217.7,556.2 1219.4,565.1 1219.6,566.5 C1219.7,568 1219.5,567.4 1217.5,566.5 C1215.5,565.6 1206,560.7 1202.3,558.9 C1198.6,557.1 1190,553 1185.7,551.3 C1181.4,549.6 1168.4,546.2 1165.6,544.4 C1162.9,542.5 1162.3,536.8 1162.1,535.4 C1162,534 1162.3,533.4 1164.2,532.3 C1166.2,531.2 1175.6,527.7 1178.8,525.7 C1181.9,523.6 1188.8,517.5 1191.2,514.6 C1193.6,511.7 1198.3,502.9 1199.5,500.8 C1200.7,498.7 1201.1,497.2 1201.6,496.6 C1202.1,496 1203.3,495.4 1203.9,495.9Z" fill="#000"/>
<path d="M871.6,930.1 C872.2,930.5 873.8,933.7 873.7,935.3 C873.6,936.9 872.2,941.7 870.6,943.6 C869,945.5 863.2,950 860.2,951.9 C857.2,953.8 843.7,958.1 844.6,960.2 C845.6,962.3 862.8,966.6 868.5,969.5 C874.2,972.5 887.9,981.1 893.4,985.1 C899,989.1 911.7,999.7 916.3,1003.8 C920.9,1007.9 929.7,1017 932.9,1020.4 C936,1023.8 942.1,1031.1 943.3,1032.9 C944.4,1034.7 945,1037.4 942.8,1036 C940.7,1034.5 929.1,1024.4 924.6,1020.4 C920,1016.4 908.6,1005.6 903.8,1001.7 C899,997.9 887.9,990.2 883,987.2 C878.2,984.2 866,977.6 862.3,975.8 C858.5,974 851.6,971 850.9,971.6 C850.1,972.2 854.6,978.8 856.1,981 C857.5,983.1 862.6,987.9 863.3,990.3 C864,992.7 864.1,1002.1 862.3,1001.7 C860.5,1001.4 851.1,990.6 847.8,987.2 C844.4,983.8 836.5,975.7 833.2,972.7 C829.9,969.6 821.4,963.4 819.7,961.2 C818,959.1 818.6,955.3 818.7,954 C818.8,952.6 818.1,950.4 820.8,949.8 C823.4,949.2 837.2,949.8 841.5,948.8 C845.9,947.8 855,943.5 858.1,941.5 C861.3,939.6 866.9,933.5 868.5,932.2 C870.1,930.8 871,929.7 871.6,930.1Z" fill="#000"/>
</svg>
</body></html>
